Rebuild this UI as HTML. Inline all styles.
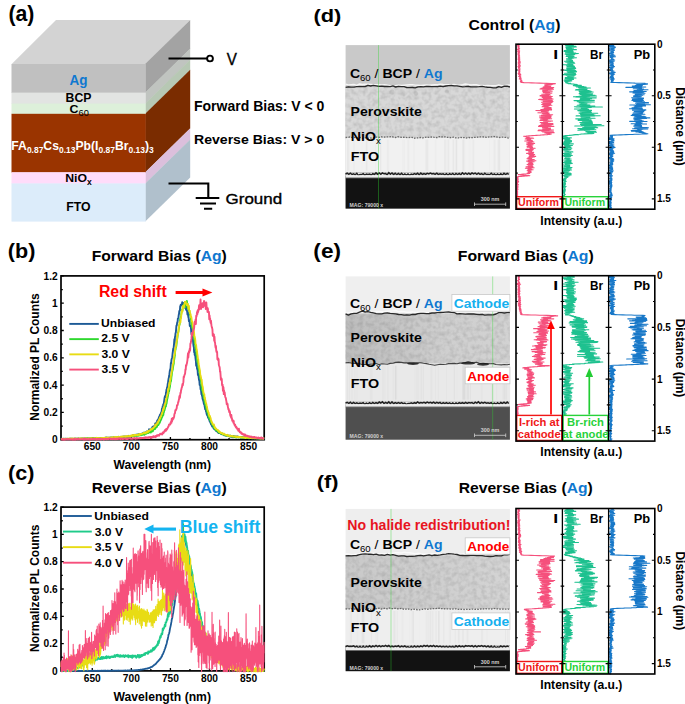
<!DOCTYPE html>
<html><head><meta charset="utf-8"><style>
html,body{margin:0;padding:0;background:#fff;overflow:hidden;}
svg{display:block;}
text{font-family:"Liberation Sans",sans-serif;}
</style></head><body>
<svg width="685" height="704" viewBox="0 0 685 704" font-family="Liberation Sans, sans-serif">
<defs><filter id="tex" x="0" y="0" width="1" height="1" filterUnits="objectBoundingBox"><feTurbulence type="fractalNoise" baseFrequency="0.22" numOctaves="2" seed="5"/><feColorMatrix type="matrix" values="0 0 0 0 0  0 0 0 0 0  0 0 0 0 0  0.22 0 0 0 -0.08"/></filter></defs>
<rect width="685" height="704" fill="#fff"/>
<polygon points="11.5,64.3 56.0,20 190.2,20 146.2,64.3" fill="#d3d3d3"/>
<polygon points="145.2,64 190.2,20 190.2,48.99999999999999 145.2,93.0" fill="#a3a3a3"/>
<polygon points="145.2,92.6 190.2,48.599999999999994 190.2,59.99999999999999 145.2,104.0" fill="#c0c4c0"/>
<polygon points="145.2,103.6 190.2,59.599999999999994 190.2,70.2 145.2,114.2" fill="#b7c8b4"/>
<polygon points="145.2,113.8 190.2,69.8 190.2,128.6 145.2,172.6" fill="#7a2c00"/>
<polygon points="145.2,172.2 190.2,128.2 190.2,139.8 145.2,183.8" fill="#dcbfdc"/>
<polygon points="145.2,183.4 190.2,139.4 190.2,177.6 145.2,221.6" fill="#b0c0cc"/>
<rect x="11.5" y="64" width="134.2" height="28.999999999999993" fill="#c0c0c0"/>
<rect x="11.5" y="92.6" width="134.2" height="11.4" fill="#e2e4e2"/>
<rect x="11.5" y="103.6" width="134.2" height="10.600000000000003" fill="#ddf0da"/>
<rect x="11.5" y="113.8" width="134.2" height="58.79999999999999" fill="#9a3400"/>
<rect x="11.5" y="172.2" width="134.2" height="11.600000000000017" fill="#ffdcfa"/>
<rect x="11.5" y="183.4" width="134.2" height="38.19999999999998" fill="#dcecfa"/>
<text x="69.60" y="85.00" font-size="14.49" font-weight="bold" fill="#0f78d0" textLength="17.99" lengthAdjust="spacingAndGlyphs" >Ag</text>
<text x="65.64" y="102.20" font-size="12.17" font-weight="bold" fill="#000" textLength="25.86" lengthAdjust="spacingAndGlyphs" >BCP</text>
<text x="69.6" y="113" font-size="11.8" font-weight="bold" transform="translate(69.6,0) scale(1.05,1) translate(-69.6,0)">C<tspan font-size="8.8" font-weight="normal" dy="2.6">60</tspan></text>
<text x="11.3" y="149.6" font-size="12.4" font-weight="bold" fill="#fff" transform="translate(11.3,0) scale(0.985,1) translate(-11.3,0)">FA<tspan font-size="8.6" dy="3">0.87</tspan><tspan dy="-3">Cs</tspan><tspan font-size="8.6" dy="3">0.13</tspan><tspan dy="-3">Pb(I</tspan><tspan font-size="8.6" dy="3">0.87</tspan><tspan dy="-3">Br</tspan><tspan font-size="8.6" dy="3">0.13</tspan><tspan dy="-3">)</tspan><tspan font-size="8.6" dy="3">3</tspan></text>
<text x="65.2" y="181.9" font-size="11.8" font-weight="bold" transform="translate(65.2,0) scale(1.04,1) translate(-65.2,0)">NiO<tspan font-size="8.2" dy="3">x</tspan></text>
<text x="66.14" y="211.00" font-size="12.32" font-weight="bold" fill="#000" textLength="24.37" lengthAdjust="spacingAndGlyphs" >FTO</text>
<path d="M168.5,58.5 H207.2" stroke="#000" stroke-width="2.1" fill="none"/>
<circle cx="210" cy="58.5" r="2.9" stroke="#000" stroke-width="1.9" fill="#fff"/>
<text x="226.75" y="64.70" font-size="16.81" font-weight="normal" fill="#000" textLength="10.16" lengthAdjust="spacingAndGlyphs" stroke="#000" stroke-width="0.4">V</text>
<text x="194.02" y="111.40" font-size="14.06" font-weight="bold" fill="#000" textLength="130.32" lengthAdjust="spacingAndGlyphs" >Forward Bias: V &lt; 0</text>
<text x="194.01" y="144.40" font-size="13.33" font-weight="bold" fill="#000" textLength="130.28" lengthAdjust="spacingAndGlyphs" >Reverse Bias: V &gt; 0</text>
<path d="M168.5,183.5 H208.3 V198" stroke="#000" stroke-width="2.1" fill="none" stroke-linejoin="miter"/>
<path d="M195.7,198 H219.3 M200,203.4 H216 M204,208.8 H212.2" stroke="#000" stroke-width="2" fill="none"/>
<text x="225.55" y="204.20" font-size="14.49" font-weight="normal" fill="#000" textLength="56.55" lengthAdjust="spacingAndGlyphs" stroke="#000" stroke-width="0.35">Ground</text>
<text x="8.44" y="20.95" font-size="21.18" font-weight="bold" fill="#000" textLength="25.97" lengthAdjust="spacingAndGlyphs" >(a)</text>
<text x="52.00" y="443.30" font-size="10.2" font-weight="bold">0</text>
<text x="43.53" y="416.00" font-size="10.2" font-weight="bold">0.2</text>
<text x="43.22" y="388.70" font-size="10.2" font-weight="bold">0.4</text>
<text x="43.53" y="361.40" font-size="10.2" font-weight="bold">0.6</text>
<text x="43.43" y="334.10" font-size="10.2" font-weight="bold">0.8</text>
<text x="51.89" y="306.80" font-size="10.2" font-weight="bold">1</text>
<text x="43.53" y="279.50" font-size="10.2" font-weight="bold">1.2</text>
<text x="92.26" y="450.30" font-size="10.2" font-weight="bold" text-anchor="middle">650</text>
<text x="131.34" y="450.30" font-size="10.2" font-weight="bold" text-anchor="middle">700</text>
<text x="170.42" y="450.30" font-size="10.2" font-weight="bold" text-anchor="middle">750</text>
<text x="209.49" y="450.30" font-size="10.2" font-weight="bold" text-anchor="middle">800</text>
<text x="248.57" y="450.30" font-size="10.2" font-weight="bold" text-anchor="middle">850</text>
<path d="M61,439.70 h2.8 M61,412.40 h2.8 M61,385.10 h2.8 M61,357.80 h2.8 M61,330.50 h2.8 M61,303.20 h2.8 M61,275.90 h2.8 M61,426.05 h1.8 M61,398.75 h1.8 M61,371.45 h1.8 M61,344.15 h1.8 M61,316.85 h1.8 M61,289.55 h1.8 M92.26,439.7 v-2.8 M131.34,439.7 v-2.8 M170.42,439.7 v-2.8 M209.49,439.7 v-2.8 M248.57,439.7 v-2.8 M72.72,439.7 v-1.8 M111.80,439.7 v-1.8 M150.88,439.7 v-1.8 M189.95,439.7 v-1.8 M229.03,439.7 v-1.8" stroke="#000" stroke-width="1.3" fill="none"/>
<rect x="61" y="275.9" width="203.2" height="163.8" fill="none" stroke="#000" stroke-width="1.7"/>
<polyline points="61.00,438.98 61.29,438.76 61.58,438.77 61.87,439.06 62.16,439.02 62.45,439.05 62.74,438.87 63.03,438.97 63.33,438.83 63.62,439.25 63.91,438.69 64.20,438.96 64.49,438.83 64.78,438.96 65.07,438.99 65.36,438.85 65.65,438.79 65.94,438.95 66.23,438.94 66.52,438.80 66.81,439.05 67.10,439.15 67.40,438.84 67.69,439.01 67.98,439.21 68.27,439.02 68.56,438.96 68.85,439.08 69.14,439.12 69.43,438.87 69.72,438.72 70.01,438.90 70.30,438.98 70.59,438.79 70.88,438.73 71.17,438.90 71.47,438.75 71.76,438.67 72.05,438.87 72.34,438.96 72.63,438.77 72.92,438.78 73.21,438.64 73.50,439.02 73.79,438.91 74.08,438.94 74.37,439.08 74.66,438.77 74.95,438.70 75.24,438.90 75.54,438.55 75.83,438.64 76.12,438.67 76.41,438.70 76.70,438.60 76.99,438.97 77.28,438.65 77.57,438.64 77.86,439.03 78.15,438.68 78.44,438.77 78.73,438.59 79.02,438.79 79.31,438.71 79.60,438.65 79.90,438.84 80.19,438.60 80.48,438.71 80.77,438.60 81.06,438.76 81.35,438.49 81.64,438.57 81.93,438.69 82.22,438.55 82.51,438.44 82.80,438.35 83.09,438.89 83.38,438.49 83.67,438.55 83.97,438.63 84.26,438.78 84.55,438.40 84.84,438.81 85.13,438.50 85.42,438.37 85.71,438.84 86.00,438.62 86.29,438.78 86.58,438.52 86.87,438.30 87.16,438.21 87.45,438.83 87.74,438.63 88.04,438.41 88.33,438.26 88.62,438.44 88.91,438.63 89.20,438.45 89.49,438.49 89.78,438.51 90.07,438.59 90.36,438.40 90.65,438.41 90.94,438.47 91.23,438.48 91.52,438.65 91.81,438.51 92.11,438.22 92.40,438.44 92.69,438.64 92.98,438.18 93.27,438.30 93.56,438.03 93.85,438.36 94.14,438.44 94.43,438.59 94.72,438.13 95.01,437.91 95.30,438.46 95.59,438.42 95.88,438.21 96.17,438.44 96.47,438.34 96.76,438.34 97.05,438.24 97.34,438.08 97.63,438.25 97.92,438.09 98.21,438.30 98.50,438.17 98.79,438.58 99.08,438.45 99.37,438.06 99.66,438.28 99.95,438.07 100.24,438.07 100.54,437.92 100.83,438.00 101.12,437.95 101.41,438.14 101.70,438.23 101.99,438.23 102.28,438.17 102.57,438.28 102.86,438.16 103.15,438.07 103.44,437.99 103.73,438.09 104.02,438.37 104.31,438.02 104.61,437.95 104.90,437.78 105.19,437.86 105.48,438.07 105.77,438.08 106.06,437.55 106.35,437.77 106.64,437.56 106.93,437.49 107.22,438.03 107.51,437.79 107.80,437.76 108.09,437.73 108.38,437.72 108.67,437.77 108.97,437.76 109.26,438.07 109.55,437.79 109.84,437.89 110.13,437.71 110.42,437.81 110.71,437.58 111.00,437.52 111.29,437.61 111.58,437.59 111.87,437.62 112.16,437.71 112.45,437.64 112.74,437.69 113.04,437.49 113.33,437.55 113.62,437.42 113.91,437.79 114.20,437.32 114.49,437.64 114.78,437.62 115.07,437.49 115.36,437.55 115.65,437.35 115.94,437.51 116.23,437.60 116.52,437.53 116.81,437.05 117.11,437.30 117.40,437.54 117.69,437.27 117.98,437.59 118.27,436.83 118.56,437.54 118.85,437.08 119.14,437.04 119.43,437.47 119.72,437.05 120.01,436.87 120.30,436.97 120.59,436.99 120.88,436.81 121.18,436.96 121.47,436.90 121.76,436.98 122.05,436.78 122.34,437.12 122.63,436.69 122.92,436.97 123.21,437.08 123.50,436.71 123.79,436.36 124.08,436.51 124.37,436.84 124.66,436.52 124.95,436.77 125.24,436.66 125.54,436.58 125.83,437.14 126.12,436.49 126.41,436.77 126.70,436.65 126.99,436.82 127.28,436.80 127.57,436.62 127.86,436.13 128.15,435.88 128.44,436.29 128.73,435.96 129.02,436.28 129.31,436.68 129.61,436.10 129.90,435.98 130.19,436.18 130.48,435.94 130.77,435.83 131.06,436.18 131.35,436.31 131.64,435.93 131.93,435.88 132.22,435.88 132.51,435.47 132.80,435.21 133.09,435.77 133.38,435.41 133.68,435.30 133.97,435.31 134.26,435.17 134.55,435.54 134.84,435.16 135.13,434.73 135.42,435.04 135.71,435.41 136.00,434.99 136.29,434.74 136.58,434.95 136.87,435.18 137.16,434.48 137.45,435.28 137.75,434.68 138.04,434.78 138.33,435.09 138.62,434.27 138.91,434.47 139.20,434.89 139.49,434.26 139.78,434.52 140.07,434.93 140.36,434.47 140.65,434.08 140.94,433.88 141.23,433.96 141.52,433.92 141.81,433.70 142.11,433.85 142.40,433.29 142.69,433.55 142.98,433.41 143.27,433.23 143.56,433.70 143.85,433.48 144.14,432.58 144.43,432.90 144.72,433.02 145.01,432.68 145.30,432.87 145.59,432.47 145.88,432.70 146.18,432.22 146.47,432.80 146.76,431.55 147.05,432.13 147.34,432.41 147.63,431.72 147.92,431.63 148.21,431.26 148.50,431.62 148.79,430.82 149.08,429.29 149.37,431.16 149.66,430.29 149.95,430.36 150.25,429.94 150.54,430.61 150.83,430.10 151.12,429.14 151.41,429.13 151.70,428.10 151.99,428.93 152.28,428.24 152.57,426.65 152.86,428.12 153.15,427.88 153.44,427.14 153.73,426.81 154.02,426.01 154.32,426.01 154.61,426.10 154.90,425.20 155.19,423.49 155.48,423.79 155.77,425.59 156.06,423.67 156.35,423.62 156.64,422.26 156.93,422.21 157.22,420.42 157.51,420.46 157.80,419.90 158.09,419.73 158.38,419.25 158.68,418.36 158.97,417.07 159.26,416.87 159.55,416.74 159.84,414.89 160.13,414.86 160.42,414.25 160.71,413.94 161.00,412.94 161.29,412.11 161.58,412.84 161.87,409.01 162.16,408.38 162.45,407.99 162.75,405.95 163.04,405.37 163.33,404.32 163.62,405.59 163.91,402.54 164.20,400.69 164.49,398.50 164.78,397.02 165.07,396.08 165.36,397.13 165.65,396.76 165.94,392.76 166.23,391.85 166.52,389.48 166.82,389.06 167.11,387.19 167.40,387.40 167.69,383.81 167.98,383.13 168.27,380.64 168.56,378.84 168.85,377.76 169.14,375.55 169.43,374.16 169.72,371.48 170.01,369.96 170.30,369.36 170.59,367.56 170.88,362.87 171.18,363.21 171.47,359.93 171.76,358.74 172.05,358.01 172.34,356.30 172.63,353.21 172.92,351.05 173.21,348.59 173.50,349.13 173.79,346.25 174.08,343.59 174.37,339.26 174.66,342.83 174.95,336.94 175.25,336.39 175.54,333.08 175.83,332.51 176.12,329.39 176.41,325.76 176.70,325.74 176.99,323.84 177.28,322.19 177.57,322.22 177.86,318.60 178.15,318.17 178.44,317.59 178.73,314.93 179.02,313.83 179.32,310.96 179.61,310.98 179.90,310.59 180.19,306.33 180.48,306.09 180.77,304.73 181.06,304.99 181.35,305.44 181.64,305.34 181.93,304.61 182.22,302.21 182.51,303.28 182.80,305.71 183.09,303.27 183.39,305.55 183.68,303.07 183.97,305.51 184.26,305.89 184.55,304.00 184.84,304.77 185.13,307.88 185.42,304.58 185.71,302.99 186.00,309.65 186.29,305.18 186.58,310.13 186.87,310.81 187.16,311.37 187.45,314.50 187.75,311.35 188.04,313.88 188.33,317.13 188.62,317.75 188.91,321.07 189.20,320.73 189.49,320.28 189.78,325.85 190.07,325.50 190.36,326.25 190.65,326.58 190.94,327.84 191.23,332.21 191.52,334.36 191.82,334.41 192.11,337.36 192.40,339.08 192.69,338.96 192.98,339.96 193.27,343.78 193.56,346.25 193.85,347.08 194.14,352.22 194.43,351.59 194.72,354.80 195.01,352.20 195.30,356.21 195.59,358.79 195.89,361.05 196.18,365.73 196.47,363.58 196.76,364.29 197.05,368.89 197.34,369.00 197.63,370.71 197.92,375.05 198.21,373.94 198.50,375.18 198.79,378.11 199.08,380.07 199.37,380.78 199.66,384.85 199.96,384.70 200.25,385.27 200.54,389.12 200.83,388.37 201.12,391.23 201.41,394.27 201.70,393.77 201.99,395.96 202.28,396.10 202.57,398.79 202.86,398.07 203.15,400.92 203.44,401.20 203.73,403.21 204.02,404.15 204.32,404.04 204.61,405.96 204.90,407.53 205.19,409.25 205.48,408.40 205.77,409.73 206.06,411.50 206.35,412.01 206.64,413.85 206.93,414.71 207.22,415.42 207.51,415.43 207.80,416.27 208.09,417.75 208.39,417.52 208.68,418.22 208.97,419.32 209.26,419.46 209.55,420.94 209.84,421.46 210.13,421.72 210.42,422.61 210.71,422.70 211.00,424.40 211.29,423.44 211.58,425.16 211.87,425.31 212.16,426.41 212.46,425.83 212.75,425.92 213.04,426.45 213.33,426.97 213.62,428.52 213.91,428.51 214.20,428.71 214.49,429.26 214.78,428.64 215.07,429.38 215.36,429.78 215.65,429.84 215.94,430.74 216.23,430.98 216.53,431.22 216.82,430.89 217.11,431.18 217.40,431.31 217.69,431.33 217.98,432.49 218.27,432.38 218.56,432.29 218.85,433.04 219.14,432.90 219.43,432.50 219.72,432.63 220.01,432.80 220.30,433.31 220.59,433.54 220.89,433.23 221.18,433.86 221.47,433.75 221.76,433.53 222.05,434.22 222.34,434.41 222.63,434.31 222.92,434.22 223.21,434.36 223.50,434.56 223.79,434.52 224.08,435.28 224.37,435.14 224.66,434.90 224.96,435.31 225.25,435.51 225.54,435.54 225.83,435.53 226.12,435.38 226.41,435.69 226.70,435.39 226.99,435.03 227.28,435.62 227.57,435.28 227.86,435.62 228.15,436.06 228.44,435.88 228.73,436.13 229.03,435.70 229.32,436.27 229.61,435.65 229.90,435.90 230.19,436.64 230.48,435.94 230.77,435.78 231.06,436.44 231.35,436.02 231.64,436.78 231.93,436.29 232.22,436.82 232.51,436.31 232.80,436.92 233.09,437.17 233.39,436.45 233.68,436.01 233.97,436.76 234.26,436.45 234.55,436.65 234.84,436.79 235.13,436.60 235.42,436.38 235.71,437.10 236.00,436.71 236.29,436.79 236.58,437.23 236.87,436.55 237.16,436.50 237.46,437.20 237.75,436.61 238.04,437.03 238.33,437.10 238.62,436.75 238.91,437.07 239.20,437.07 239.49,436.83 239.78,436.91 240.07,437.02 240.36,437.55 240.65,437.61 240.94,437.04 241.23,437.51 241.53,437.30 241.82,437.58 242.11,437.41 242.40,437.67 242.69,437.07 242.98,437.65 243.27,437.49 243.56,437.52 243.85,437.25 244.14,437.81 244.43,437.55 244.72,437.60 245.01,437.47 245.30,437.50 245.60,437.71 245.89,437.59 246.18,437.73 246.47,437.58 246.76,437.71 247.05,437.83 247.34,437.73 247.63,437.67 247.92,437.31 248.21,437.87 248.50,437.73 248.79,437.52 249.08,438.22 249.37,438.17 249.66,438.08 249.96,437.89 250.25,437.42 250.54,437.82 250.83,437.69 251.12,437.97 251.41,438.40 251.70,438.38 251.99,437.78 252.28,437.95 252.57,438.23 252.86,437.81 253.15,438.30 253.44,437.83 253.73,437.79 254.03,438.20 254.32,438.27 254.61,437.94 254.90,438.30 255.19,437.96 255.48,438.34 255.77,438.00 256.06,438.13 256.35,438.24 256.64,438.33 256.93,438.14 257.22,438.52 257.51,438.26 257.80,438.29 258.10,438.12 258.39,438.45 258.68,437.96 258.97,438.32 259.26,438.46 259.55,438.05 259.84,438.02 260.13,438.34 260.42,438.46 260.71,438.32 261.00,438.45 261.29,438.40 261.58,438.10 261.87,438.30 262.17,438.35 262.46,438.33 262.75,438.40 263.04,438.26 263.33,438.27 263.62,438.48 263.91,438.41 264.20,438.04" stroke="#1d5a96" stroke-width="1.9" fill="none" stroke-linejoin="round" opacity="1"/>
<polyline points="61.00,438.98 61.29,439.06 61.58,438.75 61.87,439.03 62.16,439.18 62.45,438.93 62.74,439.14 63.03,439.09 63.33,438.97 63.62,439.03 63.91,439.11 64.20,439.08 64.49,439.08 64.78,438.84 65.07,439.09 65.36,439.07 65.65,438.71 65.94,439.06 66.23,438.78 66.52,438.80 66.81,438.99 67.10,439.16 67.40,438.90 67.69,438.87 67.98,438.83 68.27,438.95 68.56,438.79 68.85,438.76 69.14,439.09 69.43,438.75 69.72,438.91 70.01,439.01 70.30,438.97 70.59,438.67 70.88,438.79 71.17,439.16 71.47,438.90 71.76,438.93 72.05,438.93 72.34,438.97 72.63,439.10 72.92,438.78 73.21,439.02 73.50,438.94 73.79,438.96 74.08,438.98 74.37,438.77 74.66,438.82 74.95,438.96 75.24,438.99 75.54,438.92 75.83,438.72 76.12,438.83 76.41,438.81 76.70,438.88 76.99,438.87 77.28,438.80 77.57,439.08 77.86,438.60 78.15,438.92 78.44,438.89 78.73,438.62 79.02,438.77 79.31,438.79 79.60,438.87 79.90,439.00 80.19,438.76 80.48,438.61 80.77,438.89 81.06,438.58 81.35,438.91 81.64,438.86 81.93,438.68 82.22,438.74 82.51,438.64 82.80,438.83 83.09,438.87 83.38,438.98 83.67,438.88 83.97,438.86 84.26,438.90 84.55,438.66 84.84,438.79 85.13,438.96 85.42,438.34 85.71,438.79 86.00,438.84 86.29,438.50 86.58,438.50 86.87,438.81 87.16,438.85 87.45,438.78 87.74,438.48 88.04,438.67 88.33,438.73 88.62,438.62 88.91,438.45 89.20,438.79 89.49,438.65 89.78,438.78 90.07,438.29 90.36,438.33 90.65,438.44 90.94,438.58 91.23,438.47 91.52,438.84 91.81,438.50 92.11,438.72 92.40,438.71 92.69,438.62 92.98,438.56 93.27,438.43 93.56,438.40 93.85,438.46 94.14,438.61 94.43,438.38 94.72,438.48 95.01,438.30 95.30,438.58 95.59,438.82 95.88,438.50 96.17,438.14 96.47,438.36 96.76,438.44 97.05,438.28 97.34,438.33 97.63,438.32 97.92,438.45 98.21,438.36 98.50,438.33 98.79,438.44 99.08,438.50 99.37,438.32 99.66,438.19 99.95,438.23 100.24,438.24 100.54,438.23 100.83,437.93 101.12,438.24 101.41,438.12 101.70,437.99 101.99,438.24 102.28,438.20 102.57,438.08 102.86,437.98 103.15,438.16 103.44,438.15 103.73,438.18 104.02,438.35 104.31,438.01 104.61,438.19 104.90,438.40 105.19,438.16 105.48,438.38 105.77,438.26 106.06,438.10 106.35,438.23 106.64,437.92 106.93,438.29 107.22,438.01 107.51,437.96 107.80,437.81 108.09,437.88 108.38,437.97 108.67,437.98 108.97,437.99 109.26,437.79 109.55,438.06 109.84,437.86 110.13,437.94 110.42,437.88 110.71,437.94 111.00,437.55 111.29,437.98 111.58,437.82 111.87,437.80 112.16,437.73 112.45,437.74 112.74,437.73 113.04,437.63 113.33,438.02 113.62,437.75 113.91,437.94 114.20,437.69 114.49,437.90 114.78,437.85 115.07,437.69 115.36,437.43 115.65,437.55 115.94,437.58 116.23,437.37 116.52,437.75 116.81,437.93 117.11,437.63 117.40,437.59 117.69,437.31 117.98,437.14 118.27,437.72 118.56,437.04 118.85,437.18 119.14,437.28 119.43,437.35 119.72,436.96 120.01,437.36 120.30,437.44 120.59,437.31 120.88,437.56 121.18,437.21 121.47,437.29 121.76,437.19 122.05,437.16 122.34,437.40 122.63,436.94 122.92,437.35 123.21,436.97 123.50,437.41 123.79,437.02 124.08,437.22 124.37,437.03 124.66,437.14 124.95,437.41 125.24,437.18 125.54,436.93 125.83,436.80 126.12,437.18 126.41,437.28 126.70,437.01 126.99,436.85 127.28,436.91 127.57,436.92 127.86,436.56 128.15,436.50 128.44,436.52 128.73,436.83 129.02,436.59 129.31,436.62 129.61,436.84 129.90,436.33 130.19,436.47 130.48,436.55 130.77,436.12 131.06,436.22 131.35,436.17 131.64,436.06 131.93,436.13 132.22,436.52 132.51,436.30 132.80,435.96 133.09,436.31 133.38,436.09 133.68,435.97 133.97,435.70 134.26,435.69 134.55,435.74 134.84,435.95 135.13,435.65 135.42,435.70 135.71,435.81 136.00,435.42 136.29,435.57 136.58,435.82 136.87,435.30 137.16,435.61 137.45,435.36 137.75,435.82 138.04,435.41 138.33,435.59 138.62,435.54 138.91,435.72 139.20,434.67 139.49,435.18 139.78,435.03 140.07,434.76 140.36,435.01 140.65,434.79 140.94,435.21 141.23,434.75 141.52,434.84 141.81,434.54 142.11,434.56 142.40,434.91 142.69,434.97 142.98,434.68 143.27,434.13 143.56,434.14 143.85,434.07 144.14,434.67 144.43,434.78 144.72,434.12 145.01,433.96 145.30,433.95 145.59,433.59 145.88,433.66 146.18,433.86 146.47,433.68 146.76,433.28 147.05,433.20 147.34,433.14 147.63,432.33 147.92,432.98 148.21,432.75 148.50,432.98 148.79,432.67 149.08,432.26 149.37,432.12 149.66,432.22 149.95,431.90 150.25,431.87 150.54,432.36 150.83,432.67 151.12,430.65 151.41,430.98 151.70,431.11 151.99,431.51 152.28,431.17 152.57,430.05 152.86,431.33 153.15,430.24 153.44,429.59 153.73,429.63 154.02,429.16 154.32,429.25 154.61,428.03 154.90,429.08 155.19,428.94 155.48,428.01 155.77,427.25 156.06,427.53 156.35,426.75 156.64,427.07 156.93,427.00 157.22,425.53 157.51,425.06 157.80,424.67 158.09,425.13 158.38,425.03 158.68,424.59 158.97,423.69 159.26,422.82 159.55,422.35 159.84,422.77 160.13,421.42 160.42,420.94 160.71,420.31 161.00,419.75 161.29,419.21 161.58,418.11 161.87,417.68 162.16,416.90 162.45,416.68 162.75,415.29 163.04,414.79 163.33,415.15 163.62,412.75 163.91,412.32 164.20,410.66 164.49,410.40 164.78,409.38 165.07,408.17 165.36,407.28 165.65,406.50 165.94,406.32 166.23,402.66 166.52,403.89 166.82,401.81 167.11,399.84 167.40,398.76 167.69,397.30 167.98,395.79 168.27,394.01 168.56,393.34 168.85,389.78 169.14,391.47 169.43,388.93 169.72,387.87 170.01,386.44 170.30,384.11 170.59,381.42 170.88,381.65 171.18,379.95 171.47,376.89 171.76,375.27 172.05,372.12 172.34,371.16 172.63,370.06 172.92,368.73 173.21,366.28 173.50,364.75 173.79,364.02 174.08,360.65 174.37,358.86 174.66,356.93 174.95,355.14 175.25,350.81 175.54,349.86 175.83,347.56 176.12,347.26 176.41,345.70 176.70,342.84 176.99,340.21 177.28,338.89 177.57,336.71 177.86,333.36 178.15,332.19 178.44,331.82 178.73,329.25 179.02,327.67 179.32,324.80 179.61,324.71 179.90,321.72 180.19,318.92 180.48,318.13 180.77,317.78 181.06,315.90 181.35,313.49 181.64,311.66 181.93,309.91 182.22,310.01 182.51,310.47 182.80,305.78 183.09,306.37 183.39,305.40 183.68,304.81 183.97,306.02 184.26,304.54 184.55,303.36 184.84,302.02 185.13,303.18 185.42,307.46 185.71,303.58 186.00,302.91 186.29,301.87 186.58,302.99 186.87,301.00 187.16,302.97 187.45,303.69 187.75,304.94 188.04,308.85 188.33,306.72 188.62,308.01 188.91,310.54 189.20,310.16 189.49,311.57 189.78,313.98 190.07,314.84 190.36,316.40 190.65,317.19 190.94,319.53 191.23,319.84 191.52,324.56 191.82,324.12 192.11,327.56 192.40,327.78 192.69,328.31 192.98,330.71 193.27,332.69 193.56,334.32 193.85,334.41 194.14,339.47 194.43,339.05 194.72,343.75 195.01,344.47 195.30,345.70 195.59,348.79 195.89,349.56 196.18,350.94 196.47,354.99 196.76,355.73 197.05,357.99 197.34,361.55 197.63,361.64 197.92,364.18 198.21,363.91 198.50,368.02 198.79,367.34 199.08,371.38 199.37,370.84 199.66,373.99 199.96,375.86 200.25,377.30 200.54,378.96 200.83,380.24 201.12,381.65 201.41,385.12 201.70,387.51 201.99,390.29 202.28,389.93 202.57,390.52 202.86,392.34 203.15,394.03 203.44,395.83 203.73,397.45 204.02,398.55 204.32,399.39 204.61,402.27 204.90,401.74 205.19,404.53 205.48,404.83 205.77,406.32 206.06,407.28 206.35,408.84 206.64,409.97 206.93,410.42 207.22,411.97 207.51,410.77 207.80,413.48 208.09,414.54 208.39,415.37 208.68,416.52 208.97,418.12 209.26,417.70 209.55,418.17 209.84,419.88 210.13,419.81 210.42,421.13 210.71,421.20 211.00,421.65 211.29,422.22 211.58,422.84 211.87,423.96 212.16,423.78 212.46,424.92 212.75,425.07 213.04,425.41 213.33,426.32 213.62,427.18 213.91,426.82 214.20,427.95 214.49,428.25 214.78,428.71 215.07,428.31 215.36,429.05 215.65,430.17 215.94,429.37 216.23,429.20 216.53,429.60 216.82,430.73 217.11,430.77 217.40,430.88 217.69,431.00 217.98,431.52 218.27,432.12 218.56,431.73 218.85,431.98 219.14,432.80 219.43,432.68 219.72,432.66 220.01,432.92 220.30,432.93 220.59,433.01 220.89,433.24 221.18,433.57 221.47,434.07 221.76,433.64 222.05,433.55 222.34,433.52 222.63,434.19 222.92,434.30 223.21,434.01 223.50,434.12 223.79,434.52 224.08,434.52 224.37,434.99 224.66,434.73 224.96,435.18 225.25,435.09 225.54,435.16 225.83,435.33 226.12,435.80 226.41,435.56 226.70,435.34 226.99,435.51 227.28,435.65 227.57,435.52 227.86,435.52 228.15,435.54 228.44,435.98 228.73,435.85 229.03,435.98 229.32,436.16 229.61,436.35 229.90,436.08 230.19,436.30 230.48,435.68 230.77,436.22 231.06,436.30 231.35,436.38 231.64,435.93 231.93,436.58 232.22,436.45 232.51,436.62 232.80,436.52 233.09,436.54 233.39,436.34 233.68,436.90 233.97,436.65 234.26,436.35 234.55,436.82 234.84,436.78 235.13,436.96 235.42,437.33 235.71,436.86 236.00,436.64 236.29,437.00 236.58,437.30 236.87,436.91 237.16,436.98 237.46,436.83 237.75,436.88 238.04,437.13 238.33,437.03 238.62,437.47 238.91,436.95 239.20,437.15 239.49,437.01 239.78,437.04 240.07,437.31 240.36,437.31 240.65,437.47 240.94,437.71 241.23,437.38 241.53,437.35 241.82,437.60 242.11,437.30 242.40,437.43 242.69,437.39 242.98,437.62 243.27,437.82 243.56,437.40 243.85,437.45 244.14,437.59 244.43,437.66 244.72,437.66 245.01,437.65 245.30,437.74 245.60,438.00 245.89,437.56 246.18,437.95 246.47,437.78 246.76,437.79 247.05,437.72 247.34,438.04 247.63,437.60 247.92,437.71 248.21,437.70 248.50,437.64 248.79,437.99 249.08,438.37 249.37,437.84 249.66,437.70 249.96,437.74 250.25,438.02 250.54,437.97 250.83,437.92 251.12,438.26 251.41,438.10 251.70,438.11 251.99,437.78 252.28,438.14 252.57,437.82 252.86,438.06 253.15,438.33 253.44,437.76 253.73,438.25 254.03,438.03 254.32,437.88 254.61,438.22 254.90,438.33 255.19,438.02 255.48,438.17 255.77,438.37 256.06,438.36 256.35,438.27 256.64,438.09 256.93,438.28 257.22,438.16 257.51,438.03 257.80,438.10 258.10,438.08 258.39,438.12 258.68,438.53 258.97,438.15 259.26,438.28 259.55,438.35 259.84,438.50 260.13,438.57 260.42,438.52 260.71,438.38 261.00,438.55 261.29,438.51 261.58,438.49 261.87,438.33 262.17,438.47 262.46,438.45 262.75,438.26 263.04,438.50 263.33,438.38 263.62,438.62 263.91,438.43 264.20,438.47" stroke="#2ed82e" stroke-width="1.8" fill="none" stroke-linejoin="round" opacity="1"/>
<polyline points="61.00,438.88 61.29,438.97 61.58,439.04 61.87,438.94 62.16,438.96 62.45,438.75 62.74,438.76 63.03,439.04 63.33,438.79 63.62,438.94 63.91,438.81 64.20,438.93 64.49,439.06 64.78,438.72 65.07,438.79 65.36,439.02 65.65,439.10 65.94,438.91 66.23,439.00 66.52,438.88 66.81,438.74 67.10,438.62 67.40,438.87 67.69,438.63 67.98,438.65 68.27,438.87 68.56,439.03 68.85,438.68 69.14,438.71 69.43,438.47 69.72,438.59 70.01,438.67 70.30,438.55 70.59,438.91 70.88,438.74 71.17,438.80 71.47,438.52 71.76,438.68 72.05,439.17 72.34,438.56 72.63,438.86 72.92,438.63 73.21,438.79 73.50,438.69 73.79,438.63 74.08,438.69 74.37,438.84 74.66,438.51 74.95,438.64 75.24,438.69 75.54,438.59 75.83,438.75 76.12,438.42 76.41,438.64 76.70,438.61 76.99,438.61 77.28,438.78 77.57,438.81 77.86,438.61 78.15,438.59 78.44,438.45 78.73,438.56 79.02,438.77 79.31,438.54 79.60,438.50 79.90,438.47 80.19,438.55 80.48,438.76 80.77,438.43 81.06,438.68 81.35,438.49 81.64,438.78 81.93,438.46 82.22,438.66 82.51,438.40 82.80,438.30 83.09,438.37 83.38,438.69 83.67,438.65 83.97,438.63 84.26,438.42 84.55,438.45 84.84,438.47 85.13,438.45 85.42,438.40 85.71,438.39 86.00,438.24 86.29,438.47 86.58,438.43 86.87,438.70 87.16,438.62 87.45,438.53 87.74,438.59 88.04,438.39 88.33,438.27 88.62,438.46 88.91,438.46 89.20,438.46 89.49,438.36 89.78,438.45 90.07,438.31 90.36,438.32 90.65,438.30 90.94,438.24 91.23,438.33 91.52,438.30 91.81,438.07 92.11,438.31 92.40,438.19 92.69,438.28 92.98,438.35 93.27,438.34 93.56,438.38 93.85,438.26 94.14,438.33 94.43,438.30 94.72,438.06 95.01,438.24 95.30,438.05 95.59,438.16 95.88,438.07 96.17,438.27 96.47,438.15 96.76,437.78 97.05,438.03 97.34,438.00 97.63,438.10 97.92,438.00 98.21,438.29 98.50,438.23 98.79,438.03 99.08,437.96 99.37,438.13 99.66,438.09 99.95,438.11 100.24,438.07 100.54,438.21 100.83,438.24 101.12,438.02 101.41,438.26 101.70,438.13 101.99,438.07 102.28,438.12 102.57,437.91 102.86,438.01 103.15,437.94 103.44,438.07 103.73,438.02 104.02,437.81 104.31,437.82 104.61,437.94 104.90,437.80 105.19,437.81 105.48,437.80 105.77,437.56 106.06,437.87 106.35,437.72 106.64,437.71 106.93,437.80 107.22,437.94 107.51,437.62 107.80,437.68 108.09,437.70 108.38,437.69 108.67,437.67 108.97,437.81 109.26,437.60 109.55,437.94 109.84,437.62 110.13,437.86 110.42,437.65 110.71,437.45 111.00,437.60 111.29,437.62 111.58,437.43 111.87,437.55 112.16,437.56 112.45,437.54 112.74,437.19 113.04,437.32 113.33,437.34 113.62,437.62 113.91,437.28 114.20,437.60 114.49,437.26 114.78,437.53 115.07,436.96 115.36,437.60 115.65,437.05 115.94,437.11 116.23,437.56 116.52,437.26 116.81,436.93 117.11,436.97 117.40,437.47 117.69,437.23 117.98,437.34 118.27,437.29 118.56,437.19 118.85,436.70 119.14,437.00 119.43,437.05 119.72,437.05 120.01,436.83 120.30,436.80 120.59,437.09 120.88,436.60 121.18,437.08 121.47,436.90 121.76,436.73 122.05,436.45 122.34,436.84 122.63,436.68 122.92,436.45 123.21,436.56 123.50,436.43 123.79,436.42 124.08,436.55 124.37,436.45 124.66,436.36 124.95,436.53 125.24,436.16 125.54,436.88 125.83,436.63 126.12,436.10 126.41,436.28 126.70,436.48 126.99,436.23 127.28,436.04 127.57,436.37 127.86,436.05 128.15,436.21 128.44,436.17 128.73,436.13 129.02,435.83 129.31,436.29 129.61,436.09 129.90,435.82 130.19,436.21 130.48,436.26 130.77,435.73 131.06,435.82 131.35,435.81 131.64,435.71 131.93,435.93 132.22,434.97 132.51,435.85 132.80,435.68 133.09,435.87 133.38,435.59 133.68,435.08 133.97,435.40 134.26,435.21 134.55,435.43 134.84,434.81 135.13,435.17 135.42,435.47 135.71,434.92 136.00,435.16 136.29,434.86 136.58,434.92 136.87,434.84 137.16,434.81 137.45,435.03 137.75,435.13 138.04,434.42 138.33,434.66 138.62,434.48 138.91,434.62 139.20,434.98 139.49,434.72 139.78,433.93 140.07,434.45 140.36,434.28 140.65,434.51 140.94,434.18 141.23,434.06 141.52,433.94 141.81,433.83 142.11,433.91 142.40,433.81 142.69,433.57 142.98,433.38 143.27,433.43 143.56,432.79 143.85,433.15 144.14,433.07 144.43,433.22 144.72,432.61 145.01,433.13 145.30,433.21 145.59,432.91 145.88,432.30 146.18,432.74 146.47,431.84 146.76,432.14 147.05,432.50 147.34,431.95 147.63,431.15 147.92,431.89 148.21,431.90 148.50,431.13 148.79,430.71 149.08,430.64 149.37,430.94 149.66,430.59 149.95,430.36 150.25,429.88 150.54,429.33 150.83,429.95 151.12,429.22 151.41,429.62 151.70,429.05 151.99,429.40 152.28,429.10 152.57,428.40 152.86,428.66 153.15,427.69 153.44,427.99 153.73,427.45 154.02,427.22 154.32,427.02 154.61,426.51 154.90,425.77 155.19,424.54 155.48,426.06 155.77,425.03 156.06,424.86 156.35,424.80 156.64,423.84 156.93,423.96 157.22,423.14 157.51,422.04 157.80,423.16 158.09,421.55 158.38,420.94 158.68,421.12 158.97,419.81 159.26,419.33 159.55,419.11 159.84,417.67 160.13,418.41 160.42,416.68 160.71,416.50 161.00,416.28 161.29,415.06 161.58,414.42 161.87,412.96 162.16,413.57 162.45,411.97 162.75,411.30 163.04,409.15 163.33,409.98 163.62,407.65 163.91,408.56 164.20,406.19 164.49,405.52 164.78,404.14 165.07,403.85 165.36,403.67 165.65,402.29 165.94,399.06 166.23,398.70 166.52,398.32 166.82,395.75 167.11,395.78 167.40,394.50 167.69,393.58 167.98,390.31 168.27,388.29 168.56,389.32 168.85,386.85 169.14,384.81 169.43,382.33 169.72,384.79 170.01,381.02 170.30,379.00 170.59,379.37 170.88,376.03 171.18,374.60 171.47,372.44 171.76,372.03 172.05,369.36 172.34,368.66 172.63,365.72 172.92,364.42 173.21,363.20 173.50,362.51 173.79,357.52 174.08,356.26 174.37,354.68 174.66,354.52 174.95,352.35 175.25,348.28 175.54,347.45 175.83,347.41 176.12,344.55 176.41,342.60 176.70,341.16 176.99,340.21 177.28,335.81 177.57,334.79 177.86,333.95 178.15,333.85 178.44,330.91 178.73,328.49 179.02,325.71 179.32,325.59 179.61,322.11 179.90,321.74 180.19,321.33 180.48,322.47 180.77,318.95 181.06,317.97 181.35,314.89 181.64,312.97 181.93,310.35 182.22,311.05 182.51,311.49 182.80,305.79 183.09,307.58 183.39,307.49 183.68,306.71 183.97,307.50 184.26,304.19 184.55,304.03 184.84,301.94 185.13,302.26 185.42,302.33 185.71,301.64 186.00,303.68 186.29,303.93 186.58,303.52 186.87,305.37 187.16,304.17 187.45,304.83 187.75,303.96 188.04,305.47 188.33,308.70 188.62,306.83 188.91,305.81 189.20,311.08 189.49,310.63 189.78,310.66 190.07,313.58 190.36,313.76 190.65,314.24 190.94,317.37 191.23,316.67 191.52,317.98 191.82,321.63 192.11,321.54 192.40,321.81 192.69,325.05 192.98,325.97 193.27,327.44 193.56,330.28 193.85,330.59 194.14,333.14 194.43,336.62 194.72,336.68 195.01,338.16 195.30,340.14 195.59,343.72 195.89,344.37 196.18,345.27 196.47,348.49 196.76,349.37 197.05,351.19 197.34,354.57 197.63,355.75 197.92,358.68 198.21,359.17 198.50,362.28 198.79,364.63 199.08,365.97 199.37,367.87 199.66,369.26 199.96,371.01 200.25,374.37 200.54,375.65 200.83,376.46 201.12,378.09 201.41,380.16 201.70,379.58 201.99,382.59 202.28,385.27 202.57,386.18 202.86,387.25 203.15,389.61 203.44,392.84 203.73,392.82 204.02,394.31 204.32,394.12 204.61,398.55 204.90,397.35 205.19,399.94 205.48,400.44 205.77,402.58 206.06,403.48 206.35,404.01 206.64,405.90 206.93,406.38 207.22,408.23 207.51,409.51 207.80,410.42 208.09,411.60 208.39,412.33 208.68,412.38 208.97,414.81 209.26,415.96 209.55,415.86 209.84,415.74 210.13,416.90 210.42,417.54 210.71,418.33 211.00,420.10 211.29,420.35 211.58,422.42 211.87,422.02 212.16,422.04 212.46,423.68 212.75,424.48 213.04,424.66 213.33,424.49 213.62,424.58 213.91,424.46 214.20,425.45 214.49,427.16 214.78,427.91 215.07,427.30 215.36,427.33 215.65,428.78 215.94,428.71 216.23,429.03 216.53,429.18 216.82,429.58 217.11,429.63 217.40,429.74 217.69,430.38 217.98,430.41 218.27,430.24 218.56,431.53 218.85,431.77 219.14,431.47 219.43,431.25 219.72,432.01 220.01,431.92 220.30,432.55 220.59,432.35 220.89,433.00 221.18,432.77 221.47,433.02 221.76,433.17 222.05,433.04 222.34,433.27 222.63,433.88 222.92,433.59 223.21,434.44 223.50,433.81 223.79,433.45 224.08,434.16 224.37,434.28 224.66,434.50 224.96,434.39 225.25,434.82 225.54,434.62 225.83,434.95 226.12,435.07 226.41,435.01 226.70,435.14 226.99,435.63 227.28,434.76 227.57,435.31 227.86,435.82 228.15,435.22 228.44,435.54 228.73,435.55 229.03,435.49 229.32,435.93 229.61,436.45 229.90,435.85 230.19,435.83 230.48,435.71 230.77,436.16 231.06,436.09 231.35,435.99 231.64,436.20 231.93,436.23 232.22,436.16 232.51,436.48 232.80,435.97 233.09,436.54 233.39,436.38 233.68,436.50 233.97,436.61 234.26,436.39 234.55,436.33 234.84,436.28 235.13,436.49 235.42,436.74 235.71,436.51 236.00,437.01 236.29,436.74 236.58,436.68 236.87,436.70 237.16,437.07 237.46,437.17 237.75,436.58 238.04,437.04 238.33,437.28 238.62,437.23 238.91,437.02 239.20,436.83 239.49,437.08 239.78,436.88 240.07,437.09 240.36,437.07 240.65,437.00 240.94,437.28 241.23,437.18 241.53,437.33 241.82,437.40 242.11,437.19 242.40,437.48 242.69,437.34 242.98,437.52 243.27,437.41 243.56,437.51 243.85,437.25 244.14,437.45 244.43,437.47 244.72,437.22 245.01,438.03 245.30,437.74 245.60,438.04 245.89,437.59 246.18,437.54 246.47,437.52 246.76,437.60 247.05,437.81 247.34,437.40 247.63,437.65 247.92,437.76 248.21,437.92 248.50,437.69 248.79,437.85 249.08,437.86 249.37,437.78 249.66,437.79 249.96,437.97 250.25,437.66 250.54,438.03 250.83,438.07 251.12,437.86 251.41,437.90 251.70,437.93 251.99,438.01 252.28,437.96 252.57,438.07 252.86,438.25 253.15,437.90 253.44,438.18 253.73,438.07 254.03,437.94 254.32,438.06 254.61,437.67 254.90,438.30 255.19,438.21 255.48,438.10 255.77,437.93 256.06,438.18 256.35,438.36 256.64,438.00 256.93,438.31 257.22,438.22 257.51,438.08 257.80,438.31 258.10,438.29 258.39,438.17 258.68,438.28 258.97,438.22 259.26,438.40 259.55,438.30 259.84,438.44 260.13,438.52 260.42,438.07 260.71,438.26 261.00,438.21 261.29,438.48 261.58,438.36 261.87,438.39 262.17,438.57 262.46,438.31 262.75,438.49 263.04,438.43 263.33,438.62 263.62,438.29 263.91,438.33 264.20,438.39" stroke="#e8dc14" stroke-width="1.8" fill="none" stroke-linejoin="round" opacity="1"/>
<polyline points="61.00,439.58 61.29,439.49 61.58,439.11 61.87,439.43 62.16,439.31 62.45,439.34 62.74,439.61 63.03,439.04 63.33,439.80 63.62,439.32 63.91,439.38 64.20,439.72 64.49,439.29 64.78,439.25 65.07,439.35 65.36,439.54 65.65,439.26 65.94,439.11 66.23,439.30 66.52,438.97 66.81,439.16 67.10,439.18 67.40,439.04 67.69,439.49 67.98,439.46 68.27,439.23 68.56,439.23 68.85,439.01 69.14,439.09 69.43,439.30 69.72,439.29 70.01,439.39 70.30,439.41 70.59,439.43 70.88,439.13 71.17,439.43 71.47,439.40 71.76,439.29 72.05,439.43 72.34,439.37 72.63,439.79 72.92,439.23 73.21,439.38 73.50,439.27 73.79,439.23 74.08,439.71 74.37,438.78 74.66,439.26 74.95,439.26 75.24,439.68 75.54,439.15 75.83,439.19 76.12,439.36 76.41,439.22 76.70,438.99 76.99,439.34 77.28,439.46 77.57,438.97 77.86,439.20 78.15,439.29 78.44,438.75 78.73,439.22 79.02,439.29 79.31,439.19 79.60,439.33 79.90,439.20 80.19,439.21 80.48,439.38 80.77,439.29 81.06,439.17 81.35,439.15 81.64,439.10 81.93,439.06 82.22,439.17 82.51,439.11 82.80,439.31 83.09,439.28 83.38,438.99 83.67,439.65 83.97,439.14 84.26,438.53 84.55,439.62 84.84,438.89 85.13,439.60 85.42,439.13 85.71,438.86 86.00,438.89 86.29,439.41 86.58,439.49 86.87,439.52 87.16,439.05 87.45,439.29 87.74,439.20 88.04,439.14 88.33,439.11 88.62,439.08 88.91,439.17 89.20,439.54 89.49,438.87 89.78,439.79 90.07,438.92 90.36,439.32 90.65,439.22 90.94,439.29 91.23,439.26 91.52,439.18 91.81,439.23 92.11,439.41 92.40,438.98 92.69,439.29 92.98,438.87 93.27,439.19 93.56,439.31 93.85,439.06 94.14,438.96 94.43,439.35 94.72,439.21 95.01,438.83 95.30,439.36 95.59,439.32 95.88,439.10 96.17,439.40 96.47,439.67 96.76,439.49 97.05,439.04 97.34,438.98 97.63,438.99 97.92,439.03 98.21,439.38 98.50,438.96 98.79,438.85 99.08,439.25 99.37,438.89 99.66,439.17 99.95,439.05 100.24,439.01 100.54,439.41 100.83,438.76 101.12,439.26 101.41,439.09 101.70,439.18 101.99,438.97 102.28,438.97 102.57,439.05 102.86,438.75 103.15,438.99 103.44,439.13 103.73,439.67 104.02,439.10 104.31,439.10 104.61,439.22 104.90,439.22 105.19,438.90 105.48,438.79 105.77,438.60 106.06,438.76 106.35,439.16 106.64,438.95 106.93,439.30 107.22,438.84 107.51,438.92 107.80,439.12 108.09,439.01 108.38,439.04 108.67,439.12 108.97,438.68 109.26,438.29 109.55,438.78 109.84,438.73 110.13,438.92 110.42,439.03 110.71,438.47 111.00,439.02 111.29,438.85 111.58,438.96 111.87,438.80 112.16,438.93 112.45,438.79 112.74,439.19 113.04,438.93 113.33,438.60 113.62,439.12 113.91,439.04 114.20,438.59 114.49,438.80 114.78,438.65 115.07,439.36 115.36,438.84 115.65,439.14 115.94,439.16 116.23,438.76 116.52,438.59 116.81,439.17 117.11,439.08 117.40,438.96 117.69,438.85 117.98,439.11 118.27,438.32 118.56,438.68 118.85,438.88 119.14,438.91 119.43,438.28 119.72,438.30 120.01,438.89 120.30,438.70 120.59,438.49 120.88,439.02 121.18,438.88 121.47,438.45 121.76,438.89 122.05,438.83 122.34,439.03 122.63,438.89 122.92,438.57 123.21,438.89 123.50,438.99 123.79,438.84 124.08,438.30 124.37,438.65 124.66,438.80 124.95,438.64 125.24,438.57 125.54,438.63 125.83,439.05 126.12,438.58 126.41,438.68 126.70,438.44 126.99,438.92 127.28,438.38 127.57,438.71 127.86,438.97 128.15,438.30 128.44,438.69 128.73,438.49 129.02,438.60 129.31,438.31 129.61,438.30 129.90,438.29 130.19,438.37 130.48,438.88 130.77,438.88 131.06,438.46 131.35,438.70 131.64,438.38 131.93,438.44 132.22,438.78 132.51,438.68 132.80,438.70 133.09,438.63 133.38,438.47 133.68,438.27 133.97,438.11 134.26,438.61 134.55,438.51 134.84,438.03 135.13,438.16 135.42,438.30 135.71,438.86 136.00,438.55 136.29,438.28 136.58,438.44 136.87,437.85 137.16,438.26 137.45,438.20 137.75,438.50 138.04,438.48 138.33,438.38 138.62,438.36 138.91,438.26 139.20,438.10 139.49,438.12 139.78,437.92 140.07,438.46 140.36,438.08 140.65,438.06 140.94,437.72 141.23,438.14 141.52,437.99 141.81,438.25 142.11,437.93 142.40,437.92 142.69,438.15 142.98,438.09 143.27,437.97 143.56,437.80 143.85,438.21 144.14,437.68 144.43,437.97 144.72,437.37 145.01,437.46 145.30,437.92 145.59,437.96 145.88,437.12 146.18,437.58 146.47,437.57 146.76,437.81 147.05,437.70 147.34,437.42 147.63,437.44 147.92,437.81 148.21,437.21 148.50,437.43 148.79,437.76 149.08,437.17 149.37,437.47 149.66,437.16 149.95,437.51 150.25,437.20 150.54,437.75 150.83,437.11 151.12,437.64 151.41,437.09 151.70,437.86 151.99,437.06 152.28,436.77 152.57,436.79 152.86,436.51 153.15,437.17 153.44,436.27 153.73,436.19 154.02,437.04 154.32,436.85 154.61,436.71 154.90,436.45 155.19,436.30 155.48,437.15 155.77,436.00 156.06,436.22 156.35,436.41 156.64,435.60 156.93,435.98 157.22,435.33 157.51,435.45 157.80,435.67 158.09,434.98 158.38,435.00 158.68,435.40 158.97,435.73 159.26,435.17 159.55,434.55 159.84,434.76 160.13,433.76 160.42,434.25 160.71,434.12 161.00,433.86 161.29,434.27 161.58,433.74 161.87,433.81 162.16,434.42 162.45,433.96 162.75,432.53 163.04,432.89 163.33,432.51 163.62,432.97 163.91,432.27 164.20,431.29 164.49,431.39 164.78,431.46 165.07,430.03 165.36,430.63 165.65,430.49 165.94,429.30 166.23,430.68 166.52,428.97 166.82,429.65 167.11,429.09 167.40,428.65 167.69,427.74 167.98,427.35 168.27,426.80 168.56,426.44 168.85,425.16 169.14,424.48 169.43,424.69 169.72,424.16 170.01,424.48 170.30,424.51 170.59,422.69 170.88,422.57 171.18,421.34 171.47,422.90 171.76,418.64 172.05,421.27 172.34,419.54 172.63,418.06 172.92,419.44 173.21,418.03 173.50,418.64 173.79,417.40 174.08,417.14 174.37,414.46 174.66,413.49 174.95,413.27 175.25,410.88 175.54,409.88 175.83,410.41 176.12,409.74 176.41,408.88 176.70,408.14 176.99,405.29 177.28,405.47 177.57,405.11 177.86,403.98 178.15,402.06 178.44,402.09 178.73,400.18 179.02,399.49 179.32,396.69 179.61,395.77 179.90,397.79 180.19,395.05 180.48,392.74 180.77,393.02 181.06,390.14 181.35,389.50 181.64,387.87 181.93,387.46 182.22,385.65 182.51,384.01 182.80,385.48 183.09,383.35 183.39,382.14 183.68,376.82 183.97,377.43 184.26,375.90 184.55,374.76 184.84,374.38 185.13,373.28 185.42,369.33 185.71,369.77 186.00,365.17 186.29,365.88 186.58,364.55 186.87,363.55 187.16,361.79 187.45,360.09 187.75,356.04 188.04,353.10 188.33,357.55 188.62,353.58 188.91,351.25 189.20,352.56 189.49,350.56 189.78,348.73 190.07,350.75 190.36,343.68 190.65,343.44 190.94,342.03 191.23,340.21 191.52,338.41 191.82,333.02 192.11,335.61 192.40,332.91 192.69,334.09 192.98,330.99 193.27,330.90 193.56,329.21 193.85,329.36 194.14,327.87 194.43,324.02 194.72,322.15 195.01,321.47 195.30,322.55 195.59,319.34 195.89,324.05 196.18,315.74 196.47,316.67 196.76,314.96 197.05,312.06 197.34,314.40 197.63,310.53 197.92,312.58 198.21,309.62 198.50,310.82 198.79,308.51 199.08,305.30 199.37,309.13 199.66,308.39 199.96,307.18 200.25,305.26 200.54,299.44 200.83,306.21 201.12,308.99 201.41,305.61 201.70,307.34 201.99,304.85 202.28,303.39 202.57,305.38 202.86,304.68 203.15,307.23 203.44,302.76 203.73,304.86 204.02,300.98 204.32,301.25 204.61,305.70 204.90,304.92 205.19,304.36 205.48,303.26 205.77,309.02 206.06,306.09 206.35,302.50 206.64,307.37 206.93,307.41 207.22,308.64 207.51,312.00 207.80,308.29 208.09,310.65 208.39,311.83 208.68,311.64 208.97,312.57 209.26,319.27 209.55,315.44 209.84,318.82 210.13,318.49 210.42,321.53 210.71,323.11 211.00,320.73 211.29,324.02 211.58,325.95 211.87,327.36 212.16,328.06 212.46,329.70 212.75,335.77 213.04,334.34 213.33,334.62 213.62,334.28 213.91,334.68 214.20,340.59 214.49,336.80 214.78,341.84 215.07,342.72 215.36,346.20 215.65,347.94 215.94,345.91 216.23,350.50 216.53,351.93 216.82,351.37 217.11,352.06 217.40,359.22 217.69,358.61 217.98,359.95 218.27,358.55 218.56,359.14 218.85,364.87 219.14,365.80 219.43,366.62 219.72,367.77 220.01,371.65 220.30,371.40 220.59,375.32 220.89,379.80 221.18,379.36 221.47,378.51 221.76,379.19 222.05,385.00 222.34,385.78 222.63,384.72 222.92,390.72 223.21,386.73 223.50,387.48 223.79,394.14 224.08,390.56 224.37,393.11 224.66,392.37 224.96,395.08 225.25,396.97 225.54,397.75 225.83,397.98 226.12,400.05 226.41,401.39 226.70,404.21 226.99,403.13 227.28,404.72 227.57,403.82 227.86,406.87 228.15,407.96 228.44,409.51 228.73,409.09 229.03,410.98 229.32,412.39 229.61,411.03 229.90,411.76 230.19,414.75 230.48,416.10 230.77,414.93 231.06,417.49 231.35,415.02 231.64,418.37 231.93,418.15 232.22,420.76 232.51,420.38 232.80,420.12 233.09,421.30 233.39,422.69 233.68,420.98 233.97,422.89 234.26,424.18 234.55,424.99 234.84,425.27 235.13,424.64 235.42,426.61 235.71,426.53 236.00,427.56 236.29,426.64 236.58,427.99 236.87,427.75 237.16,428.34 237.46,429.43 237.75,429.03 238.04,429.25 238.33,430.81 238.62,430.07 238.91,428.80 239.20,431.26 239.49,431.04 239.78,432.38 240.07,431.70 240.36,432.50 240.65,432.07 240.94,432.72 241.23,433.50 241.53,432.62 241.82,433.46 242.11,434.03 242.40,433.73 242.69,434.38 242.98,433.95 243.27,434.32 243.56,434.62 243.85,434.34 244.14,435.30 244.43,434.52 244.72,435.86 245.01,434.55 245.30,435.24 245.60,435.54 245.89,435.83 246.18,435.46 246.47,435.83 246.76,435.94 247.05,435.60 247.34,436.22 247.63,436.24 247.92,436.10 248.21,435.96 248.50,436.46 248.79,436.43 249.08,436.54 249.37,436.38 249.66,436.21 249.96,437.06 250.25,436.86 250.54,436.89 250.83,436.75 251.12,436.53 251.41,437.05 251.70,437.03 251.99,436.80 252.28,437.56 252.57,437.46 252.86,437.41 253.15,437.32 253.44,437.29 253.73,437.54 254.03,436.94 254.32,437.66 254.61,437.56 254.90,437.23 255.19,437.35 255.48,437.60 255.77,437.52 256.06,437.44 256.35,437.69 256.64,437.54 256.93,437.98 257.22,437.74 257.51,438.21 257.80,438.04 258.10,438.13 258.39,437.54 258.68,438.00 258.97,437.83 259.26,438.15 259.55,437.99 259.84,438.03 260.13,438.19 260.42,437.79 260.71,438.42 261.00,437.89 261.29,437.42 261.58,438.27 261.87,438.08 262.17,438.48 262.46,438.13 262.75,438.55 263.04,438.01 263.33,438.29 263.62,438.62 263.91,438.50 264.20,438.58" stroke="#f6507c" stroke-width="1.9" fill="none" stroke-linejoin="round" opacity="1"/>
<path d="M69.3,323.90 H98.8" stroke="#1d5a96" stroke-width="1.9"/>
<path d="M69.3,339.13 H98.8" stroke="#2ed82e" stroke-width="1.9"/>
<path d="M69.3,354.36 H98.8" stroke="#e8dc14" stroke-width="1.9"/>
<path d="M69.3,369.59 H98.8" stroke="#f6507c" stroke-width="1.9"/>
<text x="100.97" y="327.20" font-size="11.39" font-weight="bold" fill="#000" textLength="54.56" lengthAdjust="spacingAndGlyphs" >Unbiased</text>
<text x="101.34" y="342.40" font-size="11.39" font-weight="bold" textLength="28.31" lengthAdjust="spacingAndGlyphs">2.5 V</text>
<text x="101.46" y="357.80" font-size="11.39" font-weight="bold" textLength="28.31" lengthAdjust="spacingAndGlyphs">3.0 V</text>
<text x="101.46" y="373.20" font-size="11.39" font-weight="bold" textLength="28.31" lengthAdjust="spacingAndGlyphs">3.5 V</text>
<text x="98.89" y="297.00" font-size="15.94" font-weight="bold" fill="#ff0000" textLength="67.79" lengthAdjust="spacingAndGlyphs" >Red shift</text>
<path d="M175.6,292.5 H204" stroke="#ff0000" stroke-width="3"/>
<polygon points="202.5,288.4 212.4,292.5 202.5,296.6" fill="#ff0000"/>
<text x="91.70" y="261.20" font-size="15.20" font-weight="bold" fill="#000" textLength="135.10" lengthAdjust="spacingAndGlyphs" >Forward Bias (<tspan fill="#0f78d0">Ag</tspan>)</text>
<text x="7.82" y="257.54" font-size="19.35" font-weight="bold" fill="#000" textLength="27.61" lengthAdjust="spacingAndGlyphs" >(b)</text>
<text transform="translate(38.9,357.1) rotate(-90)" font-size="12.4" font-weight="bold" text-anchor="middle" textLength="127.3" lengthAdjust="spacingAndGlyphs">Normalized PL Counts</text>
<text x="113.50" y="468.90" font-size="12.22" font-weight="bold" fill="#000" textLength="97.49" lengthAdjust="spacingAndGlyphs" >Wavelength (nm)</text>
<text x="52.00" y="674.50" font-size="10.2" font-weight="bold">0</text>
<text x="43.53" y="647.20" font-size="10.2" font-weight="bold">0.2</text>
<text x="43.22" y="619.90" font-size="10.2" font-weight="bold">0.4</text>
<text x="43.53" y="592.60" font-size="10.2" font-weight="bold">0.6</text>
<text x="43.43" y="565.30" font-size="10.2" font-weight="bold">0.8</text>
<text x="51.89" y="538.00" font-size="10.2" font-weight="bold">1</text>
<text x="43.53" y="510.70" font-size="10.2" font-weight="bold">1.2</text>
<text x="92.26" y="681.50" font-size="10.2" font-weight="bold" text-anchor="middle">650</text>
<text x="131.34" y="681.50" font-size="10.2" font-weight="bold" text-anchor="middle">700</text>
<text x="170.42" y="681.50" font-size="10.2" font-weight="bold" text-anchor="middle">750</text>
<text x="209.49" y="681.50" font-size="10.2" font-weight="bold" text-anchor="middle">800</text>
<text x="248.57" y="681.50" font-size="10.2" font-weight="bold" text-anchor="middle">850</text>
<path d="M61,670.90 h2.8 M61,643.60 h2.8 M61,616.30 h2.8 M61,589.00 h2.8 M61,561.70 h2.8 M61,534.40 h2.8 M61,507.10 h2.8 M61,657.25 h1.8 M61,629.95 h1.8 M61,602.65 h1.8 M61,575.35 h1.8 M61,548.05 h1.8 M61,520.75 h1.8 M92.26,670.9 v-2.8 M131.34,670.9 v-2.8 M170.42,670.9 v-2.8 M209.49,670.9 v-2.8 M248.57,670.9 v-2.8 M72.72,670.9 v-1.8 M111.80,670.9 v-1.8 M150.88,670.9 v-1.8 M189.95,670.9 v-1.8 M229.03,670.9 v-1.8" stroke="#000" stroke-width="1.3" fill="none"/>
<rect x="61" y="507.1" width="203.2" height="163.79999999999995" fill="none" stroke="#000" stroke-width="1.7"/>
<polyline points="61.00,670.89 61.29,670.95 61.58,670.97 61.87,670.89 62.16,670.96 62.45,670.83 62.74,670.82 63.03,670.87 63.33,670.83 63.62,670.90 63.91,670.93 64.20,670.77 64.49,670.91 64.78,670.83 65.07,670.94 65.36,670.88 65.65,670.85 65.94,670.99 66.23,670.98 66.52,670.94 66.81,670.92 67.10,670.90 67.40,670.94 67.69,670.94 67.98,670.95 68.27,670.95 68.56,670.88 68.85,670.92 69.14,670.96 69.43,670.96 69.72,670.94 70.01,670.98 70.30,670.89 70.59,670.87 70.88,670.97 71.17,670.92 71.47,670.91 71.76,670.85 72.05,670.93 72.34,670.91 72.63,670.95 72.92,670.94 73.21,670.93 73.50,670.72 73.79,670.83 74.08,670.87 74.37,670.88 74.66,670.97 74.95,670.94 75.24,670.85 75.54,670.89 75.83,670.83 76.12,670.89 76.41,670.86 76.70,670.88 76.99,670.86 77.28,670.86 77.57,670.82 77.86,670.91 78.15,670.89 78.44,670.92 78.73,670.88 79.02,670.86 79.31,670.88 79.60,670.98 79.90,670.92 80.19,670.91 80.48,670.89 80.77,670.91 81.06,670.90 81.35,670.83 81.64,670.84 81.93,670.80 82.22,670.96 82.51,670.93 82.80,670.94 83.09,670.82 83.38,670.83 83.67,670.90 83.97,670.90 84.26,670.85 84.55,670.79 84.84,670.78 85.13,670.90 85.42,670.81 85.71,670.87 86.00,670.77 86.29,670.72 86.58,670.83 86.87,670.82 87.16,670.99 87.45,670.82 87.74,670.95 88.04,670.88 88.33,670.80 88.62,670.94 88.91,670.72 89.20,670.88 89.49,670.80 89.78,670.87 90.07,670.81 90.36,670.87 90.65,670.85 90.94,670.97 91.23,670.79 91.52,670.80 91.81,670.86 92.11,670.85 92.40,670.89 92.69,670.87 92.98,670.82 93.27,670.81 93.56,670.79 93.85,670.76 94.14,670.77 94.43,670.80 94.72,670.80 95.01,670.83 95.30,670.75 95.59,670.86 95.88,670.86 96.17,670.80 96.47,670.89 96.76,670.83 97.05,670.89 97.34,670.86 97.63,670.62 97.92,670.90 98.21,670.75 98.50,670.84 98.79,670.86 99.08,670.88 99.37,670.76 99.66,670.82 99.95,670.79 100.24,670.70 100.54,670.86 100.83,670.90 101.12,670.78 101.41,670.71 101.70,670.77 101.99,670.71 102.28,670.72 102.57,670.76 102.86,670.82 103.15,670.77 103.44,670.71 103.73,670.74 104.02,670.77 104.31,670.74 104.61,670.76 104.90,670.72 105.19,670.77 105.48,670.67 105.77,670.73 106.06,670.74 106.35,670.85 106.64,670.86 106.93,670.75 107.22,670.77 107.51,670.64 107.80,670.78 108.09,670.79 108.38,670.69 108.67,670.84 108.97,670.73 109.26,670.80 109.55,670.88 109.84,670.82 110.13,670.73 110.42,670.72 110.71,670.73 111.00,670.76 111.29,670.71 111.58,670.70 111.87,670.71 112.16,670.62 112.45,670.65 112.74,670.75 113.04,670.73 113.33,670.75 113.62,670.69 113.91,670.63 114.20,670.60 114.49,670.68 114.78,670.72 115.07,670.74 115.36,670.77 115.65,670.58 115.94,670.69 116.23,670.70 116.52,670.57 116.81,670.70 117.11,670.66 117.40,670.63 117.69,670.75 117.98,670.72 118.27,670.47 118.56,670.62 118.85,670.75 119.14,670.67 119.43,670.64 119.72,670.60 120.01,670.63 120.30,670.69 120.59,670.62 120.88,670.56 121.18,670.65 121.47,670.68 121.76,670.67 122.05,670.73 122.34,670.54 122.63,670.58 122.92,670.60 123.21,670.58 123.50,670.52 123.79,670.61 124.08,670.65 124.37,670.52 124.66,670.70 124.95,670.59 125.24,670.51 125.54,670.48 125.83,670.57 126.12,670.56 126.41,670.56 126.70,670.57 126.99,670.55 127.28,670.47 127.57,670.51 127.86,670.44 128.15,670.50 128.44,670.55 128.73,670.54 129.02,670.40 129.31,670.55 129.61,670.46 129.90,670.56 130.19,670.48 130.48,670.52 130.77,670.52 131.06,670.54 131.35,670.53 131.64,670.48 131.93,670.40 132.22,670.45 132.51,670.51 132.80,670.43 133.09,670.58 133.38,670.43 133.68,670.29 133.97,670.53 134.26,670.40 134.55,670.31 134.84,670.24 135.13,670.26 135.42,670.33 135.71,670.19 136.00,670.17 136.29,670.25 136.58,670.20 136.87,670.23 137.16,670.17 137.45,670.05 137.75,670.15 138.04,669.99 138.33,670.01 138.62,669.97 138.91,669.99 139.20,669.88 139.49,669.89 139.78,669.85 140.07,669.89 140.36,669.76 140.65,669.74 140.94,669.63 141.23,669.62 141.52,669.59 141.81,669.57 142.11,669.52 142.40,669.48 142.69,669.35 142.98,669.42 143.27,669.38 143.56,669.22 143.85,669.09 144.14,669.10 144.43,669.08 144.72,668.88 145.01,668.93 145.30,668.93 145.59,668.82 145.88,668.70 146.18,668.74 146.47,668.59 146.76,668.61 147.05,668.51 147.34,668.43 147.63,668.57 147.92,668.22 148.21,668.20 148.50,668.14 148.79,668.08 149.08,668.03 149.37,667.81 149.66,667.81 149.95,667.63 150.25,667.72 150.54,667.27 150.83,667.28 151.12,667.12 151.41,667.08 151.70,666.90 151.99,666.60 152.28,666.78 152.57,666.13 152.86,666.14 153.15,665.93 153.44,665.63 153.73,665.19 154.02,665.14 154.32,664.80 154.61,664.83 154.90,664.49 155.19,664.05 155.48,664.03 155.77,663.95 156.06,663.42 156.35,663.09 156.64,662.78 156.93,662.35 157.22,662.05 157.51,661.89 157.80,661.43 158.09,661.21 158.38,660.84 158.68,660.67 158.97,660.08 159.26,659.89 159.55,659.30 159.84,659.37 160.13,658.59 160.42,658.59 160.71,657.92 161.00,657.76 161.29,657.27 161.58,656.49 161.87,656.39 162.16,655.38 162.45,654.58 162.75,654.24 163.04,654.05 163.33,652.97 163.62,652.44 163.91,651.68 164.20,651.00 164.49,650.03 164.78,649.11 165.07,648.60 165.36,647.49 165.65,647.00 165.94,645.35 166.23,645.09 166.52,644.04 166.82,642.74 167.11,641.27 167.40,640.02 167.69,639.47 167.98,637.75 168.27,636.46 168.56,634.60 168.85,634.14 169.14,633.18 169.43,631.98 169.72,630.23 170.01,628.66 170.30,627.38 170.59,626.07 170.88,624.87 171.18,623.18 171.47,621.67 171.76,619.33 172.05,618.67 172.34,617.45 172.63,615.64 172.92,613.93 173.21,612.94 173.50,610.48 173.79,608.63 174.08,606.83 174.37,605.41 174.66,603.21 174.95,601.04 175.25,598.81 175.54,596.97 175.83,595.52 176.12,592.53 176.41,589.94 176.70,588.41 176.99,587.08 177.28,583.14 177.57,580.48 177.86,578.24 178.15,575.62 178.44,571.97 178.73,569.13 179.02,566.55 179.32,563.72 179.61,560.73 179.90,557.57 180.19,555.35 180.48,553.42 180.77,550.59 181.06,547.73 181.35,545.27 181.64,543.61 181.93,540.88 182.22,539.73 182.51,537.18 182.80,535.45 183.09,535.01 183.39,535.00 183.68,534.85 183.97,536.87 184.26,535.70 184.55,537.92 184.84,539.06 185.13,539.93 185.42,541.53 185.71,542.43 186.00,544.04 186.29,545.40 186.58,546.24 186.87,548.12 187.16,550.12 187.45,551.38 187.75,553.20 188.04,553.77 188.33,556.36 188.62,557.55 188.91,558.07 189.20,560.59 189.49,561.93 189.78,563.33 190.07,565.94 190.36,566.65 190.65,567.89 190.94,569.89 191.23,571.33 191.52,573.66 191.82,574.87 192.11,576.68 192.40,578.18 192.69,580.42 192.98,581.73 193.27,582.86 193.56,584.95 193.85,586.03 194.14,587.19 194.43,589.30 194.72,590.94 195.01,592.29 195.30,594.46 195.59,595.85 195.89,597.61 196.18,599.04 196.47,599.55 196.76,602.01 197.05,603.19 197.34,604.78 197.63,606.25 197.92,607.63 198.21,609.02 198.50,610.24 198.79,611.88 199.08,613.03 199.37,614.61 199.66,616.02 199.96,617.33 200.25,618.01 200.54,620.25 200.83,621.15 201.12,622.08 201.41,623.28 201.70,624.87 201.99,625.97 202.28,626.69 202.57,627.32 202.86,628.43 203.15,629.62 203.44,630.63 203.73,631.50 204.02,632.36 204.32,633.58 204.61,634.42 204.90,634.89 205.19,635.18 205.48,636.44 205.77,637.76 206.06,638.36 206.35,638.86 206.64,639.85 206.93,640.27 207.22,641.24 207.51,641.96 207.80,642.79 208.09,643.06 208.39,643.76 208.68,644.42 208.97,645.02 209.26,645.86 209.55,646.21 209.84,647.36 210.13,647.62 210.42,648.53 210.71,649.20 211.00,649.90 211.29,650.30 211.58,651.02 211.87,651.48 212.16,652.51 212.46,652.90 212.75,653.72 213.04,654.01 213.33,654.40 213.62,655.36 213.91,655.49 214.20,656.33 214.49,656.34 214.78,656.97 215.07,657.28 215.36,657.90 215.65,657.80 215.94,658.40 216.23,658.77 216.53,658.85 216.82,659.42 217.11,659.63 217.40,659.92 217.69,660.24 217.98,660.23 218.27,660.39 218.56,661.01 218.85,660.88 219.14,661.18 219.43,661.59 219.72,661.66 220.01,661.68 220.30,662.23 220.59,662.41 220.89,662.64 221.18,662.41 221.47,662.72 221.76,663.12 222.05,663.20 222.34,663.26 222.63,663.53 222.92,663.51 223.21,663.80 223.50,663.81 223.79,664.07 224.08,664.23 224.37,664.47 224.66,664.51 224.96,664.60 225.25,665.00 225.54,664.90 225.83,664.95 226.12,665.13 226.41,665.31 226.70,665.50 226.99,665.71 227.28,665.81 227.57,665.88 227.86,666.06 228.15,666.05 228.44,666.22 228.73,666.31 229.03,666.27 229.32,666.47 229.61,666.52 229.90,666.83 230.19,666.72 230.48,666.93 230.77,666.80 231.06,667.16 231.35,667.17 231.64,667.11 231.93,667.07 232.22,667.44 232.51,667.40 232.80,667.51 233.09,667.38 233.39,667.40 233.68,667.60 233.97,667.61 234.26,667.78 234.55,667.88 234.84,667.80 235.13,667.93 235.42,667.89 235.71,668.02 236.00,667.95 236.29,668.11 236.58,668.14 236.87,668.12 237.16,668.23 237.46,668.19 237.75,668.37 238.04,668.44 238.33,668.36 238.62,668.43 238.91,668.54 239.20,668.62 239.49,668.63 239.78,668.63 240.07,668.68 240.36,668.78 240.65,668.80 240.94,668.74 241.23,668.74 241.53,668.76 241.82,668.94 242.11,668.99 242.40,668.92 242.69,669.01 242.98,668.97 243.27,669.00 243.56,669.11 243.85,669.12 244.14,669.24 244.43,669.26 244.72,669.16 245.01,669.11 245.30,669.36 245.60,669.37 245.89,669.34 246.18,669.30 246.47,669.47 246.76,669.39 247.05,669.34 247.34,669.56 247.63,669.52 247.92,669.45 248.21,669.45 248.50,669.57 248.79,669.51 249.08,669.53 249.37,669.67 249.66,669.62 249.96,669.67 250.25,669.68 250.54,669.67 250.83,669.76 251.12,669.82 251.41,669.82 251.70,669.83 251.99,669.80 252.28,669.76 252.57,669.85 252.86,669.88 253.15,669.89 253.44,669.85 253.73,669.91 254.03,669.92 254.32,669.98 254.61,669.96 254.90,670.00 255.19,669.94 255.48,670.01 255.77,669.97 256.06,670.03 256.35,670.05 256.64,670.17 256.93,670.11 257.22,670.16 257.51,670.08 257.80,670.13 258.10,670.14 258.39,670.18 258.68,670.12 258.97,670.30 259.26,670.17 259.55,670.25 259.84,670.29 260.13,670.29 260.42,670.26 260.71,670.25 261.00,670.22 261.29,670.33 261.58,670.34 261.87,670.25 262.17,670.26 262.46,670.38 262.75,670.37 263.04,670.32 263.33,670.36 263.62,670.31 263.91,670.39 264.20,670.39" stroke="#1d5a96" stroke-width="1.8" fill="none" stroke-linejoin="round" opacity="1"/>
<polyline points="61.00,670.35 61.29,670.70 61.58,670.61 61.87,670.83 62.16,671.01 62.45,670.67 62.74,670.59 63.03,670.90 63.33,670.90 63.62,670.73 63.91,670.84 64.20,671.09 64.49,670.66 64.78,670.62 65.07,671.08 65.36,670.40 65.65,670.92 65.94,670.92 66.23,670.84 66.52,670.65 66.81,670.63 67.10,670.91 67.40,670.54 67.69,670.45 67.98,670.63 68.27,670.91 68.56,670.66 68.85,670.54 69.14,670.24 69.43,670.44 69.72,670.23 70.01,669.75 70.30,670.24 70.59,670.24 70.88,669.99 71.17,669.87 71.47,669.80 71.76,669.98 72.05,670.16 72.34,670.21 72.63,669.94 72.92,669.76 73.21,669.84 73.50,669.81 73.79,669.51 74.08,669.44 74.37,669.38 74.66,668.77 74.95,668.84 75.24,669.23 75.54,668.61 75.83,668.73 76.12,668.77 76.41,668.58 76.70,667.59 76.99,668.18 77.28,668.25 77.57,667.90 77.86,667.48 78.15,667.49 78.44,667.44 78.73,667.50 79.02,667.25 79.31,667.32 79.60,666.70 79.90,666.36 80.19,666.20 80.48,666.21 80.77,665.54 81.06,665.69 81.35,665.45 81.64,665.91 81.93,665.48 82.22,665.35 82.51,664.58 82.80,664.90 83.09,664.75 83.38,664.61 83.67,663.71 83.97,664.41 84.26,664.32 84.55,663.71 84.84,663.66 85.13,662.83 85.42,662.74 85.71,662.92 86.00,662.94 86.29,662.67 86.58,661.85 86.87,662.10 87.16,661.81 87.45,663.10 87.74,662.32 88.04,661.67 88.33,661.10 88.62,660.93 88.91,661.04 89.20,661.85 89.49,660.75 89.78,661.08 90.07,661.67 90.36,660.90 90.65,660.53 90.94,660.11 91.23,659.70 91.52,659.93 91.81,659.94 92.11,660.14 92.40,659.80 92.69,660.33 92.98,659.26 93.27,659.57 93.56,658.93 93.85,659.12 94.14,659.58 94.43,659.35 94.72,659.26 95.01,659.15 95.30,660.54 95.59,659.59 95.88,657.91 96.17,658.88 96.47,658.08 96.76,659.13 97.05,659.65 97.34,658.90 97.63,658.88 97.92,659.07 98.21,657.89 98.50,657.70 98.79,658.87 99.08,657.30 99.37,657.85 99.66,659.02 99.95,657.69 100.24,658.03 100.54,658.20 100.83,659.09 101.12,657.87 101.41,658.53 101.70,657.00 101.99,658.62 102.28,658.85 102.57,657.67 102.86,658.58 103.15,656.98 103.44,658.35 103.73,657.35 104.02,658.33 104.31,658.01 104.61,657.58 104.90,658.05 105.19,657.19 105.48,657.98 105.77,656.68 106.06,656.96 106.35,658.41 106.64,656.21 106.93,657.18 107.22,657.84 107.51,657.13 107.80,657.19 108.09,656.74 108.38,656.67 108.67,656.43 108.97,657.87 109.26,656.91 109.55,657.41 109.84,657.94 110.13,657.44 110.42,657.56 110.71,656.64 111.00,657.02 111.29,656.58 111.58,656.81 111.87,656.63 112.16,656.38 112.45,657.13 112.74,656.69 113.04,656.66 113.33,656.84 113.62,657.10 113.91,656.27 114.20,656.02 114.49,655.22 114.78,656.21 115.07,656.14 115.36,656.95 115.65,656.27 115.94,655.42 116.23,654.92 116.52,655.82 116.81,655.07 117.11,655.02 117.40,654.71 117.69,655.54 117.98,656.37 118.27,655.86 118.56,655.18 118.85,656.29 119.14,655.94 119.43,656.43 119.72,656.25 120.01,656.80 120.30,655.14 120.59,656.30 120.88,655.81 121.18,655.55 121.47,656.07 121.76,656.57 122.05,656.27 122.34,656.56 122.63,655.83 122.92,656.30 123.21,655.21 123.50,656.15 123.79,655.61 124.08,656.54 124.37,657.09 124.66,656.20 124.95,655.39 125.24,655.39 125.54,655.27 125.83,656.30 126.12,656.28 126.41,656.00 126.70,656.31 126.99,655.77 127.28,655.60 127.57,655.56 127.86,656.67 128.15,655.27 128.44,657.40 128.73,656.44 129.02,656.59 129.31,656.30 129.61,656.47 129.90,655.61 130.19,656.81 130.48,655.89 130.77,657.08 131.06,656.41 131.35,656.18 131.64,655.82 131.93,657.17 132.22,657.82 132.51,655.41 132.80,657.06 133.09,656.68 133.38,656.62 133.68,655.66 133.97,656.09 134.26,655.80 134.55,655.73 134.84,656.25 135.13,656.70 135.42,655.74 135.71,655.96 136.00,656.39 136.29,657.71 136.58,656.95 136.87,656.30 137.16,656.86 137.45,655.96 137.75,654.88 138.04,656.42 138.33,656.21 138.62,655.84 138.91,655.21 139.20,657.59 139.49,656.49 139.78,655.20 140.07,656.04 140.36,657.01 140.65,655.48 140.94,656.56 141.23,655.02 141.52,654.87 141.81,655.63 142.11,656.02 142.40,654.81 142.69,655.25 142.98,655.09 143.27,655.16 143.56,654.97 143.85,655.16 144.14,653.83 144.43,653.50 144.72,654.71 145.01,654.87 145.30,653.37 145.59,652.88 145.88,653.26 146.18,652.72 146.47,652.82 146.76,653.18 147.05,653.27 147.34,653.47 147.63,652.85 147.92,653.87 148.21,651.44 148.50,653.11 148.79,651.96 149.08,651.72 149.37,651.87 149.66,651.65 149.95,652.01 150.25,651.56 150.54,650.51 150.83,650.36 151.12,651.65 151.41,650.51 151.70,651.56 151.99,650.10 152.28,649.76 152.57,650.62 152.86,648.27 153.15,650.17 153.44,647.95 153.73,649.91 154.02,647.81 154.32,649.61 154.61,648.23 154.90,648.58 155.19,647.00 155.48,647.59 155.77,646.77 156.06,646.07 156.35,646.71 156.64,646.01 156.93,644.91 157.22,645.50 157.51,643.93 157.80,645.30 158.09,641.50 158.38,641.70 158.68,643.29 158.97,642.00 159.26,640.84 159.55,639.19 159.84,638.18 160.13,637.03 160.42,636.09 160.71,637.46 161.00,635.43 161.29,634.98 161.58,633.46 161.87,633.46 162.16,634.37 162.45,632.31 162.75,628.49 163.04,630.30 163.33,628.30 163.62,628.89 163.91,628.37 164.20,627.28 164.49,626.78 164.78,624.82 165.07,625.48 165.36,626.27 165.65,622.40 165.94,621.99 166.23,622.27 166.52,621.16 166.82,619.30 167.11,618.94 167.40,619.75 167.69,616.15 167.98,613.89 168.27,616.11 168.56,616.51 168.85,613.13 169.14,611.84 169.43,613.80 169.72,613.68 170.01,612.56 170.30,610.54 170.59,610.34 170.88,608.52 171.18,607.47 171.47,607.98 171.76,604.27 172.05,601.68 172.34,605.11 172.63,601.45 172.92,600.48 173.21,599.60 173.50,597.10 173.79,597.31 174.08,593.24 174.37,593.47 174.66,593.01 174.95,589.40 175.25,588.34 175.54,584.78 175.83,585.07 176.12,584.23 176.41,579.01 176.70,579.86 176.99,577.83 177.28,574.22 177.57,575.54 177.86,572.85 178.15,571.90 178.44,565.26 178.73,567.66 179.02,565.74 179.32,563.35 179.61,555.79 179.90,554.63 180.19,555.41 180.48,553.23 180.77,545.46 181.06,548.56 181.35,545.11 181.64,544.28 181.93,536.21 182.22,540.31 182.51,540.09 182.80,535.86 183.09,534.95 183.39,535.87 183.68,536.89 183.97,539.56 184.26,538.53 184.55,534.15 184.84,541.81 185.13,537.32 185.42,536.55 185.71,539.55 186.00,542.59 186.29,542.14 186.58,543.50 186.87,549.55 187.16,547.36 187.45,551.50 187.75,554.78 188.04,550.65 188.33,555.21 188.62,554.71 188.91,558.89 189.20,556.28 189.49,558.47 189.78,561.56 190.07,564.09 190.36,565.29 190.65,565.37 190.94,568.33 191.23,570.56 191.52,569.55 191.82,571.59 192.11,572.17 192.40,574.09 192.69,579.05 192.98,578.62 193.27,581.82 193.56,584.17 193.85,583.44 194.14,585.65 194.43,586.17 194.72,589.00 195.01,588.92 195.30,591.72 195.59,592.65 195.89,593.04 196.18,593.59 196.47,598.10 196.76,601.87 197.05,602.70 197.34,600.33 197.63,601.07 197.92,603.71 198.21,604.29 198.50,608.12 198.79,609.74 199.08,608.77 199.37,610.80 199.66,612.43 199.96,613.68 200.25,615.78 200.54,619.02 200.83,616.93 201.12,619.20 201.41,621.55 201.70,622.43 201.99,622.04 202.28,624.88 202.57,626.50 202.86,625.91 203.15,626.49 203.44,627.47 203.73,628.60 204.02,630.17 204.32,631.65 204.61,634.35 204.90,633.48 205.19,634.84 205.48,633.49 205.77,636.42 206.06,636.43 206.35,636.77 206.64,639.34 206.93,640.10 207.22,638.59 207.51,639.37 207.80,642.64 208.09,641.77 208.39,641.33 208.68,643.85 208.97,643.78 209.26,644.38 209.55,645.41 209.84,646.20 210.13,648.58 210.42,647.99 210.71,648.02 211.00,648.23 211.29,647.68 211.58,647.82 211.87,649.28 212.16,650.78 212.46,652.32 212.75,652.26 213.04,651.94 213.33,653.34 213.62,653.60 213.91,653.43 214.20,655.36 214.49,655.67 214.78,654.68 215.07,655.68 215.36,655.82 215.65,656.62 215.94,657.76 216.23,656.70 216.53,658.07 216.82,657.87 217.11,658.16 217.40,658.54 217.69,659.75 217.98,659.13 218.27,660.40 218.56,659.79 218.85,660.45 219.14,659.70 219.43,661.05 219.72,661.06 220.01,661.29 220.30,662.39 220.59,661.75 220.89,661.85 221.18,662.39 221.47,662.27 221.76,662.23 222.05,662.35 222.34,662.44 222.63,662.37 222.92,662.49 223.21,663.30 223.50,663.18 223.79,663.49 224.08,663.82 224.37,663.98 224.66,664.37 224.96,663.96 225.25,663.78 225.54,664.49 225.83,664.64 226.12,664.95 226.41,665.23 226.70,665.26 226.99,664.87 227.28,665.71 227.57,664.55 227.86,664.97 228.15,665.37 228.44,665.73 228.73,665.26 229.03,665.83 229.32,665.08 229.61,665.94 229.90,665.82 230.19,666.38 230.48,665.78 230.77,666.08 231.06,666.16 231.35,665.84 231.64,666.79 231.93,667.19 232.22,667.30 232.51,666.95 232.80,666.90 233.09,666.97 233.39,666.76 233.68,666.64 233.97,667.28 234.26,666.72 234.55,667.35 234.84,667.54 235.13,667.07 235.42,667.09 235.71,667.21 236.00,667.78 236.29,667.12 236.58,667.47 236.87,667.87 237.16,667.69 237.46,667.70 237.75,667.82 238.04,668.02 238.33,667.44 238.62,668.10 238.91,667.91 239.20,668.08 239.49,668.04 239.78,668.59 240.07,667.68 240.36,667.86 240.65,668.31 240.94,668.05 241.23,668.37 241.53,668.23 241.82,668.50 242.11,668.90 242.40,668.71 242.69,668.74 242.98,668.81 243.27,669.17 243.56,668.77 243.85,668.62 244.14,668.71 244.43,669.02 244.72,668.48 245.01,668.95 245.30,668.85 245.60,669.01 245.89,669.18 246.18,669.00 246.47,669.27 246.76,669.33 247.05,669.53 247.34,669.12 247.63,669.05 247.92,669.22 248.21,669.32 248.50,669.31 248.79,669.12 249.08,669.41 249.37,669.35 249.66,669.29 249.96,669.41 250.25,669.35 250.54,669.31 250.83,669.52 251.12,669.12 251.41,669.64 251.70,669.53 251.99,669.51 252.28,669.59 252.57,669.82 252.86,669.62 253.15,669.83 253.44,669.71 253.73,669.60 254.03,669.58 254.32,669.75 254.61,669.85 254.90,669.39 255.19,669.83 255.48,669.49 255.77,669.99 256.06,669.82 256.35,669.59 256.64,670.07 256.93,670.15 257.22,669.76 257.51,669.67 257.80,669.82 258.10,669.91 258.39,670.11 258.68,669.96 258.97,669.88 259.26,670.13 259.55,670.37 259.84,669.88 260.13,670.32 260.42,670.36 260.71,670.21 261.00,669.93 261.29,670.39 261.58,670.15 261.87,669.82 262.17,670.10 262.46,670.22 262.75,670.34 263.04,670.49 263.33,669.95 263.62,670.46 263.91,670.19 264.20,670.04" stroke="#1fcb8a" stroke-width="1.9" fill="none" stroke-linejoin="round" opacity="1"/>
<polyline points="61.00,667.07 61.08,666.05 61.17,662.78 61.25,665.17 61.34,662.27 61.42,662.48 61.51,661.51 61.59,669.30 61.68,664.67 61.76,665.29 61.85,666.00 61.93,670.06 62.02,665.91 62.10,662.08 62.19,662.90 62.27,667.39 62.36,665.78 62.44,665.80 62.52,663.30 62.61,667.34 62.69,667.23 62.78,669.33 62.86,663.34 62.95,660.35 63.03,664.38 63.12,663.82 63.20,663.28 63.29,668.54 63.37,663.77 63.46,661.31 63.54,662.61 63.63,665.96 63.71,667.51 63.80,667.27 63.88,662.18 63.96,667.08 64.05,665.10 64.13,664.76 64.22,666.19 64.30,667.92 64.39,664.19 64.47,667.47 64.56,666.56 64.64,662.21 64.73,663.38 64.81,671.37 64.90,668.45 64.98,663.24 65.07,667.90 65.15,663.12 65.24,662.41 65.32,662.42 65.40,660.44 65.49,668.91 65.57,667.78 65.66,666.68 65.74,666.61 65.83,662.62 65.91,663.94 66.00,667.56 66.08,666.50 66.17,668.64 66.25,666.23 66.34,668.99 66.42,659.89 66.51,662.89 66.59,666.16 66.68,665.59 66.76,662.91 66.84,665.18 66.93,661.56 67.01,664.64 67.10,658.55 67.18,663.20 67.27,668.22 67.35,667.98 67.44,666.59 67.52,660.03 67.61,665.98 67.69,662.40 67.78,669.15 67.86,663.52 67.95,668.14 68.03,666.40 68.11,665.05 68.20,669.03 68.28,658.26 68.37,668.26 68.45,666.45 68.54,660.08 68.62,662.27 68.71,671.58 68.79,663.76 68.88,661.85 68.96,667.91 69.05,664.93 69.13,667.09 69.22,667.11 69.30,659.87 69.39,662.01 69.47,667.29 69.55,668.46 69.64,662.63 69.72,664.15 69.81,665.76 69.89,664.09 69.98,668.63 70.06,666.98 70.15,666.95 70.23,661.10 70.32,664.80 70.40,667.71 70.49,666.91 70.57,661.50 70.66,663.63 70.74,666.26 70.83,665.72 70.91,662.45 70.99,665.53 71.08,665.37 71.16,666.65 71.25,671.58 71.33,662.84 71.42,665.08 71.50,662.12 71.59,655.28 71.67,665.60 71.76,662.79 71.84,665.64 71.93,666.77 72.01,666.96 72.10,665.64 72.18,664.39 72.27,659.26 72.35,663.39 72.43,666.19 72.52,661.51 72.60,667.21 72.69,662.33 72.77,663.75 72.86,666.06 72.94,663.06 73.03,661.00 73.11,662.46 73.20,670.09 73.28,669.75 73.37,664.76 73.45,665.31 73.54,668.77 73.62,662.11 73.71,662.91 73.79,660.68 73.87,663.50 73.96,659.08 74.04,666.34 74.13,665.54 74.21,662.32 74.30,663.14 74.38,668.99 74.47,666.73 74.55,662.46 74.64,663.89 74.72,666.50 74.81,665.15 74.89,664.71 74.98,664.89 75.06,662.80 75.15,662.18 75.23,666.60 75.31,657.02 75.40,663.23 75.48,664.55 75.57,658.30 75.65,664.09 75.74,667.76 75.82,668.20 75.91,665.94 75.99,666.05 76.08,669.54 76.16,665.30 76.25,666.76 76.33,660.07 76.42,662.67 76.50,666.67 76.59,660.82 76.67,664.61 76.75,670.25 76.84,664.07 76.92,659.46 77.01,663.72 77.09,665.89 77.18,663.69 77.26,665.75 77.35,662.04 77.43,662.99 77.52,664.87 77.60,661.25 77.69,658.45 77.77,662.73 77.86,659.68 77.94,661.10 78.03,664.29 78.11,663.52 78.19,658.95 78.28,662.37 78.36,660.53 78.45,668.56 78.53,661.13 78.62,669.07 78.70,657.24 78.79,662.47 78.87,660.64 78.96,665.58 79.04,663.63 79.13,666.89 79.21,666.45 79.30,662.67 79.38,664.44 79.47,664.28 79.55,663.85 79.63,658.88 79.72,660.02 79.80,657.12 79.89,663.95 79.97,665.02 80.06,662.36 80.14,660.64 80.23,667.59 80.31,660.93 80.40,663.95 80.48,661.42 80.57,661.92 80.65,663.80 80.74,665.42 80.82,663.70 80.90,659.26 80.99,668.41 81.07,662.23 81.16,663.26 81.24,663.37 81.33,662.07 81.41,661.28 81.50,662.66 81.58,658.32 81.67,663.57 81.75,655.43 81.84,668.76 81.92,657.23 82.01,663.67 82.09,666.46 82.18,665.42 82.26,664.08 82.34,661.87 82.43,662.64 82.51,658.02 82.60,662.81 82.68,663.25 82.77,663.41 82.85,660.43 82.94,662.00 83.02,657.08 83.11,663.98 83.19,663.30 83.28,663.64 83.36,664.68 83.45,663.44 83.53,665.02 83.62,669.42 83.70,667.83 83.78,665.89 83.87,670.84 83.95,664.94 84.04,660.11 84.12,661.23 84.21,667.62 84.29,667.30 84.38,664.01 84.46,664.83 84.55,660.20 84.63,661.66 84.72,661.21 84.80,662.92 84.89,658.83 84.97,661.24 85.06,652.93 85.14,659.14 85.22,660.98 85.31,662.23 85.39,663.40 85.48,664.84 85.56,660.70 85.65,659.49 85.73,655.94 85.82,660.09 85.90,657.92 85.99,659.91 86.07,661.66 86.16,659.03 86.24,658.81 86.33,661.61 86.41,661.60 86.50,661.13 86.58,667.69 86.66,659.55 86.75,665.45 86.83,652.58 86.92,660.96 87.00,659.42 87.09,659.08 87.17,666.24 87.26,654.90 87.34,662.27 87.43,656.24 87.51,655.31 87.60,656.69 87.68,669.86 87.77,663.81 87.85,661.34 87.94,664.14 88.02,659.87 88.10,654.14 88.19,655.24 88.27,660.99 88.36,663.38 88.44,656.73 88.53,656.78 88.61,660.31 88.70,662.34 88.78,653.71 88.87,653.12 88.95,654.60 89.04,656.18 89.12,660.48 89.21,657.97 89.29,662.83 89.38,653.30 89.46,662.71 89.54,661.56 89.63,659.78 89.71,659.32 89.80,653.41 89.88,655.65 89.97,661.37 90.05,657.32 90.14,657.40 90.22,652.99 90.31,664.20 90.39,660.29 90.48,661.96 90.56,657.48 90.65,654.85 90.73,658.77 90.82,650.09 90.90,661.41 90.98,657.36 91.07,660.26 91.15,662.88 91.24,659.31 91.32,657.50 91.41,660.15 91.49,660.03 91.58,657.74 91.66,659.97 91.75,654.02 91.83,655.14 91.92,657.07 92.00,653.50 92.09,665.32 92.17,660.64 92.26,652.39 92.34,660.28 92.42,653.44 92.51,655.27 92.59,656.39 92.68,657.45 92.76,661.02 92.85,662.17 92.93,662.92 93.02,654.92 93.10,656.59 93.19,655.24 93.27,660.50 93.36,656.10 93.44,652.17 93.53,658.93 93.61,657.88 93.69,657.34 93.78,648.27 93.86,651.64 93.95,648.53 94.03,645.85 94.12,656.46 94.20,654.30 94.29,664.22 94.37,654.92 94.46,657.16 94.54,654.99 94.63,654.65 94.71,663.09 94.80,653.73 94.88,656.56 94.97,659.58 95.05,657.03 95.13,651.71 95.22,657.10 95.30,649.30 95.39,652.52 95.47,654.46 95.56,657.90 95.64,657.52 95.73,649.96 95.81,654.13 95.90,653.10 95.98,652.91 96.07,650.62 96.15,650.89 96.24,654.94 96.32,652.33 96.41,654.06 96.49,651.27 96.57,658.88 96.66,653.88 96.74,648.01 96.83,657.64 96.91,655.33 97.00,651.84 97.08,657.19 97.17,652.18 97.25,651.20 97.34,649.32 97.42,651.44 97.51,650.88 97.59,653.52 97.68,650.80 97.76,650.62 97.85,649.69 97.93,648.53 98.01,648.37 98.10,648.48 98.18,649.96 98.27,650.51 98.35,652.61 98.44,648.03 98.52,645.72 98.61,652.12 98.69,647.75 98.78,650.49 98.86,650.57 98.95,653.64 99.03,650.65 99.12,647.11 99.20,647.49 99.29,646.03 99.37,651.70 99.45,657.46 99.54,646.11 99.62,648.89 99.71,645.98 99.79,641.34 99.88,644.18 99.96,656.34 100.05,649.94 100.13,649.18 100.22,641.56 100.30,650.54 100.39,648.76 100.47,643.09 100.56,654.14 100.64,649.20 100.73,652.27 100.81,650.95 100.89,644.76 100.98,646.23 101.06,646.75 101.15,646.27 101.23,647.55 101.32,645.93 101.40,643.48 101.49,648.33 101.57,644.49 101.66,646.65 101.74,640.94 101.83,639.59 101.91,641.57 102.00,639.90 102.08,645.56 102.17,644.74 102.25,642.44 102.33,644.15 102.42,640.44 102.50,643.21 102.59,647.31 102.67,646.07 102.76,640.83 102.84,632.30 102.93,640.94 103.01,647.27 103.10,640.01 103.18,643.47 103.27,645.75 103.35,629.90 103.44,630.57 103.52,639.98 103.61,639.72 103.69,640.46 103.77,635.84 103.86,635.53 103.94,634.30 104.03,642.69 104.11,639.23 104.20,634.71 104.28,637.05 104.37,643.30 104.45,637.16 104.54,632.95 104.62,645.22 104.71,630.30 104.79,636.85 104.88,630.07 104.96,631.90 105.05,634.01 105.13,635.61 105.21,635.70 105.30,637.57 105.38,633.99 105.47,633.01 105.55,640.18 105.64,636.38 105.72,643.22 105.81,639.81 105.89,636.51 105.98,631.22 106.06,632.91 106.15,632.33 106.23,634.39 106.32,636.84 106.40,628.77 106.48,629.12 106.57,636.40 106.65,632.74 106.74,629.83 106.82,635.47 106.91,634.19 106.99,628.98 107.08,630.03 107.16,626.45 107.25,631.30 107.33,627.34 107.42,627.60 107.50,621.83 107.59,632.41 107.67,629.35 107.76,632.94 107.84,626.27 107.92,625.69 108.01,621.66 108.09,628.98 108.18,624.60 108.26,626.89 108.35,620.77 108.43,627.23 108.52,628.01 108.60,623.63 108.69,627.24 108.77,629.53 108.86,633.77 108.94,624.47 109.03,621.15 109.11,625.50 109.20,621.78 109.28,627.25 109.36,622.47 109.45,621.86 109.53,626.82 109.62,630.68 109.70,625.93 109.79,624.61 109.87,621.64 109.96,632.26 110.04,618.25 110.13,621.66 110.21,624.96 110.30,628.10 110.38,626.21 110.47,621.75 110.55,621.59 110.64,621.68 110.72,629.45 110.80,624.73 110.89,622.82 110.97,623.42 111.06,624.94 111.14,621.58 111.23,617.06 111.31,627.13 111.40,616.69 111.48,625.50 111.57,625.27 111.65,625.36 111.74,617.87 111.82,618.97 111.91,616.36 111.99,623.80 112.08,625.27 112.16,611.61 112.24,617.87 112.33,630.13 112.41,624.08 112.50,619.42 112.58,613.51 112.67,611.59 112.75,623.57 112.84,616.25 112.92,619.71 113.01,619.98 113.09,620.31 113.18,623.50 113.26,622.04 113.35,619.64 113.43,616.15 113.52,623.63 113.60,611.79 113.68,619.14 113.77,614.17 113.85,621.36 113.94,622.12 114.02,612.43 114.11,614.57 114.19,624.90 114.28,614.63 114.36,623.25 114.45,614.55 114.53,613.06 114.62,616.16 114.70,617.41 114.79,616.67 114.87,616.08 114.96,619.16 115.04,613.81 115.12,617.98 115.21,622.56 115.29,613.95 115.38,607.68 115.46,610.58 115.55,615.61 115.63,617.87 115.72,616.83 115.80,608.97 115.89,611.29 115.97,617.95 116.06,613.27 116.14,607.87 116.23,613.70 116.31,613.40 116.40,616.18 116.48,620.77 116.56,609.97 116.65,610.86 116.73,610.43 116.82,608.07 116.90,613.63 116.99,614.93 117.07,611.30 117.16,618.19 117.24,621.20 117.33,614.46 117.41,615.54 117.50,616.52 117.58,612.36 117.67,609.66 117.75,615.34 117.84,621.04 117.92,619.70 118.00,616.34 118.09,613.38 118.17,612.50 118.26,610.30 118.34,603.74 118.43,616.47 118.51,607.92 118.60,612.97 118.68,611.44 118.77,613.51 118.85,607.52 118.94,608.45 119.02,605.69 119.11,603.12 119.19,617.47 119.27,612.23 119.36,607.95 119.44,607.44 119.53,609.32 119.61,614.52 119.70,602.91 119.78,615.35 119.87,607.47 119.95,613.24 120.04,612.60 120.12,607.67 120.21,614.90 120.29,608.02 120.38,610.93 120.46,615.72 120.55,611.62 120.63,610.29 120.71,608.43 120.80,606.62 120.88,617.13 120.97,614.61 121.05,614.45 121.14,617.28 121.22,602.99 121.31,613.23 121.39,612.54 121.48,613.01 121.56,615.00 121.65,607.37 121.73,610.61 121.82,614.08 121.90,612.55 121.99,609.49 122.07,609.89 122.15,607.52 122.24,605.77 122.32,613.25 122.41,615.29 122.49,613.13 122.58,610.57 122.66,613.69 122.75,609.77 122.83,616.26 122.92,611.25 123.00,609.68 123.09,614.64 123.17,607.85 123.26,604.08 123.34,624.02 123.43,614.39 123.51,611.83 123.59,607.78 123.68,615.29 123.76,610.32 123.85,604.98 123.93,609.73 124.02,613.32 124.10,613.43 124.19,609.93 124.27,609.03 124.36,609.33 124.44,610.87 124.53,620.10 124.61,614.45 124.70,612.25 124.78,610.21 124.87,608.63 124.95,613.58 125.03,607.92 125.12,604.27 125.20,608.74 125.29,607.55 125.37,612.67 125.46,615.12 125.54,608.82 125.63,609.25 125.71,606.39 125.80,612.32 125.88,615.27 125.97,615.21 126.05,609.92 126.14,619.35 126.22,605.42 126.31,612.79 126.39,611.05 126.47,612.20 126.56,604.37 126.64,616.67 126.73,607.99 126.81,609.24 126.90,605.99 126.98,607.36 127.07,615.50 127.15,617.94 127.24,620.27 127.32,612.44 127.41,609.06 127.49,610.46 127.58,612.86 127.66,608.99 127.75,617.24 127.83,605.75 127.91,604.83 128.00,605.92 128.08,608.03 128.17,603.64 128.25,617.26 128.34,615.64 128.42,611.04 128.51,611.14 128.59,612.59 128.68,608.95 128.76,612.53 128.85,604.16 128.93,610.89 129.02,621.40 129.10,613.03 129.19,614.30 129.27,617.53 129.35,607.12 129.44,615.53 129.52,619.32 129.61,613.08 129.69,603.41 129.78,611.11 129.86,603.11 129.95,608.42 130.03,603.31 130.12,608.35 130.20,608.68 130.29,624.19 130.37,617.41 130.46,617.49 130.54,612.79 130.63,607.35 130.71,608.34 130.79,608.94 130.88,619.98 130.96,616.07 131.05,612.52 131.13,609.49 131.22,611.07 131.30,615.70 131.39,618.19 131.47,607.54 131.56,616.18 131.64,612.58 131.73,611.82 131.81,609.85 131.90,615.17 131.98,617.14 132.06,612.78 132.15,615.77 132.23,611.31 132.32,618.58 132.40,613.73 132.49,617.54 132.57,602.60 132.66,619.92 132.74,614.35 132.83,613.50 132.91,614.57 133.00,617.72 133.08,616.32 133.17,612.96 133.25,605.65 133.34,606.40 133.42,604.13 133.50,614.20 133.59,611.08 133.67,606.09 133.76,609.36 133.84,610.75 133.93,611.29 134.01,608.01 134.10,614.10 134.18,610.41 134.27,615.35 134.35,608.51 134.44,609.38 134.52,611.97 134.61,617.76 134.69,612.49 134.78,604.92 134.86,614.48 134.94,610.68 135.03,619.83 135.11,616.87 135.20,612.42 135.28,608.36 135.37,608.72 135.45,615.00 135.54,604.10 135.62,624.62 135.71,619.07 135.79,607.80 135.88,606.87 135.96,604.95 136.05,616.44 136.13,618.84 136.22,619.19 136.30,616.99 136.38,610.87 136.47,614.57 136.55,614.61 136.64,610.16 136.72,613.89 136.81,612.23 136.89,606.51 136.98,616.18 137.06,612.69 137.15,616.56 137.23,609.95 137.32,618.41 137.40,617.42 137.49,610.41 137.57,622.34 137.66,605.34 137.74,610.69 137.82,614.29 137.91,615.12 137.99,611.33 138.08,611.84 138.16,618.08 138.25,613.10 138.33,617.58 138.42,616.09 138.50,613.95 138.59,613.56 138.67,615.29 138.76,614.41 138.84,615.86 138.93,615.47 139.01,607.23 139.10,607.86 139.18,618.16 139.26,623.87 139.35,610.71 139.43,606.12 139.52,615.36 139.60,612.70 139.69,614.31 139.77,612.98 139.86,616.75 139.94,614.62 140.03,615.64 140.11,615.87 140.20,613.92 140.28,620.84 140.37,609.86 140.45,614.37 140.54,613.96 140.62,618.02 140.70,623.89 140.79,615.50 140.87,617.15 140.96,625.85 141.04,610.04 141.13,608.52 141.21,616.57 141.30,613.22 141.38,608.79 141.47,612.64 141.55,628.12 141.64,610.04 141.72,623.75 141.81,617.69 141.89,608.71 141.98,619.35 142.06,622.47 142.14,616.38 142.23,617.23 142.31,625.46 142.40,609.53 142.48,616.24 142.57,616.86 142.65,615.92 142.74,615.74 142.82,610.32 142.91,617.21 142.99,619.09 143.08,614.31 143.16,615.14 143.25,613.41 143.33,620.30 143.42,614.38 143.50,613.94 143.58,621.04 143.67,614.20 143.75,616.67 143.84,610.27 143.92,609.16 144.01,615.16 144.09,621.62 144.18,616.81 144.26,620.58 144.35,620.30 144.43,611.16 144.52,614.27 144.60,618.13 144.69,621.49 144.77,615.92 144.85,610.89 144.94,614.24 145.02,615.85 145.11,615.77 145.19,610.86 145.28,613.05 145.36,616.07 145.45,626.09 145.53,613.77 145.62,616.01 145.70,617.03 145.79,611.85 145.87,620.37 145.96,615.55 146.04,616.34 146.13,623.32 146.21,617.86 146.29,616.40 146.38,612.14 146.46,614.59 146.55,617.08 146.63,613.67 146.72,626.31 146.80,618.94 146.89,620.51 146.97,614.83 147.06,609.40 147.14,613.92 147.23,612.77 147.31,613.48 147.40,609.99 147.48,622.11 147.57,615.04 147.65,620.94 147.73,619.35 147.82,614.05 147.90,613.47 147.99,617.70 148.07,612.38 148.16,617.29 148.24,617.79 148.33,617.11 148.41,616.94 148.50,612.19 148.58,612.60 148.67,619.05 148.75,618.13 148.84,619.45 148.92,614.95 149.01,615.81 149.09,615.22 149.17,622.23 149.26,616.14 149.34,620.06 149.43,621.99 149.51,617.24 149.60,618.90 149.68,615.28 149.77,615.38 149.85,617.59 149.94,615.14 150.02,616.17 150.11,617.76 150.19,621.05 150.28,613.18 150.36,613.47 150.45,612.95 150.53,621.83 150.61,621.84 150.70,616.61 150.78,613.74 150.87,617.40 150.95,612.65 151.04,622.00 151.12,615.06 151.21,626.00 151.29,621.12 151.38,622.27 151.46,614.92 151.55,620.24 151.63,617.57 151.72,613.76 151.80,620.29 151.89,613.56 151.97,621.78 152.05,611.85 152.14,621.94 152.22,622.87 152.31,615.80 152.39,611.53 152.48,625.52 152.56,613.27 152.65,612.43 152.73,616.06 152.82,623.75 152.90,622.16 152.99,615.52 153.07,627.44 153.16,612.74 153.24,609.79 153.33,623.42 153.41,622.72 153.49,614.39 153.58,620.59 153.66,614.42 153.75,619.39 153.83,619.57 153.92,617.79 154.00,614.18 154.09,614.32 154.17,617.20 154.26,610.61 154.34,609.84 154.43,613.03 154.51,622.71 154.60,619.27 154.68,617.13 154.77,613.74 154.85,609.96 154.93,618.48 155.02,609.97 155.10,620.79 155.19,613.82 155.27,617.05 155.36,616.07 155.44,609.15 155.53,616.25 155.61,613.93 155.70,606.37 155.78,612.79 155.87,620.01 155.95,618.47 156.04,615.61 156.12,612.14 156.21,611.75 156.29,620.55 156.37,617.78 156.46,618.28 156.54,612.37 156.63,610.36 156.71,612.85 156.80,609.44 156.88,612.38 156.97,610.96 157.05,604.53 157.14,607.42 157.22,613.23 157.31,612.15 157.39,605.26 157.48,610.43 157.56,613.23 157.64,607.92 157.73,615.54 157.81,608.62 157.90,611.75 157.98,607.78 158.07,599.12 158.15,607.88 158.24,613.71 158.32,616.53 158.41,608.00 158.49,609.74 158.58,614.51 158.66,610.75 158.75,608.14 158.83,613.13 158.92,608.57 159.00,605.51 159.08,610.83 159.17,601.31 159.25,611.33 159.34,612.28 159.42,602.02 159.51,608.83 159.59,610.03 159.68,610.86 159.76,604.45 159.85,609.33 159.93,608.42 160.02,614.41 160.10,612.35 160.19,607.67 160.27,612.24 160.36,607.81 160.44,600.45 160.52,604.82 160.61,600.21 160.69,609.59 160.78,602.18 160.86,606.86 160.95,601.21 161.03,609.78 161.12,603.93 161.20,599.90 161.29,603.35 161.37,602.83 161.46,605.36 161.54,615.01 161.63,607.79 161.71,607.21 161.80,599.32 161.88,602.91 161.96,608.12 162.05,598.97 162.13,601.32 162.22,610.71 162.30,596.90 162.39,601.07 162.47,589.70 162.56,597.80 162.64,610.08 162.73,597.23 162.81,601.52 162.90,604.37 162.98,600.95 163.07,599.33 163.15,604.00 163.24,606.66 163.32,599.27 163.40,600.43 163.49,607.70 163.57,595.88 163.66,603.30 163.74,593.01 163.83,594.90 163.91,602.57 164.00,597.97 164.08,606.67 164.17,600.85 164.25,610.66 164.34,607.00 164.42,601.93 164.51,598.64 164.59,597.42 164.68,596.01 164.76,596.56 164.84,603.66 164.93,601.85 165.01,604.40 165.10,601.15 165.18,609.85 165.27,605.15 165.35,594.39 165.44,600.35 165.52,604.40 165.61,597.79 165.69,599.69 165.78,601.25 165.86,602.76 165.95,605.85 166.03,601.02 166.12,600.27 166.20,600.64 166.28,593.49 166.37,600.57 166.45,599.05 166.54,594.33 166.62,596.35 166.71,610.37 166.79,600.73 166.88,605.38 166.96,604.09 167.05,595.38 167.13,591.99 167.22,597.84 167.30,612.03 167.39,602.44 167.47,601.53 167.56,602.40 167.64,590.97 167.72,597.00 167.81,595.71 167.89,599.08 167.98,594.21 168.06,600.24 168.15,606.99 168.23,599.17 168.32,603.35 168.40,608.50 168.49,611.32 168.57,602.61 168.66,600.45 168.74,586.45 168.83,602.75 168.91,603.37 168.99,598.88 169.08,592.47 169.16,607.23 169.25,599.90 169.33,588.42 169.42,585.36 169.50,603.51 169.59,610.90 169.67,598.56 169.76,599.12 169.84,588.46 169.93,589.76 170.01,596.48 170.10,603.93 170.18,593.84 170.27,603.90 170.35,604.58 170.43,596.66 170.52,578.47 170.60,579.86 170.69,582.50 170.77,610.35 170.86,589.70 170.94,602.37 171.03,590.55 171.11,586.52 171.20,588.04 171.28,600.80 171.37,603.94 171.45,587.27 171.54,581.74 171.62,600.93 171.71,601.88 171.79,594.44 171.87,598.41 171.96,583.29 172.04,582.19 172.13,584.12 172.21,597.83 172.30,600.19 172.38,594.49 172.47,589.76 172.55,582.39 172.64,586.24 172.72,593.38 172.81,584.10 172.89,581.62 172.98,590.23 173.06,598.14 173.15,583.72 173.23,578.59 173.31,580.89 173.40,597.27 173.48,582.72 173.57,585.58 173.65,588.43 173.74,587.26 173.82,590.70 173.91,591.56 173.99,581.80 174.08,584.45 174.16,582.84 174.25,594.84 174.33,581.10 174.42,567.56 174.50,592.80 174.59,581.21 174.67,581.82 174.75,578.62 174.84,573.82 174.92,586.23 175.01,571.50 175.09,573.16 175.18,581.98 175.26,572.50 175.35,566.40 175.43,563.85 175.52,579.04 175.60,568.50 175.69,576.13 175.77,583.04 175.86,551.92 175.94,564.25 176.03,566.34 176.11,575.94 176.19,570.71 176.28,576.66 176.36,553.43 176.45,576.65 176.53,570.38 176.62,561.91 176.70,571.16 176.79,560.65 176.87,566.51 176.96,569.39 177.04,568.23 177.13,587.09 177.21,558.37 177.30,561.25 177.38,563.00 177.47,564.52 177.55,575.73 177.63,564.84 177.72,574.03 177.80,570.31 177.89,575.88 177.97,567.69 178.06,553.85 178.14,559.09 178.23,571.87 178.31,571.03 178.40,551.77 178.48,564.17 178.57,553.16 178.65,545.13 178.74,550.85 178.82,570.50 178.91,581.65 178.99,544.13 179.07,572.28 179.16,572.46 179.24,563.64 179.33,561.40 179.41,551.97 179.50,563.86 179.58,565.52 179.67,548.57 179.75,565.54 179.84,529.79 179.92,569.04 180.01,554.62 180.09,543.72 180.18,554.39 180.26,569.93 180.35,554.33 180.43,543.33 180.51,560.43 180.60,568.74 180.68,553.32 180.77,573.11 180.85,547.68 180.94,544.96 181.02,550.38 181.11,562.59 181.19,540.74 181.28,537.81 181.36,539.40 181.45,554.29 181.53,545.26 181.62,556.64 181.70,537.89 181.78,553.69 181.87,560.99 181.95,551.20 182.04,543.58 182.12,549.74 182.21,550.20 182.29,557.81 182.38,547.56 182.46,549.14 182.55,547.50 182.63,549.68 182.72,548.87 182.80,556.05 182.89,530.62 182.97,563.85 183.06,545.97 183.14,537.02 183.22,565.12 183.31,564.73 183.39,541.56 183.48,523.93 183.56,538.55 183.65,552.95 183.73,554.63 183.82,555.27 183.90,562.29 183.99,556.31 184.07,541.86 184.16,553.84 184.24,547.46 184.33,543.51 184.41,558.04 184.50,555.61 184.58,550.51 184.66,560.36 184.75,551.97 184.83,547.06 184.92,553.20 185.00,569.83 185.09,551.50 185.17,556.37 185.26,555.08 185.34,566.38 185.43,554.87 185.51,556.86 185.60,561.68 185.68,563.87 185.77,558.41 185.85,575.46 185.94,555.20 186.02,562.78 186.10,548.37 186.19,576.27 186.27,563.63 186.36,556.52 186.44,557.22 186.53,564.25 186.61,551.23 186.70,565.35 186.78,556.33 186.87,562.08 186.95,564.47 187.04,569.80 187.12,569.33 187.21,568.48 187.29,560.42 187.38,569.63 187.46,574.33 187.54,559.10 187.63,563.86 187.71,560.36 187.80,565.20 187.88,550.44 187.97,559.76 188.05,564.16 188.14,562.89 188.22,558.59 188.31,566.82 188.39,561.85 188.48,570.96 188.56,554.84 188.65,571.40 188.73,600.51 188.82,564.54 188.90,574.11 188.98,572.98 189.07,565.48 189.15,597.70 189.24,589.11 189.32,574.49 189.41,585.58 189.49,568.35 189.58,569.68 189.66,578.58 189.75,567.67 189.83,592.76 189.92,576.75 190.00,568.52 190.09,564.79 190.17,572.27 190.26,564.60 190.34,574.38 190.42,579.50 190.51,576.01 190.59,558.55 190.68,561.25 190.76,576.74 190.85,576.20 190.93,576.51 191.02,593.18 191.10,585.76 191.19,580.80 191.27,588.63 191.36,584.60 191.44,592.92 191.53,584.61 191.61,576.71 191.70,584.27 191.78,578.95 191.86,586.83 191.95,591.95 192.03,585.47 192.12,599.86 192.20,592.77 192.29,590.10 192.37,592.17 192.46,585.94 192.54,594.43 192.63,583.06 192.71,584.18 192.80,589.43 192.88,595.12 192.97,598.68 193.05,587.42 193.14,593.66 193.22,574.82 193.30,587.25 193.39,584.25 193.47,599.32 193.56,594.44 193.64,597.47 193.73,609.49 193.81,593.87 193.90,598.22 193.98,597.91 194.07,594.35 194.15,591.13 194.24,594.08 194.32,588.05 194.41,601.94 194.49,594.06 194.57,603.16 194.66,600.77 194.74,593.99 194.83,597.54 194.91,599.38 195.00,599.88 195.08,598.03 195.17,595.39 195.25,599.16 195.34,604.78 195.42,598.97 195.51,603.59 195.59,602.55 195.68,603.50 195.76,600.16 195.85,603.98 195.93,607.17 196.01,612.33 196.10,612.22 196.18,605.07 196.27,609.96 196.35,603.63 196.44,607.68 196.52,607.07 196.61,608.88 196.69,598.16 196.78,605.39 196.86,607.68 196.95,607.45 197.03,620.71 197.12,614.78 197.20,606.56 197.29,606.68 197.37,615.52 197.45,621.32 197.54,618.53 197.62,611.52 197.71,614.85 197.79,610.06 197.88,615.83 197.96,614.20 198.05,613.58 198.13,616.58 198.22,618.28 198.30,619.38 198.39,618.07 198.47,617.56 198.56,614.14 198.64,618.22 198.73,621.02 198.81,623.51 198.89,622.66 198.98,618.41 199.06,619.91 199.15,615.46 199.23,621.58 199.32,623.05 199.40,616.30 199.49,618.27 199.57,617.80 199.66,627.55 199.74,623.34 199.83,622.55 199.91,622.99 200.00,633.11 200.08,624.24 200.17,624.82 200.25,620.86 200.33,626.21 200.42,625.41 200.50,626.62 200.59,630.41 200.67,624.13 200.76,619.69 200.84,630.75 200.93,621.68 201.01,621.32 201.10,633.16 201.18,633.13 201.27,631.55 201.35,632.42 201.44,631.81 201.52,633.29 201.61,631.01 201.69,628.33 201.77,627.31 201.86,631.27 201.94,634.45 202.03,629.08 202.11,629.08 202.20,634.49 202.28,630.41 202.37,636.18 202.45,634.98 202.54,632.30 202.62,633.84 202.71,629.20 202.79,634.04 202.88,632.84 202.96,629.90 203.05,639.74 203.13,632.14 203.21,630.55 203.30,635.69 203.38,631.28 203.47,639.35 203.55,638.79 203.64,640.69 203.72,630.50 203.81,639.43 203.89,634.78 203.98,642.79 204.06,633.83 204.15,642.14 204.23,640.14 204.32,646.85 204.40,642.57 204.49,634.96 204.57,643.37 204.65,633.18 204.74,631.28 204.82,639.81 204.91,644.15 204.99,640.90 205.08,638.95 205.16,647.07 205.25,642.49 205.33,639.89 205.42,639.17 205.50,647.36 205.59,641.23 205.67,640.89 205.76,637.64 205.84,640.60 205.93,638.20 206.01,640.12 206.09,645.13 206.18,633.02 206.26,640.34 206.35,641.96 206.43,644.30 206.52,637.91 206.60,643.11 206.69,641.64 206.77,643.04 206.86,644.43 206.94,649.46 207.03,646.28 207.11,638.69 207.20,643.90 207.28,647.19 207.36,648.09 207.45,648.10 207.53,646.89 207.62,646.20 207.70,641.03 207.79,644.84 207.87,640.61 207.96,651.86 208.04,647.14 208.13,653.01 208.21,653.98 208.30,646.35 208.38,653.08 208.47,647.21 208.55,650.42 208.64,644.00 208.72,644.00 208.80,653.13 208.89,645.74 208.97,648.39 209.06,646.82 209.14,650.31 209.23,644.87 209.31,645.78 209.40,649.22 209.48,654.27 209.57,656.95 209.65,646.35 209.74,649.01 209.82,654.29 209.91,652.89 209.99,641.81 210.08,653.60 210.16,649.18 210.24,646.28 210.33,643.20 210.41,649.58 210.50,649.17 210.58,654.51 210.67,649.51 210.75,651.18 210.84,654.56 210.92,654.86 211.01,647.53 211.09,648.25 211.18,643.41 211.26,652.79 211.35,658.06 211.43,645.71 211.52,650.13 211.60,646.92 211.68,654.35 211.77,653.56 211.85,647.84 211.94,654.94 212.02,652.83 212.11,652.78 212.19,650.12 212.28,649.77 212.36,655.34 212.45,650.31 212.53,653.87 212.62,653.60 212.70,652.91 212.79,650.67 212.87,653.83 212.96,652.20 213.04,655.98 213.12,658.01 213.21,657.18 213.29,653.24 213.38,653.83 213.46,653.72 213.55,658.17 213.63,656.60 213.72,654.36 213.80,652.50 213.89,653.18 213.97,655.68 214.06,656.87 214.14,659.27 214.23,656.54 214.31,651.83 214.40,655.87 214.48,656.92 214.56,654.65 214.65,647.76 214.73,656.93 214.82,658.47 214.90,660.62 214.99,661.62 215.07,654.89 215.16,655.19 215.24,657.93 215.33,655.21 215.41,654.77 215.50,658.65 215.58,655.85 215.67,654.33 215.75,660.89 215.84,657.28 215.92,656.76 216.00,662.04 216.09,650.51 216.17,654.33 216.26,652.13 216.34,661.41 216.43,657.69 216.51,654.43 216.60,659.05 216.68,652.14 216.77,660.86 216.85,658.07 216.94,659.08 217.02,662.64 217.11,658.93 217.19,658.38 217.28,661.35 217.36,659.86 217.44,656.10 217.53,656.45 217.61,657.60 217.70,657.01 217.78,655.56 217.87,659.54 217.95,661.05 218.04,658.99 218.12,658.94 218.21,661.14 218.29,658.90 218.38,658.79 218.46,656.93 218.55,662.21 218.63,656.63 218.72,660.43 218.80,663.64 218.88,657.29 218.97,658.85 219.05,659.94 219.14,663.26 219.22,658.26 219.31,663.14 219.39,663.31 219.48,660.86 219.56,658.34 219.65,660.73 219.73,660.60 219.82,663.27 219.90,658.71 219.99,662.02 220.07,659.66 220.15,654.19 220.24,660.76 220.32,663.95 220.41,665.01 220.49,663.94 220.58,664.07 220.66,660.98 220.75,658.41 220.83,661.72 220.92,662.55 221.00,660.34 221.09,663.99 221.17,662.57 221.26,659.81 221.34,659.14 221.43,663.04 221.51,663.10 221.59,663.42 221.68,661.58 221.76,658.65 221.85,662.23 221.93,665.22 222.02,659.90 222.10,659.92 222.19,659.81 222.27,660.63 222.36,663.53 222.44,665.17 222.53,661.44 222.61,663.49 222.70,662.58 222.78,659.81 222.87,667.21 222.95,667.02 223.03,666.48 223.12,664.75 223.20,663.41 223.29,662.47 223.37,665.13 223.46,660.64 223.54,664.05 223.63,661.67 223.71,659.65 223.80,660.88 223.88,664.20 223.97,663.70 224.05,662.43 224.14,661.74 224.22,666.33 224.31,666.21 224.39,665.08 224.47,661.35 224.56,663.35 224.64,664.10 224.73,667.14 224.81,667.08 224.90,663.20 224.98,666.46 225.07,661.94 225.15,666.06 225.24,663.78 225.32,662.57 225.41,663.01 225.49,664.34 225.58,659.54 225.66,664.53 225.75,663.44 225.83,665.16 225.91,662.21 226.00,661.82 226.08,661.90 226.17,663.92 226.25,662.51 226.34,666.84 226.42,665.50 226.51,663.26 226.59,669.53 226.68,668.25 226.76,663.30 226.85,664.46 226.93,665.47 227.02,665.37 227.10,661.75 227.19,664.00 227.27,665.79 227.35,668.21 227.44,664.83 227.52,667.56 227.61,665.58 227.69,666.80 227.78,662.53 227.86,666.77 227.95,665.36 228.03,662.34 228.12,670.05 228.20,666.48 228.29,668.77 228.37,662.11 228.46,664.57 228.54,665.66 228.63,665.18 228.71,663.94 228.79,664.36 228.88,665.33 228.96,663.63 229.05,664.83 229.13,661.59 229.22,667.92 229.30,666.40 229.39,664.16 229.47,664.07 229.56,666.84 229.64,663.10 229.73,663.91 229.81,662.36 229.90,666.43 229.98,663.44 230.07,666.09 230.15,665.21 230.23,664.42 230.32,666.86 230.40,666.66 230.49,662.52 230.57,668.02 230.66,664.99 230.74,663.43 230.83,663.13 230.91,666.52 231.00,668.22 231.08,664.03 231.17,667.35 231.25,666.29 231.34,667.77 231.42,669.12 231.51,667.59 231.59,666.94 231.67,669.94 231.76,663.71 231.84,667.01 231.93,663.34 232.01,664.31 232.10,667.67 232.18,666.65 232.27,667.50 232.35,666.68 232.44,666.48 232.52,665.94 232.61,665.87 232.69,666.40 232.78,667.92 232.86,669.75 232.94,666.37 233.03,667.19 233.11,665.57 233.20,668.01 233.28,666.37 233.37,668.71 233.45,666.18 233.54,667.43 233.62,666.15 233.71,662.08 233.79,665.44 233.88,667.19 233.96,666.47 234.05,666.96 234.13,667.11 234.22,666.93 234.30,667.05 234.38,667.10 234.47,665.25 234.55,665.32 234.64,663.94 234.72,666.27 234.81,666.36 234.89,662.83 234.98,669.82 235.06,666.84 235.15,666.37 235.23,666.11 235.32,668.43 235.40,668.00 235.49,669.93 235.57,668.29 235.66,670.78 235.74,665.97 235.82,667.74 235.91,669.24 235.99,664.94 236.08,667.47 236.16,669.23 236.25,666.68 236.33,668.39 236.42,670.96 236.50,667.42 236.59,664.89 236.67,670.63 236.76,668.38 236.84,666.40 236.93,667.12 237.01,666.08 237.10,668.10 237.18,665.40 237.26,667.68 237.35,667.87 237.43,667.04 237.52,668.24 237.60,668.31 237.69,668.58 237.77,669.22 237.86,669.07 237.94,670.15 238.03,666.90 238.11,667.34 238.20,671.25 238.28,668.66 238.37,667.84 238.45,669.66 238.54,667.25 238.62,668.96 238.70,667.94 238.79,669.61 238.87,667.69 238.96,667.78 239.04,664.18 239.13,665.41 239.21,667.79 239.30,667.99 239.38,667.98 239.47,667.68 239.55,671.58 239.64,668.21 239.72,667.11 239.81,668.12 239.89,670.18 239.98,670.74 240.06,671.23 240.14,665.55 240.23,667.04 240.31,666.05 240.40,668.78 240.48,669.51 240.57,670.89 240.65,667.72 240.74,670.68 240.82,669.66 240.91,666.44 240.99,665.95 241.08,668.80 241.16,666.97 241.25,668.17 241.33,667.63 241.42,670.55 241.50,667.97 241.58,668.05 241.67,667.82 241.75,667.85 241.84,668.29 241.92,667.61 242.01,669.74 242.09,667.95 242.18,669.97 242.26,668.36 242.35,669.26 242.43,669.69 242.52,669.50 242.60,669.49 242.69,667.33 242.77,669.75 242.86,668.02 242.94,667.79 243.02,665.16 243.11,667.10 243.19,670.13 243.28,670.54 243.36,668.55 243.45,667.93 243.53,669.72 243.62,667.20 243.70,671.58 243.79,671.58 243.87,669.91 243.96,667.79 244.04,667.33 244.13,668.63 244.21,666.51 244.30,668.02 244.38,669.02 244.46,666.43 244.55,668.27 244.63,670.05 244.72,668.33 244.80,670.48 244.89,667.14 244.97,669.22 245.06,671.58 245.14,666.89 245.23,668.26 245.31,669.67 245.40,668.64 245.48,667.87 245.57,668.96 245.65,668.56 245.73,667.29 245.82,669.57 245.90,668.96 245.99,666.21 246.07,669.42 246.16,670.01 246.24,668.85 246.33,667.50 246.41,670.20 246.50,669.36 246.58,669.94 246.67,666.37 246.75,667.16 246.84,668.52 246.92,667.32 247.01,671.14 247.09,670.22 247.17,668.65 247.26,667.10 247.34,671.33 247.43,668.62 247.51,669.56 247.60,669.57 247.68,668.97 247.77,670.78 247.85,667.00 247.94,670.00 248.02,668.65 248.11,670.84 248.19,670.24 248.28,671.58 248.36,667.03 248.45,665.28 248.53,669.10 248.61,668.67 248.70,666.22 248.78,670.18 248.87,668.83 248.95,670.27 249.04,668.00 249.12,668.60 249.21,667.64 249.29,667.74 249.38,670.82 249.46,670.17 249.55,668.96 249.63,668.42 249.72,669.43 249.80,668.38 249.89,668.12 249.97,669.93 250.05,669.26 250.14,669.93 250.22,671.04 250.31,667.80 250.39,666.64 250.48,669.59 250.56,666.82 250.65,666.99 250.73,670.20 250.82,669.84 250.90,670.14 250.99,667.97 251.07,667.44 251.16,670.10 251.24,671.58 251.33,669.29 251.41,667.55 251.49,668.83 251.58,669.40 251.66,671.58 251.75,668.54 251.83,669.90 251.92,669.39 252.00,669.27 252.09,670.11 252.17,670.82 252.26,669.31 252.34,668.69 252.43,667.03 252.51,669.89 252.60,670.99 252.68,666.84 252.77,668.00 252.85,670.60 252.93,669.89 253.02,669.43 253.10,667.48 253.19,669.55 253.27,667.49 253.36,669.21 253.44,670.60 253.53,669.27 253.61,671.58 253.70,670.48 253.78,668.74 253.87,670.75 253.95,670.07 254.04,671.40 254.12,669.60 254.21,671.58 254.29,670.14 254.37,668.57 254.46,670.41 254.54,668.38 254.63,669.09 254.71,668.77 254.80,670.70 254.88,669.78 254.97,671.13 255.05,670.73 255.14,670.41 255.22,668.96 255.31,667.52 255.39,671.58 255.48,667.63 255.56,671.58 255.65,671.58 255.73,667.33 255.81,668.04 255.90,669.48 255.98,669.45 256.07,669.72 256.15,671.58 256.24,668.82 256.32,670.46 256.41,671.58 256.49,669.10 256.58,668.79 256.66,667.95 256.75,668.35 256.83,670.19 256.92,668.87 257.00,669.87 257.09,669.62 257.17,667.24 257.25,670.28 257.34,671.58 257.42,670.48 257.51,671.58 257.59,671.28 257.68,667.88 257.76,669.28 257.85,670.96 257.93,670.12 258.02,668.50 258.10,669.63 258.19,667.54 258.27,671.30 258.36,669.56 258.44,669.76 258.52,671.15 258.61,669.46 258.69,668.98 258.78,668.31 258.86,671.58 258.95,669.75 259.03,669.10 259.12,668.30 259.20,669.42 259.29,669.90 259.37,670.91 259.46,667.97 259.54,670.10 259.63,667.88 259.71,669.82 259.80,669.57 259.88,671.10 259.96,671.58 260.05,669.60 260.13,670.26 260.22,668.18 260.30,671.58 260.39,671.58 260.47,668.58 260.56,671.28 260.64,671.58 260.73,671.58 260.81,671.36 260.90,669.30 260.98,668.85 261.07,671.58 261.15,669.68 261.24,671.47 261.32,671.13 261.40,669.35 261.49,670.42 261.57,669.79 261.66,669.33 261.74,669.36 261.83,669.74 261.91,669.01 262.00,670.89 262.08,671.45 262.17,671.37 262.25,670.18 262.34,671.30 262.42,669.92 262.51,670.42 262.59,668.14 262.68,671.52 262.76,668.55 262.84,669.23 262.93,667.06 263.01,671.04 263.10,669.43 263.18,670.94 263.27,670.70 263.35,669.78 263.44,668.91 263.52,668.18 263.61,670.66 263.69,671.13 263.78,670.01 263.86,668.65 263.95,669.34 264.03,669.24 264.12,668.87 264.20,670.10" stroke="#e8dc14" stroke-width="1.1" fill="none" stroke-linejoin="round" opacity="1"/>
<polyline points="61.00,666.20 61.08,661.48 61.17,666.70 61.25,669.96 61.34,668.55 61.42,664.59 61.51,671.58 61.59,662.67 61.68,663.43 61.76,671.58 61.85,660.21 61.93,671.58 62.02,666.07 62.10,660.26 62.19,671.58 62.27,671.58 62.36,669.88 62.44,669.74 62.52,665.79 62.61,667.42 62.69,667.30 62.78,667.24 62.86,665.99 62.95,668.80 63.03,663.85 63.12,665.23 63.20,669.48 63.29,657.57 63.37,670.53 63.46,662.11 63.54,668.31 63.63,663.66 63.71,662.97 63.80,661.54 63.88,659.17 63.96,668.66 64.05,653.11 64.13,663.39 64.22,668.49 64.30,670.77 64.39,655.19 64.47,658.11 64.56,665.09 64.64,661.79 64.73,668.63 64.81,664.55 64.90,666.74 64.98,665.09 65.07,661.39 65.15,664.82 65.24,670.09 65.32,661.71 65.40,671.58 65.49,668.04 65.57,659.63 65.66,663.85 65.74,663.85 65.83,664.38 65.91,660.45 66.00,665.03 66.08,671.58 66.17,663.76 66.25,671.58 66.34,671.58 66.42,658.05 66.51,660.34 66.59,666.72 66.68,665.06 66.76,664.36 66.84,660.45 66.93,668.00 67.01,668.45 67.10,667.36 67.18,664.09 67.27,663.54 67.35,666.33 67.44,661.40 67.52,668.99 67.61,664.94 67.69,667.56 67.78,668.89 67.86,659.33 67.95,665.93 68.03,668.86 68.11,664.36 68.20,668.82 68.28,661.95 68.37,660.84 68.45,630.69 68.54,669.01 68.62,665.07 68.71,656.50 68.79,665.34 68.88,658.95 68.96,657.80 69.05,670.31 69.13,659.12 69.22,661.08 69.30,660.53 69.39,656.99 69.47,662.29 69.55,663.92 69.64,661.60 69.72,665.72 69.81,662.06 69.89,671.58 69.98,656.67 70.06,666.46 70.15,661.79 70.23,662.77 70.32,671.58 70.40,663.60 70.49,663.79 70.57,671.20 70.66,666.42 70.74,658.81 70.83,668.47 70.91,671.58 70.99,654.72 71.08,660.33 71.16,657.09 71.25,663.97 71.33,662.72 71.42,660.54 71.50,661.39 71.59,664.22 71.67,670.24 71.76,667.02 71.84,670.40 71.93,656.83 72.01,665.50 72.10,664.51 72.18,662.43 72.27,658.25 72.35,661.30 72.43,666.35 72.52,670.30 72.60,655.78 72.69,666.64 72.77,665.55 72.86,666.93 72.94,665.79 73.03,663.23 73.11,659.95 73.20,644.32 73.28,661.87 73.37,666.09 73.45,657.69 73.54,668.46 73.62,662.46 73.71,649.51 73.79,668.84 73.87,662.22 73.96,661.98 74.04,666.12 74.13,663.45 74.21,657.98 74.30,661.22 74.38,664.09 74.47,663.09 74.55,660.07 74.64,656.30 74.72,658.33 74.81,658.53 74.89,654.69 74.98,668.56 75.06,667.98 75.15,671.58 75.23,657.59 75.31,671.54 75.40,661.34 75.48,657.65 75.57,667.24 75.65,663.83 75.74,661.94 75.82,657.35 75.91,667.40 75.99,659.00 76.08,657.18 76.16,659.58 76.25,659.41 76.33,654.36 76.42,658.91 76.50,659.90 76.59,661.22 76.67,656.63 76.75,660.79 76.84,656.39 76.92,658.80 77.01,654.00 77.09,662.65 77.18,658.59 77.26,657.23 77.35,656.82 77.43,653.43 77.52,656.69 77.60,654.24 77.69,649.29 77.77,654.30 77.86,662.92 77.94,664.52 78.03,654.77 78.11,659.48 78.19,656.30 78.28,658.34 78.36,651.40 78.45,651.79 78.53,662.44 78.62,655.87 78.70,658.43 78.79,663.01 78.87,653.84 78.96,657.41 79.04,654.59 79.13,645.04 79.21,650.28 79.30,651.23 79.38,658.19 79.47,661.72 79.55,650.28 79.63,657.44 79.72,655.73 79.80,657.62 79.89,655.30 79.97,644.39 80.06,657.08 80.14,656.85 80.23,654.49 80.31,654.02 80.40,660.95 80.48,663.59 80.57,657.89 80.65,656.07 80.74,658.72 80.82,659.68 80.90,659.32 80.99,656.67 81.07,655.30 81.16,662.42 81.24,657.21 81.33,652.84 81.41,655.05 81.50,660.88 81.58,656.03 81.67,654.34 81.75,650.50 81.84,661.90 81.92,650.76 82.01,656.19 82.09,652.92 82.18,650.55 82.26,657.95 82.34,657.58 82.43,645.54 82.51,650.05 82.60,656.12 82.68,660.26 82.77,656.72 82.85,651.43 82.94,647.60 83.02,655.62 83.11,654.67 83.19,653.90 83.28,653.62 83.36,657.51 83.45,654.98 83.53,651.71 83.62,652.19 83.70,652.52 83.78,657.48 83.87,655.18 83.95,655.92 84.04,647.20 84.12,645.15 84.21,650.54 84.29,644.31 84.38,653.52 84.46,653.43 84.55,658.34 84.63,650.73 84.72,654.05 84.80,651.27 84.89,649.25 84.97,652.79 85.06,657.08 85.14,651.67 85.22,651.74 85.31,651.17 85.39,630.57 85.48,652.23 85.56,652.43 85.65,642.38 85.73,645.60 85.82,651.33 85.90,655.48 85.99,652.97 86.07,648.75 86.16,646.36 86.24,638.44 86.33,651.67 86.41,649.59 86.50,652.07 86.58,649.80 86.66,652.06 86.75,646.40 86.83,644.82 86.92,649.26 87.00,643.34 87.09,652.31 87.17,648.35 87.26,655.55 87.34,659.07 87.43,656.17 87.51,645.57 87.60,648.81 87.68,658.60 87.77,652.94 87.85,654.47 87.94,651.49 88.02,641.05 88.10,651.81 88.19,638.41 88.27,650.02 88.36,652.42 88.44,640.52 88.53,643.62 88.61,641.32 88.70,638.32 88.78,642.77 88.87,641.87 88.95,657.01 89.04,652.31 89.12,645.66 89.21,646.81 89.29,644.05 89.38,650.19 89.46,641.84 89.54,637.03 89.63,644.42 89.71,643.01 89.80,644.65 89.88,642.36 89.97,646.02 90.05,649.71 90.14,645.96 90.22,646.35 90.31,654.89 90.39,645.53 90.48,646.55 90.56,645.52 90.65,649.45 90.73,643.92 90.82,643.09 90.90,650.08 90.98,644.54 91.07,642.04 91.15,642.16 91.24,650.96 91.32,651.45 91.41,645.79 91.49,651.46 91.58,632.42 91.66,658.82 91.75,649.96 91.83,642.17 91.92,648.11 92.00,658.14 92.09,646.26 92.17,650.74 92.26,648.19 92.34,654.03 92.42,650.14 92.51,646.09 92.59,645.57 92.68,651.14 92.76,648.93 92.85,649.62 92.93,644.16 93.02,645.67 93.10,651.61 93.19,641.22 93.27,648.48 93.36,642.46 93.44,649.54 93.53,642.82 93.61,645.03 93.69,643.99 93.78,641.45 93.86,641.72 93.95,643.14 94.03,643.07 94.12,650.92 94.20,644.19 94.29,655.87 94.37,656.08 94.46,645.28 94.54,644.70 94.63,635.03 94.71,639.56 94.80,636.99 94.88,644.82 94.97,640.51 95.05,636.36 95.13,639.82 95.22,640.69 95.30,642.00 95.39,647.67 95.47,647.43 95.56,644.44 95.64,639.85 95.73,643.60 95.81,645.80 95.90,639.83 95.98,645.02 96.07,635.67 96.15,630.66 96.24,638.84 96.32,645.29 96.41,649.83 96.49,629.52 96.57,638.41 96.66,647.71 96.74,634.58 96.83,650.38 96.91,643.16 97.00,641.88 97.08,642.49 97.17,646.95 97.25,626.15 97.34,642.41 97.42,637.72 97.51,639.66 97.59,649.20 97.68,642.89 97.76,638.30 97.85,633.91 97.93,641.38 98.01,637.03 98.10,641.12 98.18,635.48 98.27,653.71 98.35,635.17 98.44,642.40 98.52,642.04 98.61,655.60 98.69,644.76 98.78,634.49 98.86,624.06 98.95,642.26 99.03,641.89 99.12,634.75 99.20,635.88 99.29,641.12 99.37,638.43 99.45,633.21 99.54,633.35 99.62,632.14 99.71,626.03 99.79,631.11 99.88,632.54 99.96,635.59 100.05,630.60 100.13,642.48 100.22,622.69 100.30,634.32 100.39,627.08 100.47,640.86 100.56,629.21 100.64,633.06 100.73,636.65 100.81,639.60 100.89,640.83 100.98,645.93 101.06,627.18 101.15,634.12 101.23,633.48 101.32,639.29 101.40,646.32 101.49,645.93 101.57,638.84 101.66,635.12 101.74,641.61 101.83,628.68 101.91,630.38 102.00,632.57 102.08,645.03 102.17,648.41 102.25,633.44 102.33,641.44 102.42,647.44 102.50,620.18 102.59,628.62 102.67,635.17 102.76,621.84 102.84,624.94 102.93,629.23 103.01,630.59 103.10,606.15 103.18,621.99 103.27,631.24 103.35,633.15 103.44,627.51 103.52,650.46 103.61,630.60 103.69,633.84 103.77,631.05 103.86,632.06 103.94,628.36 104.03,629.82 104.11,629.94 104.20,631.19 104.28,627.00 104.37,633.53 104.45,623.05 104.54,641.46 104.62,628.19 104.71,626.32 104.79,638.24 104.88,632.23 104.96,619.76 105.05,629.87 105.13,635.03 105.21,649.76 105.30,626.12 105.38,627.67 105.47,623.92 105.55,613.51 105.64,628.02 105.72,626.89 105.81,632.64 105.89,628.02 105.98,627.65 106.06,621.85 106.15,623.16 106.23,632.56 106.32,630.34 106.40,616.72 106.48,633.61 106.57,621.02 106.65,614.45 106.74,621.41 106.82,645.79 106.91,615.87 106.99,623.17 107.08,625.71 107.16,627.01 107.25,616.84 107.33,620.05 107.42,613.58 107.50,627.45 107.59,627.14 107.67,627.93 107.76,622.42 107.84,629.59 107.92,617.26 108.01,621.54 108.09,631.39 108.18,646.30 108.26,637.55 108.35,612.58 108.43,623.86 108.52,622.13 108.60,626.37 108.69,619.95 108.77,637.60 108.86,638.10 108.94,635.18 109.03,621.89 109.11,616.81 109.20,618.44 109.28,622.97 109.36,631.82 109.45,615.48 109.53,623.76 109.62,621.57 109.70,621.85 109.79,624.82 109.87,626.69 109.96,625.51 110.04,630.93 110.13,618.59 110.21,621.79 110.30,612.17 110.38,634.57 110.47,610.62 110.55,620.41 110.64,621.00 110.72,626.02 110.80,625.98 110.89,631.31 110.97,611.85 111.06,620.70 111.14,613.01 111.23,611.95 111.31,622.60 111.40,620.33 111.48,621.06 111.57,609.68 111.65,616.87 111.74,616.41 111.82,611.71 111.91,618.12 111.99,600.45 112.08,624.88 112.16,606.64 112.24,605.22 112.33,626.25 112.41,609.39 112.50,614.09 112.58,608.99 112.67,626.20 112.75,613.92 112.84,624.07 112.92,618.46 113.01,603.51 113.09,616.49 113.18,634.29 113.26,626.92 113.35,624.58 113.43,606.06 113.52,620.52 113.60,627.72 113.68,604.67 113.77,611.93 113.85,610.97 113.94,620.64 114.02,601.27 114.11,614.49 114.19,630.37 114.28,622.98 114.36,620.27 114.45,614.18 114.53,605.94 114.62,618.80 114.70,617.54 114.79,592.78 114.87,611.22 114.96,616.43 115.04,611.32 115.12,622.50 115.21,606.54 115.29,602.52 115.38,616.10 115.46,601.86 115.55,613.18 115.63,607.85 115.72,616.88 115.80,633.98 115.89,623.35 115.97,607.76 116.06,612.11 116.14,611.67 116.23,619.40 116.31,619.60 116.40,614.59 116.48,604.43 116.56,605.78 116.65,616.28 116.73,605.48 116.82,591.93 116.90,606.84 116.99,589.11 117.07,603.48 117.16,595.04 117.24,611.97 117.33,596.10 117.41,617.69 117.50,604.32 117.58,609.49 117.67,624.74 117.75,618.72 117.84,595.32 117.92,601.11 118.00,593.40 118.09,603.49 118.17,632.34 118.26,602.62 118.34,610.14 118.43,609.35 118.51,608.68 118.60,611.49 118.68,613.16 118.77,592.14 118.85,599.49 118.94,609.75 119.02,607.38 119.11,593.91 119.19,599.37 119.27,600.96 119.36,614.39 119.44,606.64 119.53,613.20 119.61,620.55 119.70,593.33 119.78,604.93 119.87,605.57 119.95,610.69 120.04,593.90 120.12,580.75 120.21,595.19 120.29,591.65 120.38,612.64 120.46,598.61 120.55,598.01 120.63,585.39 120.71,599.70 120.80,608.87 120.88,600.08 120.97,603.53 121.05,584.82 121.14,592.33 121.22,595.34 121.31,596.76 121.39,590.00 121.48,603.05 121.56,607.13 121.65,616.54 121.73,585.83 121.82,592.43 121.90,590.89 121.99,596.70 122.07,580.31 122.15,606.62 122.24,584.52 122.32,604.91 122.41,600.81 122.49,608.36 122.58,595.01 122.66,598.68 122.75,591.21 122.83,601.34 122.92,609.37 123.00,589.30 123.09,581.80 123.17,587.23 123.26,595.11 123.34,590.26 123.43,611.58 123.51,597.47 123.59,602.16 123.68,588.99 123.76,602.32 123.85,584.56 123.93,594.57 124.02,585.50 124.10,610.81 124.19,598.14 124.27,589.16 124.36,589.22 124.44,586.44 124.53,592.13 124.61,593.91 124.70,586.77 124.78,582.49 124.87,607.16 124.95,594.54 125.03,593.14 125.12,589.18 125.20,580.05 125.29,604.47 125.37,584.74 125.46,608.41 125.54,597.96 125.63,595.36 125.71,592.55 125.80,596.01 125.88,594.81 125.97,592.83 126.05,591.92 126.14,608.50 126.22,603.65 126.31,593.23 126.39,582.77 126.47,577.52 126.56,557.56 126.64,586.78 126.73,596.22 126.81,585.71 126.90,580.14 126.98,585.82 127.07,598.59 127.15,588.09 127.24,587.30 127.32,601.95 127.41,599.64 127.49,573.37 127.58,610.47 127.66,584.25 127.75,588.77 127.83,570.64 127.91,578.96 128.00,594.94 128.08,571.52 128.17,591.33 128.25,563.15 128.34,566.65 128.42,585.59 128.51,576.02 128.59,582.37 128.68,594.23 128.76,572.31 128.85,579.21 128.93,574.32 129.02,571.71 129.10,567.70 129.19,571.73 129.27,584.11 129.35,581.97 129.44,578.17 129.52,583.98 129.61,585.12 129.69,561.40 129.78,576.64 129.86,560.64 129.95,590.52 130.03,582.15 130.12,586.44 130.20,585.79 130.29,584.50 130.37,582.46 130.46,585.85 130.54,560.23 130.63,572.90 130.71,588.95 130.79,586.53 130.88,571.62 130.96,573.76 131.05,586.84 131.13,569.07 131.22,596.03 131.30,584.84 131.39,559.33 131.47,609.21 131.56,581.31 131.64,567.36 131.73,580.34 131.81,587.59 131.90,588.72 131.98,602.46 132.06,593.55 132.15,577.17 132.23,584.46 132.32,577.80 132.40,579.27 132.49,574.03 132.57,596.76 132.66,580.72 132.74,580.95 132.83,580.49 132.91,587.18 133.00,602.50 133.08,568.92 133.17,566.60 133.25,547.96 133.34,567.31 133.42,556.29 133.50,568.63 133.59,580.14 133.67,569.54 133.76,589.32 133.84,572.30 133.93,576.39 134.01,587.64 134.10,560.10 134.18,561.20 134.27,568.99 134.35,564.57 134.44,554.37 134.52,575.80 134.61,590.48 134.69,585.52 134.78,565.32 134.86,570.89 134.94,591.71 135.03,557.29 135.11,570.70 135.20,553.43 135.28,559.22 135.37,578.30 135.45,571.66 135.54,581.77 135.62,582.97 135.71,576.17 135.79,566.19 135.88,555.31 135.96,583.20 136.05,563.32 136.13,571.43 136.22,574.53 136.30,557.62 136.38,575.99 136.47,554.23 136.55,575.49 136.64,582.76 136.72,561.48 136.81,589.29 136.89,585.79 136.98,573.13 137.06,600.09 137.15,573.96 137.23,595.42 137.32,587.27 137.40,563.79 137.49,563.33 137.57,582.89 137.66,566.59 137.74,567.26 137.82,556.83 137.91,580.29 137.99,550.97 138.08,573.37 138.16,550.92 138.25,557.44 138.33,582.16 138.42,573.09 138.50,565.33 138.59,555.84 138.67,586.66 138.76,575.17 138.84,560.61 138.93,562.37 139.01,582.06 139.10,580.00 139.18,562.73 139.26,581.49 139.35,565.10 139.43,556.12 139.52,567.74 139.60,602.78 139.69,552.47 139.77,552.67 139.86,549.09 139.94,556.28 140.03,589.45 140.11,548.79 140.20,562.74 140.28,554.85 140.37,569.17 140.45,570.21 140.54,570.02 140.62,545.82 140.70,563.14 140.79,569.35 140.87,583.49 140.96,560.30 141.04,566.27 141.13,564.28 141.21,553.19 141.30,556.60 141.38,566.06 141.47,563.16 141.55,564.75 141.64,556.33 141.72,556.60 141.81,563.85 141.89,577.05 141.98,554.32 142.06,553.49 142.14,579.71 142.23,560.18 142.31,570.47 142.40,594.47 142.48,565.78 142.57,552.40 142.65,574.85 142.74,574.46 142.82,551.26 142.91,579.67 142.99,577.49 143.08,569.06 143.16,556.35 143.25,556.22 143.33,571.71 143.42,568.71 143.50,563.29 143.58,569.68 143.67,576.04 143.75,579.08 143.84,554.66 143.92,567.18 144.01,534.40 144.09,555.68 144.18,574.22 144.26,563.98 144.35,559.33 144.43,558.51 144.52,534.40 144.60,557.66 144.69,565.62 144.77,554.89 144.85,534.40 144.94,569.58 145.02,568.73 145.11,553.90 145.19,546.57 145.28,552.34 145.36,546.87 145.45,564.02 145.53,566.44 145.62,554.39 145.70,554.08 145.79,540.48 145.87,541.98 145.96,587.94 146.04,552.53 146.13,572.17 146.21,591.70 146.29,557.69 146.38,565.30 146.46,567.72 146.55,580.43 146.63,576.76 146.72,565.85 146.80,583.26 146.89,564.39 146.97,561.35 147.06,564.96 147.14,558.80 147.23,563.78 147.31,578.65 147.40,576.89 147.48,560.99 147.57,549.67 147.65,560.74 147.73,569.61 147.82,560.50 147.90,587.36 147.99,576.27 148.07,567.87 148.16,563.59 148.24,567.13 148.33,566.38 148.41,578.84 148.50,570.47 148.58,559.28 148.67,587.71 148.75,578.98 148.84,567.36 148.92,542.45 149.01,553.39 149.09,541.30 149.17,544.30 149.26,568.65 149.34,563.48 149.43,578.49 149.51,546.51 149.60,552.55 149.68,554.40 149.77,553.42 149.85,556.15 149.94,559.56 150.02,558.63 150.11,545.89 150.19,573.07 150.28,576.55 150.36,562.27 150.45,546.51 150.53,559.01 150.61,565.05 150.70,550.90 150.78,560.70 150.87,588.05 150.95,575.88 151.04,590.61 151.12,565.15 151.21,568.22 151.29,556.14 151.38,534.40 151.46,570.19 151.55,561.96 151.63,567.24 151.72,600.27 151.80,572.38 151.89,571.79 151.97,558.26 152.05,573.37 152.14,579.51 152.22,553.94 152.31,562.82 152.39,574.08 152.48,583.47 152.56,565.98 152.65,550.74 152.73,542.54 152.82,579.62 152.90,545.99 152.99,561.09 153.07,556.91 153.16,548.60 153.24,574.90 153.33,550.10 153.41,579.52 153.49,568.10 153.58,573.31 153.66,538.81 153.75,539.43 153.83,551.41 153.92,554.69 154.00,568.90 154.09,538.01 154.17,542.67 154.26,549.41 154.34,563.14 154.43,566.34 154.51,562.73 154.60,543.52 154.68,574.38 154.77,559.93 154.85,539.32 154.93,549.48 155.02,537.82 155.10,555.80 155.19,555.58 155.27,542.63 155.36,552.51 155.44,556.68 155.53,568.23 155.61,581.39 155.70,541.08 155.78,566.90 155.87,571.34 155.95,549.48 156.04,573.23 156.12,579.51 156.21,568.91 156.29,562.04 156.37,557.51 156.46,554.27 156.54,548.08 156.63,562.79 156.71,556.28 156.80,562.76 156.88,569.92 156.97,562.42 157.05,558.92 157.14,536.30 157.22,553.29 157.31,570.86 157.39,553.41 157.48,564.91 157.56,540.27 157.64,587.47 157.73,570.64 157.81,570.68 157.90,560.21 157.98,563.66 158.07,583.44 158.15,595.82 158.24,559.68 158.32,542.45 158.41,542.71 158.49,567.79 158.58,556.30 158.66,574.28 158.75,582.18 158.83,546.26 158.92,553.77 159.00,567.49 159.08,568.13 159.17,550.84 159.25,558.98 159.34,567.95 159.42,559.74 159.51,563.78 159.59,577.17 159.68,573.55 159.76,551.55 159.85,570.49 159.93,580.13 160.02,540.04 160.10,547.72 160.19,557.58 160.27,565.64 160.36,562.25 160.44,584.53 160.52,565.42 160.61,561.62 160.69,568.15 160.78,559.75 160.86,576.05 160.95,563.46 161.03,587.13 161.12,566.56 161.20,574.62 161.29,584.35 161.37,572.01 161.46,566.54 161.54,574.96 161.63,543.37 161.71,576.63 161.80,554.85 161.88,557.78 161.96,575.81 162.05,548.62 162.13,586.24 162.22,560.97 162.30,567.38 162.39,558.16 162.47,589.53 162.56,584.64 162.64,579.97 162.73,568.73 162.81,568.01 162.90,569.05 162.98,572.91 163.07,579.02 163.15,588.03 163.24,575.57 163.32,562.88 163.40,556.48 163.49,576.97 163.57,555.97 163.66,588.54 163.74,560.15 163.83,585.18 163.91,567.49 164.00,583.64 164.08,583.93 164.17,578.35 164.25,552.16 164.34,580.15 164.42,563.03 164.51,569.35 164.59,567.48 164.68,567.42 164.76,563.29 164.84,587.82 164.93,571.26 165.01,567.27 165.10,579.80 165.18,567.33 165.27,575.76 165.35,562.57 165.44,581.70 165.52,576.15 165.61,561.93 165.69,558.16 165.78,580.23 165.86,581.25 165.95,559.62 166.03,611.35 166.12,555.11 166.20,555.81 166.28,587.37 166.37,577.69 166.45,568.46 166.54,567.26 166.62,604.38 166.71,580.10 166.79,576.19 166.88,579.17 166.96,578.96 167.05,577.68 167.13,612.21 167.22,576.69 167.30,583.36 167.39,575.36 167.47,580.89 167.56,574.38 167.64,570.64 167.72,550.79 167.81,585.57 167.89,552.10 167.98,577.96 168.06,586.75 168.15,594.23 168.23,563.42 168.32,595.29 168.40,562.94 168.49,570.56 168.57,582.86 168.66,584.25 168.74,568.93 168.83,573.43 168.91,565.65 168.99,575.66 169.08,582.57 169.16,568.60 169.25,591.86 169.33,564.62 169.42,575.28 169.50,591.02 169.59,589.75 169.67,580.57 169.76,600.62 169.84,557.74 169.93,571.72 170.01,591.15 170.10,578.09 170.18,553.94 170.27,571.32 170.35,590.38 170.43,605.76 170.52,598.90 170.60,561.01 170.69,572.81 170.77,594.70 170.86,567.69 170.94,582.14 171.03,586.30 171.11,584.41 171.20,583.71 171.28,555.05 171.37,590.32 171.45,583.08 171.54,559.77 171.62,557.52 171.71,617.28 171.79,550.07 171.87,563.12 171.96,598.07 172.04,553.74 172.13,598.11 172.21,569.04 172.30,593.83 172.38,602.39 172.47,566.91 172.55,572.76 172.64,579.64 172.72,575.99 172.81,580.02 172.89,582.19 172.98,593.20 173.06,570.92 173.15,581.29 173.23,582.22 173.31,586.66 173.40,582.82 173.48,599.61 173.57,583.31 173.65,592.50 173.74,561.85 173.82,592.17 173.91,585.43 173.99,594.42 174.08,568.67 174.16,573.24 174.25,579.32 174.33,550.34 174.42,579.85 174.50,575.30 174.59,542.73 174.67,591.82 174.75,566.77 174.84,584.22 174.92,597.74 175.01,588.39 175.09,568.72 175.18,599.70 175.26,582.61 175.35,567.52 175.43,583.42 175.52,576.63 175.60,589.35 175.69,588.80 175.77,588.73 175.86,585.21 175.94,571.94 176.03,579.51 176.11,553.90 176.19,573.19 176.28,576.94 176.36,550.31 176.45,582.29 176.53,591.79 176.62,578.84 176.70,595.73 176.79,574.03 176.87,562.59 176.96,572.49 177.04,586.73 177.13,583.20 177.21,574.75 177.30,565.37 177.38,586.83 177.47,587.10 177.55,566.81 177.63,578.63 177.72,576.98 177.80,575.16 177.89,592.25 177.97,583.84 178.06,567.51 178.14,584.09 178.23,584.71 178.31,578.04 178.40,576.89 178.48,547.79 178.57,593.27 178.65,580.47 178.74,555.12 178.82,582.05 178.91,577.45 178.99,602.38 179.07,569.56 179.16,571.02 179.24,571.80 179.33,585.46 179.41,578.08 179.50,584.10 179.58,571.76 179.67,583.57 179.75,572.83 179.84,601.71 179.92,588.16 180.01,622.44 180.09,585.95 180.18,573.62 180.26,587.70 180.35,552.48 180.43,597.93 180.51,589.20 180.60,597.30 180.68,591.73 180.77,591.44 180.85,605.22 180.94,598.68 181.02,558.07 181.11,589.31 181.19,573.58 181.28,603.35 181.36,587.90 181.45,591.24 181.53,589.05 181.62,593.87 181.70,589.68 181.78,586.95 181.87,576.26 181.95,571.42 182.04,605.88 182.12,616.12 182.21,591.06 182.29,588.63 182.38,579.20 182.46,574.68 182.55,598.41 182.63,561.68 182.72,586.39 182.80,614.08 182.89,577.35 182.97,586.85 183.06,586.97 183.14,612.68 183.22,595.48 183.31,589.47 183.39,593.96 183.48,582.83 183.56,575.38 183.65,572.02 183.73,575.97 183.82,595.16 183.90,570.18 183.99,590.15 184.07,582.39 184.16,597.49 184.24,613.30 184.33,625.34 184.41,592.48 184.50,604.38 184.58,595.60 184.66,585.39 184.75,616.62 184.83,620.01 184.92,593.04 185.00,591.88 185.09,600.72 185.17,604.36 185.26,618.94 185.34,598.96 185.43,608.02 185.51,592.52 185.60,585.86 185.68,606.26 185.77,593.48 185.85,596.82 185.94,590.18 186.02,579.29 186.10,591.21 186.19,590.79 186.27,589.91 186.36,606.43 186.44,601.08 186.53,596.63 186.61,584.99 186.70,584.51 186.78,571.77 186.87,616.69 186.95,602.98 187.04,625.56 187.12,610.03 187.21,624.92 187.29,587.97 187.38,593.67 187.46,618.08 187.54,599.71 187.63,594.65 187.71,581.73 187.80,593.96 187.88,603.46 187.97,606.57 188.05,597.40 188.14,601.87 188.22,612.38 188.31,622.33 188.39,592.81 188.48,616.27 188.56,588.55 188.65,596.93 188.73,608.33 188.82,593.10 188.90,622.70 188.98,598.46 189.07,625.86 189.15,628.34 189.24,622.62 189.32,607.84 189.41,618.35 189.49,627.69 189.58,594.62 189.66,622.78 189.75,612.08 189.83,607.60 189.92,617.23 190.00,606.73 190.09,603.69 190.17,613.18 190.26,598.82 190.34,619.96 190.42,626.17 190.51,610.29 190.59,625.48 190.68,608.59 190.76,614.94 190.85,619.84 190.93,606.80 191.02,607.61 191.10,652.16 191.19,618.94 191.27,613.39 191.36,609.22 191.44,622.53 191.53,630.36 191.61,614.58 191.70,621.16 191.78,642.49 191.86,635.73 191.95,624.50 192.03,649.79 192.12,625.10 192.20,607.61 192.29,631.39 192.37,616.65 192.46,629.66 192.54,613.61 192.63,611.04 192.71,603.18 192.80,637.31 192.88,606.82 192.97,615.13 193.05,626.18 193.14,602.39 193.22,628.20 193.30,618.99 193.39,591.23 193.47,610.90 193.56,631.91 193.64,618.46 193.73,629.09 193.81,624.34 193.90,641.20 193.98,620.42 194.07,642.24 194.15,619.10 194.24,619.32 194.32,613.85 194.41,597.37 194.49,644.69 194.57,639.35 194.66,637.22 194.74,632.28 194.83,615.09 194.91,630.02 195.00,633.27 195.08,640.06 195.17,634.33 195.25,632.30 195.34,628.56 195.42,644.70 195.51,628.77 195.59,621.37 195.68,624.25 195.76,643.50 195.85,619.18 195.93,619.66 196.01,625.92 196.10,644.27 196.18,647.42 196.27,629.80 196.35,642.67 196.44,646.57 196.52,620.56 196.61,620.61 196.69,624.05 196.78,616.49 196.86,621.55 196.95,645.94 197.03,619.24 197.12,631.50 197.20,628.00 197.29,615.14 197.37,628.53 197.45,615.62 197.54,633.53 197.62,638.86 197.71,642.88 197.79,636.51 197.88,654.65 197.96,636.15 198.05,637.07 198.13,642.08 198.22,661.87 198.30,661.12 198.39,628.52 198.47,647.87 198.56,621.38 198.64,645.51 198.73,633.44 198.81,667.45 198.89,645.28 198.98,640.73 199.06,631.83 199.15,619.54 199.23,627.93 199.32,655.51 199.40,639.20 199.49,641.37 199.57,646.86 199.66,633.25 199.74,622.31 199.83,645.38 199.91,627.91 200.00,624.99 200.08,652.68 200.17,621.18 200.25,622.35 200.33,638.03 200.42,626.53 200.50,638.86 200.59,629.04 200.67,634.76 200.76,651.63 200.84,639.37 200.93,644.25 201.01,647.97 201.10,655.32 201.18,651.36 201.27,656.42 201.35,630.65 201.44,664.54 201.52,642.47 201.61,671.58 201.69,657.08 201.77,635.81 201.86,652.38 201.94,630.86 202.03,645.90 202.11,640.50 202.20,645.58 202.28,637.32 202.37,634.34 202.45,649.27 202.54,644.67 202.62,625.98 202.71,650.85 202.79,625.69 202.88,649.10 202.96,650.92 203.05,662.90 203.13,654.13 203.21,663.59 203.30,651.38 203.38,638.25 203.47,646.20 203.55,651.93 203.64,656.42 203.72,652.96 203.81,660.98 203.89,659.12 203.98,625.96 204.06,643.67 204.15,655.66 204.23,639.41 204.32,631.00 204.40,652.99 204.49,647.65 204.57,659.43 204.65,662.94 204.74,632.74 204.82,612.06 204.91,654.41 204.99,663.44 205.08,632.72 205.16,636.46 205.25,642.41 205.33,632.46 205.42,650.73 205.50,644.63 205.59,639.56 205.67,650.67 205.76,635.87 205.84,650.04 205.93,643.21 206.01,646.20 206.09,667.50 206.18,647.03 206.26,662.13 206.35,656.47 206.43,664.53 206.52,640.15 206.60,651.46 206.69,652.09 206.77,636.12 206.86,641.44 206.94,650.56 207.03,668.85 207.11,642.13 207.20,651.65 207.28,652.23 207.36,641.58 207.45,654.91 207.53,649.63 207.62,640.27 207.70,643.39 207.79,654.91 207.87,634.97 207.96,637.96 208.04,630.86 208.13,639.61 208.21,647.11 208.30,639.08 208.38,645.02 208.47,647.96 208.55,650.31 208.64,652.27 208.72,655.65 208.80,655.62 208.89,645.58 208.97,652.43 209.06,663.05 209.14,649.07 209.23,633.76 209.31,636.65 209.40,668.88 209.48,657.79 209.57,642.32 209.65,649.01 209.74,649.13 209.82,651.07 209.91,649.30 209.99,659.58 210.08,638.65 210.16,659.87 210.24,651.33 210.33,635.39 210.41,639.70 210.50,650.12 210.58,650.15 210.67,655.78 210.75,654.88 210.84,652.40 210.92,637.48 211.01,654.31 211.09,644.86 211.18,646.16 211.26,646.42 211.35,652.93 211.43,643.34 211.52,648.79 211.60,649.40 211.68,654.82 211.77,670.70 211.85,643.48 211.94,643.25 212.02,612.27 212.11,652.10 212.19,647.74 212.28,659.64 212.36,643.80 212.45,634.23 212.53,642.48 212.62,641.85 212.70,668.44 212.79,645.65 212.87,654.72 212.96,640.14 213.04,640.66 213.12,642.96 213.21,651.44 213.29,624.38 213.38,651.19 213.46,660.50 213.55,641.61 213.63,664.32 213.72,632.71 213.80,641.23 213.89,638.32 213.97,640.97 214.06,646.99 214.14,663.13 214.23,656.40 214.31,645.53 214.40,652.70 214.48,647.36 214.56,657.23 214.65,658.21 214.73,648.10 214.82,643.98 214.90,650.88 214.99,660.05 215.07,666.48 215.16,632.13 215.24,661.65 215.33,659.17 215.41,657.86 215.50,642.77 215.58,658.18 215.67,646.07 215.75,648.44 215.84,661.85 215.92,649.77 216.00,662.65 216.09,652.81 216.17,644.46 216.26,653.56 216.34,659.86 216.43,655.31 216.51,653.18 216.60,648.38 216.68,671.58 216.77,668.68 216.85,647.06 216.94,652.73 217.02,651.58 217.11,649.74 217.19,653.25 217.28,655.97 217.36,650.80 217.44,645.67 217.53,648.72 217.61,651.71 217.70,661.55 217.78,649.76 217.87,662.65 217.95,658.19 218.04,650.62 218.12,650.93 218.21,641.94 218.29,643.91 218.38,647.56 218.46,655.06 218.55,652.21 218.63,654.34 218.72,636.14 218.80,647.89 218.88,658.12 218.97,659.93 219.05,640.74 219.14,660.18 219.22,648.80 219.31,650.55 219.39,642.41 219.48,660.26 219.56,647.97 219.65,619.95 219.73,644.91 219.82,639.76 219.90,651.32 219.99,654.32 220.07,644.22 220.15,665.21 220.24,650.57 220.32,661.31 220.41,663.39 220.49,669.82 220.58,667.50 220.66,644.74 220.75,644.36 220.83,651.41 220.92,626.15 221.00,652.10 221.09,656.92 221.17,662.28 221.26,645.37 221.34,644.96 221.43,640.87 221.51,659.74 221.59,655.02 221.68,664.78 221.76,641.98 221.85,645.98 221.93,647.78 222.02,652.61 222.10,653.82 222.19,655.81 222.27,642.52 222.36,658.26 222.44,644.38 222.53,649.88 222.61,661.69 222.70,665.72 222.78,659.66 222.87,652.88 222.95,664.33 223.03,646.84 223.12,642.20 223.20,647.62 223.29,671.58 223.37,671.58 223.46,644.69 223.54,639.04 223.63,656.27 223.71,647.88 223.80,655.11 223.88,658.47 223.97,643.62 224.05,657.70 224.14,644.94 224.22,637.01 224.31,648.11 224.39,635.66 224.47,664.69 224.56,671.58 224.64,652.67 224.73,629.37 224.81,652.39 224.90,660.02 224.98,637.97 225.07,666.76 225.15,648.77 225.24,659.78 225.32,640.23 225.41,653.78 225.49,645.02 225.58,653.21 225.66,662.92 225.75,671.58 225.83,636.60 225.91,650.78 226.00,663.43 226.08,655.79 226.17,643.93 226.25,666.54 226.34,632.27 226.42,655.25 226.51,656.34 226.59,641.28 226.68,651.10 226.76,671.58 226.85,644.68 226.93,648.95 227.02,642.80 227.10,661.49 227.19,663.37 227.27,647.41 227.35,657.10 227.44,671.58 227.52,658.50 227.61,647.46 227.69,659.81 227.78,641.55 227.86,657.81 227.95,654.12 228.03,668.05 228.12,660.56 228.20,663.43 228.29,648.03 228.37,612.66 228.46,643.65 228.54,667.97 228.63,653.13 228.71,654.69 228.79,662.89 228.88,653.77 228.96,660.18 229.05,649.51 229.13,656.57 229.22,648.82 229.30,661.72 229.39,641.89 229.47,649.83 229.56,637.23 229.64,671.58 229.73,658.04 229.81,652.25 229.90,657.75 229.98,662.97 230.07,653.38 230.15,654.12 230.23,659.45 230.32,657.57 230.40,646.91 230.49,652.24 230.57,665.80 230.66,638.14 230.74,653.31 230.83,645.00 230.91,664.55 231.00,650.48 231.08,654.83 231.17,644.69 231.25,645.70 231.34,668.56 231.42,643.20 231.51,667.26 231.59,641.48 231.67,654.17 231.76,664.59 231.84,647.28 231.93,653.36 232.01,662.75 232.10,654.08 232.18,649.40 232.27,655.14 232.35,661.61 232.44,636.92 232.52,660.77 232.61,650.43 232.69,649.74 232.78,645.07 232.86,645.82 232.94,671.58 233.03,658.26 233.11,643.08 233.20,661.06 233.28,637.29 233.37,651.62 233.45,665.00 233.54,648.75 233.62,636.21 233.71,660.02 233.79,648.85 233.88,661.98 233.96,659.27 234.05,652.91 234.13,649.29 234.22,650.76 234.30,652.06 234.38,632.08 234.47,663.86 234.55,670.94 234.64,648.92 234.72,652.32 234.81,667.11 234.89,638.36 234.98,660.44 235.06,666.90 235.15,650.24 235.23,648.25 235.32,632.67 235.40,668.08 235.49,665.72 235.57,656.63 235.66,658.13 235.74,654.82 235.82,660.61 235.91,668.35 235.99,658.26 236.08,647.75 236.16,647.02 236.25,660.19 236.33,649.33 236.42,650.48 236.50,658.74 236.59,657.45 236.67,653.85 236.76,628.84 236.84,652.79 236.93,662.38 237.01,655.76 237.10,659.39 237.18,643.97 237.26,671.58 237.35,664.30 237.43,631.93 237.52,650.56 237.60,654.12 237.69,647.84 237.77,666.48 237.86,651.09 237.94,664.79 238.03,666.11 238.11,649.91 238.20,661.71 238.28,657.71 238.37,648.78 238.45,663.98 238.54,648.95 238.62,634.07 238.70,656.32 238.79,645.79 238.87,647.51 238.96,633.40 239.04,666.97 239.13,654.52 239.21,671.58 239.30,654.17 239.38,652.23 239.47,650.33 239.55,650.51 239.64,642.48 239.72,657.63 239.81,642.34 239.89,649.79 239.98,649.82 240.06,656.04 240.14,645.94 240.23,661.48 240.31,648.05 240.40,641.94 240.48,671.38 240.57,663.32 240.65,661.57 240.74,655.06 240.82,651.41 240.91,646.76 240.99,637.51 241.08,639.99 241.16,652.26 241.25,658.28 241.33,665.72 241.42,647.29 241.50,650.09 241.58,657.34 241.67,656.31 241.75,655.89 241.84,671.58 241.92,655.36 242.01,651.90 242.09,656.00 242.18,664.53 242.26,654.48 242.35,650.56 242.43,638.58 242.52,645.32 242.60,651.54 242.69,655.42 242.77,667.10 242.86,659.23 242.94,667.39 243.02,655.93 243.11,645.34 243.19,645.52 243.28,646.82 243.36,654.85 243.45,646.06 243.53,657.53 243.62,671.58 243.70,653.84 243.79,654.75 243.87,670.90 243.96,659.92 244.04,671.58 244.13,659.46 244.21,644.19 244.30,661.02 244.38,643.27 244.46,671.58 244.55,661.91 244.63,671.30 244.72,648.42 244.80,649.20 244.89,668.71 244.97,659.08 245.06,645.24 245.14,662.04 245.23,651.71 245.31,671.58 245.40,663.67 245.48,648.75 245.57,648.24 245.65,668.40 245.73,667.96 245.82,658.79 245.90,669.65 245.99,656.41 246.07,613.72 246.16,641.55 246.24,659.04 246.33,640.83 246.41,650.37 246.50,657.46 246.58,650.76 246.67,641.73 246.75,641.96 246.84,648.66 246.92,656.33 247.01,647.98 247.09,653.57 247.17,654.01 247.26,653.19 247.34,639.14 247.43,666.39 247.51,656.26 247.60,665.44 247.68,647.76 247.77,645.54 247.85,643.36 247.94,658.81 248.02,655.13 248.11,648.67 248.19,653.97 248.28,652.98 248.36,653.84 248.45,653.18 248.53,656.67 248.61,651.66 248.70,668.85 248.78,659.45 248.87,667.66 248.95,656.47 249.04,662.28 249.12,650.85 249.21,644.33 249.29,666.90 249.38,662.74 249.46,652.74 249.55,642.72 249.63,648.75 249.72,651.74 249.80,656.27 249.89,659.74 249.97,652.29 250.05,651.25 250.14,654.33 250.22,661.03 250.31,670.26 250.39,663.47 250.48,659.21 250.56,666.29 250.65,652.92 250.73,668.67 250.82,658.61 250.90,652.72 250.99,648.55 251.07,653.71 251.16,645.04 251.24,661.25 251.33,662.90 251.41,655.34 251.49,663.85 251.58,657.35 251.66,671.54 251.75,645.88 251.83,649.53 251.92,662.74 252.00,671.58 252.09,653.74 252.17,653.58 252.26,645.55 252.34,641.05 252.43,653.94 252.51,658.02 252.60,658.20 252.68,658.79 252.77,668.39 252.85,664.17 252.93,656.90 253.02,670.89 253.10,667.94 253.19,645.20 253.27,662.20 253.36,669.62 253.44,646.32 253.53,656.10 253.61,648.74 253.70,657.81 253.78,664.04 253.87,657.18 253.95,655.58 254.04,655.12 254.12,655.57 254.21,659.77 254.29,646.71 254.37,658.01 254.46,659.95 254.54,647.93 254.63,665.18 254.71,656.28 254.80,643.05 254.88,655.67 254.97,643.53 255.05,658.54 255.14,660.79 255.22,657.68 255.31,661.24 255.39,659.44 255.48,660.17 255.56,649.09 255.65,652.68 255.73,658.12 255.81,662.94 255.90,627.61 255.98,658.05 256.07,643.74 256.15,666.79 256.24,662.88 256.32,645.33 256.41,666.09 256.49,665.84 256.58,656.81 256.66,662.83 256.75,658.94 256.83,654.95 256.92,648.58 257.00,654.71 257.09,653.72 257.17,644.54 257.25,643.74 257.34,659.51 257.42,671.58 257.51,665.37 257.59,646.83 257.68,660.65 257.76,662.70 257.85,660.42 257.93,642.21 258.02,655.89 258.10,659.76 258.19,662.65 258.27,666.20 258.36,631.27 258.44,656.78 258.52,655.09 258.61,659.27 258.69,646.93 258.78,665.43 258.86,671.58 258.95,661.60 259.03,653.47 259.12,636.31 259.20,657.16 259.29,664.17 259.37,658.52 259.46,663.47 259.54,663.51 259.63,655.70 259.71,605.11 259.80,662.40 259.88,646.73 259.96,657.21 260.05,655.52 260.13,661.14 260.22,653.25 260.30,652.88 260.39,650.63 260.47,663.84 260.56,650.91 260.64,661.63 260.73,655.68 260.81,649.91 260.90,643.04 260.98,660.56 261.07,666.46 261.15,655.31 261.24,645.66 261.32,662.68 261.40,634.89 261.49,671.58 261.57,643.16 261.66,646.17 261.74,646.66 261.83,664.01 261.91,626.26 262.00,646.15 262.08,645.44 262.17,658.62 262.25,658.77 262.34,645.04 262.42,653.51 262.51,659.85 262.59,664.07 262.68,654.28 262.76,668.75 262.84,651.49 262.93,655.25 263.01,670.52 263.10,652.61 263.18,645.92 263.27,654.45 263.35,668.56 263.44,662.11 263.52,649.22 263.61,668.32 263.69,660.06 263.78,646.49 263.86,659.27 263.95,661.93 264.03,649.54 264.12,642.35 264.20,653.21" stroke="#f6507c" stroke-width="1.1" fill="none" stroke-linejoin="round" opacity="1"/>
<path d="M63,516.00 H91.8" stroke="#1d5a96" stroke-width="1.9"/>
<path d="M63,531.57 H91.8" stroke="#1fcb8a" stroke-width="1.9"/>
<path d="M63,547.14 H91.8" stroke="#e8dc14" stroke-width="1.9"/>
<path d="M63,562.71 H91.8" stroke="#f6507c" stroke-width="1.9"/>
<text x="94.27" y="520.20" font-size="11.39" font-weight="bold" textLength="54.56" lengthAdjust="spacingAndGlyphs">Unbiased</text>
<text x="94.76" y="535.70" font-size="11.39" font-weight="bold" textLength="28.31" lengthAdjust="spacingAndGlyphs">3.0 V</text>
<text x="94.76" y="551.20" font-size="11.39" font-weight="bold" textLength="28.31" lengthAdjust="spacingAndGlyphs">3.5 V</text>
<text x="94.88" y="566.70" font-size="11.39" font-weight="bold" textLength="28.31" lengthAdjust="spacingAndGlyphs">4.0 V</text>
<text x="179.86" y="532.60" font-size="17.83" font-weight="bold" fill="#14b4f0" textLength="80.41" lengthAdjust="spacingAndGlyphs" >Blue shift</text>
<path d="M152,529.1 H176" stroke="#14b4f0" stroke-width="3.1"/>
<polygon points="153.5,524.6 144.3,529.1 153.5,533.6" fill="#14b4f0"/>
<text x="91.70" y="493.00" font-size="15.20" font-weight="bold" fill="#000" textLength="135.07" lengthAdjust="spacingAndGlyphs" >Reverse Bias (<tspan fill="#0f78d0">Ag</tspan>)</text>
<text x="8.02" y="479.84" font-size="19.35" font-weight="bold" fill="#000" textLength="26.40" lengthAdjust="spacingAndGlyphs" >(c)</text>
<text transform="translate(38.9,588.3) rotate(-90)" font-size="12.4" font-weight="bold" text-anchor="middle" textLength="127.3" lengthAdjust="spacingAndGlyphs">Normalized PL Counts</text>
<text x="113.50" y="700.90" font-size="12.22" font-weight="bold" fill="#000" textLength="97.49" lengthAdjust="spacingAndGlyphs" >Wavelength (nm)</text>
<rect x="345.6" y="45.1" width="164.29999999999995" height="163.5" fill="#c9c9c9"/>
<rect x="345.6" y="86.6" width="164.29999999999995" height="50.80000000000001" fill="#d8d8d8"/>
<rect x="345.6" y="137.4" width="164.29999999999995" height="35.400000000000006" fill="#f1f1f1"/>
<rect x="345.6" y="172.8" width="164.29999999999995" height="35.79999999999998" fill="#121212"/>
<rect x="345.6" y="86.6" width="164.29999999999995" height="50.80000000000001" fill="#000" filter="url(#tex)" opacity="1"/>
<rect x="456.0" y="139.4" width="1.7" height="31.400000000000006" fill="#000" opacity="0.014"/>
<rect x="377.8" y="139.4" width="0.8" height="31.400000000000006" fill="#000" opacity="0.016"/>
<rect x="493.4" y="139.4" width="1.6" height="31.400000000000006" fill="#000" opacity="0.015"/>
<rect x="455.5" y="139.4" width="1.8" height="31.400000000000006" fill="#000" opacity="0.023"/>
<rect x="446.4" y="139.4" width="2.1" height="31.400000000000006" fill="#000" opacity="0.015"/>
<rect x="380.0" y="139.4" width="1.5" height="31.400000000000006" fill="#000" opacity="0.028"/>
<rect x="455.3" y="139.4" width="1.8" height="31.400000000000006" fill="#000" opacity="0.010"/>
<rect x="413.2" y="139.4" width="1.7" height="31.400000000000006" fill="#000" opacity="0.014"/>
<rect x="386.6" y="139.4" width="2.1" height="31.400000000000006" fill="#000" opacity="0.017"/>
<rect x="402.2" y="139.4" width="1.6" height="31.400000000000006" fill="#000" opacity="0.016"/>
<rect x="499.0" y="139.4" width="1.2" height="31.400000000000006" fill="#000" opacity="0.023"/>
<rect x="403.8" y="139.4" width="1.2" height="31.400000000000006" fill="#000" opacity="0.014"/>
<rect x="434.6" y="139.4" width="1.9" height="31.400000000000006" fill="#000" opacity="0.015"/>
<rect x="462.9" y="139.4" width="2.3" height="31.400000000000006" fill="#000" opacity="0.021"/>
<rect x="472.3" y="139.4" width="2.1" height="31.400000000000006" fill="#000" opacity="0.017"/>
<rect x="387.1" y="139.4" width="2.3" height="31.400000000000006" fill="#000" opacity="0.012"/>
<rect x="488.8" y="139.4" width="1.3" height="31.400000000000006" fill="#000" opacity="0.012"/>
<rect x="472.2" y="139.4" width="2.2" height="31.400000000000006" fill="#000" opacity="0.011"/>
<rect x="374.9" y="139.4" width="1.3" height="31.400000000000006" fill="#000" opacity="0.012"/>
<rect x="452.5" y="139.4" width="0.9" height="31.400000000000006" fill="#000" opacity="0.016"/>
<rect x="426.6" y="139.4" width="2.0" height="31.400000000000006" fill="#000" opacity="0.019"/>
<rect x="425.6" y="139.4" width="2.2" height="31.400000000000006" fill="#000" opacity="0.025"/>
<rect x="447.9" y="139.4" width="1.7" height="31.400000000000006" fill="#000" opacity="0.016"/>
<rect x="493.4" y="139.4" width="1.7" height="31.400000000000006" fill="#000" opacity="0.012"/>
<rect x="407.2" y="139.4" width="2.2" height="31.400000000000006" fill="#000" opacity="0.024"/>
<rect x="462.0" y="139.4" width="1.9" height="31.400000000000006" fill="#000" opacity="0.026"/>
<rect x="347.0" y="139.4" width="1.8" height="31.400000000000006" fill="#000" opacity="0.021"/>
<rect x="470.1" y="139.4" width="1.4" height="31.400000000000006" fill="#000" opacity="0.012"/>
<rect x="444.0" y="139.4" width="2.2" height="31.400000000000006" fill="#000" opacity="0.027"/>
<rect x="347.3" y="139.4" width="1.3" height="31.400000000000006" fill="#000" opacity="0.025"/>
<rect x="365.7" y="139.4" width="2.0" height="31.400000000000006" fill="#000" opacity="0.027"/>
<rect x="468.3" y="139.4" width="2.1" height="31.400000000000006" fill="#000" opacity="0.008"/>
<rect x="353.0" y="139.4" width="2.0" height="31.400000000000006" fill="#000" opacity="0.017"/>
<rect x="447.7" y="139.4" width="1.4" height="31.400000000000006" fill="#000" opacity="0.009"/>
<rect x="365.7" y="139.4" width="1.3" height="31.400000000000006" fill="#000" opacity="0.009"/>
<rect x="361.4" y="139.4" width="1.0" height="31.400000000000006" fill="#000" opacity="0.013"/>
<rect x="498.0" y="139.4" width="2.3" height="31.400000000000006" fill="#000" opacity="0.018"/>
<rect x="379.7" y="139.4" width="1.7" height="31.400000000000006" fill="#000" opacity="0.009"/>
<rect x="498.0" y="139.4" width="0.8" height="31.400000000000006" fill="#000" opacity="0.021"/>
<rect x="348.8" y="139.4" width="0.9" height="31.400000000000006" fill="#000" opacity="0.019"/>
<rect x="453.1" y="139.4" width="1.2" height="31.400000000000006" fill="#000" opacity="0.008"/>
<rect x="424.9" y="139.4" width="1.6" height="31.400000000000006" fill="#000" opacity="0.013"/>
<rect x="495.0" y="139.4" width="1.0" height="31.400000000000006" fill="#000" opacity="0.015"/>
<rect x="496.9" y="139.4" width="1.5" height="31.400000000000006" fill="#000" opacity="0.016"/>
<rect x="452.6" y="139.4" width="1.7" height="31.400000000000006" fill="#000" opacity="0.027"/>
<polyline points="345.6,84.3 348.4,84.9 351.2,84.7 354.0,84.5 356.7,85.3 359.5,84.0 362.3,84.5 365.1,84.1 367.9,84.3 370.7,84.5 373.4,84.8 376.2,84.6 379.0,84.6 381.8,84.9 384.6,84.7 387.4,85.2 390.2,85.7 392.9,85.6 395.7,85.7 398.5,85.3 401.3,85.5 404.1,85.2 406.9,85.0 409.6,84.8 412.4,84.6 415.2,85.1 418.0,85.3 420.8,85.5 423.6,85.2 426.4,84.9 429.1,85.2 431.9,85.0 434.7,84.8 437.5,84.6 440.3,84.2 443.1,84.5 445.9,84.6 448.6,84.8 451.4,84.6 454.2,84.4 457.0,85.1 459.8,85.1 462.6,84.7 465.3,84.0 468.1,84.4 470.9,85.0 473.7,84.6 476.5,84.8 479.3,85.5 482.1,85.4 484.8,85.6 487.6,85.5 490.4,85.8 493.2,85.7 496.0,85.7 498.8,84.8 501.5,85.6 504.3,85.7 507.1,85.3 509.9,85.0" stroke="#fbfbfb" stroke-width="1.4" fill="none" opacity="0.9" stroke-linejoin="round"/>
<polyline points="345.6,87.3 348.4,86.8 351.2,87.1 354.0,87.1 356.7,86.6 359.5,86.6 362.3,86.6 365.1,86.6 367.9,85.3 370.7,86.0 373.4,85.4 376.2,85.9 379.0,86.4 381.8,86.1 384.6,86.5 387.4,86.3 390.2,86.6 392.9,85.9 395.7,87.0 398.5,86.3 401.3,86.6 404.1,86.7 406.9,87.7 409.6,87.6 412.4,87.5 415.2,87.8 418.0,86.8 420.8,86.6 423.6,86.8 426.4,86.4 429.1,86.5 431.9,86.6 434.7,86.6 437.5,86.7 440.3,86.2 443.1,86.6 445.9,86.0 448.6,85.6 451.4,85.5 454.2,85.8 457.0,85.9 459.8,86.4 462.6,86.9 465.3,86.7 468.1,86.3 470.9,86.9 473.7,86.8 476.5,86.8 479.3,86.7 482.1,86.4 484.8,86.9 487.6,87.3 490.4,87.4 493.2,87.9 496.0,87.9 498.8,86.6 501.5,87.4 504.3,86.2 507.1,86.2 509.9,87.0" stroke="#2a2a2a" stroke-width="1.35" fill="none" opacity="1" stroke-linejoin="round"/>
<polyline points="345.6,137.5 347.7,137.4 349.8,137.0 351.8,137.4 353.9,137.7 356.0,137.4 358.1,137.9 360.2,137.4 362.2,138.3 364.3,137.9 366.4,137.6 368.5,138.3 370.6,138.0 372.6,138.1 374.7,137.1 376.8,137.2 378.9,137.3 381.0,136.7 383.0,137.1 385.1,137.0 387.2,136.9 389.3,136.9 391.4,136.5 393.4,137.1 395.5,137.5 397.6,136.7 399.7,136.9 401.8,137.4 403.8,137.2 405.9,137.4 408.0,137.6 410.1,137.4 412.2,137.4 414.2,138.2 416.3,137.6 418.4,138.1 420.5,137.5 422.6,137.9 424.6,137.4 426.7,137.0 428.8,137.4 430.9,137.1 432.9,136.9 435.0,137.6 437.1,137.5 439.2,136.6 441.3,136.9 443.3,136.8 445.4,136.8 447.5,137.3 449.6,137.5 451.7,137.7 453.7,137.1 455.8,137.8 457.9,138.1 460.0,137.2 462.1,137.8 464.1,137.6 466.2,138.1 468.3,137.4 470.4,137.8 472.5,137.6 474.5,137.3 476.6,137.4 478.7,136.8 480.8,136.8 482.9,136.8 484.9,137.2 487.0,137.3 489.1,136.8 491.2,136.8 493.3,136.4 495.3,136.6 497.4,137.1 499.5,137.5 501.6,137.2 503.7,137.2 505.7,137.4 507.8,137.9 509.9,138.2" stroke="#6a6a6a" stroke-width="1.3" fill="none" stroke-dasharray="1.6,1.2"/>
<circle cx="392" cy="92" r="2.6" fill="#a8a8a8" opacity="0.35"/>
<circle cx="416" cy="93.5" r="2.2" fill="#a8a8a8" opacity="0.35"/>
<circle cx="447" cy="91.5" r="2" fill="#a8a8a8" opacity="0.35"/>
<circle cx="404" cy="95" r="1.5" fill="#a8a8a8" opacity="0.35"/>
<rect x="345.6" y="172.8" width="164.29999999999995" height="3.2" fill="#f1f1f1"/>
<polyline points="345.6,174.2 347.2,173.1 348.8,174.4 350.4,173.2 352.0,174.5 353.6,173.8 355.2,174.8 356.8,173.3 358.4,175.4 360.0,174.5 361.6,174.6 363.2,173.7 364.8,175.1 366.4,174.1 368.0,174.4 369.6,174.1 371.2,175.0 372.8,173.7 374.4,174.5 376.0,172.9 377.6,174.4 379.2,173.0 380.8,174.3 382.4,173.0 384.0,173.8 385.6,173.6 387.2,174.8 388.8,172.7 390.4,174.3 392.0,173.0 393.6,174.6 395.2,173.2 396.8,174.7 398.4,173.5 400.0,174.9 401.6,173.3 403.2,175.0 404.8,173.9 406.4,175.1 408.0,173.9 409.6,175.3 411.2,174.1 412.8,174.7 414.4,173.6 416.0,174.4 417.6,173.3 419.2,174.9 420.8,173.0 422.4,174.5 424.0,173.5 425.6,174.4 427.2,173.3 428.8,173.9 430.4,173.0 432.0,174.0 433.6,173.5 435.2,174.3 436.8,173.1 438.4,174.5 440.0,173.7 441.6,174.3 443.2,173.8 444.8,174.8 446.4,173.7 448.0,175.0 449.6,173.7 451.2,174.7 452.8,173.5 454.4,175.0 456.0,173.4 457.6,174.6 459.2,173.4 460.8,174.8 462.4,172.8 464.0,174.3 465.6,173.2 467.2,174.3 468.8,173.1 470.4,174.4 472.0,173.0 473.6,174.0 475.2,173.1 476.8,174.3 478.4,173.2 480.0,174.4 481.6,173.6 483.2,174.9 484.8,173.2 486.4,174.5 488.0,174.2 489.6,174.7 491.2,173.3 492.8,174.9 494.4,173.9 496.0,175.2 497.6,173.9 499.2,175.0 500.8,173.8 502.4,175.0 504.0,173.2 505.6,174.6 507.2,173.4 508.8,174.4" stroke="#202020" stroke-width="1.5" fill="none"/>
<rect x="345.6" y="175.20000000000002" width="164.29999999999995" height="2.6" fill="#ececec"/>
<rect x="345.6" y="177.60000000000002" width="164.29999999999995" height="0.8" fill="#777" opacity="0.8"/>
<path d="M378.5,45.1 V208.6" stroke="#2ed52e" stroke-width="0.7" opacity="0.55"/>
<text x="349.6" y="207.2" font-size="5.6" font-weight="bold" fill="#d0d0d0" textLength="33.5" lengthAdjust="spacingAndGlyphs">MAG: 79000 x</text>
<path d="M474.5,204.2 H505.7 M474.5,202.4 v3.6 M505.7,202.4 v3.6" stroke="#d0d0d0" stroke-width="0.8"/>
<text x="490" y="201.0" font-size="5.4" font-weight="bold" fill="#d0d0d0" text-anchor="middle">300 nm</text>
<text x="349.9" y="77.8" font-size="12.9" font-weight="bold" transform="translate(349.9,0) scale(1.09,1) translate(-349.9,0)">C<tspan font-size="8.8" font-weight="normal" dy="3">60</tspan><tspan dy="-3" font-weight="normal"> / </tspan><tspan>BCP</tspan><tspan font-weight="normal"> / </tspan><tspan fill="#0f78d0">Ag</tspan></text>
<text x="350.62" y="115.60" font-size="13.48" font-weight="bold" fill="#000" textLength="71.12" lengthAdjust="spacingAndGlyphs" >Perovskite</text>
<text x="350.8" y="140.6" font-size="12.9" font-weight="bold" transform="translate(350.8,0) scale(1.1,1) translate(-350.8,0)">NiO<tspan font-size="8.8" font-weight="normal" dy="3.6">x</tspan></text>
<text x="350.70" y="160.80" font-size="12.75" font-weight="bold" fill="#000" textLength="28.39" lengthAdjust="spacingAndGlyphs" >FTO</text>
<polyline points="519.09,44.20 517.89,44.32 519.14,44.44 518.93,44.55 517.95,44.67 518.44,44.79 518.49,44.91 517.44,45.03 518.54,45.14 518.24,45.26 518.24,45.38 517.57,45.50 518.70,45.62 519.24,45.73 519.22,45.85 519.18,45.97 518.78,46.09 519.03,46.21 517.87,46.32 518.31,46.44 518.49,46.56 518.60,46.68 518.31,46.79 518.53,46.91 519.03,47.03 517.93,47.15 518.90,47.27 518.57,47.38 518.82,47.50 518.71,47.62 518.77,47.74 518.45,47.86 519.13,47.97 519.17,48.09 518.98,48.21 518.23,48.33 518.52,48.45 518.76,48.56 519.65,48.68 519.03,48.80 518.93,48.92 519.26,49.04 518.00,49.15 518.98,49.27 517.17,49.39 518.41,49.51 518.75,49.63 517.92,49.74 517.47,49.86 517.95,49.98 518.90,50.10 518.88,50.22 518.86,50.33 518.60,50.45 519.22,50.57 518.97,50.69 518.40,50.80 518.70,50.92 519.72,51.04 518.44,51.16 518.10,51.28 518.01,51.39 517.69,51.51 518.03,51.63 519.41,51.75 519.06,51.87 519.01,51.98 519.16,52.10 518.40,52.22 518.54,52.34 518.80,52.46 519.51,52.57 518.51,52.69 518.05,52.81 518.30,52.93 519.54,53.05 518.73,53.16 518.12,53.28 518.94,53.40 519.18,53.52 518.37,53.64 518.45,53.75 518.28,53.87 517.93,53.99 518.59,54.11 519.19,54.23 519.13,54.34 518.77,54.46 518.07,54.58 518.89,54.70 519.36,54.81 519.40,54.93 518.54,55.05 518.35,55.17 519.36,55.29 518.92,55.40 519.62,55.52 519.35,55.64 519.47,55.76 518.89,55.88 518.23,55.99 519.12,56.11 518.75,56.23 519.23,56.35 518.80,56.47 519.24,56.58 518.58,56.70 518.96,56.82 519.46,56.94 519.69,57.06 518.25,57.17 519.09,57.29 519.08,57.41 519.05,57.53 518.94,57.65 519.04,57.76 518.72,57.88 519.23,58.00 519.74,58.12 518.09,58.24 519.74,58.35 518.27,58.47 518.77,58.59 518.49,58.71 519.34,58.82 518.85,58.94 519.29,59.06 517.93,59.18 518.98,59.30 519.46,59.41 519.00,59.53 518.45,59.65 519.05,59.77 519.90,59.89 519.54,60.00 519.70,60.12 518.54,60.24 519.02,60.36 518.72,60.48 518.94,60.59 518.52,60.71 518.66,60.83 519.78,60.95 518.38,61.07 519.43,61.18 518.97,61.30 518.74,61.42 519.47,61.54 519.17,61.66 519.82,61.77 520.23,61.89 519.46,62.01 518.89,62.13 518.76,62.25 518.18,62.36 519.14,62.48 518.77,62.60 520.32,62.72 518.80,62.83 518.76,62.95 518.59,63.07 519.06,63.19 518.81,63.31 518.14,63.42 519.76,63.54 519.40,63.66 520.07,63.78 519.53,63.90 519.16,64.01 519.69,64.13 519.14,64.25 519.80,64.37 519.17,64.49 519.33,64.60 518.17,64.72 518.95,64.84 519.38,64.96 519.27,65.08 519.15,65.19 519.86,65.31 519.88,65.43 518.49,65.55 519.25,65.67 519.49,65.78 520.41,65.90 519.40,66.02 518.97,66.14 519.18,66.26 519.93,66.37 517.85,66.49 519.80,66.61 519.91,66.73 519.15,66.84 519.90,66.96 518.84,67.08 518.63,67.20 518.34,67.32 519.16,67.43 519.50,67.55 519.36,67.67 518.49,67.79 519.30,67.91 519.60,68.02 519.54,68.14 520.12,68.26 518.68,68.38 519.51,68.50 519.20,68.61 519.35,68.73 518.98,68.85 519.33,68.97 518.52,69.09 518.97,69.20 519.88,69.32 518.99,69.44 519.14,69.56 519.55,69.68 519.65,69.79 520.05,69.91 518.88,70.03 519.21,70.15 518.61,70.27 519.62,70.38 519.40,70.50 519.47,70.62 518.74,70.74 519.77,70.85 518.68,70.97 518.64,71.09 519.07,71.21 518.86,71.33 519.71,71.44 519.46,71.56 518.95,71.68 519.98,71.80 519.78,71.92 519.25,72.03 518.94,72.15 518.78,72.27 519.56,72.39 519.38,72.51 519.58,72.62 519.63,72.74 519.58,72.86 519.02,72.98 519.62,73.10 519.40,73.21 518.14,73.33 519.13,73.45 520.10,73.57 519.66,73.69 519.18,73.80 519.14,73.92 519.68,74.04 519.23,74.16 518.55,74.28 518.67,74.39 520.86,74.51 519.30,74.63 519.50,74.75 519.62,74.86 519.74,74.98 519.98,75.10 519.65,75.22 519.40,75.34 519.54,75.45 519.65,75.57 520.68,75.69 520.75,75.81 520.21,75.93 520.81,76.04 519.56,76.16 519.43,76.28 518.63,76.40 520.42,76.52 520.21,76.63 519.30,76.75 520.34,76.87 519.89,76.99 520.22,77.11 520.68,77.22 520.50,77.34 520.15,77.46 519.98,77.58 520.79,77.70 519.66,77.81 520.48,77.93 520.84,78.05 521.12,78.17 519.57,78.29 520.71,78.40 520.32,78.52 520.37,78.64 521.00,78.76 520.67,78.87 519.16,78.99 520.98,79.11 520.06,79.23 520.96,79.35 520.39,79.46 520.34,79.58 520.76,79.70 521.07,79.82 520.31,79.94 521.49,80.05 520.58,80.17 521.12,80.29 521.85,80.41 520.77,80.53 521.14,80.64 521.38,80.76 521.50,80.88 521.60,81.00 521.19,81.12 521.19,81.23 521.29,81.35 520.98,81.47 520.35,81.59 521.44,81.71 521.32,81.82 522.66,81.94 521.14,82.06 520.80,82.18 521.12,82.30 521.19,82.41 521.74,82.53 524.07,82.65 528.39,82.77 531.70,82.88 535.56,83.00 539.69,83.12 543.50,83.24 546.71,83.36 551.30,83.47 554.86,83.59 555.51,83.71 553.70,83.83 553.56,83.95 551.66,84.06 552.80,84.18 550.75,84.30 551.26,84.42 551.94,84.54 547.17,84.65 544.76,84.77 548.04,84.89 548.35,85.01 549.26,85.13 551.06,85.24 546.58,85.36 546.73,85.48 544.89,85.60 548.68,85.72 550.40,85.83 547.14,85.95 549.75,86.07 545.72,86.19 545.81,86.31 550.73,86.42 550.47,86.54 547.17,86.66 543.87,86.78 547.41,86.89 543.17,87.01 548.09,87.13 545.29,87.25 543.60,87.37 546.04,87.48 553.72,87.60 547.73,87.72 547.77,87.84 542.36,87.96 547.97,88.07 540.97,88.19 544.04,88.31 546.62,88.43 552.61,88.55 543.62,88.66 547.53,88.78 545.02,88.90 539.95,89.02 547.85,89.14 553.46,89.25 548.35,89.37 543.41,89.49 545.59,89.61 547.57,89.73 542.75,89.84 546.47,89.96 543.97,90.08 545.92,90.20 544.58,90.32 546.11,90.43 547.09,90.55 543.66,90.67 550.80,90.79 542.61,90.90 547.53,91.02 552.14,91.14 550.58,91.26 545.46,91.38 547.59,91.49 543.19,91.61 547.23,91.73 542.94,91.85 549.69,91.97 547.11,92.08 543.95,92.20 548.44,92.32 544.21,92.44 546.72,92.56 543.44,92.67 544.15,92.79 548.79,92.91 552.01,93.03 551.33,93.15 549.41,93.26 546.62,93.38 548.75,93.50 545.71,93.62 545.78,93.74 545.32,93.85 548.98,93.97 547.02,94.09 541.74,94.21 546.98,94.33 550.00,94.44 547.76,94.56 544.10,94.68 546.13,94.80 546.05,94.91 548.87,95.03 547.89,95.15 545.18,95.27 548.88,95.39 540.25,95.50 540.16,95.62 548.37,95.74 539.98,95.86 550.80,95.98 546.87,96.09 546.44,96.21 549.91,96.33 552.33,96.45 546.28,96.57 547.44,96.68 543.04,96.80 542.10,96.92 542.00,97.04 550.25,97.16 544.79,97.27 550.95,97.39 542.44,97.51 543.25,97.63 546.53,97.75 549.20,97.86 543.16,97.98 544.41,98.10 543.69,98.22 551.73,98.34 547.22,98.45 547.41,98.57 543.71,98.69 545.45,98.81 543.49,98.92 553.11,99.04 545.43,99.16 539.37,99.28 541.98,99.40 538.64,99.51 541.60,99.63 540.06,99.75 549.39,99.87 544.87,99.99 541.85,100.10 552.22,100.22 544.31,100.34 551.33,100.46 545.03,100.58 545.99,100.69 547.81,100.81 550.97,100.93 545.88,101.05 550.98,101.17 543.23,101.28 552.95,101.40 547.17,101.52 546.38,101.64 545.36,101.76 546.83,101.87 547.88,101.99 546.68,102.11 541.53,102.23 552.17,102.35 543.96,102.46 543.18,102.58 542.79,102.70 548.22,102.82 543.44,102.93 545.05,103.05 550.92,103.17 548.77,103.29 545.91,103.41 542.71,103.52 545.70,103.64 547.54,103.76 542.78,103.88 543.61,104.00 547.83,104.11 545.01,104.23 550.53,104.35 541.69,104.47 544.23,104.59 543.38,104.70 546.90,104.82 543.76,104.94 548.98,105.06 551.88,105.18 545.84,105.29 547.36,105.41 544.22,105.53 549.53,105.65 543.33,105.77 545.54,105.88 547.42,106.00 542.80,106.12 548.22,106.24 545.34,106.36 547.02,106.47 544.82,106.59 542.07,106.71 548.10,106.83 546.56,106.94 546.48,107.06 544.81,107.18 547.69,107.30 544.63,107.42 546.54,107.53 551.11,107.65 544.82,107.77 547.39,107.89 544.67,108.01 546.97,108.12 545.29,108.24 548.45,108.36 544.08,108.48 544.83,108.60 551.08,108.71 546.57,108.83 551.60,108.95 545.43,109.07 542.57,109.19 545.82,109.30 547.26,109.42 545.33,109.54 541.58,109.66 540.63,109.78 551.57,109.89 543.41,110.01 547.47,110.13 548.95,110.25 548.74,110.37 535.92,110.48 540.89,110.60 541.64,110.72 547.72,110.84 544.25,110.95 541.76,111.07 547.72,111.19 548.23,111.31 545.96,111.43 541.51,111.54 546.86,111.66 543.00,111.78 545.34,111.90 546.66,112.02 546.47,112.13 545.11,112.25 545.56,112.37 547.91,112.49 546.23,112.61 537.91,112.72 543.34,112.84 545.86,112.96 549.14,113.08 544.22,113.20 543.94,113.31 547.28,113.43 542.43,113.55 547.87,113.67 543.85,113.79 546.46,113.90 546.94,114.02 547.14,114.14 549.39,114.26 545.18,114.38 543.46,114.49 545.95,114.61 552.66,114.73 549.33,114.85 542.84,114.96 541.99,115.08 545.33,115.20 541.35,115.32 541.81,115.44 549.46,115.55 549.28,115.67 548.96,115.79 551.15,115.91 539.52,116.03 546.44,116.14 543.92,116.26 549.24,116.38 542.80,116.50 547.34,116.62 548.70,116.73 549.12,116.85 551.05,116.97 550.78,117.09 546.39,117.21 541.11,117.32 547.33,117.44 550.78,117.56 549.76,117.68 539.63,117.80 543.01,117.91 548.03,118.03 547.78,118.15 546.34,118.27 546.42,118.39 543.50,118.50 547.65,118.62 551.65,118.74 546.28,118.86 540.67,118.97 543.83,119.09 547.68,119.21 547.78,119.33 543.61,119.45 543.29,119.56 546.58,119.68 546.91,119.80 546.53,119.92 545.98,120.04 545.94,120.15 543.77,120.27 539.96,120.39 542.04,120.51 544.76,120.63 548.45,120.74 543.15,120.86 552.54,120.98 545.52,121.10 543.47,121.22 548.41,121.33 549.86,121.45 550.77,121.57 548.77,121.69 547.82,121.81 544.94,121.92 546.63,122.04 547.03,122.16 543.81,122.28 547.45,122.40 540.20,122.51 543.87,122.63 544.57,122.75 546.19,122.87 547.46,122.98 547.22,123.10 546.97,123.22 541.40,123.34 552.94,123.46 544.44,123.57 549.93,123.69 546.84,123.81 546.49,123.93 545.21,124.05 545.82,124.16 540.89,124.28 544.84,124.40 553.01,124.52 548.17,124.64 544.13,124.75 544.69,124.87 544.44,124.99 545.41,125.11 550.15,125.23 547.57,125.34 544.26,125.46 539.06,125.58 551.30,125.70 549.55,125.82 545.86,125.93 547.16,126.05 544.72,126.17 543.85,126.29 553.82,126.41 538.48,126.52 545.04,126.64 547.35,126.76 547.69,126.88 546.13,126.99 545.20,127.11 547.03,127.23 542.51,127.35 542.49,127.47 547.91,127.58 543.55,127.70 548.25,127.82 549.61,127.94 550.53,128.06 549.72,128.17 542.73,128.29 546.21,128.41 545.97,128.53 549.39,128.65 545.09,128.76 550.32,128.88 546.54,129.00 550.29,129.12 546.43,129.24 546.39,129.35 542.63,129.47 544.82,129.59 551.06,129.71 550.90,129.83 538.56,129.94 553.57,130.06 551.55,130.18 543.74,130.30 548.41,130.42 549.02,130.53 538.02,130.65 545.52,130.77 546.47,130.89 545.38,131.00 541.59,131.12 545.58,131.24 547.76,131.36 547.34,131.48 542.52,131.59 553.41,131.71 542.59,131.83 544.16,131.95 547.97,132.07 544.96,132.18 545.00,132.30 545.33,132.42 546.73,132.54 554.11,132.66 546.65,132.77 546.15,132.89 544.73,133.01 548.60,133.13 549.75,133.25 546.27,133.36 547.47,133.48 549.72,133.60 547.57,133.72 547.46,133.84 550.59,133.95 551.34,134.07 549.25,134.19 548.13,134.31 550.21,134.43 547.61,134.54 547.56,134.66 545.02,134.78 543.46,134.90 541.53,135.01 540.14,135.13 538.24,135.25 536.36,135.37 534.50,135.49 531.88,135.60 531.22,135.72 529.00,135.84 527.52,135.96 526.12,136.08 523.59,136.19 523.92,136.31 525.34,136.43 524.59,136.55 525.10,136.67 525.48,136.78 526.96,136.90 526.32,137.02 527.29,137.14 529.27,137.26 528.61,137.37 528.95,137.49 528.48,137.61 528.25,137.73 526.58,137.85 529.29,137.96 532.15,138.08 533.67,138.20 528.83,138.32 530.01,138.44 530.99,138.55 530.59,138.67 529.19,138.79 525.26,138.91 529.07,139.02 528.64,139.14 529.33,139.26 529.67,139.38 528.58,139.50 530.44,139.61 528.67,139.73 527.17,139.85 530.74,139.97 529.85,140.09 530.82,140.20 532.02,140.32 527.00,140.44 529.52,140.56 527.50,140.68 530.45,140.79 527.35,140.91 524.74,141.03 532.60,141.15 527.85,141.27 528.93,141.38 530.80,141.50 531.83,141.62 530.34,141.74 529.28,141.86 533.91,141.97 529.47,142.09 528.30,142.21 530.56,142.33 528.81,142.45 530.71,142.56 528.26,142.68 530.93,142.80 526.81,142.92 530.45,143.03 531.48,143.15 530.49,143.27 530.05,143.39 534.63,143.51 530.24,143.62 528.60,143.74 530.23,143.86 532.82,143.98 529.20,144.10 526.79,144.21 529.53,144.33 527.66,144.45 529.61,144.57 526.97,144.69 533.16,144.80 530.05,144.92 531.42,145.04 530.21,145.16 531.75,145.28 529.62,145.39 529.30,145.51 528.34,145.63 528.95,145.75 531.86,145.87 532.17,145.98 529.11,146.10 527.08,146.22 531.97,146.34 528.39,146.46 528.76,146.57 529.65,146.69 532.14,146.81 530.94,146.93 529.67,147.04 527.26,147.16 530.29,147.28 532.54,147.40 530.57,147.52 531.64,147.63 530.47,147.75 529.83,147.87 530.64,147.99 530.33,148.11 535.15,148.22 530.79,148.34 530.23,148.46 530.40,148.58 530.89,148.70 530.95,148.81 532.08,148.93 532.03,149.05 530.94,149.17 526.45,149.29 532.07,149.40 530.99,149.52 533.28,149.64 525.73,149.76 532.02,149.88 525.92,149.99 530.56,150.11 529.80,150.23 532.21,150.35 526.33,150.47 531.94,150.58 527.16,150.70 529.51,150.82 529.15,150.94 531.56,151.05 529.56,151.17 530.67,151.29 529.00,151.41 529.47,151.53 528.86,151.64 531.25,151.76 529.16,151.88 528.47,152.00 531.80,152.12 531.30,152.23 533.65,152.35 530.33,152.47 532.05,152.59 529.26,152.71 532.48,152.82 533.47,152.94 533.42,153.06 527.00,153.18 528.16,153.30 526.58,153.41 532.63,153.53 533.01,153.65 529.81,153.77 528.78,153.89 529.28,154.00 528.70,154.12 529.33,154.24 528.97,154.36 532.04,154.48 534.64,154.59 530.30,154.71 532.22,154.83 533.69,154.95 533.45,155.06 530.20,155.18 531.67,155.30 533.30,155.42 532.90,155.54 533.46,155.65 529.34,155.77 530.69,155.89 532.44,156.01 530.29,156.13 534.80,156.24 535.69,156.36 529.01,156.48 529.46,156.60 530.55,156.72 531.35,156.83 532.97,156.95 534.47,157.07 529.23,157.19 530.56,157.31 532.37,157.42 529.63,157.54 531.81,157.66 527.94,157.78 531.46,157.90 530.50,158.01 531.65,158.13 528.57,158.25 529.17,158.37 529.64,158.49 527.99,158.60 526.94,158.72 528.47,158.84 531.85,158.96 530.29,159.07 531.24,159.19 530.61,159.31 534.24,159.43 529.87,159.55 530.51,159.66 532.44,159.78 530.99,159.90 531.34,160.02 531.83,160.14 528.87,160.25 528.42,160.37 529.54,160.49 532.66,160.61 535.92,160.73 528.68,160.84 531.58,160.96 526.65,161.08 530.53,161.20 531.52,161.32 531.05,161.43 528.27,161.55 530.10,161.67 534.10,161.79 531.15,161.91 529.53,162.02 531.23,162.14 529.26,162.26 529.98,162.38 530.28,162.50 530.77,162.61 530.18,162.73 531.99,162.85 528.08,162.97 528.59,163.08 532.72,163.20 529.99,163.32 530.57,163.44 529.92,163.56 529.92,163.67 528.65,163.79 531.07,163.91 530.82,164.03 529.05,164.15 531.02,164.26 533.09,164.38 527.08,164.50 532.84,164.62 529.72,164.74 530.14,164.85 531.46,164.97 532.45,165.09 531.18,165.21 531.93,165.33 528.20,165.44 528.25,165.56 528.69,165.68 530.00,165.80 528.70,165.92 528.50,166.03 532.03,166.15 530.25,166.27 528.02,166.39 532.94,166.51 532.90,166.62 532.71,166.74 526.05,166.86 528.02,166.98 528.26,167.09 530.67,167.21 531.38,167.33 531.24,167.45 529.03,167.57 532.25,167.68 534.10,167.80 530.41,167.92 532.25,168.04 530.37,168.16 525.39,168.27 528.92,168.39 529.41,168.51 531.07,168.63 531.53,168.75 528.92,168.86 528.09,168.98 528.29,169.10 529.61,169.22 529.31,169.34 529.99,169.45 531.58,169.57 527.80,169.69 533.10,169.81 529.06,169.93 531.94,170.04 529.73,170.16 530.67,170.28 528.37,170.40 531.12,170.52 529.48,170.63 527.08,170.75 528.99,170.87 527.96,170.99 530.50,171.10 528.45,171.22 530.79,171.34 530.59,171.46 530.32,171.58 528.37,171.69 531.15,171.81 529.08,171.93 528.93,172.05 530.93,172.17 528.41,172.28 531.14,172.40 530.47,172.52 530.12,172.64 528.92,172.76 528.12,172.87 529.70,172.99 527.14,173.11 529.35,173.23 528.12,173.35 529.73,173.46 529.03,173.58 528.37,173.70 526.71,173.82 525.65,173.94 524.27,174.05 523.10,174.17 521.65,174.29 520.81,174.41 519.20,174.53 518.20,174.64 519.36,174.76 520.90,174.88 522.12,175.00 523.04,175.11 524.58,175.23 525.87,175.35 527.23,175.47 528.65,175.59 529.90,175.70 528.46,175.82 526.95,175.94 525.25,176.06 523.93,176.18 522.73,176.29 521.23,176.41 519.52,176.53 518.34,176.65 517.51,176.77 517.86,176.88 517.42,177.00 516.76,177.12 517.60,177.24 517.86,177.36 516.94,177.47 517.83,177.59 517.96,177.71 517.59,177.83 517.26,177.95 517.53,178.06 517.36,178.18 517.65,178.30 518.13,178.42 517.61,178.54 517.26,178.65 517.86,178.77 517.35,178.89 516.72,179.01 517.63,179.12 518.44,179.24 517.29,179.36 517.59,179.48 516.78,179.60 517.42,179.71 517.31,179.83 517.59,179.95 517.48,180.07 517.38,180.19 517.87,180.30 517.15,180.42 516.95,180.54 518.00,180.66 517.75,180.78 517.00,180.89 516.86,181.01 516.89,181.13 518.55,181.25 517.80,181.37 517.58,181.48 517.79,181.60 517.72,181.72 518.63,181.84 517.73,181.96 517.68,182.07 517.30,182.19 517.88,182.31 517.62,182.43 517.52,182.55 516.70,182.66 517.32,182.78 516.98,182.90 517.76,183.02 516.70,183.13 517.11,183.25 516.86,183.37 517.41,183.49 517.48,183.61 517.60,183.72 517.11,183.84 517.23,183.96 516.78,184.08 517.47,184.20 517.06,184.31 517.95,184.43 518.39,184.55 516.70,184.67 517.33,184.79 516.76,184.90 516.79,185.02 517.44,185.14 517.58,185.26 517.21,185.38 517.75,185.49 517.37,185.61 517.08,185.73 518.16,185.85 517.61,185.97 517.35,186.08 517.71,186.20 517.75,186.32 517.26,186.44 517.84,186.56 516.70,186.67 516.74,186.79 517.40,186.91 516.70,187.03 518.05,187.14 517.29,187.26 517.77,187.38 517.35,187.50 517.08,187.62 517.19,187.73 517.71,187.85 517.16,187.97 516.70,188.09 517.95,188.21 517.12,188.32 517.15,188.44 517.18,188.56 516.82,188.68 516.70,188.80 517.00,188.91 516.95,189.03 517.34,189.15 517.32,189.27 517.05,189.39 516.88,189.50 518.02,189.62 517.44,189.74 517.23,189.86 516.70,189.98 516.95,190.09 517.24,190.21 516.72,190.33 516.86,190.45 516.74,190.57 517.09,190.68 517.35,190.80 517.12,190.92 517.07,191.04 517.36,191.15 517.58,191.27 516.70,191.39 516.72,191.51 517.05,191.63 517.33,191.74 516.70,191.86 516.98,191.98 517.74,192.10 517.15,192.22 517.23,192.33 517.58,192.45 517.46,192.57 516.83,192.69 517.24,192.81 516.81,192.92 517.38,193.04 517.47,193.16 517.59,193.28 517.32,193.40 516.70,193.51 517.10,193.63 516.76,193.75 517.47,193.87 517.64,193.99 517.27,194.10 516.91,194.22 517.34,194.34 517.50,194.46 517.64,194.58 517.59,194.69 517.02,194.81 517.21,194.93 517.13,195.05 517.65,195.16 516.70,195.28 516.70,195.40 517.59,195.52 517.59,195.64 517.41,195.75 517.04,195.87 517.53,195.99 517.06,196.11 516.81,196.23 517.38,196.34 516.70,196.46 517.23,196.58 516.97,196.70 517.12,196.82 517.86,196.93 516.70,197.05 517.21,197.17 517.59,197.29 517.45,197.41 517.24,197.52 516.70,197.64 517.65,197.76 516.88,197.88 517.91,198.00 517.05,198.11 517.49,198.23 517.44,198.35 516.83,198.47 517.01,198.59 517.54,198.70 516.86,198.82 517.39,198.94 516.92,199.06 517.31,199.17 517.10,199.29 517.13,199.41 517.58,199.53 516.70,199.65 516.70,199.76 516.70,199.88 518.32,200.00 516.82,200.12 517.49,200.24 516.86,200.35 516.79,200.47 516.70,200.59 517.88,200.71 516.70,200.83 516.70,200.94 517.16,201.06 517.24,201.18 517.14,201.30 516.70,201.42 517.01,201.53 517.33,201.65 516.70,201.77 517.64,201.89 516.75,202.01 517.16,202.12 517.04,202.24 516.82,202.36 517.39,202.48 516.70,202.60 516.92,202.71 516.70,202.83 517.13,202.95 516.70,203.07 517.21,203.18 516.70,203.30 517.32,203.42 516.77,203.54 517.59,203.66 516.83,203.77 516.78,203.89 516.70,204.01 516.74,204.13 516.70,204.25 516.97,204.36 516.70,204.48 516.85,204.60 516.70,204.72 516.74,204.84 516.70,204.95 516.76,205.07 516.83,205.19 516.95,205.31 517.47,205.43 516.73,205.54 517.17,205.66 517.23,205.78 517.20,205.90 516.78,206.02 517.68,206.13 516.70,206.25 516.70,206.37 516.98,206.49 516.70,206.61 516.91,206.72 517.11,206.84 516.82,206.96 516.71,207.08 517.04,207.19 516.70,207.31 516.70,207.43 516.70,207.55 517.09,207.67 517.51,207.78 516.70,207.90 516.70,208.02 517.34,208.14 516.70,208.26 516.70,208.37 517.00,208.49 516.82,208.61 517.06,208.73 516.70,208.85 517.10,208.96 516.70,209.08 517.24,209.20" stroke="#f5507c" stroke-width="1.1" fill="none" stroke-linejoin="round"/>
<polyline points="572.21,44.20 568.47,44.32 573.04,44.44 569.34,44.55 567.14,44.67 568.76,44.79 566.13,44.91 569.29,45.03 567.23,45.14 573.19,45.26 567.04,45.38 573.41,45.50 572.03,45.62 565.37,45.73 569.57,45.85 569.21,45.97 568.26,46.09 569.42,46.21 575.59,46.32 569.50,46.44 566.60,46.56 567.40,46.68 568.51,46.79 576.25,46.91 568.55,47.03 573.98,47.15 565.88,47.27 568.60,47.38 568.83,47.50 568.70,47.62 570.69,47.74 571.09,47.86 569.46,47.97 566.19,48.09 570.44,48.21 569.82,48.33 571.77,48.45 567.39,48.56 573.48,48.68 570.81,48.80 566.49,48.92 572.19,49.04 567.14,49.15 567.94,49.27 569.11,49.39 570.72,49.51 576.38,49.63 569.27,49.74 571.40,49.86 571.22,49.98 569.22,50.10 565.68,50.22 570.04,50.33 564.24,50.45 570.98,50.57 565.88,50.69 570.77,50.80 572.85,50.92 567.89,51.04 571.61,51.16 573.18,51.28 566.92,51.39 564.05,51.51 568.19,51.63 570.71,51.75 567.06,51.87 569.90,51.98 570.55,52.10 571.93,52.22 573.20,52.34 571.05,52.46 567.60,52.57 569.10,52.69 565.44,52.81 571.81,52.93 575.72,53.05 566.17,53.16 571.42,53.28 571.98,53.40 578.35,53.52 575.69,53.64 568.89,53.75 572.82,53.87 572.16,53.99 565.08,54.11 570.42,54.23 569.28,54.34 574.67,54.46 569.35,54.58 571.35,54.70 574.15,54.81 572.86,54.93 566.52,55.05 569.95,55.17 571.04,55.29 571.49,55.40 569.32,55.52 572.73,55.64 567.98,55.76 568.82,55.88 574.12,55.99 569.24,56.11 566.11,56.23 574.00,56.35 566.39,56.47 568.07,56.58 570.72,56.70 572.28,56.82 572.19,56.94 572.83,57.06 572.24,57.17 571.70,57.29 570.22,57.41 569.22,57.53 568.51,57.65 576.45,57.76 572.57,57.88 570.83,58.00 573.40,58.12 571.59,58.24 571.77,58.35 570.77,58.47 571.75,58.59 570.61,58.71 566.48,58.82 570.81,58.94 571.83,59.06 570.21,59.18 569.43,59.30 570.71,59.41 569.97,59.53 566.97,59.65 569.93,59.77 568.00,59.89 566.55,60.00 571.23,60.12 570.84,60.24 572.49,60.36 569.30,60.48 571.36,60.59 570.44,60.71 571.69,60.83 567.83,60.95 572.66,61.07 568.12,61.18 564.48,61.30 569.88,61.42 565.89,61.54 572.77,61.66 566.59,61.77 570.27,61.89 565.42,62.01 571.13,62.13 574.03,62.25 569.11,62.36 573.38,62.48 569.60,62.60 566.91,62.72 569.27,62.83 567.79,62.95 571.73,63.07 571.56,63.19 574.75,63.31 567.82,63.42 569.70,63.54 568.38,63.66 567.81,63.78 569.10,63.90 571.57,64.01 571.87,64.13 572.98,64.25 569.13,64.37 569.62,64.49 568.84,64.60 563.10,64.72 570.08,64.84 570.14,64.96 568.52,65.08 570.51,65.19 573.07,65.31 566.56,65.43 571.10,65.55 568.21,65.67 569.58,65.78 569.46,65.90 569.29,66.02 574.22,66.14 569.70,66.26 569.31,66.37 566.97,66.49 574.56,66.61 571.32,66.73 570.11,66.84 567.66,66.96 569.08,67.08 574.63,67.20 567.60,67.32 567.26,67.43 573.92,67.55 567.23,67.67 571.98,67.79 575.44,67.91 566.59,68.02 567.23,68.14 573.61,68.26 573.75,68.38 575.69,68.50 570.77,68.61 570.58,68.73 566.83,68.85 569.32,68.97 569.95,69.09 570.89,69.20 567.61,69.32 569.39,69.44 572.84,69.56 574.51,69.68 571.75,69.79 572.38,69.91 574.35,70.03 564.54,70.15 575.43,70.27 569.99,70.38 565.40,70.50 570.97,70.62 572.10,70.74 568.45,70.85 573.46,70.97 572.60,71.09 576.59,71.21 569.96,71.33 570.11,71.44 568.72,71.56 567.12,71.68 571.15,71.80 576.15,71.92 568.33,72.03 567.75,72.15 570.46,72.27 568.11,72.39 571.48,72.51 569.36,72.62 568.63,72.74 568.58,72.86 570.21,72.98 574.09,73.10 564.58,73.21 575.36,73.33 571.10,73.45 574.11,73.57 572.59,73.69 571.73,73.80 567.68,73.92 567.65,74.04 572.30,74.16 571.62,74.28 575.87,74.39 563.10,74.51 568.31,74.63 563.10,74.75 575.60,74.86 568.04,74.98 565.86,75.10 571.85,75.22 572.09,75.34 566.42,75.45 567.99,75.57 569.39,75.69 574.28,75.81 567.80,75.93 569.82,76.04 572.76,76.16 570.32,76.28 568.89,76.40 570.23,76.52 573.69,76.63 569.96,76.75 572.82,76.87 567.18,76.99 569.11,77.11 568.16,77.22 572.86,77.34 566.82,77.46 565.24,77.58 571.22,77.70 573.11,77.81 575.97,77.93 565.36,78.05 566.36,78.17 573.61,78.29 571.78,78.40 568.66,78.52 570.76,78.64 573.15,78.76 571.68,78.87 564.91,78.99 569.91,79.11 570.52,79.23 573.16,79.35 573.48,79.46 570.36,79.58 571.53,79.70 568.93,79.82 567.48,79.94 570.35,80.05 565.79,80.17 564.10,80.29 565.80,80.41 570.37,80.53 569.00,80.64 568.39,80.76 571.70,80.88 569.00,81.00 567.43,81.12 570.15,81.23 567.68,81.35 564.74,81.47 566.31,81.59 566.29,81.71 567.36,81.82 566.62,81.94 567.26,82.06 566.43,82.18 565.93,82.30 565.70,82.41 566.07,82.53 566.28,82.65 565.53,82.77 566.67,82.88 568.75,83.00 567.11,83.12 570.77,83.24 569.95,83.36 569.66,83.47 568.08,83.59 570.54,83.71 570.77,83.83 572.58,83.95 574.13,84.06 574.37,84.18 574.36,84.30 575.19,84.42 577.26,84.54 575.82,84.65 576.16,84.77 574.33,84.89 576.09,85.01 577.54,85.13 573.27,85.24 581.40,85.36 577.40,85.48 579.68,85.60 573.59,85.72 579.37,85.83 576.86,85.95 579.74,86.07 577.29,86.19 577.48,86.31 575.92,86.42 583.96,86.54 578.62,86.66 577.62,86.78 576.43,86.89 580.63,87.01 586.12,87.13 581.07,87.25 578.58,87.37 581.21,87.48 579.41,87.60 581.08,87.72 579.37,87.84 587.34,87.96 590.42,88.07 581.10,88.19 579.02,88.31 583.66,88.43 583.40,88.55 587.12,88.66 580.99,88.78 582.63,88.90 583.55,89.02 582.98,89.14 585.61,89.25 586.17,89.37 586.13,89.49 575.89,89.61 586.98,89.73 585.50,89.84 575.37,89.96 585.17,90.08 581.52,90.20 584.33,90.32 579.11,90.43 588.94,90.55 588.33,90.67 590.05,90.79 587.52,90.90 587.62,91.02 587.87,91.14 591.24,91.26 585.21,91.38 589.41,91.49 579.12,91.61 589.00,91.73 584.21,91.85 593.19,91.97 587.65,92.08 580.71,92.20 587.30,92.32 582.93,92.44 590.85,92.56 585.37,92.67 584.50,92.79 585.11,92.91 579.47,93.03 585.64,93.15 583.93,93.26 585.52,93.38 590.61,93.50 579.15,93.62 584.67,93.74 592.67,93.85 584.29,93.97 583.29,94.09 586.18,94.21 591.19,94.33 585.55,94.44 590.98,94.56 580.06,94.68 591.97,94.80 583.64,94.91 588.36,95.03 590.43,95.15 581.92,95.27 595.10,95.39 586.38,95.50 583.15,95.62 593.56,95.74 589.02,95.86 596.48,95.98 585.52,96.09 578.84,96.21 587.24,96.33 576.30,96.45 589.46,96.57 585.66,96.68 573.46,96.80 584.51,96.92 580.55,97.04 575.89,97.16 580.55,97.27 580.89,97.39 585.68,97.51 580.33,97.63 591.43,97.75 596.24,97.86 588.03,97.98 580.91,98.10 585.07,98.22 585.20,98.34 580.75,98.45 583.75,98.57 591.64,98.69 581.13,98.81 589.72,98.92 584.00,99.04 580.19,99.16 583.74,99.28 589.62,99.40 584.73,99.51 582.21,99.63 584.04,99.75 580.08,99.87 586.18,99.99 589.84,100.10 590.35,100.22 594.33,100.34 588.51,100.46 574.01,100.58 587.15,100.69 578.23,100.81 583.09,100.93 581.54,101.05 587.70,101.17 584.93,101.28 582.82,101.40 585.56,101.52 577.25,101.64 580.26,101.76 588.24,101.87 594.35,101.99 582.21,102.11 591.62,102.23 584.01,102.35 591.10,102.46 579.11,102.58 586.41,102.70 591.02,102.82 579.22,102.93 585.19,103.05 580.39,103.17 583.58,103.29 586.92,103.41 583.52,103.52 581.86,103.64 586.00,103.76 581.37,103.88 583.27,104.00 581.35,104.11 586.22,104.23 581.07,104.35 580.39,104.47 580.25,104.59 579.17,104.70 587.10,104.82 589.90,104.94 584.34,105.06 579.04,105.18 577.14,105.29 582.78,105.41 583.00,105.53 585.16,105.65 584.71,105.77 587.82,105.88 581.04,106.00 594.82,106.12 579.99,106.24 583.49,106.36 584.23,106.47 581.18,106.59 574.43,106.71 590.49,106.83 602.37,106.94 590.80,107.06 576.16,107.18 585.31,107.30 583.96,107.42 591.20,107.53 585.88,107.65 584.24,107.77 581.28,107.89 587.32,108.01 583.46,108.12 586.66,108.24 587.22,108.36 585.45,108.48 585.04,108.60 583.61,108.71 584.93,108.83 578.48,108.95 574.41,109.07 584.15,109.19 588.64,109.30 583.03,109.42 581.29,109.54 585.47,109.66 580.02,109.78 580.13,109.89 583.04,110.01 585.64,110.13 585.05,110.25 591.54,110.37 583.56,110.48 577.79,110.60 580.02,110.72 581.92,110.84 584.08,110.95 579.03,111.07 587.82,111.19 587.71,111.31 581.17,111.43 590.98,111.54 584.52,111.66 580.48,111.78 582.53,111.90 581.72,112.02 590.27,112.13 582.17,112.25 591.36,112.37 587.24,112.49 585.08,112.61 587.80,112.72 584.25,112.84 583.24,112.96 579.02,113.08 590.09,113.20 597.72,113.31 580.37,113.43 585.54,113.55 594.52,113.67 595.21,113.79 593.64,113.90 585.23,114.02 592.43,114.14 586.01,114.26 580.57,114.38 587.26,114.49 587.88,114.61 593.13,114.73 582.86,114.85 581.31,114.96 587.44,115.08 588.68,115.20 594.14,115.32 587.53,115.44 583.22,115.55 585.87,115.67 600.19,115.79 576.12,115.91 585.57,116.03 594.30,116.14 586.53,116.26 581.25,116.38 582.82,116.50 589.69,116.62 580.90,116.73 586.97,116.85 585.96,116.97 588.98,117.09 589.75,117.21 589.85,117.32 587.05,117.44 589.43,117.56 585.43,117.68 581.27,117.80 585.23,117.91 588.60,118.03 590.51,118.15 595.04,118.27 584.05,118.39 580.74,118.50 580.74,118.62 586.88,118.74 575.77,118.86 578.73,118.97 586.96,119.09 587.20,119.21 578.11,119.33 588.84,119.45 586.12,119.56 589.46,119.68 591.04,119.80 585.09,119.92 585.91,120.04 588.18,120.15 580.52,120.27 588.49,120.39 578.10,120.51 591.32,120.63 588.55,120.74 582.47,120.86 585.83,120.98 583.08,121.10 587.67,121.22 592.11,121.33 584.66,121.45 587.24,121.57 591.96,121.69 585.44,121.81 590.59,121.92 582.17,122.04 584.70,122.16 589.96,122.28 591.98,122.40 579.86,122.51 585.48,122.63 592.56,122.75 587.84,122.87 582.02,122.98 587.83,123.10 583.38,123.22 592.47,123.34 582.00,123.46 580.77,123.57 586.57,123.69 585.87,123.81 585.86,123.93 581.59,124.05 589.59,124.16 585.12,124.28 580.48,124.40 601.22,124.52 588.65,124.64 583.41,124.75 590.35,124.87 581.38,124.99 591.97,125.11 593.06,125.23 589.74,125.34 590.96,125.46 591.74,125.58 596.54,125.70 603.89,125.82 574.78,125.93 589.91,126.05 586.21,126.17 595.44,126.29 587.59,126.41 589.23,126.52 584.70,126.64 592.22,126.76 590.48,126.88 587.25,126.99 595.59,127.11 596.93,127.23 589.33,127.35 586.12,127.47 583.47,127.58 597.73,127.70 582.48,127.82 588.75,127.94 582.86,128.06 582.64,128.17 582.49,128.29 594.23,128.41 584.50,128.53 577.90,128.65 581.23,128.76 579.29,128.88 584.25,129.00 583.72,129.12 593.87,129.24 581.70,129.35 580.54,129.47 587.41,129.59 595.86,129.71 584.57,129.83 582.70,129.94 593.37,130.06 577.88,130.18 586.17,130.30 584.44,130.42 589.90,130.53 589.26,130.65 586.48,130.77 585.81,130.89 587.90,131.00 586.53,131.12 585.83,131.24 588.61,131.36 589.39,131.48 595.76,131.59 590.78,131.71 585.91,131.83 590.59,131.95 587.39,132.07 596.43,132.18 591.60,132.30 588.51,132.42 587.62,132.54 593.27,132.66 588.62,132.77 587.80,132.89 591.44,133.01 589.55,133.13 591.58,133.25 591.23,133.36 593.83,133.48 591.61,133.60 589.89,133.72 583.91,133.84 585.58,133.95 581.10,134.07 580.87,134.19 579.57,134.31 577.22,134.43 574.63,134.54 578.60,134.66 575.96,134.78 573.35,134.90 573.83,135.01 571.86,135.13 572.01,135.25 569.34,135.37 569.19,135.49 564.84,135.60 568.09,135.72 565.63,135.84 563.24,135.96 563.10,136.08 563.10,136.19 563.54,136.31 563.46,136.43 564.02,136.55 564.17,136.67 564.82,136.78 563.10,136.90 563.10,137.02 566.55,137.14 565.40,137.26 567.61,137.37 563.72,137.49 565.35,137.61 563.96,137.73 571.38,137.85 563.10,137.96 564.50,138.08 567.79,138.20 569.43,138.32 563.10,138.44 565.24,138.55 563.10,138.67 569.50,138.79 568.88,138.91 566.96,139.02 564.86,139.14 567.33,139.26 567.00,139.38 568.05,139.50 564.98,139.61 570.14,139.73 565.04,139.85 566.25,139.97 566.88,140.09 569.56,140.20 567.30,140.32 571.44,140.44 570.35,140.56 566.20,140.68 569.85,140.79 564.93,140.91 564.44,141.03 571.54,141.15 568.90,141.27 571.52,141.38 567.22,141.50 566.35,141.62 565.73,141.74 571.44,141.86 569.10,141.97 563.72,142.09 565.29,142.21 565.61,142.33 564.44,142.45 569.98,142.56 567.09,142.68 569.04,142.80 567.90,142.92 563.58,143.03 566.12,143.15 565.05,143.27 569.67,143.39 568.42,143.51 566.10,143.62 570.83,143.74 573.30,143.86 565.21,143.98 563.12,144.10 568.08,144.21 568.60,144.33 563.22,144.45 564.52,144.57 565.39,144.69 568.96,144.80 568.12,144.92 564.35,145.04 565.20,145.16 564.74,145.28 567.51,145.39 572.40,145.51 570.93,145.63 569.54,145.75 564.76,145.87 570.05,145.98 565.74,146.10 565.63,146.22 570.07,146.34 566.99,146.46 569.33,146.57 568.86,146.69 566.04,146.81 567.93,146.93 568.88,147.04 567.35,147.16 564.69,147.28 570.50,147.40 566.18,147.52 565.66,147.63 566.22,147.75 569.69,147.87 568.04,147.99 571.74,148.11 564.00,148.22 566.46,148.34 567.79,148.46 566.87,148.58 564.08,148.70 565.09,148.81 566.18,148.93 566.30,149.05 567.04,149.17 566.77,149.29 564.97,149.40 563.47,149.52 570.57,149.64 570.99,149.76 567.53,149.88 569.96,149.99 569.65,150.11 569.59,150.23 565.99,150.35 567.78,150.47 566.35,150.58 563.74,150.70 564.42,150.82 568.02,150.94 567.48,151.05 568.58,151.17 567.66,151.29 567.88,151.41 568.20,151.53 564.99,151.64 565.73,151.76 572.84,151.88 568.39,152.00 570.45,152.12 566.32,152.23 567.69,152.35 570.75,152.47 568.27,152.59 568.82,152.71 569.65,152.82 567.46,152.94 564.62,153.06 564.42,153.18 564.45,153.30 564.15,153.41 563.10,153.53 564.72,153.65 565.86,153.77 571.43,153.89 565.53,154.00 567.73,154.12 567.07,154.24 567.18,154.36 564.64,154.48 568.69,154.59 566.23,154.71 570.13,154.83 568.14,154.95 564.35,155.06 569.52,155.18 564.58,155.30 563.43,155.42 572.35,155.54 568.96,155.65 570.01,155.77 566.67,155.89 566.58,156.01 565.35,156.13 566.29,156.24 566.10,156.36 563.85,156.48 570.60,156.60 565.20,156.72 569.60,156.83 564.79,156.95 567.76,157.07 565.26,157.19 566.34,157.31 567.11,157.42 566.17,157.54 567.17,157.66 566.75,157.78 565.31,157.90 567.40,158.01 567.57,158.13 569.40,158.25 566.88,158.37 564.61,158.49 565.92,158.60 567.29,158.72 566.91,158.84 569.18,158.96 571.10,159.07 568.51,159.19 568.58,159.31 569.02,159.43 566.92,159.55 567.76,159.66 569.55,159.78 569.15,159.90 563.84,160.02 567.17,160.14 567.02,160.25 568.14,160.37 571.16,160.49 571.03,160.61 565.77,160.73 571.21,160.84 566.56,160.96 569.88,161.08 568.51,161.20 567.73,161.32 565.94,161.43 569.94,161.55 569.29,161.67 564.17,161.79 570.83,161.91 567.36,162.02 568.99,162.14 565.85,162.26 567.52,162.38 567.38,162.50 563.10,162.61 571.08,162.73 568.94,162.85 567.26,162.97 571.90,163.08 571.06,163.20 570.62,163.32 565.04,163.44 572.34,163.56 568.66,163.67 571.42,163.79 565.63,163.91 567.42,164.03 565.73,164.15 566.37,164.26 565.55,164.38 565.44,164.50 569.71,164.62 567.23,164.74 566.94,164.85 563.10,164.97 567.83,165.09 564.79,165.21 569.74,165.33 566.67,165.44 568.58,165.56 566.75,165.68 565.49,165.80 564.52,165.92 569.60,166.03 567.64,166.15 564.81,166.27 567.91,166.39 569.80,166.51 567.67,166.62 569.24,166.74 566.50,166.86 563.10,166.98 564.34,167.09 566.68,167.21 567.92,167.33 569.51,167.45 571.95,167.57 567.46,167.68 567.64,167.80 569.38,167.92 567.96,168.04 566.70,168.16 567.68,168.27 571.12,168.39 567.28,168.51 563.55,168.63 571.05,168.75 567.17,168.86 570.40,168.98 566.12,169.10 563.10,169.22 566.01,169.34 564.01,169.45 567.84,169.57 567.84,169.69 566.48,169.81 571.40,169.93 564.86,170.04 564.36,170.16 567.76,170.28 569.10,170.40 567.69,170.52 565.62,170.63 569.64,170.75 563.10,170.87 564.45,170.99 566.65,171.10 563.10,171.22 567.29,171.34 566.32,171.46 566.90,171.58 567.56,171.69 568.60,171.81 567.75,171.93 567.57,172.05 563.10,172.17 566.70,172.28 565.19,172.40 565.73,172.52 563.10,172.64 564.74,172.76 566.45,172.87 570.30,172.99 564.50,173.11 563.24,173.23 567.33,173.35 571.14,173.46 568.85,173.58 566.40,173.70 567.83,173.82 565.37,173.94 567.51,174.05 566.32,174.17 571.09,174.29 565.09,174.41 567.82,174.53 567.58,174.64 566.46,174.76 567.05,174.88 571.14,175.00 563.96,175.11 566.97,175.23 568.26,175.35 564.66,175.47 564.17,175.59 563.26,175.70 569.69,175.82 567.20,175.94 565.09,176.06 565.22,176.18 565.60,176.29 566.67,176.41 564.59,176.53 567.07,176.65 567.06,176.77 568.13,176.88 566.64,177.00 566.93,177.12 566.45,177.24 567.45,177.36 566.53,177.47 565.29,177.59 564.76,177.71 564.73,177.83 565.62,177.95 564.33,178.06 565.30,178.18 564.33,178.30 565.34,178.42 565.13,178.54 565.48,178.65 566.54,178.77 565.16,178.89 563.10,179.01 565.75,179.12 565.08,179.24 565.16,179.36 564.75,179.48 564.06,179.60 563.34,179.71 565.17,179.83 565.43,179.95 563.10,180.07 564.02,180.19 563.10,180.30 563.10,180.42 565.32,180.54 564.34,180.66 565.79,180.78 563.10,180.89 564.60,181.01 565.35,181.13 565.29,181.25 566.20,181.37 564.85,181.48 564.87,181.60 564.85,181.72 565.09,181.84 564.74,181.96 564.46,182.07 564.30,182.19 565.06,182.31 564.06,182.43 563.71,182.55 565.29,182.66 564.22,182.78 564.17,182.90 564.72,183.02 564.02,183.13 563.65,183.25 565.25,183.37 565.44,183.49 563.64,183.61 564.27,183.72 564.87,183.84 565.49,183.96 565.08,184.08 565.08,184.20 564.09,184.31 564.62,184.43 565.33,184.55 563.50,184.67 565.20,184.79 564.63,184.90 563.93,185.02 564.94,185.14 564.81,185.26 563.93,185.38 564.27,185.49 563.75,185.61 564.23,185.73 563.50,185.85 563.22,185.97 565.10,186.08 563.12,186.20 563.27,186.32 563.59,186.44 566.12,186.56 563.19,186.67 564.04,186.79 563.82,186.91 565.03,187.03 563.78,187.14 565.39,187.26 564.37,187.38 565.46,187.50 564.64,187.62 564.34,187.73 563.38,187.85 563.90,187.97 564.24,188.09 564.13,188.21 564.83,188.32 564.33,188.44 565.01,188.56 564.23,188.68 564.12,188.80 565.04,188.91 564.59,189.03 565.00,189.15 564.66,189.27 563.95,189.39 564.52,189.50 564.68,189.62 564.44,189.74 565.48,189.86 563.10,189.98 564.53,190.09 564.43,190.21 565.07,190.33 563.96,190.45 564.53,190.57 563.81,190.68 563.19,190.80 563.56,190.92 565.32,191.04 563.26,191.15 564.59,191.27 563.22,191.39 564.86,191.51 564.75,191.63 564.39,191.74 563.89,191.86 564.29,191.98 564.52,192.10 564.02,192.22 563.10,192.33 564.80,192.45 564.31,192.57 564.18,192.69 563.94,192.81 563.10,192.92 564.15,193.04 563.98,193.16 564.62,193.28 564.44,193.40 563.72,193.51 564.63,193.63 564.12,193.75 564.41,193.87 564.14,193.99 564.65,194.10 564.70,194.22 564.59,194.34 565.35,194.46 565.04,194.58 564.60,194.69 563.94,194.81 564.06,194.93 564.31,195.05 564.31,195.16 563.69,195.28 563.50,195.40 564.58,195.52 564.29,195.64 564.33,195.75 563.10,195.87 563.10,195.99 564.42,196.11 564.92,196.23 564.93,196.34 564.57,196.46 564.73,196.58 563.23,196.70 564.82,196.82 564.56,196.93 563.10,197.05 565.07,197.17 565.03,197.29 563.95,197.41 563.41,197.52 565.10,197.64 564.27,197.76 563.39,197.88 563.73,198.00 564.55,198.11 563.89,198.23 565.26,198.35 563.71,198.47 564.72,198.59 564.94,198.70 564.31,198.82 564.58,198.94 563.76,199.06 565.03,199.17 564.26,199.29 563.79,199.41 564.21,199.53 564.94,199.65 564.07,199.76 563.22,199.88 563.55,200.00 564.95,200.12 564.09,200.24 563.58,200.35 564.31,200.47 564.42,200.59 564.51,200.71 563.85,200.83 564.22,200.94 564.26,201.06 564.23,201.18 564.28,201.30 564.17,201.42 564.18,201.53 563.33,201.65 563.56,201.77 564.87,201.89 564.10,202.01 563.79,202.12 564.67,202.24 565.57,202.36 565.55,202.48 564.13,202.60 564.31,202.71 563.62,202.83 564.66,202.95 564.76,203.07 563.86,203.18 563.30,203.30 563.63,203.42 564.25,203.54 563.25,203.66 564.67,203.77 564.08,203.89 563.76,204.01 564.10,204.13 563.61,204.25 564.53,204.36 563.97,204.48 564.44,204.60 564.98,204.72 563.95,204.84 564.16,204.95 563.10,205.07 564.47,205.19 564.33,205.31 564.34,205.43 563.76,205.54 563.76,205.66 563.10,205.78 564.09,205.90 563.68,206.02 564.13,206.13 564.13,206.25 564.17,206.37 563.46,206.49 564.46,206.61 564.29,206.72 563.77,206.84 563.34,206.96 563.76,207.08 563.22,207.19 564.09,207.31 563.76,207.43 564.90,207.55 564.52,207.67 563.67,207.78 563.76,207.90 563.82,208.02 563.56,208.14 564.46,208.26 563.78,208.37 563.10,208.49 563.77,208.61 563.10,208.73 563.93,208.85 564.31,208.96 563.76,209.08 563.13,209.20" stroke="#1ec18f" stroke-width="1.1" fill="none" stroke-linejoin="round"/>
<polyline points="611.43,44.20 613.21,44.32 611.82,44.44 609.52,44.55 610.32,44.67 611.92,44.79 611.85,44.91 612.36,45.03 610.88,45.14 609.30,45.26 611.54,45.38 613.79,45.50 613.14,45.62 609.46,45.73 610.96,45.85 610.82,45.97 614.08,46.09 612.29,46.21 609.58,46.32 610.92,46.44 613.87,46.56 612.79,46.68 611.85,46.79 609.70,46.91 609.59,47.03 615.36,47.15 611.39,47.27 610.29,47.38 611.35,47.50 615.16,47.62 614.08,47.74 612.91,47.86 611.29,47.97 613.21,48.09 613.95,48.21 611.89,48.33 611.37,48.45 612.16,48.56 612.59,48.68 611.21,48.80 609.30,48.92 614.33,49.04 612.91,49.15 610.93,49.27 612.37,49.39 613.13,49.51 613.44,49.63 611.51,49.74 611.37,49.86 611.64,49.98 612.61,50.10 609.30,50.22 614.35,50.33 611.59,50.45 611.95,50.57 611.00,50.69 610.97,50.80 612.22,50.92 611.61,51.04 611.97,51.16 610.99,51.28 613.30,51.39 611.19,51.51 612.51,51.63 610.63,51.75 612.83,51.87 612.77,51.98 612.81,52.10 610.94,52.22 611.96,52.34 612.43,52.46 613.73,52.57 611.79,52.69 612.57,52.81 611.98,52.93 610.71,53.05 610.09,53.16 610.22,53.28 613.06,53.40 609.30,53.52 611.56,53.64 610.22,53.75 611.92,53.87 611.50,53.99 613.36,54.11 612.28,54.23 610.77,54.34 612.89,54.46 611.33,54.58 612.75,54.70 611.23,54.81 609.37,54.93 612.79,55.05 611.51,55.17 614.92,55.29 612.17,55.40 610.14,55.52 611.38,55.64 613.93,55.76 611.76,55.88 611.21,55.99 611.69,56.11 612.05,56.23 611.28,56.35 610.55,56.47 610.11,56.58 613.21,56.70 615.46,56.82 612.56,56.94 613.74,57.06 612.86,57.17 612.36,57.29 610.18,57.41 612.04,57.53 612.30,57.65 611.77,57.76 611.50,57.88 612.09,58.00 611.98,58.12 611.62,58.24 611.37,58.35 611.87,58.47 612.36,58.59 612.39,58.71 612.47,58.82 613.32,58.94 612.70,59.06 613.48,59.18 613.60,59.30 611.02,59.41 612.02,59.53 612.03,59.65 612.22,59.77 611.08,59.89 614.68,60.00 609.67,60.12 611.28,60.24 612.71,60.36 609.96,60.48 611.58,60.59 612.15,60.71 611.11,60.83 612.72,60.95 609.85,61.07 610.54,61.18 614.12,61.30 612.15,61.42 612.25,61.54 609.67,61.66 611.23,61.77 612.61,61.89 610.57,62.01 610.93,62.13 613.09,62.25 610.60,62.36 612.00,62.48 611.55,62.60 610.43,62.72 612.00,62.83 612.30,62.95 609.57,63.07 613.20,63.19 610.86,63.31 611.02,63.42 612.18,63.54 612.82,63.66 613.16,63.78 610.18,63.90 611.92,64.01 613.02,64.13 611.22,64.25 611.17,64.37 611.90,64.49 613.12,64.60 612.96,64.72 612.43,64.84 611.82,64.96 610.72,65.08 611.08,65.19 609.96,65.31 613.51,65.43 612.49,65.55 611.93,65.67 611.72,65.78 612.41,65.90 609.74,66.02 613.60,66.14 612.77,66.26 611.08,66.37 611.80,66.49 614.43,66.61 612.91,66.73 613.70,66.84 612.12,66.96 611.02,67.08 611.56,67.20 613.20,67.32 612.27,67.43 611.35,67.55 609.30,67.67 612.90,67.79 613.12,67.91 611.97,68.02 612.06,68.14 611.89,68.26 610.56,68.38 612.33,68.50 610.59,68.61 611.91,68.73 612.24,68.85 612.00,68.97 610.75,69.09 610.93,69.20 612.37,69.32 610.47,69.44 610.86,69.56 612.54,69.68 611.38,69.79 612.46,69.91 611.90,70.03 612.15,70.15 611.61,70.27 610.74,70.38 610.35,70.50 612.71,70.62 612.49,70.74 611.10,70.85 613.94,70.97 612.32,71.09 612.11,71.21 612.64,71.33 611.11,71.44 611.26,71.56 611.32,71.68 611.85,71.80 613.01,71.92 612.73,72.03 611.02,72.15 613.13,72.27 615.16,72.39 611.11,72.51 613.66,72.62 610.59,72.74 611.45,72.86 612.15,72.98 609.49,73.10 611.74,73.21 612.41,73.33 613.26,73.45 612.43,73.57 612.49,73.69 609.63,73.80 611.93,73.92 611.70,74.04 614.59,74.16 613.40,74.28 611.16,74.39 613.36,74.51 610.78,74.63 612.61,74.75 610.92,74.86 613.43,74.98 612.57,75.10 613.41,75.22 612.83,75.34 611.94,75.45 611.26,75.57 611.74,75.69 612.08,75.81 612.54,75.93 612.59,76.04 611.99,76.16 612.73,76.28 611.07,76.40 612.21,76.52 610.45,76.63 612.30,76.75 611.79,76.87 613.54,76.99 611.45,77.11 611.39,77.22 610.25,77.34 612.77,77.46 610.54,77.58 613.44,77.70 610.60,77.81 611.14,77.93 609.77,78.05 611.98,78.17 612.53,78.29 613.77,78.40 612.77,78.52 612.07,78.64 611.32,78.76 611.74,78.87 614.32,78.99 613.98,79.11 612.84,79.23 610.72,79.35 612.28,79.46 612.79,79.58 610.89,79.70 612.54,79.82 612.62,79.94 611.99,80.05 611.29,80.17 613.37,80.29 611.46,80.41 612.60,80.53 612.93,80.64 611.32,80.76 612.60,80.88 613.40,81.00 612.69,81.12 611.74,81.23 612.32,81.35 611.82,81.47 611.43,81.59 612.02,81.71 611.78,81.82 611.41,81.94 611.21,82.06 610.61,82.18 612.42,82.30 611.41,82.41 615.61,82.53 618.91,82.65 623.42,82.77 627.34,82.88 632.75,83.00 635.19,83.12 640.52,83.24 645.11,83.36 644.94,83.47 644.70,83.59 644.26,83.71 647.54,83.83 645.96,83.95 644.58,84.06 647.37,84.18 646.81,84.30 643.75,84.42 641.55,84.54 636.69,84.65 636.62,84.77 638.45,84.89 637.96,85.01 641.24,85.13 635.44,85.24 642.40,85.36 636.39,85.48 638.97,85.60 634.80,85.72 639.59,85.83 632.23,85.95 638.65,86.07 641.72,86.19 632.45,86.31 637.90,86.42 635.28,86.54 637.39,86.66 636.31,86.78 641.35,86.89 645.74,87.01 640.59,87.13 638.43,87.25 625.90,87.37 635.25,87.48 639.78,87.60 636.10,87.72 641.45,87.84 640.22,87.96 639.19,88.07 638.86,88.19 640.91,88.31 641.54,88.43 636.56,88.55 640.04,88.66 633.21,88.78 641.04,88.90 643.57,89.02 641.84,89.14 639.34,89.25 640.43,89.37 641.35,89.49 638.36,89.61 648.00,89.73 640.05,89.84 639.88,89.96 637.13,90.08 641.80,90.20 638.80,90.32 642.13,90.43 640.97,90.55 634.02,90.67 639.31,90.79 642.14,90.90 642.51,91.02 639.66,91.14 633.27,91.26 635.82,91.38 646.23,91.49 641.52,91.61 643.31,91.73 629.66,91.85 639.25,91.97 640.75,92.08 639.36,92.20 642.06,92.32 643.41,92.44 641.67,92.56 635.35,92.67 633.19,92.79 638.29,92.91 632.99,93.03 638.91,93.15 644.98,93.26 636.11,93.38 642.21,93.50 641.18,93.62 637.40,93.74 638.91,93.85 635.19,93.97 638.92,94.09 641.44,94.21 636.46,94.33 638.80,94.44 637.82,94.56 642.37,94.68 644.16,94.80 636.73,94.91 635.11,95.03 640.53,95.15 638.31,95.27 639.94,95.39 642.47,95.50 639.57,95.62 641.27,95.74 633.63,95.86 637.88,95.98 638.09,96.09 639.98,96.21 639.46,96.33 638.27,96.45 633.61,96.57 640.28,96.68 641.33,96.80 637.87,96.92 639.62,97.04 637.22,97.16 635.72,97.27 636.92,97.39 634.17,97.51 636.79,97.63 631.69,97.75 639.52,97.86 643.51,97.98 641.19,98.10 638.41,98.22 637.24,98.34 633.24,98.45 638.06,98.57 643.45,98.69 640.83,98.81 632.60,98.92 632.89,99.04 639.64,99.16 633.50,99.28 632.85,99.40 642.51,99.51 632.39,99.63 638.33,99.75 640.50,99.87 642.65,99.99 633.61,100.10 638.54,100.22 643.44,100.34 631.88,100.46 635.21,100.58 638.04,100.69 637.58,100.81 637.17,100.93 641.89,101.05 638.32,101.17 637.26,101.28 633.66,101.40 640.82,101.52 641.67,101.64 636.18,101.76 644.50,101.87 637.72,101.99 639.37,102.11 638.53,102.23 639.59,102.35 638.89,102.46 648.41,102.58 639.02,102.70 640.10,102.82 646.45,102.93 648.52,103.05 635.62,103.17 641.85,103.29 639.29,103.41 639.71,103.52 638.34,103.64 638.44,103.76 640.03,103.88 638.08,104.00 641.41,104.11 644.84,104.23 637.29,104.35 636.49,104.47 638.67,104.59 650.41,104.70 640.65,104.82 629.81,104.94 636.06,105.06 634.06,105.18 639.59,105.29 640.10,105.41 637.65,105.53 636.00,105.65 635.58,105.77 645.55,105.88 637.67,106.00 637.27,106.12 639.57,106.24 637.30,106.36 642.02,106.47 636.27,106.59 634.17,106.71 640.85,106.83 638.83,106.94 637.73,107.06 634.26,107.18 635.47,107.30 639.67,107.42 638.22,107.53 641.87,107.65 636.70,107.77 632.02,107.89 639.08,108.01 639.82,108.12 640.29,108.24 639.29,108.36 632.90,108.48 640.76,108.60 629.56,108.71 642.47,108.83 639.07,108.95 642.23,109.07 632.94,109.19 639.18,109.30 632.48,109.42 642.46,109.54 638.93,109.66 634.05,109.78 645.84,109.89 637.72,110.01 634.75,110.13 632.44,110.25 644.80,110.37 638.62,110.48 637.91,110.60 640.17,110.72 638.12,110.84 642.68,110.95 634.57,111.07 639.79,111.19 641.97,111.31 634.41,111.43 639.60,111.54 643.85,111.66 634.06,111.78 642.69,111.90 640.68,112.02 639.49,112.13 640.34,112.25 640.21,112.37 642.81,112.49 642.20,112.61 634.54,112.72 637.97,112.84 633.09,112.96 640.99,113.08 641.00,113.20 637.18,113.31 638.80,113.43 642.14,113.55 641.30,113.67 640.04,113.79 642.79,113.90 633.09,114.02 637.04,114.14 644.90,114.26 637.17,114.38 632.26,114.49 638.61,114.61 638.12,114.73 640.20,114.85 635.32,114.96 640.63,115.08 635.49,115.20 641.21,115.32 640.52,115.44 631.12,115.55 635.06,115.67 641.16,115.79 639.87,115.91 637.75,116.03 636.96,116.14 639.43,116.26 644.35,116.38 641.86,116.50 642.73,116.62 645.87,116.73 635.74,116.85 634.46,116.97 638.00,117.09 641.23,117.21 634.08,117.32 637.81,117.44 638.72,117.56 641.17,117.68 634.75,117.80 649.81,117.91 641.14,118.03 642.21,118.15 638.70,118.27 640.94,118.39 646.45,118.50 636.60,118.62 638.02,118.74 633.59,118.86 636.19,118.97 636.25,119.09 639.18,119.21 639.88,119.33 638.23,119.45 635.51,119.56 634.99,119.68 638.93,119.80 637.62,119.92 634.58,120.04 640.72,120.15 641.81,120.27 639.75,120.39 637.65,120.51 638.27,120.63 636.48,120.74 641.88,120.86 635.35,120.98 643.50,121.10 639.69,121.22 629.66,121.33 647.01,121.45 636.12,121.57 640.10,121.69 636.78,121.81 635.30,121.92 642.27,122.04 641.15,122.16 640.37,122.28 639.49,122.40 638.93,122.51 636.51,122.63 636.46,122.75 636.52,122.87 639.89,122.98 639.05,123.10 640.77,123.22 636.07,123.34 642.04,123.46 640.33,123.57 631.17,123.69 638.66,123.81 646.59,123.93 638.58,124.05 637.64,124.16 636.61,124.28 640.15,124.40 639.21,124.52 639.90,124.64 639.90,124.75 634.81,124.87 637.35,124.99 640.93,125.11 635.32,125.23 639.46,125.34 641.55,125.46 637.28,125.58 641.28,125.70 634.99,125.82 634.50,125.93 633.67,126.05 641.40,126.17 637.38,126.29 640.62,126.41 634.25,126.52 641.73,126.64 637.09,126.76 640.00,126.88 638.70,126.99 637.96,127.11 635.89,127.23 638.91,127.35 635.07,127.47 647.34,127.58 644.91,127.70 648.46,127.82 635.86,127.94 638.48,128.06 634.53,128.17 640.87,128.29 640.53,128.41 642.48,128.53 641.19,128.65 632.59,128.76 638.40,128.88 647.69,129.00 637.82,129.12 641.43,129.24 637.70,129.35 642.14,129.47 640.22,129.59 639.32,129.71 641.59,129.83 637.36,129.94 640.48,130.06 639.29,130.18 641.25,130.30 638.69,130.42 631.21,130.53 637.85,130.65 636.32,130.77 635.23,130.89 641.19,131.00 631.58,131.12 639.21,131.24 640.53,131.36 640.85,131.48 642.23,131.59 638.87,131.71 635.87,131.83 643.39,131.95 639.44,132.07 640.02,132.18 638.67,132.30 639.29,132.42 643.31,132.54 641.57,132.66 640.84,132.77 644.96,132.89 644.21,133.01 643.72,133.13 643.93,133.25 646.15,133.36 643.12,133.48 644.89,133.60 647.88,133.72 646.36,133.84 643.28,133.95 641.95,134.07 638.66,134.19 634.97,134.31 632.47,134.43 629.14,134.54 625.91,134.66 623.79,134.78 620.85,134.90 617.12,135.01 614.28,135.13 610.21,135.25 610.55,135.37 610.24,135.49 612.00,135.60 612.22,135.72 610.22,135.84 611.63,135.96 612.49,136.08 611.85,136.19 610.12,136.31 610.82,136.43 611.88,136.55 612.36,136.67 611.98,136.78 612.00,136.90 611.64,137.02 612.48,137.14 611.02,137.26 612.22,137.37 611.22,137.49 612.32,137.61 609.30,137.73 612.33,137.85 610.88,137.96 612.68,138.08 609.49,138.20 612.32,138.32 610.65,138.44 611.84,138.55 611.05,138.67 609.30,138.79 614.09,138.91 612.29,139.02 611.18,139.14 612.91,139.26 609.55,139.38 611.43,139.50 613.28,139.61 610.99,139.73 612.04,139.85 613.59,139.97 611.65,140.09 611.92,140.20 611.55,140.32 612.35,140.44 612.45,140.56 611.20,140.68 614.18,140.79 611.45,140.91 610.74,141.03 611.37,141.15 613.04,141.27 612.01,141.38 612.53,141.50 609.30,141.62 612.13,141.74 611.88,141.86 609.86,141.97 610.77,142.09 613.12,142.21 613.67,142.33 610.36,142.45 609.48,142.56 611.66,142.68 611.94,142.80 610.89,142.92 610.32,143.03 609.30,143.15 611.99,143.27 611.08,143.39 609.30,143.51 610.64,143.62 611.76,143.74 610.93,143.86 613.91,143.98 611.50,144.10 611.43,144.21 613.27,144.33 612.43,144.45 612.91,144.57 611.70,144.69 610.53,144.80 612.85,144.92 609.44,145.04 611.48,145.16 610.52,145.28 611.42,145.39 611.61,145.51 612.45,145.63 609.30,145.75 612.14,145.87 613.50,145.98 613.94,146.10 611.24,146.22 613.54,146.34 610.69,146.46 611.76,146.57 612.28,146.69 610.38,146.81 611.41,146.93 610.13,147.04 612.87,147.16 611.76,147.28 615.01,147.40 611.36,147.52 611.72,147.63 614.18,147.75 612.21,147.87 612.59,147.99 609.93,148.11 612.54,148.22 610.19,148.34 611.99,148.46 610.09,148.58 612.98,148.70 612.16,148.81 609.39,148.93 610.24,149.05 611.85,149.17 610.34,149.29 611.45,149.40 611.02,149.52 610.01,149.64 611.46,149.76 612.32,149.88 612.65,149.99 610.84,150.11 612.20,150.23 610.53,150.35 611.89,150.47 609.81,150.58 612.28,150.70 611.30,150.82 610.17,150.94 613.40,151.05 613.79,151.17 610.66,151.29 612.04,151.41 612.64,151.53 612.24,151.64 611.59,151.76 611.09,151.88 611.37,152.00 611.07,152.12 613.62,152.23 610.04,152.35 611.28,152.47 611.94,152.59 610.48,152.71 612.43,152.82 611.03,152.94 613.01,153.06 609.76,153.18 614.61,153.30 612.72,153.41 613.38,153.53 612.15,153.65 610.45,153.77 610.76,153.89 610.17,154.00 609.30,154.12 612.01,154.24 610.68,154.36 611.49,154.48 612.97,154.59 609.88,154.71 612.13,154.83 610.00,154.95 610.87,155.06 610.50,155.18 611.42,155.30 610.14,155.42 611.72,155.54 610.34,155.65 611.36,155.77 611.37,155.89 611.32,156.01 612.90,156.13 611.59,156.24 610.84,156.36 610.59,156.48 612.53,156.60 610.37,156.72 610.65,156.83 611.48,156.95 611.77,157.07 611.57,157.19 609.94,157.31 610.33,157.42 609.37,157.54 609.30,157.66 609.73,157.78 611.73,157.90 610.92,158.01 609.30,158.13 611.08,158.25 611.12,158.37 613.20,158.49 612.03,158.60 611.85,158.72 613.30,158.84 612.07,158.96 610.25,159.07 610.03,159.19 612.97,159.31 613.47,159.43 612.94,159.55 613.11,159.66 613.82,159.78 612.71,159.90 610.95,160.02 611.16,160.14 611.11,160.25 610.92,160.37 610.62,160.49 610.95,160.61 612.92,160.73 613.77,160.84 612.08,160.96 610.13,161.08 610.42,161.20 611.20,161.32 611.46,161.43 611.72,161.55 611.54,161.67 613.09,161.79 611.98,161.91 612.47,162.02 611.75,162.14 612.19,162.26 610.79,162.38 611.03,162.50 612.63,162.61 609.70,162.73 610.11,162.85 612.56,162.97 611.99,163.08 610.56,163.20 610.29,163.32 612.70,163.44 610.96,163.56 612.66,163.67 611.79,163.79 611.63,163.91 611.25,164.03 610.61,164.15 610.40,164.26 610.56,164.38 612.87,164.50 612.21,164.62 612.48,164.74 610.70,164.85 610.88,164.97 609.48,165.09 610.84,165.21 610.92,165.33 609.30,165.44 610.81,165.56 609.51,165.68 611.14,165.80 612.07,165.92 610.88,166.03 610.77,166.15 611.25,166.27 611.05,166.39 612.19,166.51 610.29,166.62 611.53,166.74 610.88,166.86 609.65,166.98 611.13,167.09 611.67,167.21 612.31,167.33 609.71,167.45 610.39,167.57 611.05,167.68 609.30,167.80 610.59,167.92 611.35,168.04 612.68,168.16 611.32,168.27 609.84,168.39 611.46,168.51 611.78,168.63 609.30,168.75 611.29,168.86 612.61,168.98 611.37,169.10 610.97,169.22 610.17,169.34 610.28,169.45 612.70,169.57 610.94,169.69 611.72,169.81 611.99,169.93 611.76,170.04 611.08,170.16 611.33,170.28 609.62,170.40 610.14,170.52 611.04,170.63 612.01,170.75 613.19,170.87 610.70,170.99 612.26,171.10 611.77,171.22 610.61,171.34 610.85,171.46 609.97,171.58 611.84,171.69 612.57,171.81 610.78,171.93 611.02,172.05 611.66,172.17 611.65,172.28 610.27,172.40 611.47,172.52 610.82,172.64 612.17,172.76 611.69,172.87 610.01,172.99 611.12,173.11 611.86,173.23 611.21,173.35 610.08,173.46 609.53,173.58 610.34,173.70 610.52,173.82 610.41,173.94 609.35,174.05 611.31,174.17 611.23,174.29 610.22,174.41 611.57,174.53 611.16,174.64 610.51,174.76 611.25,174.88 610.42,175.00 611.23,175.11 609.67,175.23 610.69,175.35 609.70,175.47 611.35,175.59 612.07,175.70 612.48,175.82 610.72,175.94 609.79,176.06 611.61,176.18 611.45,176.29 610.11,176.41 611.65,176.53 611.13,176.65 611.88,176.77 610.34,176.88 610.09,177.00 610.66,177.12 610.70,177.24 611.29,177.36 610.87,177.47 611.00,177.59 611.66,177.71 610.52,177.83 610.29,177.95 611.72,178.06 610.16,178.18 610.25,178.30 610.52,178.42 610.55,178.54 611.98,178.65 609.48,178.77 611.30,178.89 611.17,179.01 610.21,179.12 611.15,179.24 611.37,179.36 611.79,179.48 611.11,179.60 610.23,179.71 612.19,179.83 611.00,179.95 611.48,180.07 611.05,180.19 611.06,180.30 611.12,180.42 609.80,180.54 611.61,180.66 611.68,180.78 611.46,180.89 610.95,181.01 609.30,181.13 610.26,181.25 610.85,181.37 610.29,181.48 611.18,181.60 611.39,181.72 610.65,181.84 609.73,181.96 609.54,182.07 610.22,182.19 611.48,182.31 611.89,182.43 610.83,182.55 611.33,182.66 611.62,182.78 611.54,182.90 610.27,183.02 609.50,183.13 610.58,183.25 610.59,183.37 609.72,183.49 611.30,183.61 611.53,183.72 610.71,183.84 609.58,183.96 611.47,184.08 609.47,184.20 610.68,184.31 611.51,184.43 610.62,184.55 611.58,184.67 611.14,184.79 611.59,184.90 612.03,185.02 611.51,185.14 610.76,185.26 610.91,185.38 610.27,185.49 610.85,185.61 610.05,185.73 610.68,185.85 609.74,185.97 612.12,186.08 611.17,186.20 611.04,186.32 611.15,186.44 609.92,186.56 610.86,186.67 610.39,186.79 610.89,186.91 611.38,187.03 610.53,187.14 610.17,187.26 610.87,187.38 610.86,187.50 610.93,187.62 610.84,187.73 611.61,187.85 610.95,187.97 611.06,188.09 610.42,188.21 610.30,188.32 611.01,188.44 610.66,188.56 609.55,188.68 611.08,188.80 610.66,188.91 611.11,189.03 611.01,189.15 610.74,189.27 610.04,189.39 610.68,189.50 610.46,189.62 610.82,189.74 611.12,189.86 610.89,189.98 610.04,190.09 609.75,190.21 611.03,190.33 609.58,190.45 611.08,190.57 610.97,190.68 610.07,190.80 610.30,190.92 610.34,191.04 610.36,191.15 610.79,191.27 609.80,191.39 610.98,191.51 610.34,191.63 610.36,191.74 611.13,191.86 610.91,191.98 609.59,192.10 610.31,192.22 610.15,192.33 611.37,192.45 610.56,192.57 610.75,192.69 611.01,192.81 611.55,192.92 610.63,193.04 610.86,193.16 611.32,193.28 610.62,193.40 611.67,193.51 611.23,193.63 610.97,193.75 611.75,193.87 610.89,193.99 612.06,194.10 610.71,194.22 611.05,194.34 611.02,194.46 610.50,194.58 610.66,194.69 611.28,194.81 609.73,194.93 610.84,195.05 612.00,195.16 610.51,195.28 611.03,195.40 610.74,195.52 611.58,195.64 612.45,195.75 610.13,195.87 610.33,195.99 611.06,196.11 611.75,196.23 609.46,196.34 610.50,196.46 610.62,196.58 610.73,196.70 611.65,196.82 610.63,196.93 611.14,197.05 609.86,197.17 610.85,197.29 610.41,197.41 611.67,197.52 610.97,197.64 610.23,197.76 610.62,197.88 610.31,198.00 610.23,198.11 610.56,198.23 610.72,198.35 609.94,198.47 609.74,198.59 611.01,198.70 610.83,198.82 610.67,198.94 611.06,199.06 610.37,199.17 610.53,199.29 611.54,199.41 610.08,199.53 611.56,199.65 610.98,199.76 611.03,199.88 610.52,200.00 611.20,200.12 610.83,200.24 610.09,200.35 610.46,200.47 610.37,200.59 610.89,200.71 610.61,200.83 610.55,200.94 610.00,201.06 610.90,201.18 610.42,201.30 610.30,201.42 609.65,201.53 610.82,201.65 610.41,201.77 609.86,201.89 610.85,202.01 610.23,202.12 610.99,202.24 610.24,202.36 611.33,202.48 610.77,202.60 609.75,202.71 610.69,202.83 609.30,202.95 610.10,203.07 610.94,203.18 610.19,203.30 610.67,203.42 611.00,203.54 610.86,203.66 611.24,203.77 610.08,203.89 610.44,204.01 610.70,204.13 610.87,204.25 609.90,204.36 609.81,204.48 609.68,204.60 610.37,204.72 610.78,204.84 610.36,204.95 610.51,205.07 610.96,205.19 609.62,205.31 610.19,205.43 609.68,205.54 611.06,205.66 610.60,205.78 611.16,205.90 609.35,206.02 609.73,206.13 610.12,206.25 610.59,206.37 610.61,206.49 610.80,206.61 610.75,206.72 609.89,206.84 610.06,206.96 610.07,207.08 611.10,207.19 611.01,207.31 610.79,207.43 610.38,207.55 610.63,207.67 610.60,207.78 611.61,207.90 610.87,208.02 610.12,208.14 610.29,208.26 609.50,208.37 611.05,208.49 609.96,208.61 610.58,208.73 609.82,208.85 610.70,208.96 610.69,209.08 610.46,209.20" stroke="#1878c8" stroke-width="1.1" fill="none" stroke-linejoin="round"/>
<rect x="516.7" y="196.7" width="44.99999999999998" height="11.799999999999999" fill="#fff" stroke="#f01818" stroke-width="1.4"/>
<text x="518.06" y="206.30" font-size="10.87" font-weight="bold" fill="#f01818" textLength="40.81" lengthAdjust="spacingAndGlyphs" >Uniform</text>
<rect x="563.1" y="196.7" width="44.80000000000005" height="11.799999999999999" fill="#fff" stroke="#28d23a" stroke-width="1.4"/>
<text x="564.46" y="206.30" font-size="10.87" font-weight="bold" fill="#28d23a" textLength="40.60" lengthAdjust="spacingAndGlyphs" >Uniform</text>
<path d="M516,95.76 h3 M559.4,95.76 h6 M605.6,95.76 h6 M654.8,95.76 h-3 M516,147.32 h3 M559.4,147.32 h6 M605.6,147.32 h6 M654.8,147.32 h-3 M516,198.89 h3 M559.4,198.89 h6 M605.6,198.89 h6 M654.8,198.89 h-3 M516,69.98 h1.8 M560.6,69.98 h3.6 M606.8000000000001,69.98 h3.6 M654.8,69.98 h-1.8 M516,121.54 h1.8 M560.6,121.54 h3.6 M606.8000000000001,121.54 h3.6 M654.8,121.54 h-1.8 M516,173.11 h1.8 M560.6,173.11 h3.6 M606.8000000000001,173.11 h3.6 M654.8,173.11 h-1.8" stroke="#000" stroke-width="1.1" fill="none"/>
<rect x="516" y="44.2" width="138.79999999999995" height="165.0" fill="none" stroke="#000" stroke-width="1.6"/>
<path d="M562.4,44.2 V209.2 M608.6,44.2 V209.2" stroke="#000" stroke-width="1.3"/>
<text x="657" y="47.70" font-size="10" font-weight="bold">0</text>
<text x="657" y="99.26" font-size="10" font-weight="bold">0.5</text>
<text x="657" y="150.82" font-size="10" font-weight="bold">1</text>
<text x="657" y="202.39" font-size="10" font-weight="bold">1.5</text>
<text x="553.15" y="58.70" font-size="12.17" font-weight="bold" fill="#000" textLength="4.96" lengthAdjust="spacingAndGlyphs" >I</text>
<text x="589.98" y="58.70" font-size="12.17" font-weight="bold" fill="#000" textLength="13.06" lengthAdjust="spacingAndGlyphs" >Br</text>
<text x="633.70" y="58.70" font-size="12.17" font-weight="bold" fill="#000" textLength="16.49" lengthAdjust="spacingAndGlyphs" >Pb</text>
<text transform="translate(675.6,126.50) rotate(90)" font-size="12.3" font-weight="bold" text-anchor="middle" textLength="78.7" lengthAdjust="spacingAndGlyphs">Distance (µm)</text>
<text x="540.35" y="224.50" font-size="12.17" font-weight="bold" fill="#000" textLength="82.05" lengthAdjust="spacingAndGlyphs" >Intensity (a.u.)</text>
<text x="313.41" y="21.70" font-size="19.03" font-weight="bold" fill="#000" textLength="27.83" lengthAdjust="spacingAndGlyphs" >(d)</text>
<text x="468.57" y="29.50" font-size="15.36" font-weight="bold" fill="#000" textLength="91.94" lengthAdjust="spacingAndGlyphs" >Control (<tspan fill="#0f78d0">Ag</tspan>)</text>
<rect x="345.6" y="276.4" width="164.29999999999995" height="163.3" fill="#efefef"/>
<defs><linearGradient id="g276" x1="0" y1="0" x2="1" y2="0"><stop offset="0" stop-color="#bdbdbd"/><stop offset="0.35" stop-color="#c6c6c6"/><stop offset="0.6" stop-color="#cfcfcf"/><stop offset="1" stop-color="#d2d2d2"/></linearGradient></defs>
<rect x="345.6" y="313.5" width="164.29999999999995" height="50.0" fill="url(#g276)"/>
<rect x="345.6" y="363.5" width="164.29999999999995" height="38.30000000000001" fill="#e9e9e9"/>
<rect x="345.6" y="401.8" width="164.29999999999995" height="37.89999999999998" fill="#4f4f4f"/>
<rect x="345.6" y="313.5" width="164.29999999999995" height="50.0" fill="#000" filter="url(#tex)" opacity="1"/>
<rect x="480.7" y="365.5" width="2.3" height="34.30000000000001" fill="#000" opacity="0.010"/>
<rect x="456.5" y="365.5" width="1.0" height="34.30000000000001" fill="#000" opacity="0.008"/>
<rect x="463.9" y="365.5" width="2.1" height="34.30000000000001" fill="#000" opacity="0.024"/>
<rect x="414.3" y="365.5" width="1.6" height="34.30000000000001" fill="#000" opacity="0.013"/>
<rect x="392.4" y="365.5" width="1.9" height="34.30000000000001" fill="#000" opacity="0.016"/>
<rect x="347.1" y="365.5" width="0.8" height="34.30000000000001" fill="#000" opacity="0.026"/>
<rect x="462.5" y="365.5" width="2.2" height="34.30000000000001" fill="#000" opacity="0.011"/>
<rect x="415.9" y="365.5" width="2.2" height="34.30000000000001" fill="#000" opacity="0.015"/>
<rect x="461.9" y="365.5" width="1.6" height="34.30000000000001" fill="#000" opacity="0.011"/>
<rect x="430.3" y="365.5" width="2.1" height="34.30000000000001" fill="#000" opacity="0.019"/>
<rect x="490.6" y="365.5" width="1.0" height="34.30000000000001" fill="#000" opacity="0.017"/>
<rect x="418.3" y="365.5" width="1.0" height="34.30000000000001" fill="#000" opacity="0.023"/>
<rect x="371.9" y="365.5" width="0.9" height="34.30000000000001" fill="#000" opacity="0.014"/>
<rect x="420.4" y="365.5" width="1.8" height="34.30000000000001" fill="#000" opacity="0.022"/>
<rect x="387.1" y="365.5" width="1.5" height="34.30000000000001" fill="#000" opacity="0.020"/>
<rect x="466.3" y="365.5" width="2.2" height="34.30000000000001" fill="#000" opacity="0.024"/>
<rect x="491.3" y="365.5" width="1.8" height="34.30000000000001" fill="#000" opacity="0.021"/>
<rect x="502.4" y="365.5" width="2.2" height="34.30000000000001" fill="#000" opacity="0.023"/>
<rect x="382.0" y="365.5" width="2.1" height="34.30000000000001" fill="#000" opacity="0.015"/>
<rect x="355.4" y="365.5" width="0.8" height="34.30000000000001" fill="#000" opacity="0.010"/>
<rect x="509.4" y="365.5" width="1.6" height="34.30000000000001" fill="#000" opacity="0.011"/>
<rect x="395.2" y="365.5" width="2.1" height="34.30000000000001" fill="#000" opacity="0.017"/>
<rect x="446.0" y="365.5" width="1.2" height="34.30000000000001" fill="#000" opacity="0.016"/>
<rect x="422.8" y="365.5" width="1.1" height="34.30000000000001" fill="#000" opacity="0.027"/>
<rect x="462.1" y="365.5" width="1.7" height="34.30000000000001" fill="#000" opacity="0.017"/>
<rect x="351.0" y="365.5" width="2.1" height="34.30000000000001" fill="#000" opacity="0.012"/>
<rect x="348.8" y="365.5" width="1.1" height="34.30000000000001" fill="#000" opacity="0.010"/>
<rect x="496.4" y="365.5" width="0.8" height="34.30000000000001" fill="#000" opacity="0.028"/>
<rect x="503.9" y="365.5" width="2.1" height="34.30000000000001" fill="#000" opacity="0.025"/>
<rect x="469.7" y="365.5" width="1.4" height="34.30000000000001" fill="#000" opacity="0.028"/>
<rect x="435.2" y="365.5" width="0.9" height="34.30000000000001" fill="#000" opacity="0.024"/>
<rect x="475.6" y="365.5" width="0.8" height="34.30000000000001" fill="#000" opacity="0.009"/>
<rect x="437.7" y="365.5" width="1.1" height="34.30000000000001" fill="#000" opacity="0.025"/>
<rect x="480.5" y="365.5" width="1.4" height="34.30000000000001" fill="#000" opacity="0.008"/>
<rect x="462.7" y="365.5" width="2.2" height="34.30000000000001" fill="#000" opacity="0.027"/>
<rect x="348.7" y="365.5" width="1.2" height="34.30000000000001" fill="#000" opacity="0.010"/>
<rect x="467.4" y="365.5" width="1.7" height="34.30000000000001" fill="#000" opacity="0.025"/>
<rect x="354.4" y="365.5" width="0.9" height="34.30000000000001" fill="#000" opacity="0.024"/>
<rect x="369.8" y="365.5" width="2.3" height="34.30000000000001" fill="#000" opacity="0.018"/>
<rect x="395.0" y="365.5" width="1.3" height="34.30000000000001" fill="#000" opacity="0.028"/>
<rect x="394.5" y="365.5" width="1.9" height="34.30000000000001" fill="#000" opacity="0.011"/>
<rect x="453.7" y="365.5" width="1.3" height="34.30000000000001" fill="#000" opacity="0.026"/>
<rect x="506.0" y="365.5" width="1.2" height="34.30000000000001" fill="#000" opacity="0.027"/>
<rect x="384.4" y="365.5" width="1.0" height="34.30000000000001" fill="#000" opacity="0.025"/>
<rect x="356.1" y="365.5" width="1.7" height="34.30000000000001" fill="#000" opacity="0.010"/>
<polyline points="345.6,313.5 348.4,312.6 351.2,312.1 354.0,312.2 356.7,312.4 359.5,312.1 362.3,311.7 365.1,311.5 367.9,311.9 370.7,312.2 373.4,312.4 376.2,311.4 379.0,311.5 381.8,311.6 384.6,311.4 387.4,311.1 390.2,311.3 392.9,310.9 395.7,310.5 398.5,311.8 401.3,311.5 404.1,311.6 406.9,312.2 409.6,312.3 412.4,311.9 415.2,312.5 418.0,312.1 420.8,312.2 423.6,312.1 426.4,312.4 429.1,312.5 431.9,312.3 434.7,312.4 437.5,313.1 440.3,312.3 443.1,312.1 445.9,312.3 448.6,311.9 451.4,311.8 454.2,311.9 457.0,312.4 459.8,311.8 462.6,311.3 465.3,311.3 468.1,311.2 470.9,311.7 473.7,312.2 476.5,311.7 479.3,311.2 482.1,312.1 484.8,311.5 487.6,311.3 490.4,311.8 493.2,311.6 496.0,311.7 498.8,311.7 501.5,311.8 504.3,312.2 507.1,312.9 509.9,312.6" stroke="#fbfbfb" stroke-width="1.4" fill="none" opacity="0.9" stroke-linejoin="round"/>
<polyline points="345.6,313.8 348.4,315.1 351.2,313.8 354.0,313.4 356.7,313.3 359.5,312.2 362.3,311.2 365.1,312.0 367.9,311.6 370.7,312.3 373.4,312.9 376.2,313.6 379.0,313.8 381.8,313.8 384.6,313.1 387.4,313.0 390.2,313.4 392.9,313.6 395.7,313.8 398.5,314.5 401.3,314.6 404.1,315.1 406.9,314.8 409.6,315.1 412.4,314.4 415.2,314.5 418.0,313.7 420.8,313.4 423.6,313.4 426.4,313.6 429.1,313.5 431.9,313.0 434.7,313.0 437.5,312.7 440.3,312.5 443.1,312.3 445.9,312.1 448.6,312.0 451.4,312.4 454.2,312.5 457.0,313.9 459.8,313.6 462.6,313.9 465.3,314.2 468.1,314.0 470.9,313.8 473.7,314.0 476.5,314.3 479.3,314.6 482.1,314.3 484.8,315.1 487.6,314.8 490.4,314.9 493.2,314.9 496.0,314.0 498.8,312.7 501.5,312.6 504.3,313.0 507.1,312.6 509.9,312.5" stroke="#2a2a2a" stroke-width="1.35" fill="none" opacity="1" stroke-linejoin="round"/>
<polyline points="345.6,362.8 348.4,362.5 351.2,363.0 354.0,363.4 356.7,363.1 359.5,363.7 362.3,364.5 365.1,364.3 367.9,364.6 370.7,364.1 373.4,363.9 376.2,363.5 379.0,364.6 381.8,363.8 384.6,364.0 387.4,364.3 390.2,363.4 392.9,363.2 395.7,362.4 398.5,362.1 401.3,362.4 404.1,362.9 406.9,362.8 409.6,362.9 412.4,363.2 415.2,363.0 418.0,362.8 420.8,362.7 423.6,363.2 426.4,363.6 429.1,364.3 431.9,364.7 434.7,365.3 437.5,364.8 440.3,364.3 443.1,364.5 445.9,364.3 448.6,363.6 451.4,363.6 454.2,363.4 457.0,363.7 459.8,363.1 462.6,362.9 465.3,362.6 468.1,361.8 470.9,362.3 473.7,362.7 476.5,362.2 479.3,363.2 482.1,363.8 484.8,363.6 487.6,363.6 490.4,363.7 493.2,363.6 496.0,364.5 498.8,364.7 501.5,364.9 504.3,364.5 507.1,364.8 509.9,364.3" stroke="#333" stroke-width="1.15" fill="none" opacity="0.9" stroke-linejoin="round"/>
<ellipse cx="413" cy="363.6" rx="6" ry="1.3" fill="#1a1a1a" opacity="0.85"/>
<ellipse cx="468" cy="363.2" rx="7" ry="1.4" fill="#1a1a1a" opacity="0.85"/>
<ellipse cx="483" cy="364.3" rx="6" ry="1.5" fill="#1a1a1a" opacity="0.85"/>
<rect x="345.6" y="401.8" width="164.29999999999995" height="3.2" fill="#e9e9e9"/>
<polyline points="345.6,403.2 347.2,402.3 348.8,403.3 350.4,402.3 352.0,403.7 353.6,402.4 355.2,403.7 356.8,402.8 358.4,403.6 360.0,403.0 361.6,403.5 363.2,402.7 364.8,404.2 366.4,403.1 368.0,403.9 369.6,402.7 371.2,403.8 372.8,402.4 374.4,403.6 376.0,402.6 377.6,403.5 379.2,402.0 380.8,403.0 382.4,401.7 384.0,403.5 385.6,402.3 387.2,403.4 388.8,401.9 390.4,403.7 392.0,401.8 393.6,403.7 395.2,402.6 396.8,403.4 398.4,402.6 400.0,403.5 401.6,402.6 403.2,403.7 404.8,403.0 406.4,404.3 408.0,403.4 409.6,403.6 411.2,402.9 412.8,403.7 414.4,402.7 416.0,403.3 417.6,401.9 419.2,403.1 420.8,402.6 422.4,403.0 424.0,402.4 425.6,403.2 427.2,402.2 428.8,403.0 430.4,402.3 432.0,403.2 433.6,402.1 435.2,403.4 436.8,402.3 438.4,403.2 440.0,402.4 441.6,403.8 443.2,402.7 444.8,403.7 446.4,402.7 448.0,403.7 449.6,402.9 451.2,403.8 452.8,402.9 454.4,404.0 456.0,402.9 457.6,403.9 459.2,402.7 460.8,403.4 462.4,402.7 464.0,403.5 465.6,402.3 467.2,403.3 468.8,402.5 470.4,403.0 472.0,402.5 473.6,403.8 475.2,402.1 476.8,403.1 478.4,401.8 480.0,403.5 481.6,402.3 483.2,403.2 484.8,402.3 486.4,403.2 488.0,402.8 489.6,403.5 491.2,402.7 492.8,404.0 494.4,403.1 496.0,404.0 497.6,402.7 499.2,404.0 500.8,402.5 502.4,403.5 504.0,402.2 505.6,403.6 507.2,402.1 508.8,403.5" stroke="#202020" stroke-width="1.5" fill="none"/>
<rect x="345.6" y="404.2" width="164.29999999999995" height="2.6" fill="#ececec"/>
<rect x="345.6" y="406.6" width="164.29999999999995" height="0.8" fill="#777" opacity="0.8"/>
<path d="M492.7,276.4 V439.7" stroke="#2ed52e" stroke-width="0.7" opacity="0.55"/>
<text x="349.6" y="438.3" font-size="5.6" font-weight="bold" fill="#d0d0d0" textLength="33.5" lengthAdjust="spacingAndGlyphs">MAG: 79000 x</text>
<path d="M474.5,435.3 H505.7 M474.5,433.5 v3.6 M505.7,433.5 v3.6" stroke="#d0d0d0" stroke-width="0.8"/>
<text x="490" y="432.1" font-size="5.4" font-weight="bold" fill="#d0d0d0" text-anchor="middle">300 nm</text>
<text x="349.9" y="307.8" font-size="12.9" font-weight="bold" transform="translate(349.9,0) scale(1.09,1) translate(-349.9,0)">C<tspan font-size="8.8" font-weight="normal" dy="3">60</tspan><tspan dy="-3" font-weight="normal"> / </tspan><tspan>BCP</tspan><tspan font-weight="normal"> / </tspan><tspan fill="#0f78d0">Ag</tspan></text>
<text x="350.62" y="342.40" font-size="13.48" font-weight="bold" fill="#000" textLength="71.12" lengthAdjust="spacingAndGlyphs" >Perovskite</text>
<text x="350.8" y="366.8" font-size="12.9" font-weight="bold" transform="translate(350.8,0) scale(1.1,1) translate(-350.8,0)">NiO<tspan font-size="8.8" font-weight="normal" dy="3.6">x</tspan></text>
<text x="350.70" y="388.00" font-size="12.75" font-weight="bold" fill="#000" textLength="28.39" lengthAdjust="spacingAndGlyphs" >FTO</text>
<rect x="451.9" y="294.5" width="58.0" height="16.69999999999999" fill="#fff" stroke="#c8c8c8" stroke-width="0.8"/>
<text x="453.74" y="307.90" font-size="13.19" font-weight="bold" fill="#16b0ee" textLength="55.51" lengthAdjust="spacingAndGlyphs" >Cathode</text>
<rect x="465.2" y="367.2" width="44.69999999999999" height="16.600000000000023" fill="#fff" stroke="#c8c8c8" stroke-width="0.8"/>
<text x="467.19" y="380.50" font-size="13.06" font-weight="bold" fill="#ff0000" textLength="42.05" lengthAdjust="spacingAndGlyphs" >Anode</text>
<polyline points="519.02,275.70 518.26,275.82 518.69,275.94 518.62,276.05 518.44,276.17 519.25,276.29 518.52,276.41 519.01,276.53 518.38,276.65 519.40,276.76 518.51,276.88 518.26,277.00 518.45,277.12 518.61,277.24 518.87,277.36 518.25,277.47 519.38,277.59 518.61,277.71 519.05,277.83 518.15,277.95 518.77,278.06 518.36,278.18 519.10,278.30 518.38,278.42 518.33,278.54 518.63,278.66 518.61,278.77 518.58,278.89 518.64,279.01 519.02,279.13 519.16,279.25 519.48,279.37 518.76,279.48 518.35,279.60 519.57,279.72 518.65,279.84 519.15,279.96 518.74,280.07 518.76,280.19 518.06,280.31 517.48,280.43 518.55,280.55 518.64,280.67 518.41,280.78 518.69,280.90 518.69,281.02 518.56,281.14 518.88,281.26 518.60,281.37 518.15,281.49 518.83,281.61 518.76,281.73 518.31,281.85 517.85,281.97 518.76,282.08 518.91,282.20 519.35,282.32 518.47,282.44 519.12,282.56 519.25,282.68 518.44,282.79 519.37,282.91 519.71,283.03 518.55,283.15 519.23,283.27 518.50,283.38 519.00,283.50 516.94,283.62 518.44,283.74 519.63,283.86 519.31,283.98 519.29,284.09 520.62,284.21 518.70,284.33 518.34,284.45 516.83,284.57 518.28,284.69 518.06,284.80 519.72,284.92 518.70,285.04 518.16,285.16 518.89,285.28 519.05,285.39 518.88,285.51 519.60,285.63 518.85,285.75 518.93,285.87 519.22,285.99 518.41,286.10 519.01,286.22 518.73,286.34 519.47,286.46 519.28,286.58 517.76,286.70 519.37,286.81 519.06,286.93 518.92,287.05 518.20,287.17 519.83,287.29 518.57,287.40 519.08,287.52 518.51,287.64 519.31,287.76 518.58,287.88 518.79,288.00 519.45,288.11 518.88,288.23 518.80,288.35 519.67,288.47 518.06,288.59 519.44,288.71 519.84,288.82 518.89,288.94 519.56,289.06 518.44,289.18 518.98,289.30 519.14,289.41 518.30,289.53 517.83,289.65 519.64,289.77 517.75,289.89 519.29,290.01 518.89,290.12 518.92,290.24 519.70,290.36 519.00,290.48 519.08,290.60 519.47,290.71 519.17,290.83 518.26,290.95 519.24,291.07 520.13,291.19 518.50,291.31 519.12,291.42 518.42,291.54 518.05,291.66 519.56,291.78 518.99,291.90 519.10,292.02 519.12,292.13 519.39,292.25 519.56,292.37 519.29,292.49 519.15,292.61 517.74,292.72 518.39,292.84 518.91,292.96 518.76,293.08 518.33,293.20 519.15,293.32 519.19,293.43 519.87,293.55 518.77,293.67 519.43,293.79 518.62,293.91 519.05,294.03 518.08,294.14 518.09,294.26 519.66,294.38 517.83,294.50 519.15,294.62 518.80,294.73 518.83,294.85 519.00,294.97 519.25,295.09 519.34,295.21 518.83,295.33 519.07,295.44 518.68,295.56 518.84,295.68 518.34,295.80 518.54,295.92 518.43,296.04 518.94,296.15 519.92,296.27 519.61,296.39 518.76,296.51 518.30,296.63 518.33,296.74 518.58,296.86 520.35,296.98 519.03,297.10 518.24,297.22 519.50,297.34 518.88,297.45 520.29,297.57 519.78,297.69 519.75,297.81 519.56,297.93 519.37,298.04 518.88,298.16 519.31,298.28 520.34,298.40 520.01,298.52 519.36,298.64 519.46,298.75 519.33,298.87 518.58,298.99 519.19,299.11 519.40,299.23 519.55,299.35 519.37,299.46 520.28,299.58 519.72,299.70 518.87,299.82 518.69,299.94 518.96,300.05 519.15,300.17 519.72,300.29 520.58,300.41 519.01,300.53 518.45,300.65 519.02,300.76 519.51,300.88 519.83,301.00 519.21,301.12 520.21,301.24 519.68,301.36 520.27,301.47 519.89,301.59 520.03,301.71 519.97,301.83 519.05,301.95 517.92,302.06 520.22,302.18 518.72,302.30 518.96,302.42 519.94,302.54 520.50,302.66 520.17,302.77 519.27,302.89 519.93,303.01 518.95,303.13 519.20,303.25 520.30,303.37 518.72,303.48 518.36,303.60 519.00,303.72 519.84,303.84 518.92,303.96 519.25,304.07 519.74,304.19 518.33,304.31 520.87,304.43 518.87,304.55 520.45,304.67 518.65,304.78 519.42,304.90 519.78,305.02 520.11,305.14 520.20,305.26 519.65,305.38 518.31,305.49 519.58,305.61 519.28,305.73 519.05,305.85 520.13,305.97 518.66,306.08 520.71,306.20 519.71,306.32 519.32,306.44 519.84,306.56 520.16,306.68 519.29,306.79 519.93,306.91 519.82,307.03 519.26,307.15 519.85,307.27 519.30,307.38 519.97,307.50 519.46,307.62 520.21,307.74 520.38,307.86 520.57,307.98 520.14,308.09 519.30,308.21 519.63,308.33 519.15,308.45 520.71,308.57 519.29,308.69 520.71,308.80 520.47,308.92 519.79,309.04 519.78,309.16 519.83,309.28 519.87,309.39 519.94,309.51 519.29,309.63 521.13,309.75 520.50,309.87 520.54,309.99 521.24,310.10 520.37,310.22 520.20,310.34 519.76,310.46 520.01,310.58 520.73,310.70 520.48,310.81 520.05,310.93 520.27,311.05 519.70,311.17 519.91,311.29 521.01,311.40 520.76,311.52 520.53,311.64 520.69,311.76 521.29,311.88 520.97,312.00 521.10,312.11 520.30,312.23 521.13,312.35 520.33,312.47 521.14,312.59 520.73,312.71 521.55,312.82 521.05,312.94 520.19,313.06 520.98,313.18 521.30,313.30 521.54,313.41 521.72,313.53 521.37,313.65 522.19,313.77 520.60,313.89 521.16,314.01 520.59,314.12 521.00,314.24 520.75,314.36 520.99,314.48 521.93,314.60 522.84,314.72 527.66,314.83 531.21,314.95 535.43,315.07 539.79,315.19 542.98,315.31 547.19,315.42 551.79,315.54 555.50,315.66 556.18,315.78 557.66,315.90 553.26,316.02 553.99,316.13 553.44,316.25 551.94,316.37 552.22,316.49 550.67,316.61 550.32,316.72 549.36,316.84 547.46,316.96 548.42,317.08 543.46,317.20 547.43,317.32 543.76,317.43 549.59,317.55 550.84,317.67 544.77,317.79 541.87,317.91 541.63,318.03 544.79,318.14 545.05,318.26 546.64,318.38 548.19,318.50 545.12,318.62 543.57,318.73 553.73,318.85 545.93,318.97 546.24,319.09 543.43,319.21 546.33,319.33 545.27,319.44 547.09,319.56 544.95,319.68 540.48,319.80 540.73,319.92 547.67,320.04 546.93,320.15 544.67,320.27 546.73,320.39 549.29,320.51 541.82,320.63 548.65,320.74 550.68,320.86 548.94,320.98 543.55,321.10 546.76,321.22 544.26,321.34 541.39,321.45 542.23,321.57 543.05,321.69 543.21,321.81 544.48,321.93 540.20,322.05 538.30,322.16 541.93,322.28 547.65,322.40 544.68,322.52 545.72,322.64 542.65,322.75 542.22,322.87 543.93,322.99 545.06,323.11 545.64,323.23 550.52,323.35 548.35,323.46 546.36,323.58 538.97,323.70 543.09,323.82 543.56,323.94 540.68,324.05 544.93,324.17 542.90,324.29 543.57,324.41 544.66,324.53 541.64,324.65 545.37,324.76 542.30,324.88 544.00,325.00 545.00,325.12 551.27,325.24 539.94,325.36 548.75,325.47 544.33,325.59 541.16,325.71 542.74,325.83 541.54,325.95 546.73,326.06 546.01,326.18 545.99,326.30 546.60,326.42 540.28,326.54 538.03,326.66 545.39,326.77 542.94,326.89 540.87,327.01 547.39,327.13 550.09,327.25 547.94,327.37 542.50,327.48 550.36,327.60 548.78,327.72 539.99,327.84 544.74,327.96 543.34,328.07 539.72,328.19 544.84,328.31 544.66,328.43 538.19,328.55 533.64,328.67 539.93,328.78 541.04,328.90 539.63,329.02 541.70,329.14 547.08,329.26 543.88,329.38 540.16,329.49 538.04,329.61 540.72,329.73 540.47,329.85 542.11,329.97 545.73,330.08 538.11,330.20 543.43,330.32 546.50,330.44 543.97,330.56 543.45,330.68 539.87,330.79 541.12,330.91 548.52,331.03 543.48,331.15 544.15,331.27 541.99,331.39 536.87,331.50 542.91,331.62 543.25,331.74 541.06,331.86 547.21,331.98 545.29,332.09 538.13,332.21 541.97,332.33 539.15,332.45 542.04,332.57 533.73,332.69 543.29,332.80 543.18,332.92 539.32,333.04 547.57,333.16 544.17,333.28 542.62,333.39 543.08,333.51 541.83,333.63 540.57,333.75 541.13,333.87 544.21,333.99 539.25,334.10 538.86,334.22 545.89,334.34 540.14,334.46 542.89,334.58 538.99,334.70 541.94,334.81 540.07,334.93 540.05,335.05 541.94,335.17 543.10,335.29 541.37,335.40 546.51,335.52 543.00,335.64 540.66,335.76 542.45,335.88 543.17,336.00 544.61,336.11 540.00,336.23 536.70,336.35 536.78,336.47 535.90,336.59 545.20,336.71 535.81,336.82 545.92,336.94 542.15,337.06 543.93,337.18 536.47,337.30 540.25,337.41 544.86,337.53 539.09,337.65 546.36,337.77 543.23,337.89 541.40,338.01 545.66,338.12 541.10,338.24 542.35,338.36 542.84,338.48 537.34,338.60 542.50,338.72 544.79,338.83 544.48,338.95 546.19,339.07 542.47,339.19 538.60,339.31 546.86,339.42 535.98,339.54 543.23,339.66 534.14,339.78 540.53,339.90 548.01,340.02 536.30,340.13 546.66,340.25 540.17,340.37 538.86,340.49 540.56,340.61 540.46,340.73 542.73,340.84 543.24,340.96 542.88,341.08 541.99,341.20 540.41,341.32 546.58,341.43 544.54,341.55 540.71,341.67 541.81,341.79 542.32,341.91 546.16,342.03 541.56,342.14 541.51,342.26 542.88,342.38 542.11,342.50 538.40,342.62 537.15,342.73 543.32,342.85 542.03,342.97 541.49,343.09 540.08,343.21 538.38,343.33 539.89,343.44 537.90,343.56 537.84,343.68 539.48,343.80 542.35,343.92 538.47,344.04 542.46,344.15 543.25,344.27 540.81,344.39 538.77,344.51 542.31,344.63 542.39,344.74 546.94,344.86 540.44,344.98 543.28,345.10 544.12,345.22 545.54,345.34 534.88,345.45 541.65,345.57 539.75,345.69 538.69,345.81 532.53,345.93 537.53,346.05 538.87,346.16 542.23,346.28 537.29,346.40 541.53,346.52 535.96,346.64 539.82,346.75 541.36,346.87 537.72,346.99 538.07,347.11 540.40,347.23 545.33,347.35 539.99,347.46 536.04,347.58 539.97,347.70 542.65,347.82 544.83,347.94 541.02,348.06 540.93,348.17 540.70,348.29 541.43,348.41 541.08,348.53 538.72,348.65 542.43,348.76 537.59,348.88 533.93,349.00 537.71,349.12 537.53,349.24 540.75,349.36 536.45,349.47 531.39,349.59 535.29,349.71 537.96,349.83 536.03,349.95 536.17,350.06 541.77,350.18 537.33,350.30 542.33,350.42 541.40,350.54 541.56,350.66 539.02,350.77 537.55,350.89 542.23,351.01 537.63,351.13 540.57,351.25 539.74,351.37 537.29,351.48 532.06,351.60 539.26,351.72 540.80,351.84 537.34,351.96 542.94,352.07 538.14,352.19 537.05,352.31 541.22,352.43 535.16,352.55 540.60,352.67 545.41,352.78 540.85,352.90 538.15,353.02 541.43,353.14 542.37,353.26 538.78,353.38 539.69,353.49 540.98,353.61 542.18,353.73 537.72,353.85 539.19,353.97 542.77,354.08 539.50,354.20 538.20,354.32 544.81,354.44 535.21,354.56 538.05,354.68 540.99,354.79 541.88,354.91 535.91,355.03 538.90,355.15 539.92,355.27 536.34,355.39 539.31,355.50 538.24,355.62 535.89,355.74 533.94,355.86 538.56,355.98 539.91,356.09 535.76,356.21 535.98,356.33 534.92,356.45 532.41,356.57 537.63,356.69 538.81,356.80 541.00,356.92 534.30,357.04 540.07,357.16 538.60,357.28 536.46,357.40 539.36,357.51 536.92,357.63 541.77,357.75 537.10,357.87 539.93,357.99 545.18,358.10 538.64,358.22 538.16,358.34 539.61,358.46 537.01,358.58 537.72,358.70 540.67,358.81 535.16,358.93 541.34,359.05 536.01,359.17 534.21,359.29 543.07,359.40 534.10,359.52 536.26,359.64 539.68,359.76 537.77,359.88 541.81,360.00 538.00,360.11 537.12,360.23 537.60,360.35 537.43,360.47 540.09,360.59 536.88,360.71 540.58,360.82 538.76,360.94 536.61,361.06 540.05,361.18 532.32,361.30 538.83,361.41 536.17,361.53 535.78,361.65 532.80,361.77 538.65,361.89 543.99,362.01 538.02,362.12 537.89,362.24 533.40,362.36 541.53,362.48 538.95,362.60 536.50,362.72 540.84,362.83 538.06,362.95 534.83,363.07 538.42,363.19 536.99,363.31 542.28,363.42 536.44,363.54 539.54,363.66 537.32,363.78 538.70,363.90 536.64,364.02 537.70,364.13 535.47,364.25 538.66,364.37 539.98,364.49 540.66,364.61 540.06,364.73 542.12,364.84 537.90,364.96 540.18,365.08 541.29,365.20 541.74,365.32 545.01,365.43 545.53,365.55 548.84,365.67 549.54,365.79 547.69,365.91 544.96,366.03 544.84,366.14 542.66,366.26 540.11,366.38 538.07,366.50 537.16,366.62 535.36,366.74 533.28,366.85 531.57,366.97 530.07,367.09 528.51,367.21 527.28,367.33 524.31,367.44 523.89,367.56 524.73,367.68 524.88,367.80 522.84,367.92 525.96,368.04 527.76,368.15 527.65,368.27 528.72,368.39 527.60,368.51 528.59,368.63 525.96,368.74 526.38,368.86 527.65,368.98 524.64,369.10 530.12,369.22 528.87,369.34 530.35,369.45 530.29,369.57 530.88,369.69 531.61,369.81 529.01,369.93 528.38,370.05 527.76,370.16 530.33,370.28 528.75,370.40 527.06,370.52 529.35,370.64 530.54,370.75 530.90,370.87 528.11,370.99 527.70,371.11 529.83,371.23 530.10,371.35 528.76,371.46 530.93,371.58 528.57,371.70 531.09,371.82 532.45,371.94 527.44,372.06 531.29,372.17 530.30,372.29 528.22,372.41 529.72,372.53 531.53,372.65 532.04,372.76 529.40,372.88 529.86,373.00 533.75,373.12 531.01,373.24 530.08,373.36 531.03,373.47 531.64,373.59 529.36,373.71 527.74,373.83 527.22,373.95 531.37,374.07 528.55,374.18 527.27,374.30 527.04,374.42 532.93,374.54 533.49,374.66 530.25,374.77 532.37,374.89 531.62,375.01 527.26,375.13 531.70,375.25 530.75,375.37 530.24,375.48 530.18,375.60 527.67,375.72 532.25,375.84 531.53,375.96 529.41,376.07 529.75,376.19 527.64,376.31 532.35,376.43 530.67,376.55 531.26,376.67 530.64,376.78 531.69,376.90 532.61,377.02 533.27,377.14 530.76,377.26 528.98,377.38 528.06,377.49 532.09,377.61 531.09,377.73 534.48,377.85 531.42,377.97 527.80,378.08 531.63,378.20 529.72,378.32 531.80,378.44 528.51,378.56 530.62,378.68 530.09,378.79 529.27,378.91 527.83,379.03 531.24,379.15 528.49,379.27 526.45,379.39 528.00,379.50 529.60,379.62 530.39,379.74 529.62,379.86 530.93,379.98 530.90,380.09 530.70,380.21 530.24,380.33 531.30,380.45 533.45,380.57 531.14,380.69 530.97,380.80 530.70,380.92 532.17,381.04 528.72,381.16 529.09,381.28 530.96,381.40 528.10,381.51 531.90,381.63 529.74,381.75 529.20,381.87 528.75,381.99 526.91,382.10 528.87,382.22 526.95,382.34 527.76,382.46 527.98,382.58 530.42,382.70 529.48,382.81 530.98,382.93 527.87,383.05 529.88,383.17 529.64,383.29 530.77,383.41 529.58,383.52 531.25,383.64 529.21,383.76 531.83,383.88 533.49,384.00 532.31,384.11 530.61,384.23 530.56,384.35 531.64,384.47 529.66,384.59 528.78,384.71 529.66,384.82 529.73,384.94 529.75,385.06 533.63,385.18 535.29,385.30 531.01,385.41 527.89,385.53 530.99,385.65 530.41,385.77 528.08,385.89 531.55,386.01 530.32,386.12 528.64,386.24 529.09,386.36 532.69,386.48 529.05,386.60 530.59,386.72 529.74,386.83 528.90,386.95 529.74,387.07 532.55,387.19 534.24,387.31 529.82,387.42 530.39,387.54 530.42,387.66 530.92,387.78 531.63,387.90 532.12,388.02 530.55,388.13 526.83,388.25 533.66,388.37 531.75,388.49 530.25,388.61 531.11,388.73 531.02,388.84 531.34,388.96 526.93,389.08 533.51,389.20 529.84,389.32 532.71,389.43 531.62,389.55 529.43,389.67 530.95,389.79 532.64,389.91 532.48,390.03 531.67,390.14 529.78,390.26 531.96,390.38 533.48,390.50 531.93,390.62 527.20,390.74 531.63,390.85 530.61,390.97 533.44,391.09 529.48,391.21 528.22,391.33 530.29,391.44 533.93,391.56 532.63,391.68 531.87,391.80 535.46,391.92 529.17,392.04 529.02,392.15 528.14,392.27 531.04,392.39 529.46,392.51 528.12,392.63 532.21,392.75 530.77,392.86 533.57,392.98 533.30,393.10 529.34,393.22 531.38,393.34 530.07,393.45 528.38,393.57 536.16,393.69 531.81,393.81 530.56,393.93 533.87,394.05 530.45,394.16 531.15,394.28 533.40,394.40 530.51,394.52 532.03,394.64 531.56,394.75 528.58,394.87 532.38,394.99 531.37,395.11 531.33,395.23 532.81,395.35 528.56,395.46 529.03,395.58 528.90,395.70 529.65,395.82 531.50,395.94 531.90,396.06 530.45,396.17 530.54,396.29 532.53,396.41 527.41,396.53 528.45,396.65 533.76,396.76 528.46,396.88 529.73,397.00 530.30,397.12 532.93,397.24 531.98,397.36 529.28,397.47 527.73,397.59 531.83,397.71 529.59,397.83 527.74,397.95 531.97,398.07 527.84,398.18 528.33,398.30 531.46,398.42 527.79,398.54 533.12,398.66 532.62,398.77 526.23,398.89 529.57,399.01 531.49,399.13 530.96,399.25 531.25,399.37 527.20,399.48 532.50,399.60 528.80,399.72 528.96,399.84 529.03,399.96 531.31,400.08 528.75,400.19 529.31,400.31 527.30,400.43 527.16,400.55 530.20,400.67 527.62,400.78 527.41,400.90 530.71,401.02 529.08,401.14 529.55,401.26 530.59,401.38 529.90,401.49 531.10,401.61 530.40,401.73 528.12,401.85 529.04,401.97 528.84,402.08 527.78,402.20 529.33,402.32 527.86,402.44 529.39,402.56 529.13,402.68 527.85,402.79 531.36,402.91 530.76,403.03 530.42,403.15 529.72,403.27 529.15,403.39 527.65,403.50 526.73,403.62 525.03,403.74 523.74,403.86 522.55,403.98 521.13,404.09 519.99,404.21 519.15,404.33 518.20,404.45 519.60,404.57 521.32,404.69 522.97,404.80 524.02,404.92 525.64,405.04 526.70,405.16 528.14,405.28 529.58,405.40 528.67,405.51 527.40,405.63 526.07,405.75 524.76,405.87 523.44,405.99 521.85,406.10 520.63,406.22 518.86,406.34 517.76,406.46 517.72,406.58 517.54,406.70 517.25,406.81 517.79,406.93 517.98,407.05 517.64,407.17 517.32,407.29 517.67,407.41 518.00,407.52 517.23,407.64 516.70,407.76 517.56,407.88 518.22,408.00 517.42,408.11 517.52,408.23 517.07,408.35 516.79,408.47 517.81,408.59 518.20,408.71 517.51,408.82 517.12,408.94 516.92,409.06 518.23,409.18 517.05,409.30 517.34,409.42 517.65,409.53 517.88,409.65 517.37,409.77 516.79,409.89 517.15,410.01 516.95,410.12 517.42,410.24 517.02,410.36 517.60,410.48 516.89,410.60 517.32,410.72 517.77,410.83 517.88,410.95 516.70,411.07 517.59,411.19 517.37,411.31 517.37,411.42 516.99,411.54 516.70,411.66 517.43,411.78 517.99,411.90 516.70,412.02 517.26,412.13 517.66,412.25 517.84,412.37 516.70,412.49 517.46,412.61 516.70,412.73 518.07,412.84 517.25,412.96 517.62,413.08 517.37,413.20 516.70,413.32 518.31,413.43 517.57,413.55 517.16,413.67 516.70,413.79 518.06,413.91 516.82,414.03 517.35,414.14 517.84,414.26 517.92,414.38 517.20,414.50 517.39,414.62 517.65,414.74 517.47,414.85 516.70,414.97 517.43,415.09 517.05,415.21 517.57,415.33 516.72,415.44 517.22,415.56 517.26,415.68 517.28,415.80 516.72,415.92 516.97,416.04 517.45,416.15 518.60,416.27 517.23,416.39 517.72,416.51 517.49,416.63 517.92,416.75 516.70,416.86 516.70,416.98 517.23,417.10 517.05,417.22 516.95,417.34 517.10,417.45 517.57,417.57 518.30,417.69 516.70,417.81 516.85,417.93 517.39,418.05 516.70,418.16 517.12,418.28 516.94,418.40 516.86,418.52 517.23,418.64 516.89,418.76 517.37,418.87 518.02,418.99 516.83,419.11 517.41,419.23 517.04,419.35 516.84,419.46 517.49,419.58 517.44,419.70 517.11,419.82 517.53,419.94 516.70,420.06 517.15,420.17 517.25,420.29 516.70,420.41 518.04,420.53 517.00,420.65 517.00,420.76 517.58,420.88 517.61,421.00 517.34,421.12 517.36,421.24 516.97,421.36 516.70,421.47 516.70,421.59 517.09,421.71 517.80,421.83 516.70,421.95 517.60,422.07 516.70,422.18 517.19,422.30 517.81,422.42 516.97,422.54 516.70,422.66 517.88,422.77 516.70,422.89 518.03,423.01 517.83,423.13 517.98,423.25 517.22,423.37 517.95,423.48 517.01,423.60 517.72,423.72 517.02,423.84 517.43,423.96 517.58,424.08 516.94,424.19 516.70,424.31 517.32,424.43 517.25,424.55 517.20,424.67 517.51,424.78 516.83,424.90 516.70,425.02 516.70,425.14 516.87,425.26 516.70,425.38 517.05,425.49 517.09,425.61 516.70,425.73 517.33,425.85 516.73,425.97 516.70,426.09 517.38,426.20 516.94,426.32 517.31,426.44 517.47,426.56 516.70,426.68 517.18,426.79 518.02,426.91 517.72,427.03 517.00,427.15 517.33,427.27 517.41,427.39 517.43,427.50 516.77,427.62 517.14,427.74 516.70,427.86 517.54,427.98 516.92,428.09 517.14,428.21 517.75,428.33 517.22,428.45 516.70,428.57 517.08,428.69 517.34,428.80 516.70,428.92 517.67,429.04 517.43,429.16 517.41,429.28 516.70,429.40 516.70,429.51 517.64,429.63 517.08,429.75 516.92,429.87 517.09,429.99 517.18,430.10 517.61,430.22 517.01,430.34 517.28,430.46 516.70,430.58 517.80,430.70 517.20,430.81 517.04,430.93 516.85,431.05 516.90,431.17 517.29,431.29 516.70,431.41 517.85,431.52 516.98,431.64 517.74,431.76 516.70,431.88 516.70,432.00 516.70,432.11 517.01,432.23 517.19,432.35 517.15,432.47 517.86,432.59 516.81,432.71 516.70,432.82 516.74,432.94 516.70,433.06 516.98,433.18 516.91,433.30 516.73,433.42 516.88,433.53 517.09,433.65 516.70,433.77 517.39,433.89 516.70,434.01 517.13,434.12 516.70,434.24 517.02,434.36 517.12,434.48 517.36,434.60 516.70,434.72 516.80,434.83 516.70,434.95 517.42,435.07 516.76,435.19 516.89,435.31 516.80,435.43 516.70,435.54 517.38,435.66 516.87,435.78 516.70,435.90 517.35,436.02 516.70,436.13 516.93,436.25 516.70,436.37 516.70,436.49 517.39,436.61 517.06,436.73 516.86,436.84 516.70,436.96 516.92,437.08 516.92,437.20 516.97,437.32 516.83,437.43 516.70,437.55 517.28,437.67 516.75,437.79 516.89,437.91 516.70,438.03 516.92,438.14 516.84,438.26 516.73,438.38 517.39,438.50 516.79,438.62 517.27,438.74 517.14,438.85 517.10,438.97 516.70,439.09 517.12,439.21 517.38,439.33 517.14,439.44 517.54,439.56 516.70,439.68 516.70,439.80 517.00,439.92 517.15,440.04 516.73,440.15 516.97,440.27 516.70,440.39 516.76,440.51 516.94,440.63 516.81,440.75 517.41,440.86 517.10,440.98 516.70,441.10" stroke="#f5507c" stroke-width="1.1" fill="none" stroke-linejoin="round"/>
<polyline points="567.07,275.70 573.60,275.82 565.27,275.94 567.89,276.05 570.57,276.17 566.33,276.29 569.64,276.41 574.25,276.53 572.82,276.65 569.11,276.76 571.11,276.88 571.21,277.00 574.23,277.12 568.52,277.24 567.61,277.36 570.39,277.47 570.62,277.59 563.17,277.71 563.20,277.83 566.77,277.95 565.43,278.06 567.79,278.18 570.81,278.30 563.84,278.42 567.80,278.54 568.15,278.66 565.73,278.77 572.31,278.89 569.86,279.01 564.39,279.13 570.99,279.25 568.89,279.37 572.57,279.48 569.07,279.60 572.36,279.72 574.05,279.84 566.37,279.96 569.54,280.07 569.25,280.19 568.38,280.31 570.29,280.43 571.68,280.55 570.04,280.67 570.74,280.78 569.27,280.90 570.61,281.02 570.62,281.14 570.54,281.26 571.63,281.37 572.58,281.49 573.98,281.61 570.85,281.73 568.32,281.85 567.14,281.97 569.75,282.08 570.23,282.20 578.12,282.32 569.44,282.44 565.08,282.56 569.56,282.68 566.96,282.79 568.83,282.91 567.73,283.03 570.08,283.15 573.35,283.27 572.67,283.38 570.24,283.50 574.32,283.62 571.03,283.74 571.36,283.86 563.10,283.98 566.99,284.09 568.47,284.21 568.36,284.33 567.82,284.45 567.91,284.57 567.24,284.69 571.72,284.80 566.54,284.92 567.45,285.04 570.98,285.16 575.20,285.28 572.95,285.39 566.97,285.51 571.09,285.63 570.58,285.75 573.81,285.87 565.13,285.99 571.04,286.10 567.45,286.22 563.47,286.34 573.88,286.46 572.15,286.58 570.84,286.70 567.04,286.81 572.88,286.93 571.11,287.05 569.65,287.17 569.19,287.29 568.64,287.40 572.36,287.52 573.10,287.64 567.59,287.76 569.70,287.88 566.97,288.00 570.13,288.11 567.65,288.23 573.17,288.35 567.42,288.47 571.50,288.59 569.61,288.71 568.17,288.82 567.13,288.94 575.42,289.06 566.87,289.18 570.40,289.30 565.99,289.41 568.05,289.53 563.81,289.65 571.88,289.77 571.50,289.89 569.90,290.01 572.78,290.12 573.85,290.24 566.53,290.36 573.58,290.48 568.71,290.60 568.77,290.71 570.31,290.83 571.11,290.95 568.12,291.07 567.36,291.19 569.12,291.31 568.46,291.42 570.45,291.54 568.08,291.66 572.20,291.78 575.39,291.90 568.25,292.02 566.38,292.13 567.66,292.25 568.28,292.37 573.46,292.49 573.50,292.61 572.94,292.72 568.39,292.84 567.90,292.96 566.77,293.08 568.92,293.20 570.75,293.32 569.19,293.43 567.37,293.55 572.42,293.67 574.92,293.79 569.52,293.91 569.65,294.03 573.05,294.14 570.39,294.26 567.74,294.38 568.14,294.50 572.84,294.62 572.63,294.73 569.09,294.85 569.87,294.97 569.59,295.09 571.42,295.21 573.40,295.33 570.84,295.44 563.13,295.56 571.70,295.68 572.41,295.80 568.64,295.92 566.44,296.04 565.87,296.15 572.16,296.27 569.35,296.39 572.77,296.51 574.11,296.63 567.03,296.74 569.40,296.86 567.24,296.98 567.12,297.10 573.66,297.22 567.12,297.34 569.95,297.45 574.03,297.57 571.47,297.69 568.72,297.81 572.14,297.93 571.48,298.04 576.24,298.16 567.17,298.28 570.62,298.40 571.93,298.52 571.21,298.64 569.67,298.75 572.66,298.87 570.12,298.99 570.80,299.11 575.25,299.23 576.42,299.35 571.96,299.46 571.81,299.58 569.66,299.70 566.01,299.82 563.13,299.94 573.41,300.05 572.97,300.17 571.57,300.29 568.39,300.41 572.81,300.53 575.69,300.65 571.74,300.76 566.39,300.88 565.42,301.00 569.07,301.12 568.74,301.24 571.85,301.36 564.39,301.47 572.27,301.59 569.19,301.71 574.12,301.83 569.69,301.95 571.51,302.06 568.69,302.18 566.35,302.30 574.93,302.42 568.14,302.54 566.05,302.66 569.54,302.77 570.30,302.89 568.63,303.01 568.32,303.13 568.90,303.25 571.21,303.37 572.61,303.48 570.68,303.60 570.55,303.72 572.15,303.84 566.82,303.96 570.49,304.07 573.80,304.19 568.14,304.31 573.38,304.43 570.30,304.55 572.90,304.67 566.81,304.78 567.01,304.90 573.14,305.02 568.46,305.14 567.76,305.26 569.94,305.38 563.10,305.49 571.73,305.61 574.18,305.73 569.47,305.85 563.46,305.97 563.10,306.08 569.66,306.20 575.21,306.32 569.80,306.44 570.15,306.56 572.29,306.68 568.00,306.79 572.32,306.91 564.78,307.03 569.00,307.15 568.56,307.27 568.72,307.38 563.10,307.50 568.77,307.62 572.05,307.74 568.05,307.86 574.44,307.98 569.28,308.09 570.10,308.21 564.42,308.33 572.11,308.45 570.78,308.57 573.36,308.69 567.23,308.80 570.11,308.92 573.51,309.04 569.70,309.16 569.45,309.28 565.73,309.39 574.14,309.51 573.03,309.63 566.81,309.75 573.08,309.87 574.08,309.99 572.67,310.10 570.01,310.22 570.29,310.34 564.67,310.46 569.01,310.58 568.87,310.70 566.02,310.81 572.20,310.93 569.17,311.05 571.93,311.17 568.33,311.29 565.17,311.40 570.12,311.52 569.05,311.64 571.86,311.76 569.83,311.88 573.97,312.00 568.12,312.11 574.66,312.23 570.50,312.35 571.93,312.47 565.66,312.59 570.63,312.71 568.96,312.82 571.27,312.94 566.98,313.06 568.30,313.18 564.78,313.30 569.06,313.41 569.44,313.53 568.95,313.65 567.10,313.77 568.37,313.89 567.44,314.01 565.46,314.12 566.65,314.24 566.26,314.36 566.92,314.48 566.84,314.60 567.33,314.72 568.49,314.83 565.59,314.95 569.98,315.07 570.71,315.19 569.88,315.31 570.72,315.42 571.52,315.54 570.06,315.66 570.65,315.78 572.22,315.90 573.66,316.02 571.28,316.13 571.83,316.25 572.53,316.37 575.95,316.49 573.63,316.61 573.55,316.72 575.04,316.84 574.11,316.96 574.21,317.08 577.61,317.20 578.10,317.32 575.61,317.43 577.91,317.55 579.54,317.67 574.87,317.79 574.68,317.91 580.33,318.03 576.42,318.14 580.74,318.26 581.29,318.38 579.49,318.50 578.11,318.62 582.29,318.73 583.66,318.85 576.07,318.97 580.67,319.09 582.81,319.21 581.32,319.33 577.40,319.44 577.20,319.56 573.23,319.68 579.55,319.80 575.63,319.92 580.85,320.04 580.85,320.15 578.73,320.27 579.86,320.39 583.57,320.51 577.87,320.63 586.64,320.74 581.21,320.86 574.52,320.98 573.93,321.10 582.49,321.22 580.22,321.34 570.03,321.45 579.82,321.57 586.69,321.69 579.78,321.81 573.21,321.93 582.17,322.05 582.88,322.16 574.24,322.28 580.59,322.40 570.23,322.52 587.56,322.64 579.60,322.75 569.17,322.87 575.40,322.99 575.03,323.11 572.16,323.23 584.40,323.35 581.85,323.46 580.25,323.58 583.40,323.70 574.31,323.82 575.73,323.94 583.36,324.05 581.96,324.17 579.87,324.29 577.48,324.41 579.99,324.53 574.97,324.65 572.47,324.76 570.08,324.88 581.55,325.00 585.65,325.12 576.92,325.24 583.74,325.36 579.40,325.47 575.10,325.59 583.79,325.71 577.42,325.83 577.14,325.95 579.10,326.06 577.25,326.18 572.01,326.30 575.31,326.42 574.81,326.54 580.39,326.66 582.75,326.77 586.82,326.89 581.58,327.01 572.38,327.13 573.24,327.25 579.05,327.37 586.41,327.48 576.37,327.60 580.43,327.72 576.78,327.84 581.53,327.96 577.90,328.07 583.31,328.19 579.64,328.31 584.01,328.43 576.04,328.55 582.99,328.67 581.29,328.78 582.53,328.90 578.92,329.02 583.62,329.14 582.32,329.26 579.96,329.38 584.81,329.49 577.50,329.61 588.78,329.73 572.52,329.85 581.25,329.97 584.57,330.08 579.66,330.20 583.68,330.32 578.73,330.44 584.74,330.56 585.33,330.68 574.13,330.79 572.35,330.91 580.98,331.03 574.84,331.15 581.89,331.27 583.74,331.39 573.22,331.50 581.94,331.62 579.21,331.74 583.20,331.86 576.52,331.98 582.81,332.09 580.27,332.21 571.70,332.33 577.03,332.45 586.47,332.57 582.60,332.69 583.71,332.80 584.22,332.92 580.28,333.04 574.93,333.16 584.05,333.28 576.45,333.39 572.49,333.51 582.40,333.63 586.25,333.75 581.54,333.87 576.99,333.99 571.72,334.10 583.84,334.22 587.65,334.34 578.54,334.46 583.36,334.58 575.15,334.70 577.47,334.81 584.17,334.93 583.09,335.05 577.97,335.17 577.49,335.29 582.35,335.40 582.33,335.52 580.45,335.64 581.94,335.76 587.50,335.88 579.91,336.00 588.84,336.11 583.71,336.23 585.03,336.35 575.01,336.47 578.57,336.59 581.54,336.71 577.76,336.82 587.22,336.94 587.31,337.06 587.56,337.18 580.99,337.30 575.68,337.41 570.64,337.53 585.58,337.65 579.32,337.77 573.68,337.89 580.39,338.01 590.52,338.12 582.00,338.24 581.14,338.36 586.72,338.48 583.55,338.60 581.01,338.72 585.92,338.83 575.66,338.95 571.47,339.07 577.85,339.19 590.63,339.31 587.93,339.42 573.66,339.54 587.47,339.66 574.96,339.78 583.87,339.90 586.56,340.02 579.04,340.13 585.00,340.25 575.27,340.37 591.32,340.49 593.83,340.61 587.64,340.73 577.96,340.84 581.52,340.96 580.66,341.08 583.42,341.20 586.10,341.32 582.41,341.43 588.39,341.55 597.93,341.67 593.04,341.79 588.57,341.91 579.98,342.03 587.08,342.14 576.00,342.26 581.44,342.38 597.15,342.50 590.59,342.62 591.90,342.73 579.03,342.85 581.84,342.97 581.78,343.09 587.69,343.21 584.71,343.33 583.55,343.44 581.05,343.56 579.71,343.68 588.55,343.80 578.82,343.92 581.76,344.04 589.67,344.15 588.42,344.27 585.39,344.39 590.42,344.51 577.65,344.63 588.42,344.74 587.09,344.86 592.96,344.98 584.80,345.10 579.20,345.22 586.85,345.34 577.93,345.45 582.32,345.57 580.46,345.69 590.73,345.81 589.12,345.93 580.18,346.05 586.20,346.16 584.00,346.28 580.02,346.40 590.11,346.52 585.93,346.64 593.79,346.75 587.11,346.87 584.95,346.99 583.65,347.11 580.22,347.23 581.96,347.35 582.66,347.46 586.77,347.58 589.07,347.70 588.77,347.82 581.83,347.94 588.10,348.06 589.40,348.17 599.68,348.29 590.06,348.41 580.82,348.53 582.92,348.65 582.50,348.76 592.00,348.88 583.36,349.00 593.42,349.12 581.40,349.24 587.26,349.36 590.46,349.47 587.74,349.59 593.83,349.71 587.15,349.83 590.00,349.95 590.71,350.06 595.00,350.18 583.20,350.30 579.80,350.42 588.50,350.54 585.55,350.66 586.42,350.77 588.22,350.89 587.60,351.01 582.92,351.13 588.30,351.25 589.61,351.37 589.38,351.48 578.00,351.60 588.77,351.72 579.82,351.84 589.92,351.96 582.30,352.07 584.41,352.19 595.18,352.31 590.12,352.43 590.06,352.55 589.81,352.67 586.73,352.78 594.04,352.90 586.63,353.02 586.67,353.14 593.02,353.26 585.54,353.38 589.60,353.49 592.18,353.61 584.99,353.73 596.67,353.85 593.29,353.97 589.13,354.08 593.30,354.20 587.03,354.32 577.55,354.44 590.17,354.56 591.34,354.68 593.19,354.79 589.80,354.91 589.03,355.03 591.30,355.15 588.31,355.27 586.16,355.39 593.08,355.50 591.81,355.62 593.53,355.74 589.78,355.86 592.97,355.98 588.01,356.09 577.50,356.21 585.74,356.33 592.37,356.45 593.98,356.57 584.12,356.69 591.99,356.80 583.82,356.92 591.11,357.04 599.21,357.16 592.04,357.28 591.99,357.40 595.04,357.51 591.79,357.63 589.19,357.75 587.75,357.87 586.11,357.99 584.67,358.10 588.36,358.22 588.05,358.34 598.95,358.46 590.05,358.58 588.48,358.70 600.29,358.81 589.16,358.93 588.93,359.05 591.24,359.17 591.54,359.29 587.91,359.40 587.50,359.52 595.06,359.64 587.72,359.76 587.01,359.88 590.77,360.00 590.05,360.11 591.00,360.23 590.74,360.35 592.14,360.47 592.83,360.59 595.09,360.71 585.72,360.82 598.70,360.94 599.54,361.06 591.23,361.18 595.34,361.30 590.96,361.41 593.93,361.53 599.69,361.65 599.30,361.77 595.07,361.89 602.80,362.01 597.55,362.12 588.31,362.24 595.41,362.36 599.85,362.48 594.07,362.60 595.62,362.72 590.83,362.83 590.64,362.95 592.43,363.07 586.16,363.19 584.69,363.31 585.45,363.42 585.03,363.54 584.56,363.66 580.65,363.78 580.28,363.90 572.44,364.02 574.42,364.13 573.35,364.25 573.88,364.37 569.20,364.49 569.60,364.61 565.55,364.73 566.98,364.84 566.88,364.96 563.10,365.08 563.51,365.20 563.10,365.32 564.34,365.43 563.10,365.55 564.91,365.67 564.81,365.79 563.10,365.91 566.18,366.03 566.74,366.14 565.53,366.26 566.80,366.38 565.16,366.50 565.56,366.62 568.97,366.74 566.15,366.85 566.16,366.97 563.74,367.09 563.10,367.21 564.71,367.33 571.70,367.44 566.12,367.56 569.87,367.68 569.09,367.80 565.40,367.92 567.05,368.04 566.93,368.15 568.29,368.27 568.95,368.39 568.11,368.51 571.03,368.63 567.88,368.74 570.69,368.86 570.37,368.98 563.10,369.10 568.51,369.22 564.54,369.34 568.75,369.45 567.91,369.57 568.20,369.69 569.06,369.81 566.72,369.93 567.01,370.05 569.28,370.16 569.06,370.28 569.53,370.40 568.65,370.52 570.36,370.64 564.82,370.75 568.27,370.87 568.66,370.99 565.33,371.11 567.89,371.23 565.02,371.35 563.10,371.46 563.11,371.58 569.57,371.70 569.74,371.82 569.32,371.94 566.50,372.06 568.83,372.17 563.16,372.29 565.66,372.41 569.03,372.53 568.44,372.65 565.20,372.76 568.66,372.88 570.53,373.00 567.30,373.12 572.62,373.24 567.16,373.36 567.85,373.47 566.67,373.59 568.68,373.71 568.59,373.83 564.85,373.95 564.15,374.07 569.34,374.18 571.24,374.30 567.51,374.42 565.72,374.54 567.48,374.66 567.79,374.77 566.37,374.89 570.48,375.01 567.01,375.13 566.11,375.25 566.39,375.37 565.67,375.48 571.52,375.60 569.67,375.72 570.07,375.84 567.13,375.96 568.93,376.07 568.40,376.19 569.56,376.31 569.99,376.43 570.15,376.55 567.25,376.67 569.02,376.78 564.99,376.90 569.07,377.02 566.72,377.14 563.98,377.26 567.78,377.38 569.23,377.49 570.17,377.61 566.98,377.73 566.48,377.85 565.33,377.97 569.29,378.08 571.29,378.20 566.99,378.32 568.75,378.44 569.96,378.56 566.01,378.68 568.91,378.79 569.39,378.91 567.98,379.03 567.44,379.15 565.72,379.27 568.44,379.39 567.11,379.50 568.72,379.62 569.09,379.74 567.27,379.86 570.83,379.98 564.85,380.09 566.29,380.21 566.67,380.33 567.94,380.45 565.30,380.57 569.52,380.69 567.81,380.80 568.55,380.92 564.81,381.04 566.67,381.16 568.19,381.28 568.41,381.40 569.30,381.51 567.87,381.63 566.89,381.75 563.10,381.87 568.54,381.99 567.43,382.10 567.10,382.22 568.34,382.34 566.36,382.46 568.61,382.58 568.76,382.70 568.37,382.81 564.35,382.93 567.40,383.05 567.90,383.17 567.52,383.29 568.17,383.41 567.79,383.52 566.17,383.64 573.27,383.76 565.77,383.88 565.27,384.00 569.23,384.11 569.57,384.23 570.12,384.35 569.55,384.47 563.82,384.59 565.20,384.71 570.96,384.82 569.79,384.94 566.69,385.06 568.48,385.18 565.65,385.30 566.20,385.41 567.92,385.53 569.44,385.65 570.28,385.77 563.10,385.89 569.25,386.01 569.70,386.12 567.71,386.24 569.73,386.36 568.66,386.48 568.43,386.60 563.51,386.72 569.36,386.83 565.64,386.95 564.47,387.07 565.75,387.19 568.89,387.31 568.19,387.42 567.79,387.54 567.85,387.66 569.85,387.78 573.05,387.90 569.22,388.02 566.58,388.13 567.52,388.25 569.29,388.37 565.83,388.49 566.77,388.61 567.76,388.73 571.80,388.84 568.65,388.96 564.36,389.08 565.49,389.20 570.36,389.32 564.09,389.43 563.17,389.55 564.31,389.67 567.84,389.79 568.51,389.91 564.52,390.03 566.68,390.14 568.28,390.26 568.39,390.38 565.87,390.50 569.06,390.62 567.67,390.74 570.94,390.85 567.37,390.97 568.71,391.09 570.74,391.21 567.94,391.33 567.54,391.44 566.69,391.56 568.79,391.68 563.28,391.80 565.37,391.92 567.95,392.04 569.08,392.15 572.03,392.27 570.71,392.39 568.66,392.51 566.05,392.63 563.61,392.75 570.32,392.86 563.10,392.98 571.67,393.10 565.42,393.22 569.57,393.34 569.26,393.45 569.87,393.57 568.52,393.69 567.29,393.81 567.66,393.93 563.44,394.05 564.83,394.16 565.62,394.28 568.34,394.40 568.90,394.52 564.17,394.64 569.94,394.75 568.63,394.87 567.01,394.99 567.25,395.11 570.83,395.23 568.74,395.35 567.97,395.46 566.15,395.58 567.99,395.70 571.47,395.82 564.83,395.94 566.32,396.06 569.00,396.17 569.31,396.29 570.12,396.41 566.73,396.53 568.14,396.65 567.55,396.76 564.51,396.88 571.77,397.00 570.40,397.12 567.40,397.24 568.35,397.36 565.48,397.47 569.08,397.59 567.60,397.71 567.86,397.83 564.94,397.95 564.73,398.07 566.34,398.18 568.48,398.30 565.60,398.42 568.66,398.54 565.99,398.66 565.60,398.77 571.05,398.89 566.85,399.01 566.54,399.13 565.71,399.25 566.53,399.37 567.01,399.48 565.00,399.60 566.82,399.72 566.89,399.84 570.80,399.96 566.33,400.08 567.67,400.19 567.75,400.31 568.28,400.43 568.04,400.55 572.29,400.67 564.82,400.78 570.46,400.90 566.89,401.02 563.10,401.14 570.41,401.26 566.69,401.38 570.99,401.49 565.32,401.61 566.50,401.73 568.56,401.85 569.41,401.97 563.10,402.08 563.59,402.20 570.39,402.32 570.77,402.44 567.24,402.56 568.27,402.68 563.82,402.79 568.71,402.91 567.19,403.03 567.46,403.15 569.02,403.27 566.72,403.39 569.96,403.50 565.99,403.62 567.61,403.74 564.64,403.86 568.97,403.98 563.42,404.09 565.81,404.21 569.38,404.33 565.84,404.45 563.15,404.57 569.44,404.69 571.32,404.80 569.46,404.92 566.23,405.04 566.60,405.16 568.42,405.28 569.69,405.40 567.74,405.51 566.90,405.63 569.00,405.75 567.83,405.87 570.19,405.99 566.57,406.10 569.79,406.22 567.33,406.34 569.43,406.46 566.24,406.58 565.56,406.70 564.95,406.81 567.26,406.93 563.95,407.05 567.62,407.17 567.36,407.29 564.76,407.41 563.81,407.52 569.10,407.64 565.35,407.76 564.99,407.88 564.93,408.00 567.66,408.11 567.22,408.23 567.38,408.35 564.63,408.47 567.39,408.59 564.93,408.71 565.46,408.82 565.63,408.94 563.73,409.06 566.01,409.18 565.85,409.30 564.49,409.42 566.25,409.53 566.23,409.65 565.30,409.77 567.37,409.89 564.88,410.01 564.27,410.12 563.56,410.24 566.15,410.36 564.71,410.48 564.61,410.60 566.44,410.72 563.72,410.83 564.66,410.95 564.22,411.07 563.34,411.19 563.68,411.31 564.62,411.42 564.66,411.54 564.57,411.66 563.89,411.78 563.19,411.90 563.55,412.02 565.33,412.13 563.10,412.25 563.10,412.37 564.73,412.49 564.64,412.61 563.85,412.73 564.56,412.84 563.10,412.96 564.67,413.08 564.39,413.20 563.68,413.32 563.76,413.43 564.71,413.55 565.10,413.67 564.39,413.79 566.31,413.91 563.48,414.03 564.33,414.14 564.23,414.26 564.23,414.38 564.58,414.50 563.77,414.62 565.20,414.74 564.12,414.85 564.60,414.97 564.24,415.09 564.24,415.21 565.31,415.33 563.10,415.44 564.46,415.56 563.10,415.68 564.50,415.80 563.63,415.92 564.66,416.04 564.47,416.15 565.38,416.27 564.84,416.39 565.04,416.51 565.37,416.63 563.93,416.75 565.40,416.86 564.85,416.98 565.86,417.10 563.45,417.22 564.93,417.34 564.25,417.45 564.08,417.57 563.83,417.69 566.17,417.81 563.95,417.93 564.35,418.05 563.19,418.16 563.10,418.28 564.66,418.40 565.61,418.52 564.10,418.64 563.10,418.76 563.54,418.87 565.11,418.99 564.10,419.11 565.66,419.23 563.57,419.35 565.37,419.46 563.10,419.58 563.96,419.70 563.10,419.82 565.17,419.94 565.05,420.06 564.77,420.17 564.28,420.29 564.06,420.41 563.52,420.53 564.18,420.65 564.05,420.76 565.03,420.88 563.63,421.00 563.10,421.12 564.89,421.24 564.46,421.36 565.44,421.47 564.70,421.59 564.97,421.71 563.23,421.83 565.04,421.95 564.64,422.07 565.84,422.18 564.71,422.30 564.34,422.42 563.21,422.54 564.73,422.66 565.59,422.77 564.14,422.89 563.68,423.01 564.76,423.13 563.81,423.25 564.97,423.37 564.35,423.48 565.19,423.60 564.98,423.72 564.50,423.84 565.06,423.96 563.65,424.08 564.77,424.19 564.22,424.31 564.50,424.43 565.51,424.55 563.78,424.67 564.54,424.78 564.57,424.90 564.77,425.02 564.10,425.14 565.06,425.26 565.39,425.38 563.76,425.49 563.90,425.61 564.71,425.73 565.18,425.85 564.18,425.97 564.62,426.09 563.24,426.20 563.34,426.32 563.48,426.44 565.58,426.56 566.14,426.68 563.66,426.79 564.26,426.91 564.66,427.03 564.81,427.15 564.13,427.27 564.32,427.39 563.10,427.50 564.15,427.62 563.37,427.74 563.68,427.86 564.11,427.98 563.11,428.09 563.48,428.21 564.24,428.33 564.64,428.45 564.47,428.57 564.77,428.69 563.72,428.80 564.69,428.92 564.10,429.04 564.29,429.16 564.00,429.28 563.93,429.40 563.97,429.51 564.36,429.63 564.63,429.75 563.78,429.87 564.69,429.99 563.51,430.10 564.27,430.22 564.53,430.34 564.61,430.46 564.26,430.58 564.05,430.70 564.25,430.81 563.12,430.93 564.40,431.05 563.90,431.17 563.10,431.29 563.80,431.41 563.96,431.52 564.39,431.64 563.73,431.76 564.08,431.88 563.12,432.00 563.18,432.11 563.92,432.23 564.40,432.35 563.60,432.47 564.09,432.59 563.56,432.71 565.20,432.82 563.77,432.94 563.94,433.06 565.16,433.18 564.76,433.30 564.04,433.42 564.51,433.53 563.98,433.65 564.77,433.77 563.35,433.89 563.40,434.01 563.88,434.12 563.68,434.24 563.26,434.36 563.88,434.48 564.11,434.60 564.52,434.72 565.19,434.83 563.83,434.95 563.10,435.07 564.13,435.19 563.22,435.31 563.59,435.43 563.51,435.54 563.40,435.66 564.14,435.78 564.65,435.90 564.55,436.02 564.11,436.13 564.69,436.25 564.79,436.37 564.59,436.49 563.44,436.61 564.25,436.73 563.29,436.84 564.55,436.96 563.25,437.08 564.29,437.20 564.40,437.32 564.54,437.43 564.86,437.55 563.55,437.67 563.10,437.79 563.97,437.91 564.57,438.03 563.68,438.14 564.24,438.26 564.44,438.38 564.67,438.50 563.13,438.62 564.19,438.74 564.51,438.85 563.77,438.97 565.28,439.09 564.64,439.21 564.01,439.33 564.77,439.44 564.05,439.56 564.28,439.68 563.72,439.80 563.99,439.92 563.33,440.04 563.29,440.15 564.00,440.27 563.54,440.39 563.67,440.51 564.47,440.63 565.04,440.75 564.22,440.86 564.21,440.98 563.69,441.10" stroke="#1ec18f" stroke-width="1.1" fill="none" stroke-linejoin="round"/>
<polyline points="613.85,275.70 609.30,275.82 609.67,275.94 611.00,276.05 613.93,276.17 612.10,276.29 612.44,276.41 611.92,276.53 612.31,276.65 610.74,276.76 613.06,276.88 609.30,277.00 611.10,277.12 612.51,277.24 609.71,277.36 614.13,277.47 614.35,277.59 612.52,277.71 610.96,277.83 613.61,277.95 613.25,278.06 612.69,278.18 613.35,278.30 612.86,278.42 613.62,278.54 612.20,278.66 610.74,278.77 611.69,278.89 610.13,279.01 609.99,279.13 612.97,279.25 612.91,279.37 611.90,279.48 613.63,279.60 611.31,279.72 613.02,279.84 609.81,279.96 613.57,280.07 610.35,280.19 613.40,280.31 612.65,280.43 615.84,280.55 612.69,280.67 612.91,280.78 610.11,280.90 610.61,281.02 611.39,281.14 611.53,281.26 611.10,281.37 612.10,281.49 612.38,281.61 609.30,281.73 613.61,281.85 614.48,281.97 613.30,282.08 610.58,282.20 612.06,282.32 612.98,282.44 610.87,282.56 611.60,282.68 610.27,282.79 614.54,282.91 609.72,283.03 612.80,283.15 611.24,283.27 612.44,283.38 611.89,283.50 611.68,283.62 613.57,283.74 611.00,283.86 611.57,283.98 612.17,284.09 611.31,284.21 609.42,284.33 611.28,284.45 614.48,284.57 612.54,284.69 613.02,284.80 612.10,284.92 614.35,285.04 610.37,285.16 613.50,285.28 613.21,285.39 613.22,285.51 611.25,285.63 612.97,285.75 612.23,285.87 612.37,285.99 613.09,286.10 610.93,286.22 611.83,286.34 611.02,286.46 612.57,286.58 614.00,286.70 613.74,286.81 611.21,286.93 612.70,287.05 613.39,287.17 610.96,287.29 613.43,287.40 612.55,287.52 612.81,287.64 610.06,287.76 612.79,287.88 613.78,288.00 610.86,288.11 611.83,288.23 610.99,288.35 611.21,288.47 609.59,288.59 612.14,288.71 611.34,288.82 613.19,288.94 613.18,289.06 611.85,289.18 610.79,289.30 612.33,289.41 612.70,289.53 613.25,289.65 613.92,289.77 610.18,289.89 611.35,290.01 611.88,290.12 612.85,290.24 610.26,290.36 611.05,290.48 612.79,290.60 610.87,290.71 609.34,290.83 613.20,290.95 612.61,291.07 613.51,291.19 612.30,291.31 610.64,291.42 610.53,291.54 612.30,291.66 609.97,291.78 612.56,291.90 614.78,292.02 612.63,292.13 611.38,292.25 611.66,292.37 609.49,292.49 613.05,292.61 611.48,292.72 612.46,292.84 614.09,292.96 610.90,293.08 611.59,293.20 613.00,293.32 609.38,293.43 612.37,293.55 611.72,293.67 610.59,293.79 611.02,293.91 612.43,294.03 610.41,294.14 612.24,294.26 611.36,294.38 613.02,294.50 613.56,294.62 610.87,294.73 611.94,294.85 613.91,294.97 611.79,295.09 612.33,295.21 611.54,295.33 614.39,295.44 613.35,295.56 612.63,295.68 613.68,295.80 611.10,295.92 610.22,296.04 612.07,296.15 611.07,296.27 612.22,296.39 612.19,296.51 613.93,296.63 614.63,296.74 609.39,296.86 611.68,296.98 612.75,297.10 613.28,297.22 610.74,297.34 609.72,297.45 612.70,297.57 610.86,297.69 610.96,297.81 612.28,297.93 609.30,298.04 613.19,298.16 610.25,298.28 613.83,298.40 610.14,298.52 612.28,298.64 609.73,298.75 612.93,298.87 610.28,298.99 615.35,299.11 614.16,299.23 611.61,299.35 613.07,299.46 611.23,299.58 611.85,299.70 609.64,299.82 611.27,299.94 614.03,300.05 611.55,300.17 612.30,300.29 609.79,300.41 609.32,300.53 611.35,300.65 612.07,300.76 612.45,300.88 611.80,301.00 612.48,301.12 611.42,301.24 611.26,301.36 612.37,301.47 612.14,301.59 611.95,301.71 611.26,301.83 612.74,301.95 612.77,302.06 611.90,302.18 609.30,302.30 614.09,302.42 611.49,302.54 611.72,302.66 610.78,302.77 610.84,302.89 612.88,303.01 611.41,303.13 612.22,303.25 611.93,303.37 611.14,303.48 610.05,303.60 611.71,303.72 611.37,303.84 614.45,303.96 612.26,304.07 612.08,304.19 612.64,304.31 612.22,304.43 612.67,304.55 612.98,304.67 612.97,304.78 613.88,304.90 610.92,305.02 611.91,305.14 609.30,305.26 611.54,305.38 611.01,305.49 612.97,305.61 609.40,305.73 611.86,305.85 611.55,305.97 610.74,306.08 611.90,306.20 612.32,306.32 614.66,306.44 611.56,306.56 611.48,306.68 611.96,306.79 611.23,306.91 613.32,307.03 611.60,307.15 611.68,307.27 613.35,307.38 610.40,307.50 613.26,307.62 611.58,307.74 612.36,307.86 612.47,307.98 612.01,308.09 612.69,308.21 610.77,308.33 610.26,308.45 611.54,308.57 610.68,308.69 610.67,308.80 610.84,308.92 612.56,309.04 613.63,309.16 610.98,309.28 612.28,309.39 612.45,309.51 612.82,309.63 611.26,309.75 611.75,309.87 611.77,309.99 612.70,310.10 611.64,310.22 611.19,310.34 613.12,310.46 612.33,310.58 614.27,310.70 612.76,310.81 611.32,310.93 613.70,311.05 612.27,311.17 611.15,311.29 614.03,311.40 612.00,311.52 611.21,311.64 612.34,311.76 612.91,311.88 611.93,312.00 612.38,312.11 613.12,312.23 612.64,312.35 610.41,312.47 611.86,312.59 612.31,312.71 611.27,312.82 613.90,312.94 612.51,313.06 611.76,313.18 614.03,313.30 609.92,313.41 612.58,313.53 611.46,313.65 612.76,313.77 610.84,313.89 612.97,314.01 611.15,314.12 610.96,314.24 614.04,314.36 611.42,314.48 615.34,314.60 617.93,314.72 622.84,314.83 626.09,314.95 631.31,315.07 634.29,315.19 639.95,315.31 642.76,315.42 645.07,315.54 644.76,315.66 643.79,315.78 643.50,315.90 643.68,316.02 642.09,316.13 643.50,316.25 642.83,316.37 643.86,316.49 644.03,316.61 642.07,316.72 642.38,316.84 637.45,316.96 636.11,317.08 643.07,317.20 638.88,317.32 636.81,317.43 641.27,317.55 639.08,317.67 645.78,317.79 637.70,317.91 637.06,318.03 637.82,318.14 643.77,318.26 643.81,318.38 646.56,318.50 644.43,318.62 638.37,318.73 627.83,318.85 641.63,318.97 641.68,319.09 644.32,319.21 640.15,319.33 646.76,319.44 642.33,319.56 645.21,319.68 640.95,319.80 635.36,319.92 641.35,320.04 643.41,320.15 632.48,320.27 637.20,320.39 646.92,320.51 642.35,320.63 634.97,320.74 629.53,320.86 639.88,320.98 641.12,321.10 644.19,321.22 645.69,321.34 636.78,321.45 638.08,321.57 637.52,321.69 643.56,321.81 636.68,321.93 641.78,322.05 635.63,322.16 637.64,322.28 641.29,322.40 642.86,322.52 639.42,322.64 642.44,322.75 634.58,322.87 637.80,322.99 641.60,323.11 639.97,323.23 630.36,323.35 638.67,323.46 635.41,323.58 639.48,323.70 639.50,323.82 639.07,323.94 637.53,324.05 641.31,324.17 647.97,324.29 641.54,324.41 639.33,324.53 637.88,324.65 639.98,324.76 638.49,324.88 637.87,325.00 634.82,325.12 640.96,325.24 639.15,325.36 637.04,325.47 637.55,325.59 646.52,325.71 635.16,325.83 639.80,325.95 639.73,326.06 635.10,326.18 642.70,326.30 630.41,326.42 637.40,326.54 640.26,326.66 643.25,326.77 634.98,326.89 630.53,327.01 639.22,327.13 634.39,327.25 628.92,327.37 634.34,327.48 637.89,327.60 637.51,327.72 637.25,327.84 630.84,327.96 636.27,328.07 637.27,328.19 643.47,328.31 638.24,328.43 638.99,328.55 640.67,328.67 638.30,328.78 638.08,328.90 638.36,329.02 638.07,329.14 633.73,329.26 641.66,329.38 637.99,329.49 639.50,329.61 632.14,329.73 641.64,329.85 635.36,329.97 633.33,330.08 645.58,330.20 637.52,330.32 640.26,330.44 639.26,330.56 640.58,330.68 641.29,330.79 639.55,330.91 635.93,331.03 641.15,331.15 640.97,331.27 638.22,331.39 646.48,331.50 635.87,331.62 637.26,331.74 639.21,331.86 641.09,331.98 637.92,332.09 638.65,332.21 637.76,332.33 639.19,332.45 639.67,332.57 636.52,332.69 645.20,332.80 638.39,332.92 639.82,333.04 633.38,333.16 643.26,333.28 643.24,333.39 643.14,333.51 640.63,333.63 641.64,333.75 640.90,333.87 637.84,333.99 645.56,334.10 637.92,334.22 634.11,334.34 637.38,334.46 634.33,334.58 641.10,334.70 643.64,334.81 634.29,334.93 632.56,335.05 644.94,335.17 636.97,335.29 636.77,335.40 642.86,335.52 640.81,335.64 636.24,335.76 638.22,335.88 639.39,336.00 635.47,336.11 638.17,336.23 641.33,336.35 637.95,336.47 639.61,336.59 639.45,336.71 635.82,336.82 639.90,336.94 634.02,337.06 640.42,337.18 638.19,337.30 635.47,337.41 637.61,337.53 632.72,337.65 637.20,337.77 639.90,337.89 641.72,338.01 640.34,338.12 636.63,338.24 641.89,338.36 640.22,338.48 642.38,338.60 631.04,338.72 643.69,338.83 636.97,338.95 638.09,339.07 638.94,339.19 635.34,339.31 642.38,339.42 642.96,339.54 638.19,339.66 637.43,339.78 635.52,339.90 637.58,340.02 639.80,340.13 643.33,340.25 642.33,340.37 637.20,340.49 641.49,340.61 635.57,340.73 640.36,340.84 638.51,340.96 639.04,341.08 637.80,341.20 635.66,341.32 636.79,341.43 639.56,341.55 637.01,341.67 640.69,341.79 634.17,341.91 639.19,342.03 643.85,342.14 640.37,342.26 636.73,342.38 640.71,342.50 644.82,342.62 641.92,342.73 642.42,342.85 646.37,342.97 639.54,343.09 639.24,343.21 642.05,343.33 637.88,343.44 640.97,343.56 638.15,343.68 644.72,343.80 634.59,343.92 641.21,344.04 637.65,344.15 641.23,344.27 643.61,344.39 636.57,344.51 637.78,344.63 640.84,344.74 642.50,344.86 634.33,344.98 639.11,345.10 640.14,345.22 636.27,345.34 632.95,345.45 642.56,345.57 643.85,345.69 638.70,345.81 638.49,345.93 637.81,346.05 633.88,346.16 633.05,346.28 638.89,346.40 642.57,346.52 641.47,346.64 635.07,346.75 643.26,346.87 637.66,346.99 646.18,347.11 636.82,347.23 636.03,347.35 641.92,347.46 634.10,347.58 639.15,347.70 640.00,347.82 642.08,347.94 646.54,348.06 638.67,348.17 642.09,348.29 643.69,348.41 636.76,348.53 638.85,348.65 643.55,348.76 639.16,348.88 640.82,349.00 644.45,349.12 635.62,349.24 634.92,349.36 646.62,349.47 640.67,349.59 643.03,349.71 643.44,349.83 642.27,349.95 641.53,350.06 635.21,350.18 640.16,350.30 632.90,350.42 635.89,350.54 648.07,350.66 636.02,350.77 643.32,350.89 640.55,351.01 638.47,351.13 641.05,351.25 644.26,351.37 635.60,351.48 642.02,351.60 639.06,351.72 638.04,351.84 639.75,351.96 644.26,352.07 641.70,352.19 644.43,352.31 640.48,352.43 643.51,352.55 642.86,352.67 636.77,352.78 637.60,352.90 638.31,353.02 639.57,353.14 645.34,353.26 639.88,353.38 640.45,353.49 644.01,353.61 636.28,353.73 641.15,353.85 636.13,353.97 640.78,354.08 637.27,354.20 631.30,354.32 636.92,354.44 639.05,354.56 641.36,354.68 632.28,354.79 632.35,354.91 641.01,355.03 640.39,355.15 634.45,355.27 642.32,355.39 645.97,355.50 641.56,355.62 638.71,355.74 643.14,355.86 633.02,355.98 639.52,356.09 643.09,356.21 642.76,356.33 640.16,356.45 636.87,356.57 642.29,356.69 637.91,356.80 640.25,356.92 632.68,357.04 639.35,357.16 639.40,357.28 638.39,357.40 636.22,357.51 642.58,357.63 644.12,357.75 641.68,357.87 637.52,357.99 633.05,358.10 640.70,358.22 638.45,358.34 635.46,358.46 640.10,358.58 634.01,358.70 646.63,358.81 626.68,358.93 640.90,359.05 645.03,359.17 641.38,359.29 638.81,359.40 644.36,359.52 634.76,359.64 634.22,359.76 637.81,359.88 636.27,360.00 637.92,360.11 639.07,360.23 632.68,360.35 637.04,360.47 642.23,360.59 647.10,360.71 644.12,360.82 637.39,360.94 643.06,361.06 637.08,361.18 631.59,361.30 642.10,361.41 638.20,361.53 639.59,361.65 639.33,361.77 633.74,361.89 640.50,362.01 643.51,362.12 640.01,362.24 637.20,362.36 633.13,362.48 638.51,362.60 638.33,362.72 640.42,362.83 640.42,362.95 640.67,363.07 642.55,363.19 640.49,363.31 640.47,363.42 643.42,363.54 643.54,363.66 646.30,363.78 647.83,363.90 646.68,364.02 642.82,364.13 639.93,364.25 637.80,364.37 634.85,364.49 632.11,364.61 627.74,364.73 626.13,364.84 624.47,364.96 620.71,365.08 617.54,365.20 613.78,365.32 610.79,365.43 611.28,365.55 610.44,365.67 610.26,365.79 611.60,365.91 609.50,366.03 611.36,366.14 612.31,366.26 610.37,366.38 611.22,366.50 610.60,366.62 613.36,366.74 611.40,366.85 612.39,366.97 610.62,367.09 611.61,367.21 610.30,367.33 610.95,367.44 610.26,367.56 610.10,367.68 612.43,367.80 612.43,367.92 611.64,368.04 612.00,368.15 612.14,368.27 612.50,368.39 609.52,368.51 613.02,368.63 610.82,368.74 611.98,368.86 613.94,368.98 610.36,369.10 614.87,369.22 611.30,369.34 610.63,369.45 614.05,369.57 610.55,369.69 612.60,369.81 609.75,369.93 612.91,370.05 610.13,370.16 610.45,370.28 615.38,370.40 609.96,370.52 612.33,370.64 613.85,370.75 612.21,370.87 612.09,370.99 609.30,371.11 611.44,371.23 614.15,371.35 609.30,371.46 610.66,371.58 613.89,371.70 613.47,371.82 610.95,371.94 611.87,372.06 611.24,372.17 612.36,372.29 612.03,372.41 612.93,372.53 611.96,372.65 612.26,372.76 613.57,372.88 612.56,373.00 610.03,373.12 610.54,373.24 611.21,373.36 614.06,373.47 610.56,373.59 611.82,373.71 609.30,373.83 610.75,373.95 612.31,374.07 613.63,374.18 613.34,374.30 610.83,374.42 614.73,374.54 611.62,374.66 613.40,374.77 611.28,374.89 613.94,375.01 612.74,375.13 611.68,375.25 612.51,375.37 610.03,375.48 612.46,375.60 610.61,375.72 611.48,375.84 613.80,375.96 611.73,376.07 610.67,376.19 610.17,376.31 612.07,376.43 610.05,376.55 610.57,376.67 612.33,376.78 611.46,376.90 612.46,377.02 612.39,377.14 613.35,377.26 611.43,377.38 611.03,377.49 613.33,377.61 613.94,377.73 612.62,377.85 613.15,377.97 613.33,378.08 613.01,378.20 612.85,378.32 612.78,378.44 611.18,378.56 611.04,378.68 612.66,378.79 614.28,378.91 613.11,379.03 611.84,379.15 610.23,379.27 612.68,379.39 610.65,379.50 613.30,379.62 610.28,379.74 612.88,379.86 612.92,379.98 612.29,380.09 614.75,380.21 609.30,380.33 613.13,380.45 611.95,380.57 611.28,380.69 612.04,380.80 611.24,380.92 611.55,381.04 610.31,381.16 610.51,381.28 613.98,381.40 613.76,381.51 611.37,381.63 612.12,381.75 609.61,381.87 613.31,381.99 610.38,382.10 611.66,382.22 613.69,382.34 611.00,382.46 612.64,382.58 610.66,382.70 612.15,382.81 611.63,382.93 612.84,383.05 612.49,383.17 611.79,383.29 611.49,383.41 612.36,383.52 612.41,383.64 609.30,383.76 612.55,383.88 609.62,384.00 612.37,384.11 611.41,384.23 611.04,384.35 612.16,384.47 610.87,384.59 611.28,384.71 611.65,384.82 609.98,384.94 611.86,385.06 612.93,385.18 611.40,385.30 611.65,385.41 612.10,385.53 612.20,385.65 611.15,385.77 611.86,385.89 613.69,386.01 610.96,386.12 611.10,386.24 610.49,386.36 611.74,386.48 612.84,386.60 613.88,386.72 610.64,386.83 610.63,386.95 610.67,387.07 611.45,387.19 612.46,387.31 610.44,387.42 611.69,387.54 611.45,387.66 610.67,387.78 611.46,387.90 612.09,388.02 612.05,388.13 611.42,388.25 611.64,388.37 609.57,388.49 609.81,388.61 611.74,388.73 611.42,388.84 612.12,388.96 612.18,389.08 610.55,389.20 612.06,389.32 609.80,389.43 610.75,389.55 611.07,389.67 612.01,389.79 609.50,389.91 612.30,390.03 609.64,390.14 610.85,390.26 611.18,390.38 614.57,390.50 610.28,390.62 611.86,390.74 612.57,390.85 611.42,390.97 610.04,391.09 611.24,391.21 611.45,391.33 611.47,391.44 611.94,391.56 609.85,391.68 609.30,391.80 612.62,391.92 609.30,392.04 611.62,392.15 611.59,392.27 611.01,392.39 610.70,392.51 610.90,392.63 611.22,392.75 610.62,392.86 611.10,392.98 612.78,393.10 611.08,393.22 612.48,393.34 611.85,393.45 612.55,393.57 611.95,393.69 612.78,393.81 612.13,393.93 610.83,394.05 611.26,394.16 613.19,394.28 610.76,394.40 613.06,394.52 610.64,394.64 611.54,394.75 613.48,394.87 611.87,394.99 610.88,395.11 609.30,395.23 611.90,395.35 611.28,395.46 612.72,395.58 610.57,395.70 611.21,395.82 611.67,395.94 612.06,396.06 609.30,396.17 612.06,396.29 611.82,396.41 610.56,396.53 611.31,396.65 610.10,396.76 609.84,396.88 612.34,397.00 610.45,397.12 611.81,397.24 610.92,397.36 611.66,397.47 610.78,397.59 612.61,397.71 609.62,397.83 611.75,397.95 612.69,398.07 610.17,398.18 609.84,398.30 612.09,398.42 611.41,398.54 610.93,398.66 612.29,398.77 611.32,398.89 611.98,399.01 611.05,399.13 610.89,399.25 611.56,399.37 610.71,399.48 612.48,399.60 611.25,399.72 610.69,399.84 610.39,399.96 609.57,400.08 611.75,400.19 610.70,400.31 611.07,400.43 611.21,400.55 612.08,400.67 611.21,400.78 610.38,400.90 610.45,401.02 611.04,401.14 610.31,401.26 612.18,401.38 610.45,401.49 610.21,401.61 610.82,401.73 611.39,401.85 611.65,401.97 609.82,402.08 611.64,402.20 611.75,402.32 610.96,402.44 611.26,402.56 611.47,402.68 609.30,402.79 612.00,402.91 611.35,403.03 610.75,403.15 611.29,403.27 611.69,403.39 611.45,403.50 610.72,403.62 610.93,403.74 610.40,403.86 612.12,403.98 610.14,404.09 611.55,404.21 610.53,404.33 609.92,404.45 610.73,404.57 610.94,404.69 611.83,404.80 612.08,404.92 609.90,405.04 609.62,405.16 611.34,405.28 610.62,405.40 610.70,405.51 610.84,405.63 610.78,405.75 611.66,405.87 610.66,405.99 611.23,406.10 611.98,406.22 610.83,406.34 611.08,406.46 611.59,406.58 610.00,406.70 611.25,406.81 610.45,406.93 609.57,407.05 609.94,407.17 611.72,407.29 610.48,407.41 611.23,407.52 611.71,407.64 611.64,407.76 609.30,407.88 611.03,408.00 611.04,408.11 611.63,408.23 611.64,408.35 609.46,408.47 610.39,408.59 609.61,408.71 611.66,408.82 612.17,408.94 610.38,409.06 611.31,409.18 609.94,409.30 609.31,409.42 612.37,409.53 610.66,409.65 612.48,409.77 612.30,409.89 610.33,410.01 611.20,410.12 610.31,410.24 611.56,410.36 611.11,410.48 610.91,410.60 611.13,410.72 610.96,410.83 612.31,410.95 610.42,411.07 610.27,411.19 611.35,411.31 609.95,411.42 611.11,411.54 611.07,411.66 611.25,411.78 611.97,411.90 610.50,412.02 610.38,412.13 610.76,412.25 611.81,412.37 611.01,412.49 610.68,412.61 610.33,412.73 611.04,412.84 611.03,412.96 611.20,413.08 611.45,413.20 609.59,413.32 611.36,413.43 612.10,413.55 611.20,413.67 610.29,413.79 611.67,413.91 609.31,414.03 611.45,414.14 611.78,414.26 610.45,414.38 610.57,414.50 611.28,414.62 609.95,414.74 611.40,414.85 610.12,414.97 611.77,415.09 609.30,415.21 610.77,415.33 610.92,415.44 611.45,415.56 611.42,415.68 611.02,415.80 610.05,415.92 611.35,416.04 610.26,416.15 611.14,416.27 609.83,416.39 610.61,416.51 611.42,416.63 611.93,416.75 610.74,416.86 610.22,416.98 610.75,417.10 611.11,417.22 612.30,417.34 610.74,417.45 609.67,417.57 610.40,417.69 610.32,417.81 609.89,417.93 612.05,418.05 610.84,418.16 611.72,418.28 611.81,418.40 610.47,418.52 611.00,418.64 611.19,418.76 610.89,418.87 610.45,418.99 611.02,419.11 610.95,419.23 611.19,419.35 609.71,419.46 611.24,419.58 611.61,419.70 610.51,419.82 610.92,419.94 612.31,420.06 611.61,420.17 609.39,420.29 611.47,420.41 611.96,420.53 611.14,420.65 611.21,420.76 610.76,420.88 610.98,421.00 610.51,421.12 611.52,421.24 611.80,421.36 611.87,421.47 611.60,421.59 610.60,421.71 610.45,421.83 610.68,421.95 611.02,422.07 610.82,422.18 611.05,422.30 610.04,422.42 611.16,422.54 610.26,422.66 610.66,422.77 610.99,422.89 611.33,423.01 610.62,423.13 610.92,423.25 611.41,423.37 610.99,423.48 610.14,423.60 611.47,423.72 609.30,423.84 610.41,423.96 611.68,424.08 611.72,424.19 609.96,424.31 610.98,424.43 609.65,424.55 612.24,424.67 610.42,424.78 610.09,424.90 610.28,425.02 610.90,425.14 609.92,425.26 611.55,425.38 611.15,425.49 610.14,425.61 611.77,425.73 610.38,425.85 610.16,425.97 610.12,426.09 611.35,426.20 610.99,426.32 610.56,426.44 610.64,426.56 610.33,426.68 611.53,426.79 610.99,426.91 610.07,427.03 611.02,427.15 611.18,427.27 611.09,427.39 610.94,427.50 611.07,427.62 610.01,427.74 610.17,427.86 610.36,427.98 610.87,428.09 611.78,428.21 610.25,428.33 611.54,428.45 610.78,428.57 609.99,428.69 611.68,428.80 610.39,428.92 610.93,429.04 609.87,429.16 610.45,429.28 610.64,429.40 610.62,429.51 611.02,429.63 610.28,429.75 611.05,429.87 609.82,429.99 611.01,430.10 610.94,430.22 611.08,430.34 610.92,430.46 611.12,430.58 610.30,430.70 610.22,430.81 610.39,430.93 609.80,431.05 611.48,431.17 609.91,431.29 611.05,431.41 609.64,431.52 609.73,431.64 610.26,431.76 610.77,431.88 611.10,432.00 610.64,432.11 609.77,432.23 610.59,432.35 610.81,432.47 610.45,432.59 610.92,432.71 610.40,432.82 610.11,432.94 610.94,433.06 610.58,433.18 610.12,433.30 611.13,433.42 611.82,433.53 610.11,433.65 609.30,433.77 610.31,433.89 610.92,434.01 609.98,434.12 610.86,434.24 610.79,434.36 611.38,434.48 610.68,434.60 609.75,434.72 610.90,434.83 609.34,434.95 610.12,435.07 610.71,435.19 610.42,435.31 610.32,435.43 610.63,435.54 610.13,435.66 610.67,435.78 610.76,435.90 610.98,436.02 610.43,436.13 609.74,436.25 611.29,436.37 610.51,436.49 609.86,436.61 610.76,436.73 610.56,436.84 610.60,436.96 610.00,437.08 610.10,437.20 610.02,437.32 610.83,437.43 610.00,437.55 610.07,437.67 610.17,437.79 610.66,437.91 610.14,438.03 610.80,438.14 610.50,438.26 610.19,438.38 610.19,438.50 610.32,438.62 610.16,438.74 610.90,438.85 612.07,438.97 610.61,439.09 610.32,439.21 611.62,439.33 611.04,439.44 610.33,439.56 610.16,439.68 610.49,439.80 609.92,439.92 609.78,440.04 611.06,440.15 610.34,440.27 611.00,440.39 609.30,440.51 610.54,440.63 611.45,440.75 611.08,440.86 611.12,440.98 611.12,441.10" stroke="#1878c8" stroke-width="1.1" fill="none" stroke-linejoin="round"/>
<rect x="516.7" y="415.40000000000003" width="44.99999999999998" height="25.0" fill="#fff" stroke="#f01818" stroke-width="1.4"/>
<text x="539.20" y="425.90" font-size="10.60" font-weight="bold" fill="#f01818" text-anchor="middle" textLength="40.58" lengthAdjust="spacingAndGlyphs">I-rich at</text>
<text x="539.20" y="438.10" font-size="10.60" font-weight="bold" fill="#f01818" text-anchor="middle" textLength="43.07" lengthAdjust="spacingAndGlyphs">cathode</text>
<rect x="563.1" y="415.40000000000003" width="44.80000000000005" height="25.0" fill="#fff" stroke="#28d23a" stroke-width="1.4"/>
<text x="585.50" y="425.90" font-size="10.60" font-weight="bold" fill="#28d23a" text-anchor="middle" textLength="36.83" lengthAdjust="spacingAndGlyphs">Br-rich</text>
<text x="585.50" y="438.10" font-size="10.60" font-weight="bold" fill="#28d23a" text-anchor="middle" textLength="46.20" lengthAdjust="spacingAndGlyphs">at anode</text>
<path d="M516,327.39 h3 M559.4,327.39 h6 M605.6,327.39 h6 M654.8,327.39 h-3 M516,379.08 h3 M559.4,379.08 h6 M605.6,379.08 h6 M654.8,379.08 h-3 M516,430.76 h3 M559.4,430.76 h6 M605.6,430.76 h6 M654.8,430.76 h-3 M516,301.54 h1.8 M560.6,301.54 h3.6 M606.8000000000001,301.54 h3.6 M654.8,301.54 h-1.8 M516,353.23 h1.8 M560.6,353.23 h3.6 M606.8000000000001,353.23 h3.6 M654.8,353.23 h-1.8 M516,404.92 h1.8 M560.6,404.92 h3.6 M606.8000000000001,404.92 h3.6 M654.8,404.92 h-1.8" stroke="#000" stroke-width="1.1" fill="none"/>
<rect x="516" y="275.7" width="138.79999999999995" height="165.40000000000003" fill="none" stroke="#000" stroke-width="1.6"/>
<path d="M562.4,275.7 V441.1 M608.6,275.7 V441.1" stroke="#000" stroke-width="1.3"/>
<text x="657" y="279.20" font-size="10" font-weight="bold">0</text>
<text x="657" y="330.89" font-size="10" font-weight="bold">0.5</text>
<text x="657" y="382.58" font-size="10" font-weight="bold">1</text>
<text x="657" y="434.26" font-size="10" font-weight="bold">1.5</text>
<text x="553.15" y="290.20" font-size="12.17" font-weight="bold" fill="#000" textLength="4.96" lengthAdjust="spacingAndGlyphs" >I</text>
<text x="589.98" y="290.20" font-size="12.17" font-weight="bold" fill="#000" textLength="13.06" lengthAdjust="spacingAndGlyphs" >Br</text>
<text x="633.70" y="290.20" font-size="12.17" font-weight="bold" fill="#000" textLength="16.49" lengthAdjust="spacingAndGlyphs" >Pb</text>
<text transform="translate(675.6,358.00) rotate(90)" font-size="12.3" font-weight="bold" text-anchor="middle" textLength="78.7" lengthAdjust="spacingAndGlyphs">Distance (µm)</text>
<text x="540.35" y="456.40" font-size="12.17" font-weight="bold" fill="#000" textLength="82.05" lengthAdjust="spacingAndGlyphs" >Intensity (a.u.)</text>
<path d="M551,414.5 V327" stroke="#ff0000" stroke-width="1.7"/><polygon points="547.2,329 551,320.5 554.8,329" fill="#ff0000"/>
<path d="M589.3,414.5 V375" stroke="#22cc33" stroke-width="1.7"/><polygon points="585.5,377 589.3,368 593.1,377" fill="#22cc33"/>
<text x="313.37" y="257.66" font-size="20.65" font-weight="bold" fill="#000" textLength="27.60" lengthAdjust="spacingAndGlyphs" >(e)</text>
<text x="457.80" y="261.00" font-size="15.20" font-weight="bold" fill="#000" textLength="135.92" lengthAdjust="spacingAndGlyphs" >Forward Bias (<tspan fill="#0f78d0">Ag</tspan>)</text>
<rect x="345.6" y="508.9" width="164.29999999999995" height="162.30000000000007" fill="#eeeeee"/>
<defs><linearGradient id="g508" x1="0" y1="0" x2="1" y2="0"><stop offset="0" stop-color="#c9c9c9"/><stop offset="0.5" stop-color="#cecece"/><stop offset="1" stop-color="#d4d4d4"/></linearGradient></defs>
<rect x="345.6" y="555.2" width="164.29999999999995" height="53.799999999999955" fill="url(#g508)"/>
<rect x="345.6" y="609" width="164.29999999999995" height="36.299999999999955" fill="#eeeeee"/>
<rect x="345.6" y="645.3" width="164.29999999999995" height="25.90000000000009" fill="#121212"/>
<rect x="345.6" y="555.2" width="164.29999999999995" height="53.799999999999955" fill="#000" filter="url(#tex)" opacity="1"/>
<rect x="409.0" y="611" width="1.9" height="32.299999999999955" fill="#000" opacity="0.009"/>
<rect x="481.6" y="611" width="1.6" height="32.299999999999955" fill="#000" opacity="0.022"/>
<rect x="349.8" y="611" width="2.1" height="32.299999999999955" fill="#000" opacity="0.024"/>
<rect x="411.2" y="611" width="1.4" height="32.299999999999955" fill="#000" opacity="0.010"/>
<rect x="485.9" y="611" width="2.3" height="32.299999999999955" fill="#000" opacity="0.008"/>
<rect x="442.9" y="611" width="1.6" height="32.299999999999955" fill="#000" opacity="0.023"/>
<rect x="449.2" y="611" width="1.9" height="32.299999999999955" fill="#000" opacity="0.023"/>
<rect x="401.2" y="611" width="1.9" height="32.299999999999955" fill="#000" opacity="0.013"/>
<rect x="457.3" y="611" width="1.3" height="32.299999999999955" fill="#000" opacity="0.008"/>
<rect x="419.4" y="611" width="0.9" height="32.299999999999955" fill="#000" opacity="0.010"/>
<rect x="432.0" y="611" width="1.6" height="32.299999999999955" fill="#000" opacity="0.023"/>
<rect x="458.4" y="611" width="1.4" height="32.299999999999955" fill="#000" opacity="0.027"/>
<rect x="507.1" y="611" width="1.1" height="32.299999999999955" fill="#000" opacity="0.022"/>
<rect x="396.5" y="611" width="1.6" height="32.299999999999955" fill="#000" opacity="0.020"/>
<rect x="412.8" y="611" width="1.3" height="32.299999999999955" fill="#000" opacity="0.024"/>
<rect x="481.2" y="611" width="0.9" height="32.299999999999955" fill="#000" opacity="0.025"/>
<rect x="356.6" y="611" width="1.8" height="32.299999999999955" fill="#000" opacity="0.011"/>
<rect x="374.7" y="611" width="2.3" height="32.299999999999955" fill="#000" opacity="0.012"/>
<rect x="447.7" y="611" width="0.8" height="32.299999999999955" fill="#000" opacity="0.009"/>
<rect x="435.2" y="611" width="1.9" height="32.299999999999955" fill="#000" opacity="0.018"/>
<rect x="462.0" y="611" width="2.0" height="32.299999999999955" fill="#000" opacity="0.024"/>
<rect x="361.0" y="611" width="2.1" height="32.299999999999955" fill="#000" opacity="0.016"/>
<rect x="466.5" y="611" width="2.0" height="32.299999999999955" fill="#000" opacity="0.027"/>
<rect x="438.1" y="611" width="1.6" height="32.299999999999955" fill="#000" opacity="0.025"/>
<rect x="458.0" y="611" width="1.2" height="32.299999999999955" fill="#000" opacity="0.012"/>
<rect x="362.8" y="611" width="2.1" height="32.299999999999955" fill="#000" opacity="0.024"/>
<rect x="392.8" y="611" width="2.0" height="32.299999999999955" fill="#000" opacity="0.022"/>
<rect x="361.9" y="611" width="1.0" height="32.299999999999955" fill="#000" opacity="0.028"/>
<rect x="363.2" y="611" width="0.9" height="32.299999999999955" fill="#000" opacity="0.016"/>
<rect x="504.9" y="611" width="1.2" height="32.299999999999955" fill="#000" opacity="0.026"/>
<rect x="402.4" y="611" width="1.3" height="32.299999999999955" fill="#000" opacity="0.012"/>
<rect x="376.8" y="611" width="1.6" height="32.299999999999955" fill="#000" opacity="0.024"/>
<rect x="393.9" y="611" width="2.0" height="32.299999999999955" fill="#000" opacity="0.018"/>
<rect x="411.7" y="611" width="2.2" height="32.299999999999955" fill="#000" opacity="0.019"/>
<rect x="355.6" y="611" width="0.8" height="32.299999999999955" fill="#000" opacity="0.009"/>
<rect x="429.1" y="611" width="2.0" height="32.299999999999955" fill="#000" opacity="0.020"/>
<rect x="425.6" y="611" width="1.5" height="32.299999999999955" fill="#000" opacity="0.019"/>
<rect x="362.8" y="611" width="1.5" height="32.299999999999955" fill="#000" opacity="0.008"/>
<rect x="430.4" y="611" width="1.2" height="32.299999999999955" fill="#000" opacity="0.018"/>
<rect x="508.3" y="611" width="2.2" height="32.299999999999955" fill="#000" opacity="0.011"/>
<rect x="350.8" y="611" width="0.9" height="32.299999999999955" fill="#000" opacity="0.010"/>
<rect x="427.2" y="611" width="1.7" height="32.299999999999955" fill="#000" opacity="0.022"/>
<rect x="454.5" y="611" width="1.6" height="32.299999999999955" fill="#000" opacity="0.020"/>
<rect x="370.7" y="611" width="1.5" height="32.299999999999955" fill="#000" opacity="0.026"/>
<rect x="438.0" y="611" width="1.5" height="32.299999999999955" fill="#000" opacity="0.023"/>
<polyline points="345.6,554.0 348.4,554.0 351.2,554.6 354.0,554.4 356.7,554.1 359.5,554.1 362.3,554.1 365.1,553.7 367.9,553.7 370.7,553.5 373.4,553.1 376.2,553.8 379.0,554.0 381.8,553.6 384.6,553.7 387.4,553.6 390.2,553.1 392.9,553.2 395.7,552.7 398.5,552.8 401.3,553.0 404.1,552.2 406.9,552.6 409.6,552.8 412.4,553.2 415.2,553.9 418.0,553.3 420.8,553.8 423.6,554.1 426.4,553.9 429.1,554.2 431.9,553.7 434.7,553.7 437.5,553.9 440.3,554.3 443.1,554.0 445.9,554.4 448.6,554.6 451.4,554.3 454.2,553.8 457.0,554.2 459.8,554.3 462.6,553.9 465.3,553.2 468.1,553.1 470.9,553.3 473.7,553.2 476.5,553.5 479.3,553.9 482.1,553.7 484.8,553.7 487.6,553.4 490.4,552.9 493.2,552.8 496.0,553.1 498.8,553.2 501.5,553.2 504.3,553.5 507.1,553.5 509.9,553.6" stroke="#fbfbfb" stroke-width="1.4" fill="none" opacity="0.9" stroke-linejoin="round"/>
<polyline points="345.6,555.8 348.4,555.7 351.2,555.8 354.0,555.6 356.7,555.5 359.5,554.7 362.3,554.2 365.1,553.9 367.9,554.2 370.7,554.2 373.4,554.7 376.2,554.1 379.0,555.1 381.8,555.0 384.6,555.3 387.4,554.4 390.2,555.1 392.9,554.6 395.7,555.3 398.5,556.1 401.3,555.9 404.1,555.9 406.9,556.7 409.6,556.3 412.4,556.4 415.2,556.1 418.0,555.6 420.8,555.3 423.6,555.9 426.4,555.3 429.1,554.9 431.9,555.7 434.7,555.0 437.5,555.3 440.3,554.9 443.1,554.4 445.9,554.2 448.6,553.7 451.4,553.8 454.2,554.2 457.0,554.5 459.8,555.4 462.6,555.5 465.3,555.6 468.1,555.5 470.9,555.4 473.7,555.4 476.5,555.7 479.3,555.6 482.1,555.6 484.8,556.1 487.6,556.3 490.4,556.5 493.2,556.3 496.0,555.6 498.8,555.9 501.5,555.8 504.3,554.7 507.1,554.8 509.9,554.3" stroke="#2a2a2a" stroke-width="1.35" fill="none" opacity="1" stroke-linejoin="round"/>
<polyline points="345.6,609.0 347.7,608.9 349.8,608.9 351.8,608.7 353.9,609.0 356.0,609.1 358.1,609.3 360.2,609.8 362.2,610.0 364.3,609.3 366.4,609.8 368.5,608.6 370.6,609.8 372.6,609.4 374.7,608.8 376.8,608.7 378.9,608.2 381.0,609.0 383.0,608.9 385.1,608.2 387.2,608.8 389.3,608.0 391.4,608.7 393.4,608.6 395.5,608.3 397.6,608.8 399.7,608.7 401.8,608.3 403.8,609.3 405.9,609.1 408.0,608.8 410.1,609.5 412.2,609.7 414.2,609.2 416.3,609.5 418.4,609.9 420.5,609.5 422.6,609.3 424.6,608.9 426.7,609.4 428.8,609.0 430.9,608.9 432.9,608.7 435.0,608.6 437.1,608.4 439.2,608.2 441.3,608.6 443.3,608.7 445.4,608.9 447.5,608.8 449.6,608.9 451.7,609.2 453.7,608.9 455.8,608.8 457.9,609.3 460.0,609.2 462.1,609.4 464.1,609.5 466.2,609.3 468.3,609.4 470.4,609.3 472.5,609.1 474.5,609.3 476.6,609.2 478.7,609.3 480.8,608.9 482.9,609.2 484.9,608.5 487.0,608.8 489.1,608.9 491.2,609.1 493.3,608.4 495.3,608.7 497.4,608.9 499.5,609.0 501.6,609.1 503.7,609.0 505.7,609.1 507.8,608.9 509.9,609.5" stroke="#6a6a6a" stroke-width="1.3" fill="none" stroke-dasharray="1.6,1.2"/>
<rect x="345.6" y="645.3" width="164.29999999999995" height="3.2" fill="#eeeeee"/>
<polyline points="345.6,646.8 347.2,645.9 348.8,646.4 350.4,646.3 352.0,646.5 353.6,645.8 355.2,647.1 356.8,646.2 358.4,647.7 360.0,646.2 361.6,647.9 363.2,646.1 364.8,647.9 366.4,646.2 368.0,647.1 369.6,645.8 371.2,647.4 372.8,645.9 374.4,646.8 376.0,645.5 377.6,646.8 379.2,645.6 380.8,646.9 382.4,645.9 384.0,646.5 385.6,645.4 387.2,646.5 388.8,645.5 390.4,647.0 392.0,646.2 393.6,646.9 395.2,646.0 396.8,646.7 398.4,645.7 400.0,647.2 401.6,646.1 403.2,647.0 404.8,646.0 406.4,647.3 408.0,646.6 409.6,647.8 411.2,646.3 412.8,647.6 414.4,646.0 416.0,647.3 417.6,646.1 419.2,647.0 420.8,645.9 422.4,646.8 424.0,645.4 425.6,646.4 427.2,645.5 428.8,646.8 430.4,645.6 432.0,646.5 433.6,645.4 435.2,646.8 436.8,645.8 438.4,646.8 440.0,646.0 441.6,647.1 443.2,646.3 444.8,647.1 446.4,646.4 448.0,647.3 449.6,646.3 451.2,647.2 452.8,646.3 454.4,647.6 456.0,645.8 457.6,647.1 459.2,645.8 460.8,646.9 462.4,646.0 464.0,647.0 465.6,645.7 467.2,646.2 468.8,645.8 470.4,646.4 472.0,645.7 473.6,647.0 475.2,645.7 476.8,647.0 478.4,645.8 480.0,646.5 481.6,645.7 483.2,646.7 484.8,645.9 486.4,647.1 488.0,646.0 489.6,647.4 491.2,646.1 492.8,647.7 494.4,646.2 496.0,647.7 497.6,646.9 499.2,647.4 500.8,645.9 502.4,647.0 504.0,646.1 505.6,646.9 507.2,646.1 508.8,646.8" stroke="#202020" stroke-width="1.5" fill="none"/>
<rect x="345.6" y="647.6999999999999" width="164.29999999999995" height="2.6" fill="#ececec"/>
<rect x="345.6" y="650.0999999999999" width="164.29999999999995" height="0.8" fill="#777" opacity="0.8"/>
<path d="M391,508.9 V671.2" stroke="#2ed52e" stroke-width="0.7" opacity="0.55"/>
<text x="349.6" y="669.8" font-size="5.6" font-weight="bold" fill="#d0d0d0" textLength="33.5" lengthAdjust="spacingAndGlyphs">MAG: 79000 x</text>
<path d="M474.5,666.8 H505.7 M474.5,665.0 v3.6 M505.7,665.0 v3.6" stroke="#d0d0d0" stroke-width="0.8"/>
<text x="490" y="663.6" font-size="5.4" font-weight="bold" fill="#d0d0d0" text-anchor="middle">300 nm</text>
<text x="347.21" y="530.20" font-size="14.44" font-weight="bold" fill="#e8141e" textLength="163.23" lengthAdjust="spacingAndGlyphs" >No halide redistribution!</text>
<text x="349.9" y="548.6" font-size="12.9" font-weight="bold" transform="translate(349.9,0) scale(1.09,1) translate(-349.9,0)">C<tspan font-size="8.8" font-weight="normal" dy="3">60</tspan><tspan dy="-3" font-weight="normal"> / </tspan><tspan>BCP</tspan><tspan font-weight="normal"> / </tspan><tspan fill="#0f78d0">Ag</tspan></text>
<text x="350.62" y="587.00" font-size="13.48" font-weight="bold" fill="#000" textLength="71.12" lengthAdjust="spacingAndGlyphs" >Perovskite</text>
<text x="350.8" y="612.2" font-size="12.9" font-weight="bold" transform="translate(350.8,0) scale(1.1,1) translate(-350.8,0)">NiO<tspan font-size="8.8" font-weight="normal" dy="3.6">x</tspan></text>
<text x="350.70" y="632.20" font-size="12.75" font-weight="bold" fill="#000" textLength="28.39" lengthAdjust="spacingAndGlyphs" >FTO</text>
<rect x="465.2" y="537.8" width="44.69999999999999" height="16.40000000000009" fill="#fff" stroke="#c8c8c8" stroke-width="0.8"/>
<text x="467.19" y="550.90" font-size="12.78" font-weight="bold" fill="#ff0000" textLength="42.05" lengthAdjust="spacingAndGlyphs" >Anode</text>
<rect x="451.9" y="612.9" width="58.0" height="16.600000000000023" fill="#fff" stroke="#c8c8c8" stroke-width="0.8"/>
<text x="453.74" y="626.20" font-size="13.06" font-weight="bold" fill="#16b0ee" textLength="55.51" lengthAdjust="spacingAndGlyphs" >Cathode</text>
<polyline points="518.18,508.50 518.28,508.62 519.23,508.74 517.22,508.85 518.36,508.97 518.65,509.09 519.28,509.21 518.58,509.33 517.92,509.45 518.55,509.56 518.52,509.68 518.74,509.80 518.20,509.92 518.87,510.04 518.30,510.16 518.68,510.27 519.30,510.39 517.97,510.51 518.17,510.63 518.11,510.75 519.66,510.87 518.82,510.98 518.74,511.10 519.07,511.22 519.16,511.34 518.65,511.46 517.81,511.58 518.35,511.69 518.41,511.81 518.59,511.93 518.37,512.05 518.38,512.17 517.45,512.29 518.31,512.40 518.02,512.52 518.71,512.64 518.24,512.76 518.49,512.88 518.74,513.00 518.83,513.11 519.02,513.23 518.16,513.35 518.41,513.47 518.77,513.59 518.85,513.71 518.03,513.82 518.35,513.94 519.54,514.06 517.76,514.18 517.39,514.30 517.98,514.41 518.75,514.53 519.02,514.65 518.50,514.77 518.23,514.89 517.65,515.01 518.65,515.12 519.21,515.24 518.99,515.36 518.82,515.48 518.33,515.60 519.18,515.72 519.19,515.83 518.09,515.95 518.07,516.07 518.92,516.19 517.90,516.31 518.96,516.43 518.64,516.54 518.33,516.66 519.23,516.78 518.06,516.90 518.52,517.02 518.55,517.14 518.26,517.25 519.09,517.37 517.97,517.49 518.09,517.61 518.70,517.73 518.03,517.85 518.95,517.96 519.28,518.08 517.95,518.20 518.86,518.32 518.24,518.44 518.42,518.56 518.57,518.67 518.85,518.79 518.64,518.91 518.78,519.03 519.04,519.15 518.39,519.27 518.51,519.38 518.53,519.50 518.84,519.62 519.39,519.74 519.36,519.86 520.32,519.97 519.65,520.09 518.29,520.21 518.58,520.33 518.13,520.45 517.95,520.57 518.12,520.68 518.73,520.80 518.83,520.92 518.15,521.04 518.62,521.16 519.58,521.28 517.93,521.39 518.87,521.51 518.03,521.63 518.31,521.75 519.28,521.87 519.49,521.99 518.66,522.10 519.40,522.22 517.88,522.34 519.16,522.46 517.58,522.58 518.85,522.70 519.11,522.81 518.82,522.93 519.34,523.05 518.62,523.17 519.25,523.29 519.07,523.41 518.99,523.52 517.94,523.64 519.50,523.76 518.63,523.88 519.64,524.00 518.46,524.12 518.80,524.23 519.04,524.35 519.03,524.47 518.64,524.59 518.00,524.71 519.17,524.83 518.66,524.94 519.71,525.06 519.24,525.18 518.29,525.30 519.47,525.42 519.71,525.54 519.53,525.65 518.72,525.77 517.93,525.89 519.14,526.01 519.27,526.13 518.85,526.24 518.40,526.36 519.03,526.48 518.35,526.60 519.79,526.72 518.70,526.84 518.24,526.95 519.19,527.07 518.81,527.19 519.35,527.31 519.10,527.43 518.71,527.55 519.38,527.66 518.75,527.78 518.65,527.90 519.24,528.02 519.77,528.14 518.10,528.26 519.92,528.37 518.75,528.49 519.78,528.61 518.99,528.73 518.24,528.85 519.39,528.97 518.41,529.08 519.05,529.20 519.04,529.32 519.23,529.44 519.56,529.56 519.43,529.68 518.48,529.79 519.08,529.91 517.91,530.03 519.30,530.15 519.10,530.27 520.05,530.39 519.37,530.50 519.34,530.62 518.89,530.74 518.48,530.86 518.89,530.98 519.66,531.10 519.38,531.21 519.92,531.33 519.30,531.45 519.51,531.57 519.19,531.69 519.24,531.80 519.43,531.92 518.63,532.04 519.54,532.16 518.71,532.28 519.05,532.40 518.30,532.51 518.85,532.63 519.24,532.75 519.84,532.87 518.93,532.99 519.32,533.11 519.28,533.22 518.35,533.34 519.07,533.46 518.94,533.58 519.12,533.70 519.70,533.82 518.98,533.93 518.94,534.05 518.34,534.17 519.06,534.29 520.51,534.41 519.84,534.53 519.23,534.64 518.56,534.76 518.82,534.88 518.91,535.00 519.23,535.12 518.93,535.24 520.72,535.35 520.12,535.47 519.06,535.59 519.49,535.71 519.73,535.83 519.40,535.95 518.87,536.06 520.70,536.18 519.57,536.30 519.85,536.42 519.26,536.54 520.28,536.66 518.94,536.77 520.09,536.89 519.39,537.01 519.06,537.13 518.48,537.25 519.48,537.36 519.50,537.48 518.89,537.60 519.96,537.72 518.82,537.84 519.46,537.96 519.38,538.07 518.44,538.19 519.43,538.31 518.95,538.43 519.26,538.55 518.38,538.67 519.49,538.78 518.45,538.90 518.62,539.02 519.49,539.14 518.85,539.26 519.56,539.38 519.15,539.49 519.35,539.61 519.35,539.73 519.85,539.85 519.98,539.97 518.78,540.09 519.80,540.20 519.22,540.32 519.28,540.44 518.52,540.56 519.73,540.68 520.34,540.80 519.73,540.91 520.14,541.03 519.26,541.15 519.41,541.27 518.38,541.39 519.89,541.51 519.14,541.62 519.91,541.74 519.49,541.86 518.91,541.98 520.04,542.10 518.42,542.22 518.88,542.33 519.15,542.45 519.35,542.57 520.15,542.69 518.59,542.81 519.44,542.92 519.01,543.04 519.62,543.16 519.49,543.28 519.77,543.40 519.97,543.52 520.08,543.63 519.59,543.75 519.60,543.87 519.67,543.99 520.23,544.11 518.92,544.23 519.72,544.34 521.08,544.46 519.14,544.58 518.47,544.70 519.70,544.82 520.71,544.94 518.51,545.05 519.87,545.17 519.90,545.29 518.91,545.41 519.04,545.53 518.82,545.65 518.99,545.76 519.74,545.88 519.42,546.00 520.10,546.12 519.63,546.24 520.37,546.36 519.35,546.47 519.70,546.59 520.13,546.71 519.71,546.83 520.04,546.95 519.62,547.07 520.32,547.18 518.59,547.30 519.28,547.42 519.53,547.54 520.23,547.66 519.64,547.78 520.56,547.89 519.34,548.01 519.46,548.13 520.46,548.25 519.61,548.37 518.89,548.48 519.60,548.60 521.30,548.72 519.12,548.84 519.51,548.96 520.39,549.08 519.56,549.19 521.13,549.31 519.46,549.43 520.40,549.55 519.91,549.67 519.78,549.79 519.72,549.90 521.00,550.02 520.35,550.14 519.46,550.26 520.79,550.38 519.65,550.50 520.46,550.61 519.22,550.73 521.28,550.85 520.82,550.97 520.12,551.09 520.17,551.21 521.60,551.32 521.69,551.44 521.05,551.56 520.93,551.68 520.28,551.80 520.82,551.92 521.10,552.03 519.40,552.15 520.77,552.27 519.74,552.39 519.79,552.51 520.50,552.63 521.41,552.74 520.76,552.86 520.99,552.98 521.26,553.10 520.75,553.22 520.65,553.34 521.14,553.45 521.41,553.57 520.52,553.69 520.72,553.81 521.38,553.93 521.70,554.05 521.30,554.16 521.26,554.28 521.56,554.40 521.03,554.52 520.95,554.64 522.09,554.75 521.95,554.87 521.37,554.99 523.48,555.11 527.74,555.23 531.14,555.35 534.84,555.46 539.21,555.58 542.47,555.70 546.15,555.82 550.10,555.94 553.62,556.06 554.48,556.17 553.77,556.29 553.85,556.41 552.87,556.53 552.54,556.65 551.65,556.77 550.56,556.88 550.32,557.00 550.07,557.12 548.47,557.24 553.56,557.36 549.15,557.48 547.44,557.59 549.09,557.71 551.06,557.83 545.38,557.95 547.16,558.07 545.37,558.19 548.24,558.30 546.03,558.42 549.79,558.54 543.92,558.66 550.06,558.78 550.51,558.90 546.96,559.01 546.06,559.13 547.84,559.25 554.05,559.37 544.52,559.49 540.59,559.61 543.94,559.72 549.34,559.84 546.08,559.96 545.03,560.08 542.31,560.20 545.54,560.31 546.87,560.43 540.55,560.55 548.83,560.67 550.65,560.79 545.11,560.91 540.10,561.02 554.11,561.14 547.18,561.26 547.36,561.38 546.76,561.50 543.18,561.62 539.02,561.73 543.71,561.85 549.58,561.97 547.42,562.09 545.41,562.21 539.75,562.33 546.71,562.44 542.00,562.56 544.62,562.68 549.55,562.80 548.26,562.92 543.08,563.04 539.23,563.15 545.79,563.27 543.69,563.39 547.58,563.51 546.63,563.63 550.08,563.75 544.14,563.86 542.18,563.98 547.71,564.10 541.48,564.22 542.05,564.34 546.95,564.46 548.77,564.57 545.24,564.69 542.55,564.81 540.33,564.93 537.53,565.05 546.25,565.17 542.56,565.28 539.99,565.40 544.14,565.52 541.14,565.64 546.75,565.76 539.44,565.87 548.71,565.99 544.21,566.11 544.50,566.23 545.97,566.35 540.72,566.47 545.44,566.58 543.86,566.70 543.01,566.82 546.99,566.94 543.62,567.06 550.18,567.18 544.49,567.29 546.67,567.41 545.61,567.53 547.50,567.65 547.25,567.77 541.61,567.89 547.54,568.00 545.46,568.12 548.69,568.24 543.77,568.36 549.39,568.48 548.49,568.60 544.10,568.71 543.44,568.83 548.33,568.95 547.42,569.07 544.84,569.19 550.50,569.31 547.81,569.42 547.69,569.54 545.56,569.66 543.41,569.78 542.84,569.90 536.69,570.02 545.13,570.13 546.16,570.25 539.10,570.37 546.44,570.49 545.36,570.61 542.00,570.73 540.19,570.84 542.61,570.96 551.28,571.08 549.00,571.20 543.90,571.32 548.41,571.43 551.62,571.55 538.02,571.67 550.15,571.79 541.06,571.91 547.49,572.03 547.26,572.14 544.54,572.26 549.40,572.38 545.47,572.50 545.76,572.62 544.46,572.74 538.19,572.85 546.03,572.97 545.23,573.09 541.09,573.21 546.43,573.33 542.64,573.45 547.89,573.56 550.63,573.68 549.07,573.80 548.52,573.92 545.63,574.04 551.35,574.16 546.55,574.27 536.22,574.39 542.89,574.51 546.63,574.63 548.31,574.75 546.23,574.87 548.22,574.98 549.25,575.10 538.27,575.22 544.48,575.34 544.05,575.46 541.06,575.58 540.18,575.69 548.35,575.81 545.93,575.93 547.23,576.05 543.46,576.17 547.83,576.29 541.24,576.40 544.75,576.52 538.02,576.64 547.43,576.76 545.88,576.88 545.45,576.99 545.44,577.11 546.09,577.23 547.72,577.35 546.91,577.47 548.27,577.59 544.93,577.70 542.90,577.82 542.68,577.94 547.87,578.06 538.67,578.18 548.37,578.30 545.99,578.41 540.37,578.53 546.11,578.65 547.20,578.77 549.10,578.89 550.90,579.01 544.43,579.12 539.62,579.24 548.37,579.36 548.44,579.48 548.49,579.60 541.25,579.72 549.34,579.83 546.54,579.95 542.71,580.07 546.55,580.19 549.02,580.31 539.85,580.43 554.72,580.54 550.40,580.66 552.39,580.78 549.16,580.90 543.58,581.02 549.06,581.14 542.62,581.25 553.22,581.37 546.62,581.49 546.95,581.61 541.00,581.73 548.15,581.85 548.85,581.96 543.54,582.08 543.76,582.20 540.66,582.32 543.78,582.44 543.10,582.56 545.39,582.67 545.36,582.79 548.66,582.91 549.68,583.03 545.31,583.15 541.38,583.26 548.68,583.38 550.71,583.50 545.92,583.62 547.68,583.74 542.89,583.86 550.20,583.97 549.24,584.09 542.89,584.21 545.40,584.33 542.23,584.45 545.88,584.57 546.60,584.68 549.08,584.80 546.32,584.92 546.29,585.04 546.91,585.16 544.16,585.28 545.10,585.39 544.19,585.51 548.10,585.63 546.38,585.75 540.52,585.87 545.08,585.99 546.95,586.10 546.03,586.22 542.58,586.34 542.44,586.46 543.85,586.58 544.40,586.70 546.61,586.81 544.26,586.93 541.65,587.05 545.66,587.17 548.05,587.29 544.44,587.41 550.04,587.52 550.18,587.64 542.66,587.76 547.31,587.88 544.72,588.00 542.68,588.12 545.39,588.23 544.47,588.35 539.70,588.47 548.19,588.59 546.42,588.71 544.91,588.82 546.12,588.94 548.11,589.06 546.07,589.18 544.57,589.30 546.97,589.42 540.55,589.53 549.18,589.65 544.66,589.77 547.78,589.89 544.15,590.01 544.84,590.13 547.31,590.24 547.01,590.36 550.23,590.48 546.64,590.60 541.22,590.72 550.86,590.84 545.31,590.95 549.87,591.07 550.03,591.19 544.46,591.31 544.60,591.43 541.54,591.55 546.80,591.66 540.85,591.78 550.99,591.90 548.16,592.02 547.78,592.14 545.53,592.26 546.06,592.37 544.62,592.49 537.46,592.61 544.72,592.73 544.56,592.85 548.61,592.97 542.28,593.08 546.66,593.20 547.92,593.32 547.55,593.44 542.98,593.56 544.48,593.68 542.55,593.79 544.35,593.91 546.65,594.03 544.24,594.15 545.92,594.27 545.93,594.38 548.24,594.50 547.68,594.62 547.79,594.74 548.64,594.86 545.09,594.98 548.98,595.09 546.48,595.21 549.65,595.33 546.73,595.45 550.07,595.57 546.61,595.69 541.79,595.80 544.45,595.92 546.77,596.04 546.39,596.16 547.31,596.28 544.80,596.40 544.68,596.51 540.71,596.63 548.85,596.75 549.07,596.87 548.80,596.99 539.89,597.11 543.85,597.22 544.11,597.34 545.80,597.46 542.32,597.58 551.80,597.70 548.56,597.82 545.50,597.93 544.51,598.05 540.54,598.17 548.93,598.29 546.79,598.41 546.90,598.53 548.79,598.64 542.79,598.76 538.56,598.88 552.78,599.00 544.26,599.12 548.03,599.24 541.43,599.35 547.80,599.47 551.36,599.59 547.22,599.71 541.54,599.83 543.92,599.94 540.31,600.06 545.15,600.18 548.78,600.30 547.93,600.42 544.44,600.54 546.58,600.65 545.82,600.77 541.48,600.89 543.04,601.01 546.93,601.13 551.71,601.25 545.76,601.36 546.16,601.48 542.00,601.60 547.85,601.72 540.94,601.84 546.94,601.96 547.51,602.07 545.75,602.19 543.78,602.31 543.53,602.43 550.18,602.55 548.63,602.67 546.69,602.78 548.82,602.90 544.53,603.02 545.90,603.14 543.69,603.26 543.66,603.38 544.89,603.49 549.36,603.61 543.70,603.73 544.42,603.85 545.77,603.97 550.12,604.09 542.91,604.20 554.89,604.32 545.41,604.44 544.83,604.56 546.44,604.68 544.27,604.80 544.80,604.91 542.87,605.03 552.34,605.15 542.96,605.27 548.87,605.39 548.79,605.51 546.30,605.62 549.33,605.74 549.94,605.86 549.58,605.98 543.46,606.10 550.71,606.21 550.23,606.33 548.84,606.45 546.98,606.57 547.93,606.69 543.00,606.81 551.38,606.92 545.84,607.04 551.36,607.16 549.97,607.28 551.14,607.40 549.10,607.52 549.01,607.63 547.56,607.75 544.78,607.87 543.52,607.99 542.63,608.11 541.71,608.23 538.29,608.34 537.55,608.46 535.06,608.58 533.70,608.70 532.25,608.82 530.03,608.94 528.37,609.05 526.51,609.17 524.86,609.29 524.35,609.41 524.98,609.53 524.62,609.65 524.91,609.76 525.22,609.88 525.16,610.00 526.74,610.12 528.12,610.24 528.81,610.36 525.99,610.47 527.09,610.59 528.08,610.71 529.18,610.83 531.28,610.95 529.09,611.07 527.79,611.18 532.41,611.30 532.14,611.42 530.15,611.54 529.40,611.66 527.60,611.77 529.28,611.89 527.11,612.01 529.58,612.13 529.84,612.25 530.83,612.37 532.03,612.48 528.30,612.60 529.90,612.72 530.50,612.84 532.62,612.96 528.55,613.08 531.65,613.19 531.87,613.31 529.71,613.43 533.21,613.55 528.15,613.67 531.13,613.79 529.48,613.90 530.31,614.02 531.02,614.14 534.23,614.26 527.05,614.38 533.50,614.50 527.87,614.61 526.72,614.73 530.90,614.85 529.99,614.97 531.95,615.09 529.27,615.21 531.07,615.32 526.97,615.44 528.84,615.56 527.78,615.68 527.16,615.80 529.74,615.92 534.47,616.03 529.17,616.15 531.93,616.27 529.54,616.39 532.53,616.51 527.94,616.63 532.73,616.74 530.50,616.86 527.73,616.98 527.98,617.10 532.00,617.22 530.83,617.33 527.70,617.45 527.41,617.57 528.79,617.69 527.90,617.81 530.26,617.93 534.67,618.04 531.12,618.16 528.60,618.28 531.16,618.40 529.19,618.52 528.68,618.64 531.02,618.75 525.75,618.87 528.89,618.99 535.94,619.11 528.32,619.23 530.62,619.35 531.57,619.46 528.62,619.58 529.10,619.70 533.88,619.82 530.38,619.94 529.07,620.06 527.94,620.17 533.06,620.29 532.57,620.41 530.24,620.53 532.36,620.65 530.20,620.77 529.70,620.88 528.47,621.00 531.99,621.12 529.41,621.24 530.00,621.36 531.86,621.48 532.82,621.59 526.93,621.71 530.73,621.83 531.67,621.95 531.47,622.07 526.21,622.19 531.39,622.30 528.96,622.42 532.26,622.54 533.47,622.66 530.06,622.78 531.88,622.89 529.10,623.01 531.97,623.13 531.91,623.25 530.18,623.37 530.76,623.49 528.11,623.60 529.54,623.72 525.22,623.84 531.40,623.96 530.42,624.08 525.65,624.20 528.69,624.31 529.38,624.43 533.34,624.55 530.08,624.67 531.17,624.79 530.97,624.91 527.56,625.02 530.79,625.14 533.27,625.26 531.95,625.38 527.68,625.50 528.33,625.62 531.61,625.73 534.65,625.85 527.98,625.97 530.64,626.09 534.20,626.21 531.35,626.33 532.15,626.44 528.62,626.56 528.58,626.68 526.31,626.80 532.46,626.92 531.93,627.04 534.77,627.15 527.80,627.27 533.36,627.39 530.82,627.51 531.70,627.63 527.96,627.75 531.73,627.86 531.68,627.98 533.79,628.10 531.89,628.22 531.66,628.34 529.99,628.45 533.84,628.57 534.49,628.69 532.33,628.81 527.76,628.93 528.86,629.05 529.11,629.16 534.78,629.28 530.01,629.40 532.70,629.52 531.79,629.64 530.92,629.76 530.04,629.87 531.80,629.99 533.99,630.11 531.57,630.23 528.00,630.35 530.53,630.47 532.37,630.58 532.84,630.70 527.76,630.82 531.98,630.94 533.10,631.06 531.35,631.18 529.37,631.29 530.71,631.41 529.76,631.53 531.16,631.65 529.66,631.77 540.47,631.89 528.63,632.00 529.01,632.12 530.32,632.24 531.27,632.36 527.86,632.48 527.28,632.60 530.95,632.71 528.49,632.83 531.97,632.95 530.19,633.07 533.02,633.19 530.47,633.31 531.24,633.42 532.34,633.54 532.95,633.66 529.87,633.78 531.80,633.90 530.37,634.02 532.91,634.13 529.74,634.25 528.71,634.37 533.71,634.49 525.58,634.61 533.95,634.72 530.14,634.84 530.31,634.96 532.69,635.08 528.25,635.20 532.23,635.32 532.73,635.43 527.33,635.55 527.31,635.67 530.50,635.79 530.94,635.91 530.07,636.03 529.84,636.14 531.24,636.26 531.88,636.38 531.95,636.50 531.82,636.62 532.37,636.74 530.13,636.85 533.63,636.97 529.80,637.09 528.82,637.21 531.55,637.33 531.27,637.45 529.92,637.56 531.14,637.68 527.74,637.80 529.27,637.92 531.42,638.04 532.54,638.16 532.70,638.27 530.70,638.39 530.93,638.51 534.10,638.63 527.10,638.75 528.33,638.87 530.40,638.98 528.58,639.10 532.01,639.22 531.51,639.34 529.03,639.46 534.12,639.58 531.02,639.69 531.11,639.81 533.77,639.93 529.52,640.05 529.14,640.17 536.50,640.28 527.15,640.40 531.43,640.52 530.64,640.64 528.99,640.76 528.89,640.88 529.60,640.99 533.71,641.11 528.36,641.23 530.36,641.35 529.87,641.47 533.80,641.59 531.80,641.70 530.70,641.82 529.27,641.94 532.54,642.06 532.46,642.18 532.54,642.30 529.84,642.41 529.04,642.53 528.63,642.65 530.11,642.77 527.98,642.89 532.06,643.01 534.18,643.12 529.70,643.24 527.66,643.36 530.84,643.48 529.22,643.60 529.89,643.72 530.21,643.83 532.15,643.95 531.07,644.07 527.68,644.19 528.33,644.31 533.50,644.43 528.04,644.54 528.82,644.66 528.15,644.78 528.13,644.90 530.05,645.02 532.11,645.14 527.43,645.25 532.51,645.37 530.01,645.49 531.89,645.61 528.49,645.73 528.08,645.84 529.81,645.96 528.99,646.08 529.15,646.20 528.94,646.32 530.09,646.44 525.38,646.55 528.79,646.67 530.80,646.79 528.83,646.91 528.52,647.03 530.20,647.15 528.78,647.26 528.82,647.38 529.97,647.50 530.58,647.62 530.20,647.74 528.22,647.86 526.55,647.97 530.75,648.09 527.91,648.21 527.51,648.33 528.22,648.45 528.44,648.57 528.62,648.68 527.21,648.80 526.25,648.92 525.14,649.04 523.74,649.16 522.25,649.28 520.99,649.39 519.77,649.51 518.65,649.63 518.39,649.75 520.11,649.87 521.27,649.99 522.70,650.10 524.07,650.22 525.83,650.34 526.99,650.46 528.78,650.58 529.53,650.70 529.07,650.81 527.09,650.93 526.11,651.05 524.77,651.17 522.96,651.29 521.57,651.40 520.26,651.52 518.79,651.64 517.86,651.76 517.49,651.88 517.17,652.00 517.64,652.11 517.66,652.23 517.67,652.35 517.72,652.47 517.22,652.59 517.57,652.71 517.74,652.82 517.76,652.94 517.25,653.06 517.90,653.18 517.50,653.30 517.38,653.42 517.16,653.53 517.01,653.65 516.98,653.77 516.70,653.89 517.36,654.01 516.70,654.13 517.35,654.24 517.62,654.36 518.29,654.48 517.42,654.60 517.09,654.72 516.97,654.84 517.02,654.95 518.16,655.07 516.82,655.19 517.55,655.31 517.86,655.43 518.14,655.55 518.08,655.66 517.85,655.78 517.08,655.90 517.80,656.02 517.43,656.14 517.60,656.26 517.00,656.37 518.21,656.49 516.86,656.61 517.44,656.73 516.85,656.85 517.14,656.96 517.78,657.08 516.97,657.20 517.26,657.32 517.44,657.44 516.70,657.56 516.70,657.67 517.47,657.79 517.19,657.91 517.29,658.03 517.36,658.15 517.29,658.27 517.31,658.38 517.06,658.50 517.71,658.62 517.56,658.74 517.58,658.86 517.57,658.98 517.29,659.09 516.78,659.21 517.29,659.33 517.64,659.45 517.43,659.57 517.66,659.69 517.49,659.80 517.80,659.92 517.13,660.04 517.37,660.16 517.66,660.28 517.36,660.40 516.70,660.51 517.58,660.63 517.46,660.75 516.70,660.87 516.98,660.99 517.34,661.11 516.73,661.22 517.26,661.34 516.81,661.46 517.34,661.58 517.17,661.70 517.00,661.82 516.75,661.93 517.41,662.05 516.70,662.17 517.18,662.29 516.70,662.41 517.05,662.53 517.90,662.64 517.10,662.76 518.33,662.88 517.61,663.00 517.29,663.12 517.08,663.23 516.82,663.35 516.70,663.47 517.27,663.59 516.90,663.71 516.70,663.83 516.70,663.94 517.26,664.06 517.56,664.18 518.53,664.30 516.78,664.42 517.92,664.54 516.70,664.65 517.09,664.77 517.34,664.89 516.70,665.01 517.14,665.13 517.06,665.25 517.02,665.36 516.81,665.48 516.96,665.60 517.38,665.72 516.78,665.84 517.09,665.96 517.33,666.07 516.70,666.19 516.98,666.31 516.70,666.43 517.60,666.55 517.65,666.67 517.06,666.78 516.82,666.90 516.70,667.02 517.57,667.14 516.87,667.26 516.70,667.38 516.88,667.49 516.76,667.61 517.24,667.73 517.06,667.85 517.16,667.97 517.44,668.09 516.70,668.20 516.82,668.32 516.90,668.44 516.98,668.56 517.34,668.68 516.70,668.79 516.70,668.91 517.48,669.03 516.70,669.15 517.40,669.27 516.70,669.39 517.68,669.50 517.07,669.62 516.84,669.74 517.39,669.86 517.03,669.98 517.01,670.10 516.94,670.21 517.21,670.33 517.09,670.45 517.71,670.57 517.26,670.69 517.00,670.81 516.72,670.92 516.70,671.04 516.70,671.16 516.91,671.28 516.70,671.40 517.03,671.52 516.70,671.63 517.50,671.75 516.70,671.87 516.70,671.99 516.70,672.11 516.91,672.23 516.85,672.34 516.85,672.46 516.70,672.58 516.84,672.70 516.70,672.82 517.16,672.94 516.70,673.05 516.70,673.17 517.10,673.29 516.70,673.41 516.70,673.53 516.70,673.65 516.70,673.76 516.70,673.88 516.93,674.00" stroke="#f5507c" stroke-width="1.1" fill="none" stroke-linejoin="round"/>
<polyline points="571.14,508.50 569.71,508.62 572.42,508.74 567.54,508.85 572.53,508.97 567.22,509.09 570.07,509.21 566.89,509.33 571.32,509.45 569.28,509.56 571.82,509.68 565.69,509.80 568.89,509.92 569.54,510.04 568.71,510.16 573.62,510.27 565.33,510.39 570.20,510.51 566.16,510.63 568.18,510.75 569.49,510.87 568.80,510.98 564.29,511.10 569.41,511.22 575.78,511.34 573.81,511.46 571.54,511.58 571.28,511.69 570.55,511.81 568.51,511.93 566.88,512.05 570.18,512.17 568.10,512.29 567.29,512.40 565.25,512.52 568.56,512.64 570.07,512.76 567.01,512.88 572.48,513.00 568.79,513.11 569.53,513.23 565.02,513.35 566.58,513.47 572.71,513.59 566.83,513.71 571.11,513.82 572.52,513.94 568.63,514.06 569.81,514.18 568.74,514.30 569.18,514.41 573.84,514.53 568.52,514.65 574.21,514.77 575.66,514.89 569.93,515.01 568.03,515.12 568.41,515.24 569.67,515.36 571.58,515.48 566.89,515.60 565.16,515.72 573.46,515.83 572.93,515.95 570.79,516.07 570.33,516.19 568.16,516.31 569.49,516.43 569.93,516.54 569.36,516.66 568.65,516.78 569.06,516.90 567.39,517.02 569.08,517.14 567.41,517.25 571.97,517.37 572.30,517.49 569.91,517.61 575.65,517.73 570.00,517.85 570.29,517.96 567.22,518.08 570.53,518.20 567.35,518.32 570.82,518.44 568.00,518.56 574.39,518.67 568.85,518.79 565.38,518.91 571.04,519.03 578.44,519.15 572.37,519.27 572.02,519.38 571.95,519.50 572.00,519.62 567.88,519.74 569.12,519.86 566.52,519.97 569.18,520.09 569.45,520.21 573.09,520.33 570.56,520.45 569.43,520.57 573.63,520.68 570.06,520.80 575.84,520.92 568.64,521.04 565.02,521.16 567.65,521.28 569.58,521.39 572.76,521.51 571.15,521.63 567.29,521.75 569.13,521.87 568.60,521.99 569.41,522.10 573.99,522.22 570.23,522.34 570.52,522.46 570.91,522.58 569.72,522.70 567.11,522.81 576.49,522.93 567.73,523.05 569.01,523.17 567.74,523.29 570.87,523.41 572.78,523.52 569.75,523.64 573.89,523.76 569.99,523.88 569.00,524.00 569.28,524.12 580.24,524.23 567.67,524.35 567.88,524.47 578.06,524.59 569.36,524.71 570.63,524.83 566.41,524.94 564.48,525.06 565.55,525.18 568.86,525.30 568.26,525.42 570.40,525.54 571.23,525.65 567.87,525.77 566.74,525.89 566.38,526.01 569.21,526.13 569.38,526.24 569.85,526.36 570.86,526.48 573.68,526.60 569.70,526.72 568.29,526.84 573.67,526.95 569.31,527.07 568.64,527.19 570.34,527.31 570.43,527.43 572.33,527.55 567.59,527.66 569.60,527.78 568.48,527.90 573.72,528.02 570.60,528.14 565.70,528.26 567.76,528.37 573.55,528.49 573.70,528.61 570.07,528.73 571.32,528.85 570.86,528.97 568.36,529.08 572.58,529.20 569.64,529.32 565.07,529.44 564.96,529.56 566.84,529.68 569.08,529.79 570.38,529.91 569.54,530.03 572.40,530.15 568.42,530.27 573.01,530.39 573.30,530.50 567.36,530.62 567.82,530.74 573.57,530.86 577.05,530.98 568.71,531.10 569.56,531.21 566.34,531.33 569.96,531.45 571.28,531.57 573.12,531.69 574.26,531.80 568.80,531.92 570.55,532.04 567.21,532.16 568.80,532.28 572.61,532.40 568.70,532.51 567.96,532.63 571.06,532.75 565.18,532.87 571.27,532.99 568.54,533.11 572.69,533.22 567.27,533.34 565.64,533.46 567.70,533.58 569.35,533.70 572.82,533.82 563.50,533.93 571.96,534.05 574.70,534.17 566.69,534.29 566.64,534.41 568.93,534.53 573.00,534.64 570.51,534.76 570.95,534.88 570.73,535.00 571.06,535.12 569.88,535.24 569.47,535.35 566.94,535.47 571.42,535.59 573.36,535.71 567.98,535.83 569.30,535.95 570.03,536.06 565.16,536.18 567.92,536.30 564.87,536.42 563.10,536.54 567.65,536.66 571.46,536.77 567.02,536.89 569.54,537.01 563.10,537.13 569.23,537.25 570.06,537.36 564.73,537.48 572.90,537.60 568.57,537.72 566.14,537.84 569.96,537.96 566.30,538.07 563.95,538.19 571.20,538.31 569.92,538.43 567.25,538.55 569.64,538.67 566.29,538.78 572.54,538.90 575.55,539.02 568.09,539.14 575.16,539.26 569.67,539.38 573.62,539.49 571.55,539.61 572.02,539.73 568.89,539.85 570.94,539.97 569.02,540.09 569.61,540.20 569.19,540.32 569.96,540.44 568.16,540.56 572.69,540.68 567.98,540.80 565.74,540.91 570.12,541.03 568.72,541.15 564.69,541.27 574.37,541.39 565.24,541.51 571.81,541.62 574.56,541.74 570.28,541.86 570.47,541.98 567.20,542.10 569.37,542.22 564.98,542.33 578.50,542.45 573.25,542.57 570.20,542.69 572.72,542.81 569.26,542.92 567.21,543.04 569.35,543.16 569.06,543.28 572.23,543.40 568.85,543.52 564.99,543.63 572.93,543.75 570.08,543.87 568.71,543.99 570.90,544.11 565.45,544.23 571.46,544.34 570.26,544.46 567.03,544.58 564.78,544.70 573.69,544.82 569.54,544.94 567.82,545.05 567.49,545.17 570.91,545.29 567.00,545.41 572.31,545.53 566.57,545.65 573.51,545.76 563.10,545.88 569.43,546.00 571.93,546.12 568.68,546.24 570.62,546.36 569.23,546.47 571.73,546.59 572.99,546.71 567.46,546.83 571.89,546.95 569.54,547.07 572.61,547.18 573.60,547.30 563.27,547.42 572.63,547.54 571.10,547.66 570.43,547.78 569.13,547.89 572.86,548.01 565.41,548.13 573.05,548.25 573.28,548.37 569.71,548.48 572.41,548.60 570.95,548.72 569.59,548.84 566.39,548.96 568.21,549.08 574.37,549.19 573.97,549.31 572.06,549.43 571.34,549.55 572.66,549.67 573.21,549.79 566.84,549.90 566.03,550.02 572.36,550.14 572.49,550.26 567.44,550.38 569.61,550.50 572.71,550.61 576.52,550.73 574.73,550.85 568.57,550.97 572.25,551.09 569.75,551.21 573.52,551.32 573.64,551.44 570.44,551.56 571.55,551.68 567.74,551.80 571.40,551.92 565.67,552.03 568.30,552.15 575.12,552.27 571.36,552.39 566.67,552.51 565.49,552.63 574.91,552.74 570.48,552.86 568.93,552.98 571.96,553.10 567.16,553.22 565.95,553.34 568.20,553.45 565.28,553.57 567.08,553.69 569.34,553.81 566.45,553.93 568.31,554.05 567.08,554.16 567.84,554.28 565.22,554.40 567.05,554.52 564.40,554.64 566.60,554.75 565.48,554.87 565.95,554.99 566.73,555.11 566.08,555.23 565.46,555.35 568.31,555.46 569.99,555.58 569.13,555.70 568.06,555.82 570.66,555.94 571.09,556.06 572.35,556.17 570.62,556.29 572.00,556.41 570.04,556.53 572.43,556.65 574.76,556.77 573.49,556.88 575.89,557.00 572.95,557.12 575.65,557.24 576.56,557.36 577.83,557.48 574.77,557.59 573.75,557.71 578.43,557.83 576.94,557.95 580.49,558.07 575.71,558.19 576.52,558.30 579.62,558.42 581.83,558.54 579.75,558.66 580.43,558.78 579.88,558.90 583.98,559.01 578.19,559.13 581.91,559.25 580.68,559.37 580.42,559.49 577.99,559.61 577.83,559.72 583.08,559.84 584.07,559.96 574.32,560.08 584.44,560.20 581.35,560.31 583.07,560.43 588.97,560.55 580.81,560.67 583.92,560.79 579.13,560.91 583.88,561.02 583.45,561.14 585.12,561.26 585.35,561.38 590.71,561.50 586.00,561.62 581.82,561.73 583.10,561.85 580.60,561.97 583.40,562.09 576.57,562.21 579.41,562.33 576.37,562.44 586.50,562.56 574.93,562.68 587.13,562.80 579.29,562.92 584.68,563.04 589.81,563.15 579.20,563.27 592.21,563.39 585.39,563.51 584.21,563.63 593.24,563.75 588.68,563.86 585.35,563.98 584.06,564.10 582.38,564.22 587.46,564.34 585.86,564.46 583.70,564.57 588.27,564.69 586.25,564.81 588.91,564.93 584.46,565.05 590.93,565.17 592.62,565.28 589.08,565.40 586.85,565.52 585.38,565.64 586.56,565.76 576.43,565.87 587.60,565.99 578.37,566.11 587.02,566.23 592.91,566.35 588.57,566.47 578.13,566.58 576.52,566.70 583.52,566.82 585.54,566.94 581.67,567.06 586.10,567.18 585.56,567.29 582.49,567.41 595.26,567.53 584.49,567.65 585.19,567.77 582.61,567.89 589.00,568.00 585.13,568.12 587.87,568.24 583.94,568.36 580.53,568.48 583.74,568.60 582.90,568.71 577.21,568.83 581.29,568.95 582.67,569.07 589.27,569.19 591.08,569.31 584.92,569.42 576.78,569.54 584.19,569.66 589.91,569.78 584.74,569.90 583.68,570.02 586.66,570.13 588.42,570.25 580.95,570.37 575.59,570.49 582.13,570.61 577.29,570.73 575.37,570.84 583.86,570.96 583.80,571.08 583.54,571.20 585.07,571.32 587.04,571.43 581.19,571.55 585.27,571.67 582.61,571.79 590.36,571.91 591.12,572.03 592.27,572.14 585.15,572.26 582.44,572.38 586.06,572.50 591.02,572.62 584.26,572.74 587.68,572.85 594.13,572.97 583.30,573.09 578.29,573.21 582.83,573.33 588.44,573.45 580.40,573.56 585.20,573.68 594.61,573.80 585.17,573.92 585.77,574.04 585.03,574.16 580.60,574.27 586.69,574.39 592.64,574.51 589.50,574.63 591.06,574.75 584.93,574.87 585.14,574.98 588.33,575.10 579.43,575.22 584.23,575.34 579.82,575.46 588.73,575.58 586.58,575.69 584.20,575.81 584.17,575.93 580.12,576.05 579.79,576.17 584.74,576.29 580.55,576.40 581.63,576.52 584.76,576.64 589.47,576.76 585.40,576.88 589.58,576.99 584.16,577.11 587.50,577.23 597.54,577.35 587.98,577.47 586.89,577.59 586.95,577.70 587.27,577.82 596.55,577.94 593.39,578.06 584.04,578.18 587.04,578.30 581.58,578.41 582.33,578.53 586.82,578.65 594.09,578.77 586.90,578.89 586.87,579.01 581.54,579.12 582.29,579.24 584.34,579.36 584.70,579.48 583.95,579.60 584.85,579.72 591.67,579.83 580.72,579.95 584.84,580.07 591.56,580.19 588.24,580.31 590.35,580.43 585.91,580.54 581.48,580.66 580.60,580.78 593.95,580.90 585.14,581.02 587.22,581.14 580.01,581.25 586.88,581.37 586.08,581.49 582.83,581.61 584.94,581.73 597.11,581.85 593.03,581.96 580.82,582.08 583.03,582.20 574.90,582.32 585.86,582.44 584.21,582.56 579.17,582.67 590.08,582.79 591.54,582.91 582.85,583.03 581.22,583.15 585.18,583.26 589.19,583.38 583.18,583.50 592.63,583.62 583.72,583.74 594.98,583.86 583.00,583.97 584.14,584.09 586.24,584.21 589.77,584.33 590.80,584.45 585.74,584.57 592.67,584.68 585.08,584.80 584.67,584.92 580.86,585.04 592.72,585.16 585.13,585.28 586.61,585.39 583.11,585.51 585.98,585.63 592.46,585.75 594.15,585.87 590.51,585.99 583.88,586.10 590.25,586.22 586.73,586.34 582.58,586.46 585.61,586.58 581.95,586.70 583.89,586.81 581.79,586.93 581.93,587.05 590.00,587.17 593.47,587.29 583.33,587.41 582.65,587.52 580.84,587.64 594.01,587.76 582.19,587.88 588.05,588.00 586.23,588.12 583.06,588.23 589.98,588.35 592.63,588.47 584.18,588.59 586.84,588.71 589.45,588.82 581.41,588.94 577.10,589.06 584.83,589.18 585.37,589.30 585.17,589.42 583.69,589.53 587.62,589.65 583.55,589.77 590.51,589.89 589.16,590.01 589.28,590.13 589.26,590.24 584.88,590.36 595.04,590.48 592.97,590.60 576.07,590.72 589.47,590.84 588.08,590.95 583.09,591.07 589.22,591.19 593.97,591.31 585.73,591.43 586.26,591.55 589.68,591.66 597.23,591.78 582.71,591.90 580.93,592.02 584.87,592.14 581.85,592.26 588.49,592.37 590.76,592.49 582.44,592.61 591.21,592.73 585.29,592.85 573.91,592.97 594.69,593.08 590.91,593.20 587.90,593.32 583.43,593.44 582.12,593.56 590.22,593.68 585.86,593.79 584.82,593.91 583.15,594.03 582.58,594.15 585.72,594.27 583.97,594.38 585.31,594.50 587.29,594.62 593.58,594.74 594.17,594.86 578.92,594.98 589.18,595.09 591.28,595.21 582.83,595.33 578.93,595.45 582.97,595.57 580.67,595.69 582.70,595.80 575.37,595.92 581.14,596.04 583.07,596.16 575.27,596.28 588.92,596.40 585.18,596.51 588.98,596.63 582.59,596.75 587.12,596.87 587.96,596.99 577.40,597.11 582.95,597.22 580.49,597.34 580.41,597.46 587.09,597.58 585.55,597.70 583.05,597.82 581.70,597.93 588.68,598.05 594.50,598.17 587.96,598.29 592.44,598.41 580.43,598.53 582.69,598.64 589.70,598.76 584.50,598.88 585.65,599.00 592.98,599.12 581.40,599.24 584.96,599.35 585.23,599.47 582.49,599.59 593.35,599.71 581.73,599.83 580.53,599.94 581.84,600.06 592.90,600.18 584.36,600.30 590.80,600.42 589.87,600.54 584.42,600.65 582.84,600.77 589.14,600.89 578.66,601.01 582.22,601.13 577.43,601.25 582.68,601.36 588.41,601.48 585.15,601.60 588.64,601.72 582.38,601.84 584.52,601.96 587.75,602.07 583.96,602.19 580.13,602.31 585.62,602.43 581.17,602.55 590.52,602.67 589.48,602.78 583.82,602.90 589.97,603.02 590.51,603.14 584.28,603.26 581.27,603.38 580.79,603.49 585.19,603.61 583.12,603.73 591.45,603.85 583.75,603.97 580.98,604.09 583.79,604.20 589.80,604.32 586.17,604.44 576.98,604.56 580.22,604.68 590.78,604.80 590.97,604.91 595.06,605.03 583.00,605.15 596.92,605.27 591.36,605.39 592.39,605.51 586.12,605.62 590.25,605.74 594.78,605.86 592.23,605.98 591.80,606.10 596.24,606.21 589.56,606.33 593.11,606.45 592.47,606.57 593.89,606.69 591.71,606.81 589.86,606.92 582.76,607.04 585.73,607.16 585.66,607.28 584.15,607.40 575.77,607.52 578.67,607.63 580.80,607.75 580.20,607.87 578.21,607.99 574.62,608.11 576.10,608.23 575.18,608.34 572.89,608.46 570.88,608.58 570.32,608.70 570.14,608.82 566.18,608.94 566.03,609.05 566.96,609.17 564.68,609.29 564.63,609.41 565.57,609.53 565.32,609.65 563.99,609.76 563.18,609.88 564.44,610.00 564.28,610.12 563.10,610.24 565.60,610.36 563.87,610.47 567.21,610.59 566.46,610.71 566.85,610.83 565.27,610.95 564.08,611.07 563.56,611.18 564.66,611.30 565.77,611.42 568.87,611.54 563.10,611.66 567.13,611.77 569.19,611.89 563.10,612.01 565.69,612.13 567.78,612.25 564.91,612.37 567.48,612.48 567.19,612.60 569.68,612.72 564.80,612.84 569.82,612.96 566.32,613.08 565.31,613.19 566.50,613.31 570.11,613.43 568.74,613.55 566.41,613.67 563.10,613.79 567.17,613.90 566.72,614.02 567.19,614.14 565.99,614.26 567.90,614.38 568.80,614.50 566.80,614.61 566.85,614.73 568.19,614.85 567.90,614.97 567.79,615.09 569.36,615.21 566.96,615.32 569.10,615.44 572.63,615.56 566.45,615.68 566.86,615.80 568.49,615.92 569.47,616.03 571.13,616.15 566.12,616.27 565.62,616.39 567.43,616.51 570.88,616.63 565.24,616.74 567.89,616.86 570.47,616.98 569.43,617.10 564.78,617.22 566.36,617.33 570.92,617.45 567.41,617.57 572.16,617.69 564.79,617.81 565.83,617.93 563.10,618.04 568.61,618.16 565.10,618.28 564.15,618.40 566.51,618.52 567.99,618.64 564.59,618.75 569.91,618.87 567.59,618.99 571.09,619.11 568.76,619.23 563.99,619.35 566.58,619.46 569.33,619.58 565.50,619.70 569.27,619.82 568.58,619.94 567.86,620.06 569.45,620.17 564.65,620.29 566.37,620.41 567.75,620.53 565.26,620.65 566.60,620.77 566.75,620.88 567.50,621.00 566.41,621.12 570.94,621.24 563.77,621.36 567.49,621.48 566.28,621.59 569.81,621.71 566.74,621.83 570.78,621.95 569.19,622.07 570.88,622.19 570.13,622.30 567.64,622.42 570.08,622.54 568.48,622.66 568.43,622.78 572.29,622.89 566.04,623.01 569.38,623.13 566.28,623.25 564.49,623.37 569.03,623.49 568.04,623.60 568.93,623.72 567.74,623.84 566.96,623.96 568.02,624.08 565.82,624.20 569.63,624.31 567.27,624.43 570.60,624.55 569.95,624.67 566.92,624.79 564.27,624.91 572.66,625.02 568.54,625.14 570.56,625.26 563.85,625.38 563.55,625.50 570.87,625.62 568.77,625.73 567.13,625.85 567.36,625.97 570.15,626.09 565.99,626.21 570.17,626.33 563.68,626.44 566.57,626.56 565.82,626.68 564.64,626.80 566.29,626.92 565.46,627.04 568.39,627.15 568.52,627.27 568.43,627.39 569.08,627.51 564.60,627.63 567.94,627.75 569.56,627.86 566.09,627.98 567.86,628.10 567.52,628.22 568.81,628.34 566.68,628.45 564.96,628.57 564.96,628.69 565.17,628.81 569.25,628.93 567.49,629.05 566.91,629.16 570.67,629.28 567.53,629.40 563.10,629.52 566.66,629.64 566.71,629.76 564.40,629.87 566.57,629.99 567.44,630.11 571.60,630.23 568.31,630.35 566.05,630.47 564.43,630.58 571.46,630.70 567.65,630.82 568.60,630.94 564.76,631.06 570.61,631.18 570.09,631.29 570.41,631.41 566.95,631.53 569.91,631.65 566.56,631.77 567.60,631.89 564.51,632.00 570.25,632.12 563.10,632.24 566.60,632.36 565.84,632.48 572.35,632.60 570.58,632.71 567.13,632.83 564.23,632.95 568.73,633.07 565.89,633.19 566.40,633.31 566.40,633.42 571.07,633.54 567.62,633.66 565.94,633.78 569.82,633.90 569.77,634.02 570.37,634.13 569.73,634.25 572.24,634.37 565.60,634.49 566.85,634.61 570.36,634.72 569.45,634.84 567.89,634.96 569.06,635.08 569.12,635.20 564.40,635.32 568.25,635.43 566.53,635.55 567.06,635.67 571.04,635.79 566.82,635.91 569.14,636.03 567.42,636.14 566.58,636.26 566.03,636.38 563.91,636.50 567.02,636.62 566.75,636.74 567.38,636.85 565.10,636.97 566.58,637.09 565.05,637.21 567.44,637.33 567.83,637.45 570.83,637.56 568.51,637.68 568.23,637.80 566.26,637.92 572.05,638.04 566.45,638.16 564.63,638.27 569.70,638.39 570.19,638.51 566.30,638.63 571.07,638.75 563.58,638.87 567.13,638.98 567.23,639.10 568.84,639.22 564.30,639.34 567.80,639.46 569.06,639.58 566.09,639.69 568.70,639.81 566.45,639.93 569.15,640.05 564.61,640.17 566.98,640.28 563.10,640.40 565.94,640.52 565.82,640.64 567.80,640.76 563.10,640.88 566.43,640.99 566.87,641.11 569.28,641.23 565.61,641.35 565.27,641.47 567.00,641.59 566.94,641.70 568.42,641.82 564.50,641.94 568.34,642.06 563.74,642.18 565.99,642.30 563.56,642.41 566.14,642.53 566.31,642.65 565.33,642.77 564.58,642.89 564.62,643.01 566.19,643.12 564.81,643.24 565.11,643.36 565.08,643.48 566.40,643.60 564.56,643.72 564.78,643.83 565.73,643.95 565.45,644.07 566.24,644.19 566.30,644.31 565.17,644.43 565.56,644.54 565.26,644.66 564.06,644.78 565.30,644.90 565.38,645.02 564.43,645.14 566.21,645.25 563.10,645.37 564.24,645.49 564.04,645.61 563.61,645.73 563.99,645.84 564.76,645.96 565.34,646.08 565.14,646.20 563.80,646.32 564.35,646.44 564.73,646.55 565.71,646.67 563.95,646.79 565.35,646.91 563.10,647.03 564.24,647.15 563.10,647.26 563.96,647.38 566.07,647.50 563.92,647.62 563.60,647.74 565.12,647.86 565.75,647.97 563.29,648.09 563.93,648.21 565.05,648.33 564.86,648.45 565.03,648.57 565.55,648.68 563.49,648.80 565.21,648.92 567.37,649.04 564.12,649.16 563.88,649.28 564.37,649.39 565.71,649.51 564.17,649.63 563.10,649.75 565.02,649.87 566.21,649.99 565.09,650.10 564.03,650.22 564.17,650.34 565.47,650.46 563.86,650.58 564.40,650.70 564.44,650.81 564.47,650.93 563.40,651.05 564.38,651.17 563.75,651.29 563.50,651.40 565.73,651.52 564.89,651.64 564.19,651.76 563.56,651.88 563.45,652.00 563.65,652.11 563.49,652.23 565.31,652.35 564.15,652.47 565.16,652.59 563.35,652.71 564.76,652.82 563.64,652.94 564.59,653.06 565.57,653.18 563.82,653.30 565.14,653.42 566.22,653.53 564.44,653.65 563.94,653.77 564.06,653.89 563.99,654.01 564.40,654.13 564.06,654.24 565.15,654.36 565.12,654.48 563.10,654.60 565.43,654.72 564.50,654.84 563.10,654.95 564.42,655.07 565.39,655.19 564.04,655.31 564.69,655.43 563.57,655.55 564.91,655.66 563.15,655.78 563.53,655.90 563.70,656.02 564.70,656.14 564.39,656.26 564.92,656.37 563.96,656.49 563.62,656.61 565.88,656.73 564.25,656.85 564.46,656.96 563.43,657.08 563.53,657.20 564.51,657.32 564.65,657.44 563.53,657.56 563.76,657.67 564.16,657.79 565.08,657.91 564.03,658.03 565.47,658.15 564.83,658.27 565.32,658.38 564.20,658.50 564.43,658.62 563.75,658.74 564.26,658.86 564.57,658.98 563.41,659.09 563.96,659.21 564.33,659.33 564.07,659.45 563.10,659.57 564.49,659.69 564.14,659.80 563.44,659.92 564.42,660.04 563.80,660.16 563.87,660.28 565.11,660.40 563.55,660.51 564.79,660.63 564.36,660.75 564.54,660.87 564.36,660.99 564.86,661.11 564.26,661.22 563.78,661.34 564.35,661.46 564.19,661.58 564.17,661.70 564.51,661.82 565.08,661.93 564.43,662.05 564.95,662.17 563.59,662.29 564.22,662.41 565.18,662.53 563.88,662.64 564.26,662.76 563.18,662.88 564.79,663.00 564.50,663.12 563.64,663.23 563.69,663.35 564.84,663.47 563.70,663.59 564.67,663.71 564.99,663.83 564.31,663.94 564.97,664.06 564.77,664.18 563.92,664.30 564.10,664.42 564.43,664.54 565.11,664.65 563.10,664.77 563.49,664.89 563.59,665.01 563.79,665.13 565.06,665.25 564.90,665.36 564.03,665.48 563.15,665.60 563.92,665.72 564.59,665.84 564.22,665.96 565.73,666.07 563.83,666.19 564.00,666.31 564.52,666.43 564.63,666.55 564.39,666.67 563.10,666.78 563.63,666.90 564.47,667.02 563.90,667.14 565.83,667.26 564.79,667.38 564.12,667.49 564.28,667.61 564.15,667.73 563.61,667.85 563.80,667.97 563.10,668.09 563.94,668.20 563.10,668.32 563.17,668.44 564.20,668.56 564.14,668.68 563.40,668.79 565.04,668.91 564.70,669.03 564.38,669.15 565.31,669.27 563.85,669.39 563.44,669.50 563.87,669.62 564.51,669.74 564.87,669.86 564.87,669.98 563.10,670.10 563.57,670.21 564.50,670.33 563.10,670.45 564.27,670.57 564.28,670.69 564.61,670.81 564.15,670.92 564.14,671.04 563.68,671.16 565.13,671.28 563.81,671.40 564.04,671.52 564.13,671.63 563.51,671.75 563.10,671.87 563.86,671.99 564.07,672.11 564.13,672.23 563.21,672.34 563.61,672.46 563.74,672.58 564.33,672.70 563.86,672.82 564.52,672.94 563.77,673.05 563.40,673.17 563.97,673.29 563.69,673.41 564.28,673.53 563.76,673.65 563.93,673.76 564.84,673.88 564.32,674.00" stroke="#1ec18f" stroke-width="1.1" fill="none" stroke-linejoin="round"/>
<polyline points="610.12,508.50 613.81,508.62 613.07,508.74 611.90,508.85 612.96,508.97 610.99,509.09 613.33,509.21 612.42,509.33 611.47,509.45 612.06,509.56 611.88,509.68 612.89,509.80 611.10,509.92 611.54,510.04 611.85,510.16 614.24,510.27 609.88,510.39 612.65,510.51 610.72,510.63 611.74,510.75 612.05,510.87 612.07,510.98 613.08,511.10 613.16,511.22 609.46,511.34 612.48,511.46 609.79,511.58 610.39,511.69 612.12,511.81 613.45,511.93 611.50,512.05 612.11,512.17 612.84,512.29 611.22,512.40 609.98,512.52 613.75,512.64 613.79,512.76 611.55,512.88 612.80,513.00 611.19,513.11 612.59,513.23 611.04,513.35 614.82,513.47 610.50,513.59 612.37,513.71 612.69,513.82 610.23,513.94 613.46,514.06 611.03,514.18 613.18,514.30 612.33,514.41 610.49,514.53 610.77,514.65 611.82,514.77 612.34,514.89 612.37,515.01 612.43,515.12 614.67,515.24 611.84,515.36 609.30,515.48 611.11,515.60 610.42,515.72 611.98,515.83 609.97,515.95 611.61,516.07 611.10,516.19 610.96,516.31 612.79,516.43 612.41,516.54 612.42,516.66 612.29,516.78 609.30,516.90 612.23,517.02 613.33,517.14 613.29,517.25 610.86,517.37 610.27,517.49 613.09,517.61 611.77,517.73 612.42,517.85 611.91,517.96 613.55,518.08 611.22,518.20 610.48,518.32 612.81,518.44 612.65,518.56 611.38,518.67 613.18,518.79 611.94,518.91 613.55,519.03 611.85,519.15 611.82,519.27 610.47,519.38 613.03,519.50 611.10,519.62 613.80,519.74 612.87,519.86 611.03,519.97 613.42,520.09 612.75,520.21 609.92,520.33 611.82,520.45 611.06,520.57 612.28,520.68 613.43,520.80 613.65,520.92 611.76,521.04 609.30,521.16 613.80,521.28 611.02,521.39 613.24,521.51 611.47,521.63 611.80,521.75 611.71,521.87 612.83,521.99 612.46,522.10 610.62,522.22 611.92,522.34 614.34,522.46 614.20,522.58 611.58,522.70 611.03,522.81 612.01,522.93 614.77,523.05 611.80,523.17 612.94,523.29 611.38,523.41 612.15,523.52 610.97,523.64 612.63,523.76 614.52,523.88 613.08,524.00 612.25,524.12 613.02,524.23 612.11,524.35 611.05,524.47 614.82,524.59 612.08,524.71 613.87,524.83 610.29,524.94 613.18,525.06 611.83,525.18 612.30,525.30 611.58,525.42 611.84,525.54 613.82,525.65 611.77,525.77 611.96,525.89 611.95,526.01 612.01,526.13 610.74,526.24 610.36,526.36 611.67,526.48 613.61,526.60 611.83,526.72 611.75,526.84 612.73,526.95 611.45,527.07 613.09,527.19 612.32,527.31 612.17,527.43 612.32,527.55 611.50,527.66 613.01,527.78 609.30,527.90 610.42,528.02 612.67,528.14 609.75,528.26 612.18,528.37 612.16,528.49 609.68,528.61 611.34,528.73 613.92,528.85 612.97,528.97 612.94,529.08 611.63,529.20 612.70,529.32 611.53,529.44 611.78,529.56 613.95,529.68 614.06,529.79 613.00,529.91 611.36,530.03 611.21,530.15 611.45,530.27 612.03,530.39 613.17,530.50 613.45,530.62 613.10,530.74 612.02,530.86 613.53,530.98 614.85,531.10 610.05,531.21 613.30,531.33 612.24,531.45 612.80,531.57 612.15,531.69 612.59,531.80 611.43,531.92 611.79,532.04 612.13,532.16 613.82,532.28 611.85,532.40 612.53,532.51 611.59,532.63 610.94,532.75 612.33,532.87 611.95,532.99 609.49,533.11 611.85,533.22 611.96,533.34 611.37,533.46 611.84,533.58 611.31,533.70 613.63,533.82 612.23,533.93 611.51,534.05 611.68,534.17 612.56,534.29 609.30,534.41 615.10,534.53 613.95,534.64 611.85,534.76 612.20,534.88 611.80,535.00 612.28,535.12 611.35,535.24 614.21,535.35 611.75,535.47 613.37,535.59 613.10,535.71 611.92,535.83 611.80,535.95 611.28,536.06 612.05,536.18 611.60,536.30 611.85,536.42 612.37,536.54 613.45,536.66 611.97,536.77 612.58,536.89 610.28,537.01 612.84,537.13 613.74,537.25 609.64,537.36 612.22,537.48 611.98,537.60 609.30,537.72 614.95,537.84 611.59,537.96 614.76,538.07 612.15,538.19 613.62,538.31 611.82,538.43 612.80,538.55 612.32,538.67 610.95,538.78 610.97,538.90 610.07,539.02 610.27,539.14 612.41,539.26 610.56,539.38 613.33,539.49 610.46,539.61 612.68,539.73 610.05,539.85 611.48,539.97 611.81,540.09 611.31,540.20 611.31,540.32 613.30,540.44 611.75,540.56 613.79,540.68 610.76,540.80 613.38,540.91 612.47,541.03 613.32,541.15 610.30,541.27 610.81,541.39 613.31,541.51 611.99,541.62 610.83,541.74 612.19,541.86 613.36,541.98 612.67,542.10 612.12,542.22 611.79,542.33 613.55,542.45 610.38,542.57 612.31,542.69 612.41,542.81 613.82,542.92 612.31,543.04 612.60,543.16 613.33,543.28 612.39,543.40 613.36,543.52 613.20,543.63 611.93,543.75 611.01,543.87 612.38,543.99 610.62,544.11 610.48,544.23 613.33,544.34 610.18,544.46 611.77,544.58 613.54,544.70 611.26,544.82 611.09,544.94 613.00,545.05 611.38,545.17 612.09,545.29 611.61,545.41 610.36,545.53 613.68,545.65 611.65,545.76 612.73,545.88 611.76,546.00 612.84,546.12 612.15,546.24 611.76,546.36 611.78,546.47 611.57,546.59 609.30,546.71 613.19,546.83 612.95,546.95 610.96,547.07 612.55,547.18 611.94,547.30 612.65,547.42 611.57,547.54 612.10,547.66 610.37,547.78 611.52,547.89 612.57,548.01 612.48,548.13 612.85,548.25 612.61,548.37 613.41,548.48 613.24,548.60 613.27,548.72 613.08,548.84 612.25,548.96 612.71,549.08 612.04,549.19 611.57,549.31 610.68,549.43 614.61,549.55 611.39,549.67 611.24,549.79 611.82,549.90 611.85,550.02 612.15,550.14 611.72,550.26 610.78,550.38 612.56,550.50 614.33,550.61 611.34,550.73 611.94,550.85 612.51,550.97 609.30,551.09 611.09,551.21 611.81,551.32 612.04,551.44 610.52,551.56 611.04,551.68 610.97,551.80 611.43,551.92 610.86,552.03 612.65,552.15 610.06,552.27 610.90,552.39 611.03,552.51 612.92,552.63 612.38,552.74 611.46,552.86 611.49,552.98 611.58,553.10 612.04,553.22 611.40,553.34 613.90,553.45 614.23,553.57 612.48,553.69 613.51,553.81 610.60,553.93 612.37,554.05 611.32,554.16 614.29,554.28 612.09,554.40 612.95,554.52 613.52,554.64 610.59,554.75 612.90,554.87 614.47,554.99 618.72,555.11 623.46,555.23 627.00,555.35 630.40,555.46 635.17,555.58 638.51,555.70 643.13,555.82 643.52,555.94 644.83,556.06 643.52,556.17 640.46,556.29 641.92,556.41 642.58,556.53 643.97,556.65 644.15,556.77 641.58,556.88 640.02,557.00 644.66,557.12 641.23,557.24 640.88,557.36 640.03,557.48 638.84,557.59 635.56,557.71 641.05,557.83 633.29,557.95 643.48,558.07 644.88,558.19 641.43,558.30 644.10,558.42 635.78,558.54 636.13,558.66 640.94,558.78 639.37,558.90 643.07,559.01 634.35,559.13 641.37,559.25 637.34,559.37 638.39,559.49 637.10,559.61 638.01,559.72 640.48,559.84 642.94,559.96 636.46,560.08 639.77,560.20 636.03,560.31 639.40,560.43 636.87,560.55 644.30,560.67 635.82,560.79 636.54,560.91 643.20,561.02 640.37,561.14 637.62,561.26 635.00,561.38 643.51,561.50 634.84,561.62 643.88,561.73 646.48,561.85 643.13,561.97 637.03,562.09 639.60,562.21 634.23,562.33 636.87,562.44 637.16,562.56 637.03,562.68 640.66,562.80 641.86,562.92 641.82,563.04 633.68,563.15 649.89,563.27 636.74,563.39 641.62,563.51 640.00,563.63 641.13,563.75 641.79,563.86 633.35,563.98 636.41,564.10 641.11,564.22 635.61,564.34 637.87,564.46 637.43,564.57 636.01,564.69 640.43,564.81 635.69,564.93 637.92,565.05 643.68,565.17 638.66,565.28 646.64,565.40 633.68,565.52 643.90,565.64 636.62,565.76 638.00,565.87 639.64,565.99 635.58,566.11 641.64,566.23 636.16,566.35 641.44,566.47 638.13,566.58 629.31,566.70 638.55,566.82 637.89,566.94 640.60,567.06 637.57,567.18 640.54,567.29 632.79,567.41 640.01,567.53 638.24,567.65 642.53,567.77 638.60,567.89 631.65,568.00 645.84,568.12 642.49,568.24 636.15,568.36 640.49,568.48 633.80,568.60 636.17,568.71 637.90,568.83 639.27,568.95 629.28,569.07 637.76,569.19 640.46,569.31 641.41,569.42 638.76,569.54 637.74,569.66 638.35,569.78 637.24,569.90 635.14,570.02 638.70,570.13 642.56,570.25 635.89,570.37 643.27,570.49 644.65,570.61 636.33,570.73 635.76,570.84 641.35,570.96 640.74,571.08 643.43,571.20 637.98,571.32 644.18,571.43 636.45,571.55 640.05,571.67 640.23,571.79 638.70,571.91 633.18,572.03 639.47,572.14 641.59,572.26 639.72,572.38 640.33,572.50 645.56,572.62 638.46,572.74 642.29,572.85 635.69,572.97 637.77,573.09 633.74,573.21 643.65,573.33 637.04,573.45 635.19,573.56 641.12,573.68 634.63,573.80 636.03,573.92 638.39,574.04 639.40,574.16 642.19,574.27 636.10,574.39 638.19,574.51 639.73,574.63 636.78,574.75 637.19,574.87 645.47,574.98 640.49,575.10 640.27,575.22 645.21,575.34 640.88,575.46 643.38,575.58 637.65,575.69 643.02,575.81 641.62,575.93 633.97,576.05 642.46,576.17 645.34,576.29 637.30,576.40 638.91,576.52 643.83,576.64 633.38,576.76 639.39,576.88 635.31,576.99 637.61,577.11 639.90,577.23 642.78,577.35 635.37,577.47 638.54,577.59 634.05,577.70 639.25,577.82 643.82,577.94 637.14,578.06 638.71,578.18 641.59,578.30 644.48,578.41 643.44,578.53 640.70,578.65 628.99,578.77 637.16,578.89 641.53,579.01 637.59,579.12 637.45,579.24 639.76,579.36 644.85,579.48 643.47,579.60 639.35,579.72 634.75,579.83 634.81,579.95 642.28,580.07 643.42,580.19 636.25,580.31 637.78,580.43 632.25,580.54 634.44,580.66 639.55,580.78 638.92,580.90 644.02,581.02 638.49,581.14 633.58,581.25 637.43,581.37 635.58,581.49 637.73,581.61 640.74,581.73 637.04,581.85 640.45,581.96 633.78,582.08 642.28,582.20 635.30,582.32 641.82,582.44 640.03,582.56 634.00,582.67 634.31,582.79 637.10,582.91 636.43,583.03 635.29,583.15 636.57,583.26 634.05,583.38 634.16,583.50 636.76,583.62 641.61,583.74 637.58,583.86 643.35,583.97 639.37,584.09 635.66,584.21 639.83,584.33 633.28,584.45 634.04,584.57 632.52,584.68 643.51,584.80 642.43,584.92 638.06,585.04 641.64,585.16 635.20,585.28 638.68,585.39 642.91,585.51 644.61,585.63 642.37,585.75 637.26,585.87 634.40,585.99 633.96,586.10 632.46,586.22 641.39,586.34 640.66,586.46 642.83,586.58 637.89,586.70 646.67,586.81 643.77,586.93 634.42,587.05 640.59,587.17 641.68,587.29 637.07,587.41 636.77,587.52 633.33,587.64 638.13,587.76 637.95,587.88 635.98,588.00 639.52,588.12 633.31,588.23 645.38,588.35 634.13,588.47 638.76,588.59 637.51,588.71 646.40,588.82 642.46,588.94 643.55,589.06 636.35,589.18 644.50,589.30 633.46,589.42 632.43,589.53 641.11,589.65 642.45,589.77 635.52,589.89 642.97,590.01 645.21,590.13 636.93,590.24 636.33,590.36 640.73,590.48 638.33,590.60 637.04,590.72 645.31,590.84 637.03,590.95 639.81,591.07 640.09,591.19 640.31,591.31 638.38,591.43 634.56,591.55 638.26,591.66 636.68,591.78 638.62,591.90 641.29,592.02 640.43,592.14 645.50,592.26 641.31,592.37 643.87,592.49 641.30,592.61 636.04,592.73 638.31,592.85 637.27,592.97 642.41,593.08 634.48,593.20 639.61,593.32 640.91,593.44 642.77,593.56 637.62,593.68 643.09,593.79 643.63,593.91 636.14,594.03 644.82,594.15 641.65,594.27 638.61,594.38 638.92,594.50 644.03,594.62 641.68,594.74 639.41,594.86 644.39,594.98 634.67,595.09 638.86,595.21 639.55,595.33 640.05,595.45 637.18,595.57 642.74,595.69 637.34,595.80 642.12,595.92 642.18,596.04 633.90,596.16 638.87,596.28 633.51,596.40 646.89,596.51 631.37,596.63 640.16,596.75 634.30,596.87 629.41,596.99 636.80,597.11 647.88,597.22 640.06,597.34 642.35,597.46 637.35,597.58 643.99,597.70 636.84,597.82 642.62,597.93 637.24,598.05 635.79,598.17 637.80,598.29 646.28,598.41 638.59,598.53 638.45,598.64 643.21,598.76 639.71,598.88 632.31,599.00 644.72,599.12 646.22,599.24 639.64,599.35 641.99,599.47 634.41,599.59 639.07,599.71 631.03,599.83 643.03,599.94 636.71,600.06 640.15,600.18 637.24,600.30 634.64,600.42 645.36,600.54 642.06,600.65 639.94,600.77 639.91,600.89 636.77,601.01 635.45,601.13 640.67,601.25 635.87,601.36 643.54,601.48 635.78,601.60 635.39,601.72 635.11,601.84 642.17,601.96 642.96,602.07 641.01,602.19 642.26,602.31 639.97,602.43 635.73,602.55 635.40,602.67 637.76,602.78 635.95,602.90 644.18,603.02 636.22,603.14 641.09,603.26 638.30,603.38 635.33,603.49 640.63,603.61 636.04,603.73 642.50,603.85 637.25,603.97 636.34,604.09 644.85,604.20 640.61,604.32 642.57,604.44 638.90,604.56 639.69,604.68 637.29,604.80 635.79,604.91 645.03,605.03 635.47,605.15 636.37,605.27 642.37,605.39 641.67,605.51 634.32,605.62 633.36,605.74 637.06,605.86 639.63,605.98 643.45,606.10 642.52,606.21 637.38,606.33 644.12,606.45 642.56,606.57 644.73,606.69 643.91,606.81 646.61,606.92 645.72,607.04 647.56,607.16 643.83,607.28 642.53,607.40 636.74,607.52 636.16,607.63 631.61,607.75 631.31,607.87 625.14,607.99 623.68,608.11 621.39,608.23 617.17,608.34 615.13,608.46 613.28,608.58 611.25,608.70 610.79,608.82 611.26,608.94 612.67,609.05 610.36,609.17 613.45,609.29 610.69,609.41 611.11,609.53 611.64,609.65 611.29,609.76 610.53,609.88 612.99,610.00 610.15,610.12 611.32,610.24 611.25,610.36 611.35,610.47 611.25,610.59 613.37,610.71 610.94,610.83 611.32,610.95 611.61,611.07 611.63,611.18 610.14,611.30 611.03,611.42 611.68,611.54 612.81,611.66 615.03,611.77 610.64,611.89 612.56,612.01 612.89,612.13 613.62,612.25 612.87,612.37 612.55,612.48 611.66,612.60 613.51,612.72 610.58,612.84 611.03,612.96 609.36,613.08 610.75,613.19 612.62,613.31 611.10,613.43 611.41,613.55 611.06,613.67 612.08,613.79 611.84,613.90 610.91,614.02 609.30,614.14 612.11,614.26 612.68,614.38 611.69,614.50 609.30,614.61 614.60,614.73 613.80,614.85 611.72,614.97 612.05,615.09 611.61,615.21 611.93,615.32 611.64,615.44 613.13,615.56 611.25,615.68 612.43,615.80 610.09,615.92 611.93,616.03 612.23,616.15 610.46,616.27 612.04,616.39 610.98,616.51 611.88,616.63 612.34,616.74 611.30,616.86 612.21,616.98 609.30,617.10 611.34,617.22 610.61,617.33 609.30,617.45 611.07,617.57 611.32,617.69 611.80,617.81 613.68,617.93 611.39,618.04 610.31,618.16 609.88,618.28 611.50,618.40 610.72,618.52 611.79,618.64 612.60,618.75 610.86,618.87 613.41,618.99 611.02,619.11 612.00,619.23 612.23,619.35 612.52,619.46 614.20,619.58 611.27,619.70 613.20,619.82 610.67,619.94 612.76,620.06 613.09,620.17 612.16,620.29 610.91,620.41 610.61,620.53 613.91,620.65 612.49,620.77 610.84,620.88 611.81,621.00 611.66,621.12 611.78,621.24 612.01,621.36 610.72,621.48 613.27,621.59 611.72,621.71 611.62,621.83 610.22,621.95 611.15,622.07 610.91,622.19 611.49,622.30 610.98,622.42 611.92,622.54 611.48,622.66 611.11,622.78 612.18,622.89 612.21,623.01 614.63,623.13 610.61,623.25 612.45,623.37 611.84,623.49 612.06,623.60 609.30,623.72 609.30,623.84 611.23,623.96 613.48,624.08 612.15,624.20 611.02,624.31 611.47,624.43 611.98,624.55 609.95,624.67 612.30,624.79 610.22,624.91 610.83,625.02 611.50,625.14 610.76,625.26 613.67,625.38 611.64,625.50 610.77,625.62 611.94,625.73 612.18,625.85 610.41,625.97 612.17,626.09 611.50,626.21 609.78,626.33 610.75,626.44 612.01,626.56 610.04,626.68 611.36,626.80 612.03,626.92 611.54,627.04 609.30,627.15 612.58,627.27 610.84,627.39 612.06,627.51 611.22,627.63 610.02,627.75 610.92,627.86 609.42,627.98 610.81,628.10 612.70,628.22 610.61,628.34 612.41,628.45 610.28,628.57 611.02,628.69 611.92,628.81 611.43,628.93 612.54,629.05 610.41,629.16 613.02,629.28 610.00,629.40 610.77,629.52 610.77,629.64 610.64,629.76 610.30,629.87 610.97,629.99 611.58,630.11 609.38,630.23 609.34,630.35 611.99,630.47 611.20,630.58 610.54,630.70 612.34,630.82 612.19,630.94 612.46,631.06 610.11,631.18 610.80,631.29 613.30,631.41 611.60,631.53 611.30,631.65 611.65,631.77 610.44,631.89 609.30,632.00 610.74,632.12 610.82,632.24 611.95,632.36 612.14,632.48 612.06,632.60 610.29,632.71 609.30,632.83 611.26,632.95 611.53,633.07 610.06,633.19 611.52,633.31 611.22,633.42 610.47,633.54 610.98,633.66 611.08,633.78 609.85,633.90 610.14,634.02 609.62,634.13 610.49,634.25 611.64,634.37 610.75,634.49 609.68,634.61 610.90,634.72 611.09,634.84 611.75,634.96 611.71,635.08 610.85,635.20 609.30,635.32 610.56,635.43 612.44,635.55 609.72,635.67 611.03,635.79 610.37,635.91 610.72,636.03 612.17,636.14 610.98,636.26 611.62,636.38 611.52,636.50 610.30,636.62 611.48,636.74 610.26,636.85 611.30,636.97 611.43,637.09 611.06,637.21 610.48,637.33 610.09,637.45 611.41,637.56 610.93,637.68 611.73,637.80 612.29,637.92 610.29,638.04 612.59,638.16 610.58,638.27 611.89,638.39 610.92,638.51 611.60,638.63 610.20,638.75 611.32,638.87 612.80,638.98 609.87,639.10 611.05,639.22 610.71,639.34 610.78,639.46 611.55,639.58 611.13,639.69 611.38,639.81 610.60,639.93 610.83,640.05 613.12,640.17 609.69,640.28 609.85,640.40 611.21,640.52 610.93,640.64 609.90,640.76 610.76,640.88 610.66,640.99 611.47,641.11 611.27,641.23 611.70,641.35 610.68,641.47 610.45,641.59 610.63,641.70 611.71,641.82 610.97,641.94 610.11,642.06 610.94,642.18 610.79,642.30 610.91,642.41 611.38,642.53 610.30,642.65 610.46,642.77 610.81,642.89 610.86,643.01 611.16,643.12 610.44,643.24 610.69,643.36 609.81,643.48 611.25,643.60 610.52,643.72 611.16,643.83 611.00,643.95 609.40,644.07 611.66,644.19 610.61,644.31 610.89,644.43 609.96,644.54 611.44,644.66 610.64,644.78 611.15,644.90 611.21,645.02 610.75,645.14 609.99,645.25 610.30,645.37 611.28,645.49 610.62,645.61 610.18,645.73 610.87,645.84 610.62,645.96 610.94,646.08 612.33,646.20 610.57,646.32 612.10,646.44 611.64,646.55 610.52,646.67 612.12,646.79 611.11,646.91 611.15,647.03 610.25,647.15 611.43,647.26 610.74,647.38 610.53,647.50 609.97,647.62 610.71,647.74 611.39,647.86 611.66,647.97 613.05,648.09 610.93,648.21 609.78,648.33 609.93,648.45 611.68,648.57 611.21,648.68 610.91,648.80 610.58,648.92 609.86,649.04 609.30,649.16 610.34,649.28 610.31,649.39 611.16,649.51 609.72,649.63 611.13,649.75 609.98,649.87 609.73,649.99 609.73,650.10 609.90,650.22 610.78,650.34 611.40,650.46 611.00,650.58 610.97,650.70 611.36,650.81 610.63,650.93 611.23,651.05 610.80,651.17 609.43,651.29 610.65,651.40 610.01,651.52 609.84,651.64 610.52,651.76 609.52,651.88 610.78,652.00 610.62,652.11 609.30,652.23 610.96,652.35 610.57,652.47 610.58,652.59 609.51,652.71 610.38,652.82 610.31,652.94 610.94,653.06 610.76,653.18 610.91,653.30 609.91,653.42 611.94,653.53 611.50,653.65 610.53,653.77 610.94,653.89 609.30,654.01 609.61,654.13 610.75,654.24 609.70,654.36 610.47,654.48 611.47,654.60 609.97,654.72 610.86,654.84 610.57,654.95 610.22,655.07 610.87,655.19 610.20,655.31 610.33,655.43 611.84,655.55 610.47,655.66 611.52,655.78 609.64,655.90 611.43,656.02 610.52,656.14 610.46,656.26 610.56,656.37 610.62,656.49 610.46,656.61 610.37,656.73 611.62,656.85 610.81,656.96 609.30,657.08 610.23,657.20 610.63,657.32 611.38,657.44 611.33,657.56 610.88,657.67 610.45,657.79 611.42,657.91 611.44,658.03 612.05,658.15 611.04,658.27 610.88,658.38 609.79,658.50 610.99,658.62 610.59,658.74 610.97,658.86 610.62,658.98 610.05,659.09 610.34,659.21 609.98,659.33 609.81,659.45 610.67,659.57 610.42,659.69 610.53,659.80 611.30,659.92 610.85,660.04 610.54,660.16 611.12,660.28 610.91,660.40 610.63,660.51 610.65,660.63 610.78,660.75 609.30,660.87 610.49,660.99 611.67,661.11 610.78,661.22 611.44,661.34 610.72,661.46 609.88,661.58 611.12,661.70 610.93,661.82 609.65,661.93 610.38,662.05 610.35,662.17 610.62,662.29 611.26,662.41 609.51,662.53 611.64,662.64 610.98,662.76 610.55,662.88 611.41,663.00 609.67,663.12 610.23,663.23 610.57,663.35 610.34,663.47 610.49,663.59 612.19,663.71 610.89,663.83 610.60,663.94 610.74,664.06 610.51,664.18 610.69,664.30 610.25,664.42 610.26,664.54 610.94,664.65 611.15,664.77 609.94,664.89 610.70,665.01 610.17,665.13 610.29,665.25 609.30,665.36 610.71,665.48 611.00,665.60 610.96,665.72 611.78,665.84 611.42,665.96 611.74,666.07 611.76,666.19 610.46,666.31 611.21,666.43 610.12,666.55 611.22,666.67 610.03,666.78 609.30,666.90 611.31,667.02 610.19,667.14 610.71,667.26 610.98,667.38 610.99,667.49 610.59,667.61 611.44,667.73 609.80,667.85 609.53,667.97 611.16,668.09 610.17,668.20 610.69,668.32 610.94,668.44 610.51,668.56 610.59,668.68 610.27,668.79 610.60,668.91 610.24,669.03 610.02,669.15 611.32,669.27 611.56,669.39 611.29,669.50 610.25,669.62 611.01,669.74 610.75,669.86 610.26,669.98 610.55,670.10 610.36,670.21 611.28,670.33 611.06,670.45 610.46,670.57 610.03,670.69 611.16,670.81 610.80,670.92 610.41,671.04 611.28,671.16 610.90,671.28 610.66,671.40 610.47,671.52 611.47,671.63 610.05,671.75 609.90,671.87 610.25,671.99 610.98,672.11 610.17,672.23 610.47,672.34 610.37,672.46 610.02,672.58 610.79,672.70 609.94,672.82 610.27,672.94 610.59,673.05 609.65,673.17 610.64,673.29 610.80,673.41 610.52,673.53 609.64,673.65 610.95,673.76 610.02,673.88 610.99,674.00" stroke="#1878c8" stroke-width="1.1" fill="none" stroke-linejoin="round"/>
<rect x="516.7" y="661.5" width="44.99999999999998" height="11.799999999999999" fill="#fff" stroke="#f01818" stroke-width="1.4"/>
<text x="518.06" y="671.10" font-size="10.87" font-weight="bold" fill="#f01818" textLength="40.81" lengthAdjust="spacingAndGlyphs" >Uniform</text>
<rect x="563.1" y="661.5" width="44.80000000000005" height="11.799999999999999" fill="#fff" stroke="#28d23a" stroke-width="1.4"/>
<text x="564.46" y="671.10" font-size="10.87" font-weight="bold" fill="#28d23a" textLength="40.60" lengthAdjust="spacingAndGlyphs" >Uniform</text>
<path d="M516,560.22 h3 M559.4,560.22 h6 M605.6,560.22 h6 M654.8,560.22 h-3 M516,611.94 h3 M559.4,611.94 h6 M605.6,611.94 h6 M654.8,611.94 h-3 M516,663.66 h3 M559.4,663.66 h6 M605.6,663.66 h6 M654.8,663.66 h-3 M516,534.36 h1.8 M560.6,534.36 h3.6 M606.8000000000001,534.36 h3.6 M654.8,534.36 h-1.8 M516,586.08 h1.8 M560.6,586.08 h3.6 M606.8000000000001,586.08 h3.6 M654.8,586.08 h-1.8 M516,637.80 h1.8 M560.6,637.80 h3.6 M606.8000000000001,637.80 h3.6 M654.8,637.80 h-1.8" stroke="#000" stroke-width="1.1" fill="none"/>
<rect x="516" y="508.5" width="138.79999999999995" height="165.5" fill="none" stroke="#000" stroke-width="1.6"/>
<path d="M562.4,508.5 V674 M608.6,508.5 V674" stroke="#000" stroke-width="1.3"/>
<text x="657" y="512.00" font-size="10" font-weight="bold">0</text>
<text x="657" y="563.72" font-size="10" font-weight="bold">0.5</text>
<text x="657" y="615.44" font-size="10" font-weight="bold">1</text>
<text x="657" y="667.16" font-size="10" font-weight="bold">1.5</text>
<text x="553.15" y="523.00" font-size="12.17" font-weight="bold" fill="#000" textLength="4.96" lengthAdjust="spacingAndGlyphs" >I</text>
<text x="589.98" y="523.00" font-size="12.17" font-weight="bold" fill="#000" textLength="13.06" lengthAdjust="spacingAndGlyphs" >Br</text>
<text x="633.70" y="523.00" font-size="12.17" font-weight="bold" fill="#000" textLength="16.49" lengthAdjust="spacingAndGlyphs" >Pb</text>
<text transform="translate(675.6,590.80) rotate(90)" font-size="12.3" font-weight="bold" text-anchor="middle" textLength="78.7" lengthAdjust="spacingAndGlyphs">Distance (µm)</text>
<text x="540.35" y="689.30" font-size="12.17" font-weight="bold" fill="#000" textLength="82.05" lengthAdjust="spacingAndGlyphs" >Intensity (a.u.)</text>
<text x="316.71" y="488.40" font-size="19.03" font-weight="bold" fill="#000" textLength="21.75" lengthAdjust="spacingAndGlyphs" >(f)</text>
<text x="458.70" y="493.10" font-size="15.20" font-weight="bold" fill="#000" textLength="134.06" lengthAdjust="spacingAndGlyphs" >Reverse Bias (<tspan fill="#0f78d0">Ag</tspan>)</text>
</svg></body></html>
